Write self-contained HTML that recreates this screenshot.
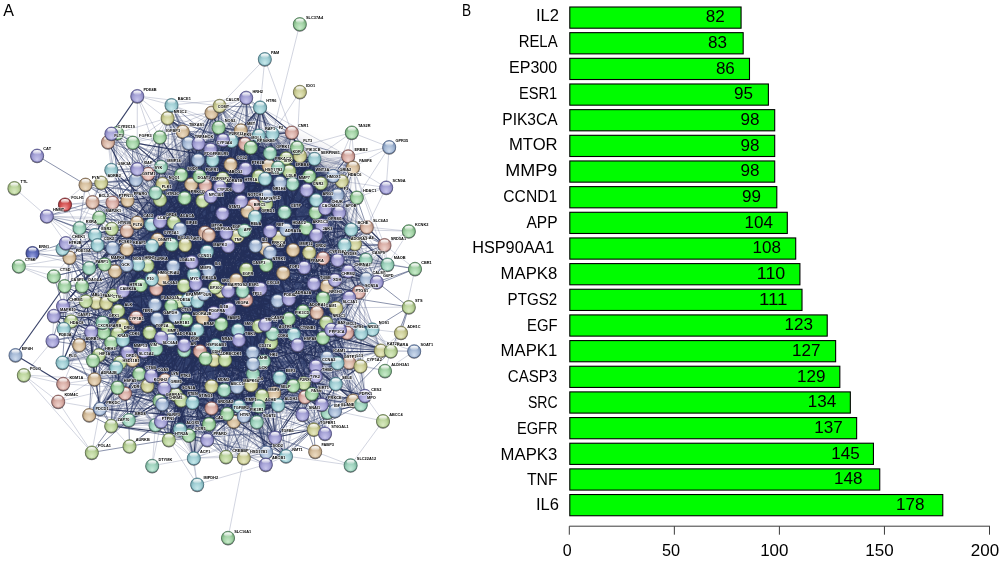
<!DOCTYPE html>
<html lang="en"><head><meta charset="utf-8"><title>PPI network and hub genes</title>
<style>
html,body{margin:0;padding:0;background:#fff;}
body{width:1000px;height:562px;overflow:hidden;font-family:"Liberation Sans",Arial,sans-serif;}
svg{display:block;will-change:transform;}
.lb{font-size:3.9px;font-weight:bold;fill:#000;stroke:#fff;stroke-width:1.25px;stroke-opacity:.72;paint-order:stroke;stroke-linejoin:round;}
.cat{font-size:17.4px;fill:#000;text-anchor:end;}
.val{font-size:17.1px;fill:#000;text-anchor:end;}
.tick{font-size:16.2px;fill:#000;text-anchor:middle;}
.panel{font-size:17.2px;fill:#000;}
</style></head><body>
<svg width="1000" height="562" viewBox="0 0 1000 562" font-family="'Liberation Sans', Arial, sans-serif">
<defs>
<radialGradient id="gp" cx="50%" cy="56%" r="58%" fx="50%" fy="82%"><stop offset="0" stop-color="#c8c6ec"/><stop offset=".55" stop-color="#a5a2d6"/><stop offset=".9" stop-color="#7d7bb6"/><stop offset="1" stop-color="#6361a0"/></radialGradient>
<radialGradient id="gb" cx="50%" cy="56%" r="58%" fx="50%" fy="82%"><stop offset="0" stop-color="#d0ddee"/><stop offset=".55" stop-color="#a6bad6"/><stop offset=".9" stop-color="#7c93b6"/><stop offset="1" stop-color="#6079a0"/></radialGradient>
<radialGradient id="gc" cx="50%" cy="56%" r="58%" fx="50%" fy="82%"><stop offset="0" stop-color="#c8e9ec"/><stop offset=".55" stop-color="#a0ced4"/><stop offset=".9" stop-color="#74a9b1"/><stop offset="1" stop-color="#569199"/></radialGradient>
<radialGradient id="gg" cx="50%" cy="56%" r="58%" fx="50%" fy="82%"><stop offset="0" stop-color="#cbeccd"/><stop offset=".55" stop-color="#a3d3a6"/><stop offset=".9" stop-color="#76ac7a"/><stop offset="1" stop-color="#58925d"/></radialGradient>
<radialGradient id="gG" cx="50%" cy="56%" r="58%" fx="50%" fy="82%"><stop offset="0" stop-color="#c6ebdb"/><stop offset=".55" stop-color="#9ed2bd"/><stop offset=".9" stop-color="#72ab94"/><stop offset="1" stop-color="#559178"/></radialGradient>
<radialGradient id="gl" cx="50%" cy="56%" r="58%" fx="50%" fy="82%"><stop offset="0" stop-color="#dbebc4"/><stop offset=".55" stop-color="#bcd59d"/><stop offset=".9" stop-color="#94ad71"/><stop offset="1" stop-color="#799354"/></radialGradient>
<radialGradient id="go" cx="50%" cy="56%" r="58%" fx="50%" fy="82%"><stop offset="0" stop-color="#e8eac4"/><stop offset=".55" stop-color="#cdcf98"/><stop offset=".9" stop-color="#a8a970"/><stop offset="1" stop-color="#8f9056"/></radialGradient>
<radialGradient id="gt" cx="50%" cy="56%" r="58%" fx="50%" fy="82%"><stop offset="0" stop-color="#edddc4"/><stop offset=".55" stop-color="#d6bf9e"/><stop offset=".9" stop-color="#af9673"/><stop offset="1" stop-color="#957b56"/></radialGradient>
<radialGradient id="gr" cx="50%" cy="56%" r="58%" fx="50%" fy="82%"><stop offset="0" stop-color="#efd5cf"/><stop offset=".55" stop-color="#d9aea6"/><stop offset=".9" stop-color="#b5857d"/><stop offset="1" stop-color="#9d6961"/></radialGradient>
<radialGradient id="gs" cx="50%" cy="56%" r="58%" fx="50%" fy="82%"><stop offset="0" stop-color="#efdacf"/><stop offset=".55" stop-color="#d9b7a6"/><stop offset=".9" stop-color="#b48c7b"/><stop offset="1" stop-color="#9b705f"/></radialGradient>
<radialGradient id="gR" cx="50%" cy="56%" r="58%" fx="50%" fy="82%"><stop offset="0" stop-color="#ec9a9a"/><stop offset=".55" stop-color="#d55252"/><stop offset=".9" stop-color="#a93a3a"/><stop offset="1" stop-color="#8c2a2a"/></radialGradient>
<radialGradient id="gD" cx="50%" cy="56%" r="58%" fx="50%" fy="82%"><stop offset="0" stop-color="#9fa9e2"/><stop offset=".55" stop-color="#5c6aba"/><stop offset=".9" stop-color="#445097"/><stop offset="1" stop-color="#343e80"/></radialGradient>
<radialGradient id="core" cx="50%" cy="50%" r="50%"><stop offset="0" stop-color="#1e2a50" stop-opacity="1"/><stop offset=".74" stop-color="#1e2a50" stop-opacity=".97"/><stop offset=".88" stop-color="#1e2a50" stop-opacity=".5"/><stop offset="1" stop-color="#1e2a50" stop-opacity="0"/></radialGradient>
<filter id="blur" x="-20%" y="-20%" width="140%" height="140%"><feGaussianBlur stdDeviation="3.5"/></filter>
<filter id="blur2" x="-20%" y="-20%" width="140%" height="140%"><feGaussianBlur stdDeviation="7"/></filter>
<linearGradient id="hl" x1="0" y1="0" x2="0" y2="1"><stop offset="0" stop-color="#fff" stop-opacity="1"/><stop offset=".45" stop-color="#fff" stop-opacity=".7"/><stop offset="1" stop-color="#fff" stop-opacity="0"/></linearGradient>
<g id="np"><circle cx="0" cy=".9" r="6.75" fill="#33333a" fill-opacity=".7"/><circle r="6.55" fill="url(#gp)" stroke="#4a4980" stroke-width=".7"/><ellipse cx="0" cy="-3.2" rx="4.0" ry="2.3" fill="url(#hl)"/></g>
<g id="nb"><circle cx="0" cy=".9" r="6.75" fill="#33333a" fill-opacity=".7"/><circle r="6.55" fill="url(#gb)" stroke="#485b80" stroke-width=".7"/><ellipse cx="0" cy="-3.2" rx="4.0" ry="2.3" fill="url(#hl)"/></g>
<g id="nc"><circle cx="0" cy=".9" r="6.75" fill="#33333a" fill-opacity=".7"/><circle r="6.55" fill="url(#gc)" stroke="#406d7b" stroke-width=".7"/><ellipse cx="0" cy="-3.2" rx="4.0" ry="2.3" fill="url(#hl)"/></g>
<g id="ng"><circle cx="0" cy=".9" r="6.75" fill="#33333a" fill-opacity=".7"/><circle r="6.55" fill="url(#gg)" stroke="#426e4e" stroke-width=".7"/><ellipse cx="0" cy="-3.2" rx="4.0" ry="2.3" fill="url(#hl)"/></g>
<g id="nG"><circle cx="0" cy=".9" r="6.75" fill="#33333a" fill-opacity=".7"/><circle r="6.55" fill="url(#gG)" stroke="#406d62" stroke-width=".7"/><ellipse cx="0" cy="-3.2" rx="4.0" ry="2.3" fill="url(#hl)"/></g>
<g id="nl"><circle cx="0" cy=".9" r="6.75" fill="#33333a" fill-opacity=".7"/><circle r="6.55" fill="url(#gl)" stroke="#5b6e47" stroke-width=".7"/><ellipse cx="0" cy="-3.2" rx="4.0" ry="2.3" fill="url(#hl)"/></g>
<g id="no"><circle cx="0" cy=".9" r="6.75" fill="#33333a" fill-opacity=".7"/><circle r="6.55" fill="url(#go)" stroke="#6b6c48" stroke-width=".7"/><ellipse cx="0" cy="-3.2" rx="4.0" ry="2.3" fill="url(#hl)"/></g>
<g id="nt"><circle cx="0" cy=".9" r="6.75" fill="#33333a" fill-opacity=".7"/><circle r="6.55" fill="url(#gt)" stroke="#705c48" stroke-width=".7"/><ellipse cx="0" cy="-3.2" rx="4.0" ry="2.3" fill="url(#hl)"/></g>
<g id="nr"><circle cx="0" cy=".9" r="6.75" fill="#33333a" fill-opacity=".7"/><circle r="6.55" fill="url(#gr)" stroke="#764f51" stroke-width=".7"/><ellipse cx="0" cy="-3.2" rx="4.0" ry="2.3" fill="url(#hl)"/></g>
<g id="ns"><circle cx="0" cy=".9" r="6.75" fill="#33333a" fill-opacity=".7"/><circle r="6.55" fill="url(#gs)" stroke="#74544f" stroke-width=".7"/><ellipse cx="0" cy="-3.2" rx="4.0" ry="2.3" fill="url(#hl)"/></g>
<g id="nR"><circle cx="0" cy=".9" r="6.75" fill="#33333a" fill-opacity=".7"/><circle r="6.55" fill="url(#gR)" stroke="#692028" stroke-width=".7"/><ellipse cx="0" cy="-3.2" rx="4.0" ry="2.3" fill="url(#hl)"/></g>
<g id="nD"><circle cx="0" cy=".9" r="6.75" fill="#33333a" fill-opacity=".7"/><circle r="6.55" fill="url(#gD)" stroke="#272e68" stroke-width=".7"/><ellipse cx="0" cy="-3.2" rx="4.0" ry="2.3" fill="url(#hl)"/></g>
</defs>
<rect width="1000" height="562" fill="#fff"/>
<g id="panelA">
<path d="M190.0 140.0C203.7 135.7 231.7 131.7 250.0 132.0C268.3 132.3 285.8 137.3 300.0 142.0C314.2 146.7 327.5 152.0 335.0 160.0C342.5 168.0 343.3 177.5 345.0 190.0C346.7 202.5 346.7 220.8 345.0 235.0C343.3 249.2 337.5 262.5 335.0 275.0C332.5 287.5 332.2 298.3 330.0 310.0C327.8 321.7 326.2 334.2 322.0 345.0C317.8 355.8 312.8 366.7 305.0 375.0C297.2 383.3 286.7 391.5 275.0 395.0C263.3 398.5 249.2 396.0 235.0 396.0C220.8 396.0 204.2 396.7 190.0 395.0C175.8 393.3 160.8 390.5 150.0 386.0C139.2 381.5 132.0 375.7 125.0 368.0C118.0 360.3 111.5 351.3 108.0 340.0C104.5 328.7 102.3 312.0 104.0 300.0C105.7 288.0 113.3 278.0 118.0 268.0C122.7 258.0 129.2 250.5 132.0 240.0C134.8 229.5 132.0 215.0 135.0 205.0C138.0 195.0 144.5 187.8 150.0 180.0C155.5 172.2 161.3 164.7 168.0 158.0C174.7 151.3 176.3 144.3 190.0 140.0Z" fill="#1e2a50" fill-opacity=".18" filter="url(#blur2)"/>
<path d="M200.0 150.0C210.5 146.3 230.0 144.7 245.0 145.0C260.0 145.3 277.5 148.5 290.0 152.0C302.5 155.5 313.7 160.5 320.0 166.0C326.3 171.5 326.8 174.0 328.0 185.0C329.2 196.0 331.3 222.3 327.0 232.0C322.7 241.7 308.0 238.3 302.0 243.0C296.0 247.7 293.8 253.0 291.0 260.0C288.2 267.0 287.8 277.5 285.0 285.0C282.2 292.5 277.3 297.5 274.0 305.0C270.7 312.5 267.7 322.5 265.0 330.0C262.3 337.5 262.2 344.0 258.0 350.0C253.8 356.0 247.2 362.3 240.0 366.0C232.8 369.7 225.0 371.3 215.0 372.0C205.0 372.7 190.8 371.7 180.0 370.0C169.2 368.3 158.0 366.3 150.0 362.0C142.0 357.7 137.0 351.0 132.0 344.0C127.0 337.0 122.5 328.2 120.0 320.0C117.5 311.8 115.3 302.5 117.0 295.0C118.7 287.5 125.7 282.5 130.0 275.0C134.3 267.5 140.3 260.3 143.0 250.0C145.7 239.7 142.7 221.3 146.0 213.0C149.3 204.7 158.7 204.7 163.0 200.0C167.3 195.3 168.8 190.5 172.0 185.0C175.2 179.5 177.3 172.8 182.0 167.0C186.7 161.2 189.5 153.7 200.0 150.0Z" fill="#1e2a50" filter="url(#blur)"/>
<path d="M258.8 406.2L237.0 387.0M211.5 386.2L252.5 352.5M213.8 312.7L165.0 380.0M181.1 174.8L266.8 195.5M213.8 312.7L193.8 274.5M149.5 332.5L175.0 316.2M260.5 288.8L151.8 279.2M288.8 299.2L225.0 360.0M278.2 405.0L173.8 222.5M181.1 174.8L202.5 200.9M221.2 291.2L253.0 363.8M351.2 229.5L286.2 229.5M229.2 309.0L297.5 345.0M278.0 167.5L205.0 232.5M208.8 235.0L197.3 301.5M337.5 260.0L221.2 291.2M246.2 300.0L340.0 330.0M306.2 228.2L173.8 222.5M266.2 265.0L195.8 283.8M151.2 224.5L202.5 317.5M222.7 178.4L191.8 262.0M210.5 149.4L135.8 179.7M215.2 287.2L253.0 363.8M279.5 377.5L192.5 402.5M143.8 351.2L151.2 375.8M344.5 245.0L270.0 252.5M151.8 279.2L155.5 425.0M226.2 232.8L208.8 270.6M353.0 167.5L283.2 273.0M135.8 179.7L184.6 198.0M198.6 143.5L266.2 265.0M277.5 300.8L179.8 301.2M162.5 183.8L183.8 285.6M222.5 213.5L222.7 178.4M266.2 203.8L260.5 288.8M335.0 280.0L221.2 324.0M171.2 305.8L175.0 316.2M85.8 301.2L102.5 322.5M293.8 334.4L237.0 387.0M136.2 317.5L202.5 317.5M309.2 252.5L297.5 345.0M238.8 340.0L181.2 400.4M230.6 164.4L226.2 232.8M246.2 300.0L293.2 385.8M266.2 265.0L186.2 320.0M306.2 228.2L215.2 287.2M280.0 182.5L283.2 273.0M168.8 439.8L155.0 304.5M284.5 212.3L270.0 252.5M293.2 385.8L266.2 452.2M265.5 248.8L266.2 265.0M221.2 324.0L215.5 345.0M213.8 312.7L164.2 388.2M117.3 133.0L205.0 232.5M213.9 360.0L120.0 362.5M252.5 352.5L192.5 402.5M151.8 279.2L123.0 340.0M183.8 285.6L149.5 332.5M230.6 164.4L195.8 283.8M207.0 251.5L171.2 305.8M222.5 213.5L303.0 311.2M222.7 178.4L79.5 228.0M286.0 456.0L243.8 457.8M228.2 246.0L191.8 262.0M247.5 211.3L278.8 237.5M246.2 300.0L180.0 229.0M266.2 265.0L239.0 406.2M258.8 176.2L126.8 249.2M215.5 345.0L192.5 402.5M139.2 373.8L159.5 400.8M123.0 340.0L165.0 380.0M218.6 127.5L140.8 285.2M156.2 348.8L159.5 400.8M340.0 330.0L243.8 416.0M335.0 280.0L117.5 333.8M270.0 252.5L252.5 352.5M305.0 397.0L197.3 301.5M316.8 312.5L271.2 342.5M202.5 200.9L151.8 279.2M230.6 164.4L278.0 167.5M228.2 246.0L157.5 239.5M270.0 153.0L222.7 178.4M277.5 300.8L193.8 274.5M224.2 390.0L117.5 387.5M168.8 439.8L112.5 248.0M263.8 361.2L179.8 301.2M212.6 160.0L223.0 140.0M246.2 300.0L185.0 245.0M288.8 299.2L256.8 422.0M222.7 178.4L82.0 286.0M286.2 158.2L255.5 245.8M260.5 288.8L184.2 345.0M326.8 286.2L237.5 236.2M186.2 320.0L197.5 330.0M348.2 271.2L272.5 333.5M286.2 229.5L180.0 229.0M140.8 285.2L123.2 290.8M283.2 273.0L229.2 309.0M213.9 360.0L193.8 458.2M241.2 201.2L255.5 245.8M250.8 147.5L266.2 265.0M245.5 168.8L238.2 186.2M270.0 252.5L313.8 283.8M270.0 231.2L255.5 245.8M247.5 211.3L205.4 185.4M321.8 225.0L255.5 245.8M215.2 287.2L193.8 458.2M272.5 333.5L157.0 318.8M211.5 386.2L184.2 345.0M231.6 140.9L210.7 196.3M253.0 373.8L191.8 262.0M325.3 208.4L228.2 291.2M240.8 130.2L268.7 165.6M193.8 274.5L98.8 355.0M266.2 265.0L213.9 360.0M279.5 377.5L253.0 373.8M111.8 228.8L155.0 304.5M270.0 231.2L331.2 329.6M283.2 273.0L151.8 279.2M266.2 203.8L311.8 393.8M250.8 147.5L222.5 213.5M335.0 280.0L253.0 373.8M272.5 333.5L197.5 330.0M155.5 192.7L82.0 286.0M132.5 360.0L116.2 367.5M260.1 107.4L151.8 279.2M117.5 333.8L127.5 352.5M127.5 352.5L186.2 320.0M211.5 112.7L179.8 301.2M122.5 325.0L175.0 316.2M270.0 153.0L315.6 212.5M323.0 298.2L208.8 270.6M173.2 266.2L186.2 320.0M265.0 178.8L123.2 290.8M263.8 361.2L213.9 360.0M315.6 212.5L160.0 221.6M236.2 280.0L252.5 352.5M263.8 361.2L202.5 317.5M255.5 245.8L197.5 330.0M266.2 265.0L236.2 280.0M180.0 229.0L162.3 404.2M155.5 192.7L98.8 355.0M253.8 205.2L222.7 178.4M326.8 286.2L260.5 288.8M293.0 250.0L286.2 229.5M246.2 300.0L258.8 326.2M207.0 251.5L215.5 345.0M348.2 156.2L316.2 235.0M360.5 366.2L315.8 366.2M222.5 213.5L335.0 280.0M64.6 286.0L96.2 302.5M286.2 158.2L245.0 143.8M224.2 390.0L213.9 360.0M347.2 332.8L349.2 362.5M292.5 183.8L246.2 269.5M305.0 397.0L263.8 361.2M228.2 246.0L208.8 235.0M340.0 330.0L156.2 288.8M270.0 252.5L226.2 232.8M258.8 176.2L265.5 248.8M202.5 200.9L246.2 269.5M202.5 317.5L168.0 328.7M148.2 173.8L187.5 300.0M155.0 304.5L171.2 305.8M85.5 184.6L231.6 140.9M199.5 176.2L223.0 140.0M198.1 160.0L240.8 130.2M116.2 367.5L187.5 300.0M193.8 274.5L175.8 394.5M251.2 385.0L215.5 345.0M149.5 332.5L197.5 330.0M292.5 183.8L183.8 285.6M289.2 171.2L222.7 178.4M208.8 270.6L239.0 406.2M348.2 156.2L325.3 208.4M237.0 387.0L162.3 404.2M203.8 293.8L165.0 380.0M184.2 345.0L165.0 380.0M180.0 429.4L197.3 301.5M170.8 340.0L175.0 316.2M272.5 333.5L207.0 251.5M327.0 357.5L185.0 245.0M210.7 196.3L155.5 192.7M184.2 345.0L128.8 420.0M241.2 201.2L244.5 230.4M325.3 208.4L247.5 211.3M255.5 245.8L326.8 286.2M270.0 153.0L313.8 283.8M188.6 143.0L126.8 265.0M221.2 324.0L262.0 395.8M316.2 200.0L323.0 258.2M205.0 232.5L63.0 305.8M213.8 312.7L151.8 279.2M183.8 285.6L127.5 352.5M195.8 283.8L143.8 351.2M228.2 291.2L136.2 317.5M355.0 243.8L266.2 265.0M231.6 140.9L191.8 262.0M151.2 224.5L184.6 198.0M270.0 153.0L208.8 235.0M303.0 311.2L229.2 309.0M245.5 168.8L138.2 264.5M266.2 265.0L348.2 271.2M293.8 334.4L293.2 385.8M349.2 362.5L180.0 429.4M313.8 283.8L238.0 330.0M207.0 251.5L120.0 362.5M258.8 326.2L123.2 290.8M275.0 437.5L253.0 373.8M313.8 283.8L208.8 270.6M123.2 290.8L202.5 317.5M272.5 333.5L268.7 165.6M238.2 186.2L222.7 178.4M208.8 235.0L268.7 165.6M278.0 167.5L316.8 312.5M213.9 360.0L149.5 332.5M323.0 258.2L208.8 270.6M207.2 439.8L274.2 393.2M265.5 248.8L213.8 312.7M314.5 158.8L205.4 185.4M270.0 231.2L236.2 280.0M155.5 192.7L183.8 285.6M246.2 97.7L278.8 237.5M309.2 252.5L221.2 324.0M247.5 211.3L279.5 377.5M237.0 387.0L205.5 358.5M284.5 212.3L309.2 252.5M147.5 265.5L197.5 330.0M344.5 245.0L197.5 330.0M203.8 293.8L225.0 360.0M180.0 229.0L126.8 249.2M241.2 201.2L160.0 221.6M185.0 245.0L140.8 285.2M274.2 393.2L192.5 402.5M313.8 283.8L303.0 311.2M152.0 245.8L179.8 301.2M185.0 245.0L200.0 351.2M246.2 300.0L244.5 230.4M241.2 201.2L221.2 291.2M156.2 288.8L186.2 320.0M236.2 280.0L221.2 324.0M258.8 176.2L323.0 298.2M266.2 265.0L253.0 363.8M156.2 288.8L170.8 340.0M323.0 258.2L162.5 278.8M289.2 171.2L238.2 186.2M260.5 288.8L197.3 301.5M198.6 143.5L181.1 174.8M266.2 265.0L316.8 312.5M180.0 229.0L184.2 350.5M171.8 244.5L127.5 352.5M246.2 269.5L174.2 381.8M181.1 174.8L113.5 295.4M266.2 203.8L208.8 235.0M255.0 216.8L184.6 198.0M265.0 178.8L246.2 300.0M306.6 190.0L255.0 216.8M236.2 280.0L115.0 271.2M215.5 345.0L175.0 316.2M266.2 203.8L270.0 252.5M211.5 408.2L200.0 351.2M191.8 262.0L168.0 328.7M306.2 228.2L270.0 252.5M260.1 107.4L306.6 190.0M222.7 178.4L185.0 245.0M95.0 235.0L126.8 265.0M236.2 280.0L349.2 362.5M271.2 342.5L200.0 351.2M238.0 330.0L193.8 274.5M260.5 288.8L92.5 202.0M239.0 406.2L202.5 317.5M151.2 375.8L168.0 328.7M239.0 406.2L151.2 375.8M309.2 176.2L236.2 280.0M137.2 168.9L138.2 264.5M280.0 182.5L270.0 231.2M207.0 251.5L238.8 340.0M255.0 216.8L220.0 186.8M274.2 393.2L297.5 345.0M337.5 195.0L213.9 360.0M224.2 390.0L215.5 345.0M266.2 265.0L192.5 402.5M228.2 291.2L149.5 332.5M117.3 133.0L111.3 169.8M270.0 252.5L288.8 299.2M316.2 235.0L278.8 237.5M222.5 213.5L268.7 165.6M188.6 143.0L230.6 164.4M333.2 175.8L284.5 212.3M270.0 231.2L187.5 300.0M138.2 264.5L151.2 375.8M171.2 305.8L165.0 380.0M215.2 287.2L187.5 300.0M208.8 235.0L191.8 262.0M241.2 201.2L155.0 304.5M289.2 171.2L323.0 258.2M286.0 456.0L251.2 385.0M351.2 229.5L358.8 292.0M286.2 229.5L265.0 324.6M242.5 291.0L266.2 452.2M246.2 269.5L208.8 235.0M132.5 360.0L170.8 340.0M224.2 390.0L161.0 421.5M147.5 265.5L197.3 301.5M260.5 288.8L331.2 329.6M246.2 300.0L253.0 363.8M151.2 224.5L112.5 248.0M260.1 107.4L246.2 269.5M159.8 137.2L198.6 143.5M238.0 330.0L139.2 373.8M210.7 196.3L147.5 265.5M238.2 186.2L215.2 287.2M242.5 291.0L197.5 330.0M195.8 283.8L192.5 402.5M222.5 213.5L265.0 324.6M309.2 176.2L270.0 231.2M152.0 245.8L173.2 266.2M167.6 118.0L253.0 363.8M218.6 127.5L198.6 143.5M180.0 229.0L186.2 320.0M322.9 337.9L349.2 362.5M231.6 140.9L96.2 302.5M335.0 280.0L164.2 388.2M284.5 212.3L213.9 360.0M213.8 312.7L113.5 295.4M353.0 167.5L320.8 183.2M255.0 216.8L246.2 300.0M219.6 105.8L205.0 232.5M260.5 288.8L155.5 425.0M213.8 312.7L162.5 278.8M349.2 297.5L161.2 337.5M243.8 416.0L170.8 340.0M243.8 457.8L211.5 408.2M242.5 291.0L229.2 309.0M316.2 200.0L315.6 212.5M323.0 258.2L266.2 265.0M326.2 322.5L278.2 405.0M355.0 243.8L239.0 406.2M174.2 381.8L197.3 301.5M361.2 333.0L168.0 328.7M221.2 324.0L227.2 413.8M173.2 266.2L191.8 262.0M181.1 174.8L180.0 229.0M265.0 324.6L140.8 285.2M113.5 295.4L127.5 352.5M247.5 211.3L157.5 239.5M193.8 274.5L93.0 360.5M151.8 279.2L117.5 333.8M160.0 199.7L96.2 302.5M213.8 312.7L184.2 345.0M286.2 229.5L304.2 267.5M309.2 252.5L258.8 326.2M255.0 216.8L208.8 235.0M205.5 358.5L181.2 400.4M316.2 235.0L246.2 269.5M195.8 283.8L200.0 351.2M199.5 176.2L173.8 222.5M228.2 291.2L151.2 375.8M122.5 325.0L103.8 332.5M270.0 231.2L160.0 221.6M123.0 340.0L171.2 305.8M265.0 324.6L209.0 424.0M221.2 324.0L156.2 288.8M293.8 334.4L159.5 400.8M258.8 176.2L242.5 291.0M207.0 251.5L180.0 229.0M272.5 333.5L184.2 345.0M108.0 142.0L237.5 236.2M226.2 232.8L186.2 320.0M358.8 292.0L187.5 300.0M322.9 337.9L226.2 232.8M265.5 248.8L209.0 424.0M260.5 288.8L225.0 360.0M297.5 345.0L200.0 351.2M263.8 361.2L123.2 290.8M258.8 176.2L266.8 195.5M69.5 257.5L64.6 286.0M223.0 140.0L208.8 235.0M313.8 283.8L213.8 312.7M349.2 297.5L288.8 318.8M278.0 167.5L255.5 245.8M238.2 186.2L221.2 324.0M316.2 200.0L316.2 235.0M306.2 228.2L208.8 235.0M220.0 186.8L203.8 293.8M211.5 112.7L127.5 200.3M233.8 421.5L262.0 395.8M272.5 333.5L360.5 366.2M221.2 291.2L205.5 358.5M237.5 236.2L152.0 245.8M227.2 413.8L239.0 406.2M253.8 205.2L221.2 291.2M253.0 373.8L174.2 381.8M313.8 283.8L361.2 333.0M293.0 250.0L215.5 345.0M316.2 235.0L270.0 252.5M233.8 421.5L197.5 330.0M265.5 248.8L195.8 283.8M205.5 358.5L192.5 402.5M244.5 230.4L208.8 235.0M207.0 251.5L162.3 404.2M222.5 213.5L221.2 324.0M205.0 232.5L197.5 330.0M341.8 181.2L228.2 291.2M161.0 166.8L115.0 271.2M270.0 231.2L288.8 299.2M198.1 160.0L197.3 301.5M161.0 166.8L197.3 301.5M246.2 300.0L184.6 198.0M205.0 232.5L181.2 400.4M265.0 324.6L303.8 383.2M203.8 293.8L112.5 248.0M286.2 229.5L208.8 235.0M195.8 283.8L157.0 318.8M266.2 265.0L112.5 248.0M239.0 406.2L252.5 352.5M265.0 178.8L278.0 167.5M149.5 332.5L155.0 304.5M151.8 279.2L200.0 351.2M272.5 333.5L274.2 393.2M260.1 107.4L286.2 229.5M226.2 232.8L183.8 285.6M270.0 231.2L203.8 293.8M250.8 147.5L302.5 414.5M159.8 137.2L157.5 239.5M265.0 178.8L271.2 342.5M135.8 179.7L207.0 251.5M202.5 200.9L195.8 283.8M151.8 279.2L197.3 301.5M137.2 168.9L255.0 216.8M303.8 383.2L157.5 239.5M258.8 326.2L239.0 406.2M100.0 408.8L94.5 379.2M238.8 340.0L185.0 245.0M229.2 309.0L303.8 383.2M260.5 288.8L213.9 360.0M355.0 243.8L244.5 230.4M361.2 333.0L238.8 340.0M337.5 260.0L207.0 251.5M183.8 285.6L197.5 330.0M208.8 235.0L175.8 394.5M258.8 135.5L237.5 236.2M180.0 229.0L193.8 274.5M260.5 288.8L197.5 330.0M376.8 282.0L237.5 236.2M211.5 386.2L271.2 342.5M260.5 288.8L117.5 333.8M366.8 227.0L336.2 308.0M284.5 212.3L277.5 300.8M321.8 225.0L186.2 320.0M167.6 118.0L270.0 153.0M208.8 270.6L162.3 404.2M183.8 285.6L192.5 402.5M306.6 190.0L288.8 299.2M195.8 283.8L197.3 301.5M288.8 318.8L293.8 334.4M113.5 295.4L197.5 330.0M372.5 329.4L208.8 270.6M243.8 416.0L258.8 406.2M303.0 311.2L228.2 246.0M224.2 390.0L170.8 340.0M224.2 390.0L128.8 420.0M288.8 299.2L215.2 287.2M215.2 287.2L185.0 245.0M315.6 212.5L278.8 237.5M255.5 245.8L221.2 324.0M270.0 252.5L213.8 312.7M313.8 429.4L202.5 317.5M265.5 248.8L316.8 312.5M222.5 213.5L208.8 270.6M293.8 334.4L337.5 363.0M286.2 229.5L137.0 222.5M255.5 245.8L278.2 405.0M288.8 299.2L143.8 351.2M215.5 345.0L297.5 345.0M331.2 329.6L197.3 301.5M212.6 160.0L191.8 262.0M284.5 212.3L243.8 416.0M208.8 270.6L123.0 340.0M208.8 270.6L71.2 321.2M229.2 309.0L117.5 333.8M291.8 132.5L270.0 231.2M210.7 196.3L168.0 328.7M279.5 377.5L321.8 404.5M246.2 300.0L224.2 390.0M293.8 334.4L331.2 329.6M325.3 208.4L315.6 212.5M266.2 203.8L183.8 285.6M244.5 230.4L207.0 251.5M198.6 143.5L126.8 249.2M147.5 385.8L125.0 393.4M309.2 252.5L246.2 269.5M365.8 259.5L202.5 317.5M152.0 245.8L162.5 278.8M193.8 274.5L64.6 286.0M140.8 285.2L53.8 315.8M222.7 178.4L237.5 236.2M208.8 235.0L185.0 245.0M161.2 337.5L175.8 394.5M238.0 330.0L157.5 239.5M270.0 231.2L277.5 300.8M284.5 212.3L253.8 205.2M255.0 216.8L221.2 324.0M337.5 363.0L180.0 429.4M323.0 258.2L315.8 366.2M215.2 287.2L197.5 330.0M335.0 280.0L215.2 287.2M171.5 105.0L240.8 130.2M344.5 245.0L335.0 280.0M260.5 288.8L208.8 235.0M258.8 176.2L333.2 175.8M265.0 324.6L252.5 352.5M111.8 228.8L89.2 268.0M219.6 105.8L258.8 176.2M205.5 358.5L122.5 325.0M266.2 265.0L229.2 309.0M278.8 237.5L228.2 291.2M255.5 245.8L186.2 320.0M152.0 245.8L112.5 248.0M205.4 185.4L147.5 265.5M91.2 331.8L197.3 301.5M303.0 311.2L213.9 360.0M337.5 195.0L376.8 282.0M270.0 231.2L208.8 270.6M98.8 355.0L197.5 330.0M220.0 186.8L260.5 288.8M221.2 291.2L151.8 279.2M245.5 168.8L208.8 235.0M306.2 228.2L161.2 337.5M262.0 395.8L156.2 288.8M205.0 232.5L162.5 278.8M366.8 227.0L184.6 198.0M241.2 201.2L316.2 235.0M237.0 387.0L238.8 340.0M173.2 266.2L170.8 340.0M291.8 132.5L265.5 248.8M205.5 358.5L171.2 305.8M246.2 300.0L200.0 351.2M126.8 230.8L183.8 285.6M203.8 293.8L187.5 300.0M89.2 268.0L157.0 318.8M205.4 185.4L335.0 280.0M245.5 168.8L222.5 213.5M210.7 196.3L162.5 278.8M246.2 300.0L305.0 397.0M155.0 304.5L168.0 328.7M180.0 429.4L202.5 317.5M255.5 245.8L303.0 311.2M304.2 267.5L277.5 300.8M356.8 197.5L205.4 185.4M283.2 273.0L365.0 395.8M244.5 230.4L175.0 316.2M218.6 127.5L183.8 285.6M210.7 196.3L195.8 283.8M230.6 164.4L268.7 165.6M98.8 355.0L168.0 328.7M230.6 164.4L151.8 279.2M221.2 291.2L187.5 300.0M193.8 274.5L136.2 317.5M279.5 377.5L175.0 316.2M283.2 273.0L62.5 362.5M221.2 291.2L185.0 245.0M173.8 222.5L175.0 316.2M252.5 352.5L213.9 360.0M147.5 265.5L123.0 340.0M229.2 309.0L152.0 245.8M89.2 415.0L117.5 387.5M283.2 273.0L205.0 232.5M260.5 288.8L149.5 332.5M272.5 333.5L139.2 373.8M138.2 264.5L103.8 332.5M326.2 322.5L200.0 351.2M173.8 222.5L171.2 305.8M211.5 112.7L286.2 229.5M337.5 195.0L286.2 229.5M171.8 244.5L162.5 278.8M326.8 286.2L349.2 297.5M255.5 245.8L171.2 305.8M237.0 387.0L225.0 360.0M303.8 383.2L305.0 397.0M215.2 287.2L293.2 385.8M238.2 186.2L173.8 222.5M236.2 280.0L200.0 351.2M245.0 143.8L265.0 178.8M205.5 358.5L175.8 394.5M205.4 185.4L155.0 304.5M293.2 385.8L237.0 387.0M293.2 385.8L271.2 342.5M210.7 196.3L228.2 246.0M313.8 283.8L313.8 429.4M126.8 265.0L191.8 262.0M215.5 345.0L271.2 342.5M209.0 424.0L185.0 245.0M126.8 265.0L156.2 288.8M242.5 291.0L195.8 283.8M205.0 232.5L171.2 305.8M117.5 387.5L128.8 420.0M255.5 245.8L304.2 267.5M180.0 429.4L192.5 402.5M246.2 269.5L138.2 264.5M151.8 279.2L195.8 283.8M253.0 363.8L186.2 320.0M320.8 183.2L215.2 287.2M245.5 168.8L208.8 270.6M260.5 288.8L293.8 334.4M162.5 278.8L202.5 317.5M123.2 290.8L197.3 301.5M195.8 283.8L187.5 300.0M233.8 421.5L195.8 283.8M126.8 265.0L162.5 278.8M184.2 350.5L181.2 400.4M207.2 439.8L168.8 439.8M260.1 107.4L253.8 205.2M250.8 147.5L278.0 167.5M238.0 330.0L263.8 361.2M198.6 143.5L250.8 147.5M245.5 168.8L265.5 248.8M111.8 228.8L171.8 244.5M111.8 228.8L179.8 301.2M265.0 178.8L270.0 231.2M283.2 273.0L168.0 328.7M266.2 265.0L349.2 297.5M311.8 393.8L239.0 406.2M174.2 381.8L168.0 328.7M108.0 142.0L230.6 164.4M126.8 249.2L191.8 262.0M175.0 316.2L197.5 330.0M181.1 174.8L286.2 229.5M241.2 201.2L170.8 340.0M188.6 143.0L246.2 269.5M171.5 105.0L160.0 221.6M162.5 183.8L193.8 274.5M222.5 213.5L244.5 230.4M215.5 345.0L104.5 264.2M239.0 406.2L164.2 388.2M242.5 291.0L165.0 380.0M111.2 342.5L161.2 337.5M137.2 168.9L245.0 143.8M223.0 140.0L237.5 236.2M162.5 183.8L250.8 147.5M152.0 245.8L126.8 265.0M157.0 318.8L164.2 388.2M246.2 300.0L187.5 300.0M265.5 248.8L303.0 311.2M283.2 273.0L123.2 290.8M336.2 308.0L111.2 342.5M156.2 288.8L183.8 285.6M265.0 178.8L265.5 248.8M278.8 237.5L122.5 325.0M265.0 178.8L266.2 265.0M238.8 340.0L147.5 385.8M170.8 340.0L164.2 388.2M193.8 274.5L184.2 345.0M198.1 160.0L265.5 248.8M221.2 324.0L228.2 246.0M207.2 439.8L263.8 361.2M222.7 178.4L272.5 333.5M265.5 248.8L288.8 299.2M266.8 195.5L260.5 288.8M293.0 250.0L208.8 235.0M173.2 266.2L268.7 165.6M314.5 158.8L247.5 211.3M322.9 337.9L327.0 357.5M280.0 182.5L309.2 252.5M246.2 269.5L185.0 245.0M220.0 186.8L137.0 222.5M229.2 309.0L187.5 300.0M260.1 107.4L151.2 224.5M258.8 176.2L384.5 245.0M138.2 264.5L151.8 279.2M349.2 297.5L303.8 383.2M139.2 373.8L128.8 420.0M233.8 421.5L91.2 331.8M327.5 412.5L253.0 363.8M228.2 291.2L229.2 309.0M265.5 248.8L191.8 262.0M255.5 245.8L258.8 326.2M241.2 201.2L171.8 244.5M245.0 143.8L237.5 236.2M209.0 424.0L262.0 395.8M293.2 385.8L253.0 373.8M203.8 293.8L327.0 357.5M258.8 326.2L237.0 387.0M265.0 324.6L147.5 385.8M63.8 328.8L117.5 333.8M316.2 235.0L173.8 222.5M315.8 366.2L302.5 414.5M246.2 300.0L288.8 318.8M253.0 363.8L263.8 361.2M242.5 291.0L205.0 232.5M100.0 408.8L171.2 305.8M213.9 360.0L156.2 288.8M384.5 245.0L355.0 243.8M272.5 333.5L193.8 458.2M258.8 135.5L185.0 245.0M265.0 324.6L207.0 251.5M222.5 213.5L255.5 245.8M156.2 348.8L187.5 300.0M251.2 385.0L161.2 337.5M288.8 299.2L288.8 318.8M266.8 195.5L336.2 308.0M213.9 360.0L187.5 300.0M323.0 258.2L211.5 386.2M111.8 228.8L173.2 266.2M212.6 160.0L255.5 245.8M253.0 373.8L157.5 239.5M304.2 267.5L187.5 300.0M213.8 312.7L251.2 385.0M207.0 251.5L151.8 279.2M221.2 324.0L205.5 358.5M156.2 348.8L170.8 340.0M315.6 212.5L349.2 297.5M262.0 395.8L213.9 360.0M191.8 262.0L113.5 295.4M132.5 360.0L162.3 404.2M205.5 358.5L62.5 248.8M253.0 363.8L161.0 421.5M323.0 298.2L252.5 352.5M161.0 421.5L175.0 316.2M208.8 270.6L152.0 245.8M173.2 266.2L202.5 317.5M191.2 184.4L165.0 380.0M173.8 222.5L205.0 232.5M236.2 280.0L183.8 285.6M335.0 280.0L229.2 309.0M246.2 269.5L202.5 317.5M266.2 203.8L222.5 213.5M229.2 309.0L203.8 293.8M102.5 322.5L116.2 367.5M292.5 183.8L187.5 300.0M279.5 377.5L263.8 361.2M215.2 287.2L208.8 235.0M228.2 291.2L187.5 300.0M205.0 232.5L268.7 165.6M188.8 435.4L205.0 232.5M222.5 213.5L243.8 416.0M245.5 168.8L268.7 165.6M205.0 232.5L195.8 283.8M193.8 458.2L125.0 393.4M270.0 252.5L243.8 416.0M171.8 244.5L173.2 266.2M255.0 216.8L237.5 236.2M247.5 211.3L265.5 248.8M284.5 212.3L265.0 324.6M266.8 195.5L321.8 225.0M323.0 258.2L303.0 311.2M152.0 245.8L197.3 301.5M349.2 297.5L293.8 334.4M147.5 265.5L162.5 278.8M246.2 269.5L265.0 324.6M293.8 334.4L380.8 350.5M280.0 182.5L226.2 232.8M185.0 245.0L195.8 283.8M237.5 236.2L126.8 249.2M260.1 107.4L237.5 236.2M143.8 351.2L125.0 393.4M168.8 439.8L184.2 345.0M180.0 229.0L184.6 198.0M309.2 252.5L390.8 351.2M226.0 456.8L188.8 435.4M263.8 361.2L193.8 274.5M266.2 265.0L246.2 300.0M275.0 437.5L147.5 265.5M215.2 287.2L165.0 380.0M89.2 415.0L116.2 367.5M205.5 358.5L165.0 380.0M365.8 259.5L340.0 330.0M255.5 245.8L336.2 308.0M230.6 164.4L309.2 176.2M151.2 375.8L111.2 425.8M238.2 186.2L102.5 322.5M205.0 232.5L69.5 257.5M339.2 212.5L335.0 280.0M222.5 213.5L215.2 287.2M199.5 176.2L208.8 235.0M188.6 143.0L205.4 185.4M215.5 345.0L173.2 266.2M210.7 196.3L278.8 237.5M260.5 288.8L229.2 309.0M210.7 196.3L197.3 301.5M137.0 222.5L171.8 244.5M237.5 236.2L278.2 405.0M211.5 408.2L202.5 317.5M143.8 351.2L197.3 301.5M222.5 213.5L106.2 303.0M230.6 164.4L220.0 186.8M326.8 286.2L226.2 232.8M262.0 395.8L136.2 317.5M270.0 252.5L237.0 387.0M203.8 293.8L209.0 424.0M162.5 278.8L156.2 288.8M246.2 269.5L207.0 251.5M115.0 271.2L151.2 375.8M127.5 352.5L151.2 375.8M253.0 363.8L175.8 394.5M293.0 250.0L173.8 222.5M280.0 182.5L270.0 252.5M349.2 362.5L162.3 404.2M242.5 291.0L293.2 385.8M278.8 237.5L327.0 357.5M277.5 300.8L260.5 288.8M155.0 304.5L165.0 380.0M205.4 185.4L92.5 202.0M160.0 221.6L185.0 245.0M292.5 183.8L365.8 259.5M320.8 183.2L316.2 200.0M202.5 200.9L228.2 246.0M265.5 248.8L147.5 385.8M339.2 212.5L365.8 259.5M126.8 265.0L125.0 393.4M224.2 390.0L193.8 274.5M118.2 310.8L184.2 350.5M272.5 333.5L106.2 303.0M212.6 160.0L135.8 179.7M226.2 232.8L293.2 385.8M325.3 208.4L255.0 216.8M278.0 167.5L202.5 200.9M173.2 266.2L151.8 279.2M266.8 195.5L151.8 279.2M63.8 328.8L122.5 325.0M226.2 232.8L279.5 377.5M326.2 322.5L161.2 337.5M360.8 404.5L157.0 318.8M278.0 167.5L283.2 273.0M327.0 357.5L224.2 390.0M221.2 291.2L221.2 324.0M283.2 273.0L313.8 283.8M258.8 326.2L195.8 283.8M199.5 176.2L245.5 168.8M266.2 265.0L173.8 222.5M137.0 222.5L200.0 351.2M270.0 153.0L325.3 208.4M384.5 245.0L161.0 421.5M238.0 330.0L116.2 367.5M255.5 245.8L340.0 330.0M293.2 385.8L313.8 429.4M306.6 190.0L228.2 246.0M245.5 168.8L266.2 203.8M123.0 340.0L157.0 318.8M123.2 290.8L171.2 305.8M325.3 208.4L210.7 196.3M258.8 135.5L339.2 212.5M286.2 229.5L211.5 386.2M356.8 197.5L304.2 267.5M162.5 278.8L170.8 340.0M313.8 283.8L225.0 360.0M292.5 183.8L244.5 230.4M326.2 322.5L321.8 404.5M270.0 153.0L215.2 287.2M366.2 278.8L360.8 404.5M300.0 156.0L205.4 185.4M222.5 213.5L186.2 320.0M344.5 245.0L283.2 273.0M263.8 361.2L271.2 342.5M314.5 158.8L283.2 273.0M344.5 245.0L380.8 350.5M156.2 288.8L136.2 317.5M309.2 252.5L303.0 311.2M313.8 283.8L157.5 239.5M288.8 318.8L256.8 422.0M337.5 195.0L255.5 245.8M228.2 291.2L127.5 352.5M292.5 183.8L184.2 345.0M260.5 288.8L221.2 291.2M260.5 288.8L288.8 318.8M252.5 352.5L215.5 345.0M211.5 112.7L205.4 185.4M215.2 287.2L173.2 266.2M246.2 269.5L303.8 383.2M215.2 287.2L327.5 412.5M266.2 265.0L224.2 390.0M157.5 239.5L98.8 355.0M136.2 317.5L168.0 328.7M255.0 216.8L151.2 224.5M211.5 112.7L268.7 165.6M238.2 186.2L228.2 246.0M202.5 317.5L184.2 345.0M241.2 201.2L221.2 324.0M213.9 360.0L195.8 283.8M161.0 421.5L181.2 400.4M207.0 251.5L138.2 264.5M195.8 283.8L132.5 360.0M230.6 164.4L215.2 287.2M222.5 213.5L117.5 387.5M205.4 185.4L244.5 230.4M212.6 160.0L207.0 251.5M137.0 222.5L205.0 232.5M202.5 200.9L89.2 268.0M286.2 158.2L243.8 457.8M205.5 358.5L155.0 304.5M208.8 270.6L165.0 380.0M115.0 271.2L175.8 394.5M278.0 167.5L366.2 278.8M347.2 332.8L251.2 385.0M228.2 291.2L226.2 232.8M277.5 300.8L221.2 324.0M197.5 330.0L175.8 394.5M208.8 235.0L193.8 274.5M337.5 195.0L315.6 212.5M266.8 195.5L246.2 269.5M136.2 317.5L186.2 320.0M316.8 312.5L244.5 230.4M293.8 334.4L91.2 331.8M202.5 200.9L203.8 293.8M322.9 337.9L193.8 274.5M162.5 278.8L179.8 301.2M238.0 330.0L165.0 380.0M255.0 216.8L351.2 229.5M100.0 408.8L147.5 385.8M256.8 422.0L184.2 350.5M220.0 186.8L265.5 248.8M221.2 324.0L184.2 345.0M213.8 312.7L226.2 232.8M316.2 235.0L306.2 228.2M293.0 250.0L246.2 269.5M62.5 362.5L170.8 340.0M203.8 293.8L53.8 315.8M253.0 373.8L197.3 301.5M180.0 229.0L143.8 351.2M182.7 131.5L230.6 164.4M152.0 245.8L149.5 332.5M213.8 312.7L151.2 375.8M167.6 118.0L258.8 176.2M180.0 229.0L152.0 245.8M199.5 176.2L270.0 153.0M266.8 195.5L155.5 192.7M271.2 342.5L197.3 301.5M303.0 311.2L186.2 320.0M226.2 232.8L207.0 251.5M209.0 424.0L200.0 351.2M208.8 235.0L205.0 232.5M274.2 393.2L253.0 363.8M221.2 291.2L200.0 351.2M258.8 326.2L252.5 352.5M215.2 287.2L102.5 322.5M230.6 164.4L228.2 291.2M183.8 285.6L184.2 345.0M212.6 160.0L265.0 178.8M238.8 340.0L123.0 340.0M255.5 245.8L253.0 373.8M263.8 361.2L192.5 402.5M336.2 308.0L197.5 330.0M309.2 176.2L366.2 278.8M102.5 322.5L197.5 330.0M304.2 267.5L215.2 287.2M278.8 237.5L244.5 230.4M279.5 377.5L238.8 340.0M215.2 287.2L360.5 366.2M316.8 312.5L238.8 340.0M365.0 395.8L335.8 383.8M270.0 231.2L266.2 265.0M284.5 212.3L283.2 273.0M152.0 245.8L139.2 373.8M205.4 185.4L208.8 235.0M229.2 309.0L173.8 222.5M283.2 273.0L244.5 230.4M238.0 330.0L365.0 395.8M231.6 140.9L321.8 225.0M200.0 351.2L168.0 328.7M126.8 265.0L175.0 316.2M123.2 290.8L156.2 348.8M309.2 252.5L304.2 267.5M215.5 345.0L149.5 332.5M271.2 342.5L164.2 388.2M245.0 143.8L127.5 200.3M289.2 171.2L337.5 260.0M213.8 312.7L197.5 330.0M270.0 252.5L242.5 291.0M175.0 316.2L168.0 328.7M260.5 288.8L236.2 280.0M203.8 293.8L239.0 406.2M347.2 332.8L315.8 366.2M387.5 264.5L229.2 309.0M297.0 147.5L247.5 211.3M293.0 250.0L203.8 293.8M291.8 132.5L266.8 195.5M242.5 291.0L203.8 293.8M297.0 147.5L173.8 222.5M293.0 250.0L168.0 328.7M289.2 171.2L253.8 205.2M117.5 333.8L181.2 400.4M270.0 153.0L292.5 183.8M161.0 166.8L184.6 198.0M193.8 274.5L170.8 340.0M167.6 118.0L99.2 217.5M292.5 183.8L304.2 267.5M138.2 264.5L195.8 283.8M183.8 285.6L155.0 304.5M253.8 205.2L228.2 246.0M255.0 216.8L187.5 300.0M205.0 232.5L157.5 239.5M228.2 291.2L197.5 330.0M215.2 287.2L98.8 355.0M247.5 211.3L195.8 283.8M173.8 222.5L115.0 271.2M270.0 252.5L162.5 278.8M155.5 425.0L168.0 328.7M205.4 185.4L225.0 360.0M266.2 203.8L340.0 330.0M272.5 333.5L263.8 361.2M366.8 227.0L351.2 229.5M160.0 221.6L162.5 278.8M222.7 178.4L372.5 329.4M218.6 127.5L191.8 262.0M325.3 208.4L306.2 228.2M127.5 352.5L174.2 381.8M288.8 299.2L331.2 329.6M270.0 153.0L247.5 211.3M306.6 190.0L351.2 229.5M348.2 271.2L236.2 280.0M297.0 147.5L356.8 197.5M272.5 333.5L347.2 332.8M321.8 225.0L246.2 300.0M242.5 291.0L315.8 376.2M255.0 216.8L270.0 252.5M288.8 299.2L173.8 222.5M170.8 340.0L186.2 320.0M253.0 363.8L252.5 352.5M171.8 244.5L149.5 332.5M356.8 197.5L173.8 222.5M313.8 283.8L244.5 230.4M238.0 330.0L197.3 301.5M238.0 330.0L268.7 165.6M304.2 267.5L94.5 379.2M326.8 286.2L138.2 264.5M231.6 140.9L237.5 236.2M320.8 183.2L344.5 245.0M335.8 383.8L211.5 386.2M266.2 203.8L238.2 186.2M270.0 153.0L316.2 200.0M236.2 280.0L197.3 301.5M255.0 216.8L193.8 274.5M272.5 333.5L225.0 360.0M226.2 232.8L160.0 199.7M236.2 280.0L272.5 333.5M202.5 200.9L293.0 250.0M211.5 408.2L253.0 373.8M191.2 184.4L113.5 295.4M251.2 385.0L238.8 340.0M256.8 422.0L265.8 464.5M193.8 458.2L180.0 229.0M304.2 267.5L322.9 337.9M205.5 358.5L111.2 342.5M292.5 183.8L213.8 312.7M229.2 309.0L184.2 345.0M242.5 291.0L265.0 324.6M251.2 385.0L162.3 404.2M228.2 246.0L193.8 274.5M160.0 221.6L171.2 305.8M215.2 287.2L195.8 283.8M126.8 249.2L173.2 266.2M365.0 395.8L197.5 330.0M215.2 287.2L151.2 224.5M349.2 362.5L213.9 360.0M288.8 318.8L207.0 251.5M266.2 203.8L236.2 280.0M306.2 228.2L246.2 269.5M258.8 135.5L292.5 183.8M270.0 252.5L360.5 366.2M348.2 271.2L260.5 288.8M344.5 245.0L244.5 230.4M244.5 230.4L197.5 330.0M221.2 324.0L193.8 274.5M210.7 196.3L226.2 232.8M222.7 178.4L221.2 291.2M288.8 318.8L327.5 412.5M266.8 195.5L210.7 196.3M242.5 291.0L208.8 235.0M284.5 212.3L112.5 248.0M303.8 383.2L138.2 264.5M325.3 208.4L255.5 245.8M156.2 348.8L174.2 381.8M252.5 352.5L184.2 345.0M344.5 245.0L211.5 386.2M181.1 174.8L203.8 293.8M238.2 186.2L251.2 385.0M247.5 211.3L246.2 269.5M303.8 383.2L200.0 351.2M53.8 315.8L127.5 352.5M255.5 245.8L349.2 362.5M247.5 211.3L306.2 228.2M291.8 132.5L222.7 178.4M215.2 287.2L237.5 236.2M207.0 251.5L207.2 439.8M306.6 190.0L288.8 318.8M337.5 363.0L187.5 300.0M253.8 205.2L244.5 230.4M212.6 160.0L266.2 265.0M253.8 205.2L288.8 318.8M265.5 248.8L205.5 358.5M244.5 230.4L337.5 363.0M336.2 308.0L361.2 333.0M316.2 235.0L322.9 337.9M62.5 362.5L175.0 316.2M219.6 105.8L191.2 184.4M209.0 424.0L251.2 385.0M197.5 330.0L162.3 404.2M325.3 208.4L170.8 340.0M193.8 274.5L117.5 333.8M355.0 243.8L251.2 385.0M253.8 205.2L181.2 400.4M195.8 283.8L197.5 330.0M337.5 260.0L242.5 291.0M238.2 186.2L180.0 229.0M132.5 360.0L179.8 301.2M207.0 251.5L268.7 165.6M221.2 291.2L224.2 390.0M156.2 348.8L179.8 301.2M126.8 230.8L162.5 278.8M221.2 291.2L159.5 400.8M326.8 286.2L277.5 300.8M126.8 249.2L147.5 265.5M255.0 216.8L256.8 422.0M246.2 269.5L161.2 337.5M213.8 312.7L161.2 337.5M253.0 363.8L271.2 342.5M266.2 265.0L361.2 333.0M286.2 229.5L140.8 285.2M239.0 406.2L238.8 340.0M258.8 406.2L184.2 345.0M199.5 176.2L210.7 196.3M284.5 212.3L143.8 351.2M228.2 291.2L278.2 405.0M212.6 160.0L137.2 168.9M151.8 279.2L162.3 404.2M195.8 283.8L175.0 316.2M323.0 258.2L313.8 283.8M284.5 212.3L210.7 196.3M278.0 167.5L226.2 232.8M316.8 312.5L252.5 352.5M284.5 212.3L156.2 348.8M222.7 178.4L98.8 355.0M211.5 408.2L164.2 388.2M229.2 309.0L173.2 266.2M243.8 457.8L252.5 352.5M205.5 358.5L136.2 317.5M246.2 269.5L155.0 304.5M271.2 342.5L197.5 330.0M171.5 105.0L270.0 153.0M236.2 280.0L127.5 352.5M211.5 112.7L160.0 199.7M238.2 186.2L200.0 351.2M325.3 208.4L335.0 280.0M211.5 386.2L151.8 279.2M213.8 312.7L213.9 360.0M208.8 270.6L187.5 300.0M265.0 178.8L222.5 213.5M188.8 435.4L106.2 303.0M380.8 350.5L335.8 383.8M123.0 340.0L184.2 350.5M244.5 230.4L138.2 264.5M289.2 171.2L195.8 283.8M293.2 385.8L238.8 340.0M293.8 334.4L253.0 373.8M157.5 239.5L183.8 285.6M278.8 237.5L323.0 298.2M167.6 118.0L286.2 158.2M309.2 252.5L271.2 342.5M226.2 232.8L185.0 245.0M360.5 366.2L303.8 383.2M302.5 414.5L183.8 285.6M195.8 283.8L170.8 340.0M238.0 330.0L149.5 332.5M336.2 308.0L325.0 433.5M171.8 244.5L179.8 301.2M126.8 230.8L111.2 342.5M306.2 228.2L265.5 248.8M348.2 271.2L274.2 393.2M278.0 167.5L270.0 231.2M242.5 291.0L132.5 360.0M265.0 324.6L111.2 425.8M253.0 373.8L139.2 373.8M211.5 386.2L174.2 381.8M183.8 285.6L143.8 351.2M321.8 404.5L205.5 358.5M316.2 235.0L279.5 377.5M258.8 135.5L245.0 143.8M297.0 147.5L246.2 269.5M185.0 245.0L184.2 345.0M136.2 317.5L143.8 351.2M210.5 149.4L297.5 345.0M372.5 329.4L243.8 457.8M116.2 367.5L197.5 330.0M253.0 363.8L215.5 345.0M184.6 198.0L184.2 345.0M222.5 213.5L322.9 337.9M286.2 158.2L215.5 345.0M229.2 309.0L171.2 305.8M384.5 245.0L387.5 264.5M351.2 229.5L200.0 351.2M226.2 232.8L171.2 305.8M260.1 107.4L258.8 176.2M306.2 228.2L140.8 285.2M270.0 153.0L258.8 176.2M207.0 251.5L195.8 283.8M198.1 160.0L184.6 198.0M325.3 208.4L297.5 345.0M266.2 452.2L225.0 360.0M242.5 291.0L335.8 383.8M162.5 278.8L187.5 300.0M271.2 342.5L183.8 285.6M255.0 216.8L228.2 291.2M246.2 300.0L203.8 293.8M244.5 230.4L197.3 301.5M205.4 185.4L229.2 309.0M253.0 373.8L195.8 283.8M208.8 270.6L180.0 429.4M306.6 190.0L344.5 245.0M258.8 406.2L155.5 425.0M208.8 270.6L147.5 385.8M205.4 185.4L316.2 235.0M286.2 229.5L184.6 198.0M210.5 149.4L244.5 230.4M197.5 330.0L181.2 400.4M215.2 287.2L184.2 350.5M250.8 147.5L208.8 235.0M347.2 332.8L200.0 351.2M303.0 311.2L228.2 291.2M315.6 212.5L246.2 269.5M266.8 195.5L337.5 363.0M227.2 413.8L174.2 381.8M258.8 326.2L347.2 332.8M245.0 143.8L228.2 246.0M303.0 311.2L208.8 270.6M202.5 200.9L205.0 232.5M247.5 211.3L283.2 273.0M243.8 416.0L132.5 360.0M162.5 278.8L197.5 330.0M222.5 213.5L306.2 228.2M156.2 288.8L187.5 300.0M278.8 237.5L184.2 350.5M246.2 300.0L170.8 340.0M247.5 211.3L175.0 316.2M286.2 229.5L126.8 265.0M183.8 285.6L162.3 404.2M205.0 232.5L191.8 262.0M260.5 288.8L122.5 325.0M286.2 229.5L228.2 291.2M272.5 133.8L280.0 182.5M293.2 385.8L175.8 394.5M260.5 288.8L181.2 400.4M278.0 167.5L284.5 212.3M291.8 132.5L236.2 280.0M245.0 143.8L222.5 213.5M208.8 270.6L160.0 221.6M303.8 383.2L253.0 373.8M247.5 211.3L152.0 245.8M266.2 265.0L197.5 330.0M226.2 232.8L160.0 221.6M274.2 393.2L224.2 390.0M208.8 270.6L155.0 304.5M277.5 300.8L123.2 290.8M271.2 342.5L116.2 367.5M245.5 168.8L288.8 318.8M210.5 149.4L265.0 178.8M280.0 182.5L304.2 267.5M246.2 300.0L322.9 337.9M253.8 205.2L210.7 196.3M265.0 178.8L208.8 235.0M225.0 360.0L181.2 400.4M222.7 178.4L215.2 287.2M186.2 320.0L202.5 317.5M303.8 383.2L262.0 395.8M266.2 203.8L283.2 273.0M306.2 228.2L326.8 286.2M208.8 270.6L184.2 345.0M255.0 216.8L210.7 196.3M236.2 280.0L171.8 244.5M314.5 158.8L225.0 360.0M387.5 264.5L303.0 311.2M180.0 429.4L161.2 337.5M337.5 260.0L347.2 332.8M102.5 322.5L168.0 328.7M199.5 176.2L293.0 250.0M207.2 439.8L171.2 305.8M265.5 248.8L323.0 298.2M242.5 291.0L208.8 270.6M289.2 171.2L306.6 190.0M171.8 244.5L152.0 245.8M226.2 232.8L179.8 301.2M112.5 248.0L126.8 249.2M210.7 196.3L112.5 202.5M117.3 133.0L268.7 165.6M215.2 287.2L184.2 345.0M209.0 424.0L174.2 381.8M237.5 236.2L211.5 386.2M238.2 186.2L268.7 165.6M344.5 245.0L326.8 286.2M246.2 269.5L132.5 360.0M202.5 200.9L278.8 237.5M337.5 195.0L92.5 202.0M221.2 324.0L238.8 340.0M193.8 274.5L111.2 425.8M161.2 337.5L171.2 305.8M250.8 147.5L253.8 205.2M300.0 156.0L173.8 222.5M236.2 280.0L181.2 400.4M202.5 200.9L265.5 248.8M278.2 405.0L253.0 363.8M205.4 185.4L351.2 229.5M266.2 265.0L168.8 439.8M349.2 297.5L365.0 395.8M266.8 195.5L309.2 252.5M193.8 274.5L168.0 328.7M246.2 269.5L139.2 373.8M180.0 229.0L179.8 301.2M333.2 175.8L286.2 229.5M170.8 340.0L197.3 301.5M242.5 291.0L164.2 388.2M171.8 244.5L183.8 285.6M240.8 130.2L255.0 216.8M316.2 200.0L208.8 235.0M239.0 406.2L262.0 395.8M303.8 383.2L207.2 439.8M292.5 183.8L293.2 385.8M270.0 231.2L246.2 300.0M353.0 167.5L339.2 212.5M175.0 316.2L200.0 351.2M221.2 291.2L173.2 266.2M348.2 271.2L258.8 326.2M171.8 244.5L151.8 279.2M326.8 286.2L205.5 358.5M69.5 257.5L191.8 262.0M221.2 291.2L244.5 230.4M266.2 203.8L255.5 245.8M252.5 352.5L168.0 328.7M265.0 324.6L193.8 274.5M228.2 291.2L193.8 274.5M222.5 213.5L132.5 360.0M288.8 299.2L208.8 235.0M320.8 183.2L326.8 286.2M211.5 386.2L202.5 317.5M266.2 452.2L184.2 350.5M138.2 264.5L140.8 285.2M245.5 168.8L228.2 246.0M198.1 160.0L335.0 280.0M202.5 200.9L185.0 245.0M211.5 408.2L197.5 330.0M250.8 147.5L246.2 300.0M337.5 260.0L321.8 225.0M315.6 212.5L321.8 225.0M152.0 245.8L156.2 288.8M247.5 211.3L208.8 270.6M222.5 213.5L112.5 202.5M316.2 200.0L246.2 300.0M212.6 160.0L161.0 166.8M297.5 345.0L147.5 385.8M79.2 345.0L187.5 300.0M219.6 105.8L220.0 186.8M241.2 201.2L265.5 248.8M222.5 213.5L229.2 309.0M266.2 203.8L265.5 248.8M199.5 176.2L236.2 280.0M253.0 373.8L159.5 400.8M315.8 376.2L164.2 388.2M270.0 252.5L208.8 270.6M284.5 212.3L266.2 265.0M314.5 158.8L320.8 183.2M270.0 252.5L265.0 324.6M272.5 333.5L331.2 329.6M239.0 406.2L168.0 328.7M265.0 178.8L226.2 232.8M223.0 140.0L111.8 228.8M245.0 143.8L112.5 248.0M278.8 237.5L191.2 184.4M156.2 348.8L197.5 330.0M230.6 164.4L266.2 265.0M185.0 245.0L173.2 266.2M304.2 267.5L268.7 165.6M205.5 358.5L120.0 362.5M292.5 183.8L180.0 229.0M278.2 405.0L181.2 400.4M100.0 408.8L155.0 304.5M246.2 269.5L117.5 333.8M266.2 203.8L321.8 404.5M288.8 318.8L311.8 393.8M208.8 270.6L63.8 328.8M286.2 229.5L221.2 291.2M213.8 312.7L203.8 293.8M229.2 309.0L197.3 301.5M208.8 235.0L98.8 355.0M224.2 390.0L136.2 317.5M266.2 265.0L244.5 230.4M288.8 318.8L98.8 355.0M180.0 229.0L205.0 232.5M187.5 300.0L179.8 301.2M167.6 118.0L218.6 127.5M293.8 334.4L263.8 361.2M265.0 324.6L184.6 198.0M305.0 397.0L180.0 429.4M171.5 105.0L173.2 266.2M215.5 345.0L118.2 310.8M225.0 360.0L297.5 345.0M265.0 178.8L316.8 312.5M117.3 133.0L111.2 342.5M82.0 286.0L96.2 302.5M325.3 208.4L226.2 232.8M246.2 269.5L126.8 249.2M253.8 205.2L200.0 351.2M260.5 288.8L228.2 246.0M241.2 201.2L151.2 224.5M228.2 291.2L157.0 318.8M149.5 332.5L168.0 328.7M175.8 394.5L197.3 301.5M323.0 258.2L265.0 324.6M293.0 250.0L360.8 404.5M289.2 171.2L185.0 245.0M161.2 337.5L184.2 345.0M258.8 176.2L173.8 222.5M253.8 205.2L260.5 288.8M224.2 390.0L175.0 316.2M316.8 312.5L140.8 285.2M238.8 340.0L193.8 274.5M335.8 383.8L205.5 358.5M215.2 287.2L149.5 332.5M104.5 264.2L136.2 317.5M205.4 185.4L197.3 301.5M247.5 211.3L202.5 200.9M211.5 408.2L151.2 375.8M246.2 269.5L226.0 456.8M98.8 355.0L122.5 325.0M300.0 156.0L213.8 312.7M208.8 235.0L69.5 257.5M233.8 421.5L192.5 402.5M246.2 300.0L128.8 420.0M125.0 393.4L155.5 425.0M253.0 373.8L161.2 337.5M210.7 196.3L207.0 251.5M213.8 312.7L237.0 387.0M278.2 405.0L168.0 328.7M156.2 288.8L151.2 375.8M355.0 243.8L233.8 421.5M253.8 205.2L171.8 244.5M258.8 326.2L228.2 246.0M215.2 287.2L265.0 324.6M337.5 260.0L260.5 288.8M171.8 244.5L106.2 303.0M205.5 358.5L53.8 315.8M325.0 433.5L271.2 342.5M238.0 330.0L208.8 270.6M127.5 352.5L157.0 318.8M337.5 260.0L306.2 228.2M63.0 305.8L118.2 310.8M147.5 265.5L147.5 385.8M207.0 251.5L156.2 288.8M246.2 300.0L160.0 221.6M256.8 422.0L173.2 266.2M64.6 286.0L91.2 331.8M222.7 178.4L316.2 235.0M136.2 317.5L123.0 340.0M247.5 211.3L62.5 362.5M207.0 251.5L127.5 352.5M147.5 385.8L192.5 402.5M210.5 149.4L220.0 186.8M277.5 300.8L242.5 291.0M305.0 397.0L253.0 373.8M203.8 293.8L185.0 245.0M314.5 158.8L325.3 208.4M303.8 383.2L227.2 413.8M182.7 131.5L212.6 160.0M263.8 361.2L191.8 262.0M228.2 291.2L79.5 228.0M202.5 200.9L266.2 265.0M286.2 158.2L221.2 291.2M152.0 245.8L151.2 375.8M315.6 212.5L184.2 350.5M213.8 312.7L225.0 360.0M266.2 203.8L208.8 270.6M280.0 182.5L247.5 211.3M289.2 171.2L152.0 245.8M85.5 184.6L63.8 328.8M236.2 280.0L185.0 245.0M159.8 137.2L155.5 192.7M244.5 230.4L191.8 262.0M293.0 250.0L316.8 312.5M288.8 318.8L305.0 397.0M309.2 176.2L271.2 342.5M320.8 183.2L351.2 229.5M336.2 308.0L277.5 300.8M303.8 383.2L197.3 301.5M205.0 232.5L186.2 320.0M161.0 166.8L247.5 211.3M255.0 216.8L313.8 283.8M205.5 358.5L128.8 420.0M278.0 167.5L236.2 280.0M191.2 184.4L171.8 244.5M157.5 239.5L113.5 295.4M236.2 280.0L140.8 285.2M255.0 216.8L265.5 248.8M173.8 222.5L151.8 279.2M155.5 192.7L191.2 184.4M243.8 416.0L162.5 278.8M323.0 258.2L255.5 245.8M202.5 200.9L244.5 230.4M106.2 303.0L161.2 337.5M157.5 239.5L123.0 340.0M344.5 245.0L306.2 228.2M137.0 222.5L126.8 230.8M226.2 232.8L175.0 316.2M183.8 285.6L63.8 328.8M174.2 381.8L179.8 301.2M335.0 280.0L297.5 345.0M231.6 140.9L272.5 333.5M347.2 332.8L335.8 383.8M238.2 186.2L160.0 199.7M316.8 312.5L253.0 373.8M292.5 183.8L211.5 408.2M304.2 267.5L260.5 288.8M183.8 285.6L202.5 317.5M293.8 334.4L311.8 393.8M170.8 340.0L174.2 381.8M170.8 340.0L184.2 345.0M315.6 212.5L293.0 250.0M270.0 231.2L221.2 324.0M213.8 312.7L191.2 184.4M162.3 404.2L192.5 402.5M270.0 252.5L157.0 318.8M244.5 230.4L168.0 328.7M280.0 182.5L260.5 288.8M250.8 147.5L258.8 176.2M143.8 351.2L175.0 316.2M266.8 195.5L137.0 222.5M181.2 400.4L179.8 301.2M221.2 291.2L243.8 457.8M202.5 200.9L120.0 362.5M241.2 201.2L222.5 213.5M266.2 203.8L162.5 278.8M224.2 390.0L297.5 345.0M215.2 287.2L140.8 285.2M326.8 286.2L303.0 311.2M151.8 279.2L175.0 316.2M197.5 330.0L174.2 381.8M288.8 318.8L200.0 351.2M293.0 250.0L326.8 286.2M156.2 348.8L175.8 394.5M198.1 160.0L255.0 216.8M266.2 265.0L118.2 310.8M89.2 268.0L79.2 345.0M266.8 195.5L171.2 305.8M157.5 239.5L63.8 328.8M207.2 439.8L180.0 229.0M168.8 439.8L151.2 224.5M223.0 140.0L339.2 212.5M103.8 332.5L125.0 393.4M320.8 183.2L260.5 288.8M266.2 265.0L126.8 249.2M229.2 309.0L193.8 274.5M156.2 288.8L94.5 379.2M266.2 203.8L247.5 211.3M344.5 245.0L268.7 165.6M237.0 387.0L184.6 198.0M215.2 287.2L253.0 373.8M265.0 324.6L272.5 333.5M245.5 168.8L237.5 236.2M277.5 300.8L112.5 202.5M265.5 248.8L183.8 285.6M242.5 291.0L197.3 301.5M113.5 295.4L171.2 305.8M126.8 265.0L151.8 279.2M207.0 251.5L161.2 337.5M265.0 324.6L227.2 413.8M82.0 286.0L162.3 404.2M255.5 245.8L226.2 232.8M159.8 137.2L213.9 360.0M184.6 198.0L159.5 400.8M127.5 352.5L187.5 300.0M238.2 186.2L221.2 291.2M272.5 133.8L225.0 360.0M255.0 216.8L238.2 186.2M205.5 358.5L113.5 295.4M191.8 262.0L197.3 301.5M323.0 258.2L286.2 229.5M111.8 228.8L193.8 274.5M157.5 239.5L104.5 264.2M272.5 333.5L208.8 270.6M236.2 280.0L173.8 222.5M95.0 235.0L151.2 224.5M143.8 351.2L162.3 404.2M376.8 282.0L260.5 288.8M246.2 97.7L240.8 130.2M193.8 274.5L123.0 340.0M118.2 310.8L161.2 337.5M288.8 318.8L202.5 317.5M93.0 360.5L85.8 301.2M236.2 280.0L180.0 229.0M365.8 259.5L265.5 248.8M336.2 308.0L157.5 239.5M228.2 246.0L160.0 221.6M315.8 366.2L253.0 373.8M213.9 360.0L180.0 429.4M98.8 355.0L197.3 301.5M241.2 201.2L293.0 250.0M265.0 178.8L239.0 406.2M293.0 250.0L266.2 265.0M258.8 176.2L228.2 291.2M272.5 333.5L185.0 245.0M238.0 330.0L238.8 340.0M339.2 212.5L316.2 235.0M360.5 366.2L243.8 416.0M126.8 230.8L147.5 265.5M136.2 317.5L111.2 342.5M171.8 244.5L191.8 262.0M237.5 236.2L171.2 305.8M314.5 158.8L309.2 176.2M288.8 299.2L252.5 352.5M199.5 176.2L258.8 176.2M156.2 288.8L93.0 360.5M240.8 130.2L245.5 168.8M284.5 212.3L203.8 293.8M258.8 176.2L222.5 213.5M96.2 302.5L161.2 337.5M221.2 291.2L115.0 271.2M265.5 248.8L253.0 373.8M284.5 212.3L293.0 250.0M221.2 324.0L200.0 351.2M247.5 211.3L180.0 229.0M202.5 317.5L155.5 425.0M327.5 412.5L325.0 433.5M387.5 264.5L266.2 265.0M358.8 292.0L162.5 278.8M221.2 291.2L155.5 192.7M347.2 332.8L365.0 395.8M278.8 237.5L191.8 262.0M270.0 231.2L195.8 283.8M221.2 324.0L253.0 373.8M309.2 176.2L316.2 235.0M255.5 245.8L173.2 266.2M260.5 288.8L211.5 386.2M202.5 200.9L323.0 258.2M244.5 230.4L181.2 400.4M293.8 334.4L303.8 383.2M213.9 360.0L205.5 358.5M215.2 287.2L229.2 309.0M327.0 357.5L164.2 388.2M165.0 380.0L125.0 393.4M315.8 366.2L211.5 386.2M180.0 429.4L175.8 394.5M303.8 383.2L225.0 360.0M208.8 235.0L71.2 321.2M202.5 200.9L228.2 291.2M229.2 309.0L162.5 278.8M213.8 312.7L243.8 457.8M270.0 231.2L208.8 235.0M272.5 333.5L183.8 285.6M260.5 288.8L293.2 385.8M82.0 286.0L85.8 301.2M258.8 326.2L184.2 345.0M315.8 366.2L305.0 397.0M297.0 147.5L286.2 229.5M272.5 133.8L244.5 230.4M147.5 265.5L132.5 360.0M258.8 326.2L224.2 390.0M151.2 224.5L122.5 325.0M156.2 288.8L111.2 342.5M205.4 185.4L161.0 421.5M340.0 330.0L335.0 410.8M160.0 221.6L82.0 286.0M221.2 291.2L191.8 262.0M353.0 400.5L262.0 395.8M258.8 326.2L173.2 266.2M353.0 167.5L202.5 200.9M286.2 158.2L184.6 198.0M365.8 259.5L265.0 324.6M246.2 97.7L326.8 286.2M127.5 352.5L149.5 332.5M278.2 405.0L251.2 385.0M228.2 291.2L160.0 221.6M95.0 235.0L155.0 304.5M278.8 237.5L208.8 235.0M237.0 387.0L175.8 394.5M198.6 143.5L226.2 232.8M303.8 383.2L252.5 352.5M278.8 237.5L138.2 264.5M208.8 270.6L238.8 340.0M219.6 105.8L173.2 266.2M321.8 404.5L286.0 456.0M286.2 158.2L283.2 273.0M193.8 274.5L157.0 318.8M304.2 267.5L207.0 251.5M229.2 309.0L185.0 245.0M205.0 232.5L202.5 317.5M302.5 414.5L193.8 458.2M202.5 200.9L306.2 228.2M238.0 330.0L228.2 246.0M316.8 312.5L91.2 331.8M337.5 260.0L151.8 279.2M361.2 333.0L279.5 377.5M316.8 312.5L303.0 311.2M272.5 133.8L210.7 196.3M117.3 133.0L213.8 312.7M168.8 439.8L118.2 310.8M85.5 184.6L160.0 221.6M258.8 326.2L184.2 350.5M303.0 311.2L151.8 279.2M228.2 246.0L187.5 300.0M316.8 312.5L380.8 350.5M277.5 300.8L265.0 324.6M309.2 176.2L266.2 203.8M161.0 166.8L207.0 251.5M258.8 176.2L306.6 190.0M323.0 298.2L226.0 456.8M306.2 228.2L195.8 283.8M297.5 345.0L187.5 300.0M325.3 208.4L244.5 230.4M162.5 183.8L222.5 213.5M266.8 195.5L203.8 293.8M279.5 377.5L224.2 390.0M223.0 140.0L253.8 205.2M203.8 293.8L175.0 316.2M241.2 201.2L309.2 252.5M252.5 352.5L193.8 274.5M306.2 228.2L137.0 222.5M203.8 293.8L116.2 367.5M361.2 333.0L390.8 351.2M203.8 293.8L122.5 325.0M246.2 269.5L193.8 274.5M151.2 375.8L197.3 301.5M210.7 196.3L140.8 285.2M313.8 283.8L242.5 291.0M365.8 259.5L349.2 297.5M265.5 248.8L262.0 395.8M69.5 257.5L175.0 316.2M221.2 324.0L297.5 345.0M250.8 147.5L293.0 250.0M335.0 280.0L288.8 299.2M246.2 269.5L277.5 300.8M283.2 273.0L279.5 377.5M246.2 269.5L246.2 300.0M266.8 195.5L237.5 236.2M219.6 105.8L306.2 228.2M245.5 168.8L260.5 288.8M303.8 383.2L197.5 330.0M205.4 185.4L237.5 236.2M250.8 147.5L265.0 178.8M168.8 439.8L197.3 301.5M149.5 332.5L171.2 305.8M116.2 367.5L156.2 348.8M278.8 237.5L237.5 236.2M188.8 435.4L161.0 421.5M202.5 200.9L237.5 236.2M265.5 248.8L197.3 301.5M265.0 324.6L263.8 361.2M226.2 232.8L170.8 340.0M215.2 287.2L347.2 332.8M336.2 308.0L233.8 421.5M353.0 400.5L179.8 301.2M361.2 333.0L321.8 404.5M258.8 176.2L278.8 237.5M260.1 107.4L333.2 175.8M182.7 131.5L266.2 265.0M147.5 265.5L106.2 303.0M327.0 357.5L253.0 363.8M327.0 357.5L335.8 383.8M151.2 224.5L156.2 288.8M300.0 156.0L316.2 200.0M237.0 387.0L184.2 345.0M316.2 200.0L197.3 301.5M238.0 330.0L125.0 393.4M253.0 363.8L213.9 360.0M348.2 271.2L316.8 312.5M143.8 351.2L155.0 304.5M138.2 264.5L168.0 328.7M323.0 258.2L283.2 273.0M93.0 360.5L156.2 348.8M304.2 267.5L253.0 373.8M277.5 300.8L246.2 300.0M219.6 105.8L193.8 274.5M316.2 200.0L265.5 248.8M191.8 262.0L71.2 321.2M221.2 324.0L360.5 366.2M226.2 232.8L215.5 345.0M224.2 390.0L183.8 285.6M62.5 362.5L122.5 325.0M316.8 312.5L349.2 362.5M255.5 245.8L171.8 244.5M222.5 213.5L156.2 288.8M160.0 199.7L205.0 232.5M237.5 236.2L186.2 320.0M221.2 324.0L253.0 363.8M215.5 345.0L238.8 340.0M230.6 164.4L265.0 178.8M246.2 300.0L225.0 360.0M270.0 231.2L193.8 274.5M113.5 295.4L161.2 337.5M213.8 312.7L239.0 406.2M215.2 287.2L175.0 316.2M160.0 199.7L197.5 330.0M228.2 291.2L207.0 251.5M337.5 195.0L246.2 300.0M215.5 345.0L187.5 300.0M208.8 270.6L82.0 286.0M286.2 158.2L244.5 230.4M211.5 112.7L333.2 175.8M160.0 221.6L160.0 199.7M245.5 168.8L193.8 274.5M244.5 230.4L164.2 388.2M241.2 201.2L151.8 279.2M247.5 211.3L184.6 198.0M218.6 127.5L139.2 373.8M241.2 201.2L340.0 330.0M320.8 183.2L205.0 232.5M286.0 456.0L174.2 381.8M243.8 457.8L159.5 400.8M337.5 195.0L255.0 216.8M213.8 312.7L293.8 334.4M236.2 280.0L207.2 439.8M293.0 250.0L288.8 299.2M147.5 265.5L149.5 332.5M208.8 270.6L193.8 274.5M242.5 291.0L202.5 317.5M246.2 300.0L237.5 236.2M222.7 178.4L226.2 232.8M215.5 345.0L186.2 320.0M173.2 266.2L175.0 316.2M246.2 269.5L183.8 285.6M181.1 174.8L195.8 283.8M205.4 185.4L162.5 278.8M255.5 245.8L246.2 269.5M241.2 201.2L283.2 273.0M96.2 302.5L120.0 362.5M272.5 333.5L224.2 390.0M258.8 176.2L138.2 264.5M244.5 230.4L157.5 239.5M272.5 333.5L293.8 334.4M302.5 414.5L297.5 345.0M180.0 429.4L179.8 301.2M198.6 143.5L220.0 186.8M193.8 274.5L156.2 288.8M239.0 406.2L263.8 361.2M138.2 264.5L183.8 285.6M349.2 297.5L347.2 332.8M260.5 288.8L156.2 288.8M238.0 330.0L179.8 301.2M127.5 352.5L162.3 404.2M233.8 421.5L179.8 301.2M376.8 282.0L303.8 383.2M246.2 269.5L103.8 332.5M221.2 291.2L193.8 274.5M246.2 97.7L314.5 158.8M181.1 174.8L258.8 176.2M220.0 186.8L226.2 232.8M180.0 429.4L157.0 318.8M162.5 278.8L168.0 328.7M188.8 435.4L187.5 300.0M293.0 250.0L323.0 298.2M236.2 280.0L205.0 232.5M222.5 213.5L137.0 222.5M181.1 174.8L152.0 245.8M335.8 383.8L238.8 340.0M314.5 158.8L193.8 274.5M316.2 200.0L103.8 332.5M181.1 174.8L270.0 231.2M207.0 251.5L69.5 257.5M212.6 160.0L247.5 211.3M270.0 252.5L221.2 324.0M229.2 309.0L103.8 332.5M175.0 316.2L151.2 375.8M246.2 269.5L288.8 299.2M270.0 252.5L152.0 245.8M184.2 345.0L151.2 375.8M180.0 429.4L193.8 274.5M182.7 131.5L171.8 244.5M293.2 385.8L252.5 352.5M213.8 312.7L103.8 332.5M337.5 260.0L316.8 312.5M183.8 285.6L139.2 373.8M193.8 274.5L197.3 301.5M213.8 312.7L183.8 285.6M272.5 333.5L171.2 305.8M309.2 252.5L151.8 279.2M303.8 383.2L302.5 414.5M203.8 293.8L168.0 328.7M255.5 245.8L162.5 278.8M175.0 316.2L159.5 400.8M195.8 283.8L268.7 165.6M213.8 312.7L208.8 235.0M337.5 260.0L323.0 258.2M221.2 324.0L315.8 366.2M258.8 326.2L327.0 357.5M351.2 229.5L266.2 265.0M242.5 291.0L185.0 245.0M331.2 329.6L211.5 386.2M240.8 130.2L247.5 211.3M222.5 213.5L205.0 232.5M174.2 381.8L162.3 404.2M205.4 185.4L260.5 288.8M246.2 300.0L112.5 248.0M221.2 291.2L229.2 309.0M208.8 235.0L157.5 239.5M246.2 300.0L197.5 330.0M306.2 228.2L221.2 324.0M218.6 127.5L222.5 213.5M103.8 332.5L175.8 394.5M236.2 280.0L197.5 330.0M237.0 387.0L116.2 367.5M209.0 424.0L186.2 320.0M293.2 385.8L205.5 358.5M213.9 360.0L186.2 320.0M306.6 190.0L156.2 348.8M323.0 258.2L321.8 225.0M228.2 291.2L147.5 265.5M191.8 262.0L186.2 320.0M222.5 213.5L323.0 258.2M199.5 176.2L173.2 266.2M207.2 439.8L159.5 400.8M102.5 322.5L147.5 385.8M275.0 437.5L156.2 348.8M221.2 324.0L111.2 342.5M222.5 213.5L246.2 269.5M289.2 171.2L215.2 287.2M309.2 176.2L208.8 270.6M188.6 143.0L244.5 230.4M351.2 229.5L355.0 243.8M98.8 355.0L162.3 404.2M320.8 183.2L333.2 175.8M211.5 386.2L100.0 408.8M244.5 230.4L160.0 221.6M238.0 330.0L184.2 345.0M258.8 406.2L197.3 301.5M126.8 249.2L111.2 342.5M213.9 360.0L200.0 351.2M258.8 176.2L185.0 245.0M223.0 140.0L160.0 221.6M286.2 229.5L157.0 318.8M160.0 221.6L113.5 295.4M222.5 213.5L155.0 304.5M258.8 176.2L246.2 269.5M203.8 293.8L123.2 290.8M360.5 366.2L239.0 406.2M208.8 270.6L183.8 285.6M186.2 320.0L165.0 380.0M221.2 324.0L162.5 278.8M167.6 118.0L270.0 231.2M222.7 178.4L303.0 311.2M223.0 140.0L191.8 262.0M208.8 270.6L113.5 295.4M244.5 230.4L171.2 305.8M237.5 236.2L160.0 199.7M211.5 386.2L197.5 330.0M185.0 245.0L193.8 274.5M222.5 213.5L173.2 266.2M255.5 245.8L191.8 262.0M126.8 249.2L69.5 257.5M341.8 181.2L327.0 357.5M221.2 291.2L126.8 249.2M245.5 168.8L184.6 198.0M162.3 404.2L168.0 328.7M211.5 386.2L186.2 320.0M293.8 334.4L347.2 332.8M208.8 235.0L315.8 366.2M255.5 245.8L184.2 350.5M387.5 264.5L316.8 312.5M286.2 229.5L327.0 357.5M288.8 299.2L226.2 232.8M356.8 197.5L321.8 225.0M237.0 387.0L151.2 375.8M132.8 142.6L242.5 291.0M326.8 286.2L331.2 329.6M353.0 167.5L297.0 147.5M315.6 212.5L255.0 216.8M238.2 186.2L279.5 377.5M258.8 326.2L211.5 386.2M173.8 222.5L126.8 249.2M265.0 324.6L155.5 425.0M250.8 147.5L323.0 298.2M337.5 260.0L203.8 293.8M351.2 229.5L239.0 406.2M193.8 274.5L197.5 330.0M205.0 232.5L155.5 425.0M162.5 278.8L106.2 303.0M93.0 360.5L202.5 317.5M239.0 406.2L179.8 301.2M213.9 360.0L156.2 348.8M266.8 195.5L244.5 230.4M225.0 360.0L197.3 301.5M208.8 270.6L202.5 317.5M326.8 286.2L213.8 312.7M247.5 211.3L183.8 285.6M226.2 232.8L157.5 239.5M286.2 158.2L315.6 212.5M309.2 252.5L205.0 232.5M349.2 362.5L311.8 393.8M277.5 300.8L205.5 358.5M162.5 183.8L208.8 235.0M161.0 166.8L270.0 252.5M321.8 225.0L205.0 232.5M222.5 213.5L155.5 192.7M314.5 158.8L380.8 350.5M140.8 285.2L118.2 310.8M337.5 260.0L185.0 245.0M99.2 217.5L138.2 264.5M227.2 413.8L162.5 278.8M215.2 287.2L268.7 165.6M306.6 190.0L293.0 250.0M115.0 271.2L149.5 332.5M210.5 149.4L151.2 224.5M262.0 395.8L174.2 381.8M335.0 280.0L197.3 301.5M100.0 408.8L155.5 425.0M215.2 287.2L117.5 387.5M321.8 225.0L126.8 265.0M221.2 291.2L168.0 328.7M311.8 393.8L136.2 317.5M187.5 300.0L200.0 351.2M215.2 287.2L151.8 279.2M306.6 190.0L226.2 232.8M244.5 230.4L213.9 360.0M335.8 383.8L187.5 300.0M112.5 248.0L102.5 322.5M333.2 175.8L316.8 312.5M186.2 320.0L151.2 375.8M245.5 168.8L278.8 237.5M335.8 383.8L258.8 406.2M384.5 245.0L262.0 395.8M326.2 322.5L380.8 350.5M139.2 373.8L151.2 375.8M315.6 212.5L316.2 235.0M99.2 217.5L193.8 274.5M253.8 205.2L265.5 248.8M127.5 200.3L151.8 279.2M188.6 143.0L270.0 231.2M303.0 311.2L157.0 318.8M155.5 192.7L187.5 300.0M225.0 360.0L197.5 330.0M191.8 262.0L151.8 279.2M203.8 293.8L71.2 321.2M207.2 439.8L238.8 340.0M191.8 262.0L106.2 303.0M213.8 312.7L159.5 400.8M122.5 325.0L175.8 394.5M356.8 197.5L265.5 248.8M286.0 456.0L193.8 458.2M244.5 230.4L123.0 340.0M316.2 235.0L266.2 265.0M211.5 386.2L168.8 439.8M228.2 291.2L244.5 230.4M162.5 183.8L323.0 258.2M198.1 160.0L244.5 230.4M213.8 312.7L125.0 393.4M205.5 358.5L184.2 345.0M208.8 235.0L112.5 202.5M309.2 176.2L220.0 186.8M170.8 340.0L179.8 301.2M258.8 326.2L191.8 262.0M275.0 437.5L151.2 224.5M237.5 236.2L173.2 266.2M270.0 252.5L143.8 351.2M167.6 118.0L286.2 229.5M238.2 186.2L236.2 280.0M199.5 176.2L185.0 245.0M291.8 132.5L238.2 186.2M314.5 158.8L258.8 326.2M205.4 185.4L228.2 291.2M239.0 406.2L237.0 387.0M366.8 227.0L255.5 245.8M372.5 329.4L156.2 288.8M213.8 312.7L238.8 340.0M266.2 203.8L151.8 279.2M309.2 252.5L335.0 280.0M237.5 236.2L156.2 288.8M326.2 322.5L315.8 376.2M304.2 267.5L151.8 279.2M243.8 416.0L239.0 406.2M293.8 334.4L187.5 300.0M224.2 390.0L179.8 301.2M205.4 185.4L184.6 198.0M293.0 250.0L313.8 283.8M304.2 267.5L157.0 318.8M270.0 231.2L165.0 380.0M125.0 393.4L181.2 400.4M265.0 178.8L156.2 288.8M218.6 127.5L337.5 195.0M208.8 235.0L123.0 340.0M258.8 326.2L91.2 331.8M220.0 186.8L208.8 235.0M113.5 295.4L136.2 317.5M284.5 212.3L258.8 326.2M278.0 167.5L315.6 212.5M116.2 367.5L117.5 387.5M336.2 308.0L316.8 312.5M95.0 235.0L175.0 316.2M297.0 147.5L231.6 140.9M372.5 329.4L136.2 317.5M181.1 174.8L222.7 178.4M253.0 363.8L187.5 300.0M208.8 235.0L195.8 283.8M184.6 198.0L170.8 340.0M309.2 252.5L302.5 414.5M272.5 333.5L256.8 422.0M286.2 229.5L147.5 385.8M160.0 199.7L98.8 355.0M181.2 400.4L155.5 425.0M246.2 300.0L303.8 383.2M316.8 312.5L147.5 385.8M306.2 228.2L279.5 377.5M242.5 291.0L138.2 264.5M288.8 318.8L315.8 366.2M238.2 186.2L202.5 200.9M210.7 196.3L138.2 264.5M162.5 278.8L192.5 402.5M271.2 342.5L193.8 274.5M241.2 201.2L179.8 301.2M316.8 312.5L315.8 376.2M127.5 352.5L117.5 387.5M222.7 178.4L203.8 293.8M191.8 262.0L165.0 380.0M230.6 164.4L205.0 232.5M112.5 202.5L205.0 232.5M191.8 262.0L136.2 317.5M292.5 183.8L266.8 195.5M117.5 333.8L143.8 351.2M230.6 164.4L255.5 245.8M316.2 200.0L184.6 198.0M205.0 232.5L179.8 301.2M242.5 291.0L226.2 232.8M247.5 211.3L197.3 301.5M111.8 228.8L147.5 265.5M137.0 222.5L160.0 221.6M258.8 326.2L162.5 278.8M288.8 318.8L151.2 375.8M135.8 179.7L265.0 178.8M260.1 107.4L245.5 168.8M219.6 105.8L218.6 127.5M199.5 176.2L143.8 351.2M258.8 176.2L316.8 312.5M221.2 324.0L225.0 360.0M252.5 352.5L263.8 361.2M69.5 257.5L173.2 266.2M247.5 211.3L311.8 393.8M272.5 333.5L191.8 262.0M149.5 332.5L165.0 380.0M213.8 312.7L139.2 373.8M224.2 390.0L156.2 348.8M300.0 156.0L230.6 164.4M246.2 300.0L184.2 345.0M300.0 156.0L241.2 201.2M180.0 429.4L103.8 332.5M266.8 195.5L255.5 245.8M283.2 273.0L305.0 397.0M353.0 167.5L245.0 143.8M255.0 216.8L202.5 200.9M270.0 252.5L112.5 202.5M151.8 279.2L197.5 330.0M272.5 133.8L223.0 140.0M180.0 229.0L147.5 265.5M193.8 458.2L92.5 202.0M303.8 383.2L185.0 245.0M322.9 337.9L185.0 245.0M222.5 213.5L205.4 185.4M351.2 229.5L313.8 283.8M156.2 348.8L147.5 385.8M339.2 212.5L321.8 225.0M306.6 190.0L220.0 186.8M286.2 229.5L195.8 283.8M184.6 198.0L140.8 285.2M160.0 221.6L191.8 262.0M91.2 331.8L168.0 328.7M159.8 137.2L140.8 285.2M278.0 167.5L309.2 176.2M238.2 186.2L157.0 318.8M229.2 309.0L253.0 373.8M288.8 299.2L221.2 291.2M241.2 201.2L306.2 228.2M122.5 325.0L116.2 367.5M193.8 274.5L63.8 328.8M112.5 202.5L138.2 264.5M260.5 288.8L252.5 352.5M243.8 457.8L243.8 416.0M221.2 291.2L181.2 400.4M253.8 205.2L89.2 268.0M101.2 182.6L62.5 248.8M361.2 333.0L322.9 337.9M238.0 330.0L211.5 386.2M336.2 308.0L288.8 299.2M344.5 245.0L323.0 258.2M283.2 273.0L327.0 357.5M300.0 156.0L95.0 235.0M228.2 246.0L200.0 351.2M255.5 245.8L162.3 404.2M180.0 229.0L195.8 283.8M315.6 212.5L268.7 165.6M198.1 160.0L148.2 173.8M321.8 225.0L215.2 287.2M226.2 232.8L152.0 245.8M289.2 171.2L337.5 195.0M255.5 245.8L170.8 340.0M265.0 178.8L337.5 195.0M157.0 318.8L187.5 300.0M117.5 333.8L165.0 380.0M184.2 345.0L162.3 404.2M185.0 245.0L138.2 264.5M337.5 195.0L253.0 363.8M321.8 404.5L180.0 429.4M258.8 326.2L208.8 235.0M358.8 292.0L246.2 300.0M193.8 274.5L120.0 362.5M205.4 185.4L181.2 400.4M245.0 143.8L213.8 312.7M212.6 160.0L250.8 147.5M311.8 393.8L256.8 422.0M314.5 158.8L306.6 190.0M221.2 324.0L224.2 390.0M223.0 140.0L255.0 216.8M171.2 305.8L197.5 330.0M237.5 236.2L208.8 235.0M203.8 293.8L155.0 304.5M139.2 373.8L197.3 301.5M265.0 178.8L180.0 229.0M139.2 373.8L174.2 381.8M231.6 140.9L255.0 216.8M211.5 386.2L183.8 285.6M211.5 408.2L156.2 288.8M171.8 244.5L197.3 301.5M321.8 225.0L293.8 334.4M219.6 105.8L313.8 283.8M160.0 199.7L197.3 301.5M211.5 386.2L91.2 331.8M384.5 245.0L200.0 351.2M333.2 175.8L365.8 259.5M305.0 397.0L126.8 249.2M187.5 300.0L175.8 394.5M221.2 324.0L171.8 244.5M207.0 251.5L197.3 301.5M221.2 291.2L215.5 345.0M243.8 416.0L263.8 361.2M300.0 156.0L268.7 165.6M293.2 385.8L251.2 385.0M228.2 291.2L288.8 318.8M208.8 235.0L149.5 332.5M272.5 133.8L344.5 245.0M246.2 300.0L213.8 312.7M147.5 385.8L155.5 425.0M278.8 237.5L226.2 232.8M198.6 143.5L237.5 236.2M279.5 377.5L53.8 315.8M208.8 235.0L197.5 330.0M360.5 366.2L337.5 363.0M65.8 243.0L195.8 283.8M303.8 383.2L224.2 390.0M260.5 288.8L53.8 315.8M195.8 283.8L155.5 425.0M260.5 288.8L208.8 270.6M260.1 107.4L258.8 135.5M236.2 280.0L237.5 236.2M266.2 452.2L165.0 380.0M171.8 244.5L122.5 325.0M215.2 287.2L122.5 325.0M297.0 147.5L268.7 165.6M270.0 252.5L304.2 267.5M335.0 280.0L390.8 351.2M215.2 287.2L226.2 232.8M155.0 304.5L162.3 404.2M348.2 271.2L321.8 404.5M210.5 149.4L311.8 393.8M116.2 367.5L143.8 351.2M309.2 252.5L331.2 329.6M316.2 200.0L85.8 301.2M323.0 258.2L203.8 293.8M123.0 340.0L168.0 328.7M380.8 350.5L271.2 342.5M106.2 303.0L117.5 387.5M337.5 363.0L207.2 439.8M226.2 232.8L123.0 340.0M127.5 352.5L147.5 385.8M243.8 457.8L207.2 439.8M323.0 258.2L136.2 317.5M304.2 267.5L205.5 358.5M255.5 245.8L277.5 300.8M284.5 212.3L351.2 229.5M315.8 376.2L94.5 379.2M220.0 186.8L331.2 329.6M218.6 127.5L222.7 178.4M198.1 160.0L205.0 232.5M236.2 280.0L335.0 410.8M238.8 340.0L191.8 262.0M208.8 235.0L191.2 184.4M349.2 297.5L168.0 328.7M316.2 200.0L286.2 229.5M222.7 178.4L228.2 246.0M316.2 200.0L339.2 212.5M336.2 308.0L260.5 288.8M137.2 168.9L113.5 295.4M126.8 230.8L82.0 286.0M202.5 317.5L192.5 402.5M211.5 386.2L191.8 262.0M309.2 252.5L321.8 225.0M277.5 300.8L253.0 373.8M366.8 227.0L293.0 250.0M246.2 269.5L197.3 301.5M151.8 279.2L161.2 337.5M207.2 439.8L233.8 421.5M161.2 337.5L147.5 385.8M300.0 156.0L245.5 168.8M314.5 158.8L246.2 269.5M255.0 216.8L366.2 278.8M265.5 248.8L224.2 390.0M208.8 235.0L171.2 305.8M115.0 271.2L111.2 342.5M151.8 279.2L192.5 402.5M302.5 414.5L313.8 429.4M347.2 332.8L380.8 350.5M210.7 196.3L126.8 230.8M202.5 200.9L180.0 229.0M198.1 160.0L187.5 300.0M215.2 287.2L126.8 249.2M191.8 262.0L156.2 288.8M220.0 186.8L255.5 245.8M222.7 178.4L157.5 239.5M306.2 228.2L202.5 317.5M239.0 406.2L213.9 360.0M126.8 230.8L193.8 274.5M337.5 195.0L228.2 246.0M203.8 293.8L251.2 385.0M157.0 318.8L171.2 305.8M305.0 397.0L207.2 439.8M229.2 309.0L151.2 375.8M186.2 320.0L200.0 351.2M238.0 330.0L252.5 352.5M228.2 291.2L171.8 244.5M270.0 231.2L242.5 291.0M302.5 414.5L162.3 404.2M277.5 300.8L258.8 326.2M278.2 405.0L180.0 429.4M361.2 333.0L165.0 380.0M258.8 326.2L288.8 318.8M305.0 397.0L271.2 342.5M250.8 147.5L187.5 300.0M228.2 291.2L181.2 400.4M195.8 283.8L155.0 304.5M223.0 140.0L341.8 181.2M120.0 362.5L139.2 373.8M168.8 439.8L186.2 320.0M270.0 252.5L244.5 230.4M123.0 340.0L125.0 393.4M237.0 387.0L159.5 400.8M265.5 248.8L185.0 245.0M278.8 237.5L195.8 283.8M288.8 318.8L203.8 293.8M211.5 386.2L120.0 362.5M265.5 248.8L349.2 297.5M198.6 143.5L215.2 287.2M171.8 244.5L138.2 264.5M93.0 360.5L159.5 400.8M323.0 298.2L244.5 230.4M262.0 395.8L253.0 373.8M137.0 222.5L183.8 285.6M106.2 303.0L117.5 333.8M297.0 147.5L355.0 243.8M292.5 183.8L265.5 248.8M361.2 333.0L157.0 318.8M237.5 236.2L151.2 375.8M122.5 325.0L157.0 318.8M162.5 278.8L116.2 367.5M376.8 282.0L111.8 228.8M239.0 406.2L138.2 264.5M205.4 185.4L228.2 246.0M335.0 280.0L171.2 305.8M246.2 269.5L349.2 297.5M104.5 264.2L140.8 285.2M215.2 287.2L186.2 320.0M275.0 437.5L156.2 288.8M183.8 285.6L85.8 301.2M117.5 333.8L200.0 351.2M320.8 183.2L265.5 248.8M280.0 182.5L286.2 229.5M195.8 283.8L117.5 387.5M247.5 211.3L191.8 262.0M229.2 309.0L238.8 340.0M136.2 317.5L268.7 165.6M288.8 299.2L271.2 342.5M228.2 246.0L162.3 404.2M336.2 308.0L246.2 300.0M337.5 260.0L335.0 280.0M182.7 131.5L149.5 332.5M244.5 230.4L193.8 274.5M271.2 342.5L170.8 340.0M205.0 232.5L120.0 362.5M215.2 287.2L126.8 265.0M258.8 326.2L211.5 408.2M202.5 200.9L229.2 309.0M288.8 299.2L205.5 358.5M339.2 212.5L157.5 239.5M135.8 179.7L193.8 274.5M162.5 183.8L179.8 301.2M239.0 406.2L173.2 266.2M211.5 408.2L211.5 386.2M228.2 291.2L208.8 235.0M278.8 237.5L227.2 413.8M122.5 325.0L139.2 373.8M203.8 293.8L162.3 404.2M315.8 366.2L209.0 424.0M339.2 212.5L155.5 192.7M286.2 229.5L168.0 328.7M313.8 283.8L187.5 300.0M315.6 212.5L376.8 282.0M226.2 232.8L213.9 360.0M316.2 235.0L184.2 350.5M195.8 283.8L151.2 375.8M113.5 295.4L106.2 303.0M265.0 178.8L339.2 212.5M313.8 283.8L229.2 309.0M218.6 127.5L156.2 288.8M205.4 185.4L185.0 245.0M151.2 224.5L97.5 245.0M304.2 267.5L242.5 291.0M306.2 228.2L205.0 232.5M358.8 292.0L327.0 357.5M238.0 330.0L258.8 326.2M173.2 266.2L155.0 304.5M215.5 345.0L171.2 305.8M211.5 386.2L156.2 288.8M173.2 266.2L136.2 317.5M316.2 235.0L336.2 308.0M222.7 178.4L187.5 300.0M171.2 305.8L181.2 400.4M221.2 291.2L192.5 402.5M325.3 208.4L293.8 334.4M203.8 293.8L200.0 351.2M309.2 252.5L288.8 299.2M258.8 406.2L225.0 360.0M148.2 173.8L253.0 363.8M174.2 381.8L155.5 425.0M337.5 195.0L238.2 186.2M372.5 329.4L233.8 421.5M258.8 326.2L244.5 230.4M228.2 291.2L106.2 303.0M315.6 212.5L360.5 366.2M203.8 293.8L337.5 363.0M115.0 271.2L171.2 305.8M272.5 133.8L366.2 278.8M238.2 186.2L202.5 317.5M215.2 287.2L147.5 265.5M229.2 309.0L191.8 262.0M293.0 250.0L123.0 340.0M162.5 278.8L111.2 342.5M284.5 212.3L184.2 345.0M226.2 232.8L297.5 345.0M207.0 251.5L180.0 429.4M356.8 197.5L239.0 406.2M185.0 245.0L202.5 317.5M138.2 264.5L156.2 288.8M221.2 291.2L156.2 288.8M220.0 186.8L293.0 250.0M288.8 318.8L360.5 366.2M161.0 421.5L151.2 375.8M321.8 225.0L278.8 237.5M271.2 342.5L151.2 375.8M266.8 195.5L160.0 199.7M323.0 298.2L246.2 300.0M229.2 309.0L161.0 421.5M159.8 137.2L291.8 132.5M270.0 252.5L246.2 269.5M126.8 230.8L165.0 380.0M111.3 169.8L152.0 245.8M222.5 213.5L236.2 280.0M288.8 299.2L390.8 351.2M203.8 293.8L184.2 345.0M302.5 414.5L215.5 345.0M283.2 273.0L195.8 283.8M270.0 153.0L323.0 258.2M303.8 383.2L205.0 232.5M246.2 300.0L157.5 239.5M288.8 318.8L252.5 352.5M278.0 167.5L215.2 287.2M238.2 186.2L210.7 196.3M245.0 143.8L191.8 262.0M220.0 186.8L205.5 358.5M258.8 176.2L161.2 337.5M358.8 292.0L221.2 324.0M349.2 297.5L238.0 330.0M284.5 212.3L323.0 298.2M348.2 156.2L305.0 397.0M237.0 387.0L120.0 362.5M241.2 201.2L270.0 231.2M348.2 156.2L339.2 212.5M230.6 164.4L191.2 184.4M111.2 342.5L125.0 393.4M208.8 235.0L93.0 360.5M286.2 229.5L255.5 245.8M156.2 288.8L102.5 322.5M323.0 298.2L268.7 165.6M260.5 288.8L171.8 244.5M222.7 178.4L202.5 317.5M236.2 280.0L195.8 283.8M212.6 160.0L202.5 317.5M326.2 322.5L185.0 245.0M139.2 373.8L117.5 387.5M212.6 160.0L244.5 230.4M97.5 245.0L192.5 402.5M213.8 312.7L123.2 290.8M353.0 167.5L173.8 222.5M335.0 280.0L258.8 406.2M160.0 221.6L193.8 274.5M340.0 330.0L149.5 332.5M291.8 132.5L247.5 211.3M207.0 251.5L184.6 198.0M203.8 293.8L149.5 332.5M246.2 300.0L165.0 380.0M315.8 376.2L263.8 361.2M316.2 235.0L255.5 245.8M306.2 228.2L315.8 376.2M243.8 416.0L200.0 351.2M168.8 439.8L185.0 245.0M205.4 185.4L127.5 200.3M270.0 231.2L202.5 317.5M265.8 464.5L173.2 266.2M222.5 213.5L136.2 317.5M265.0 178.8L316.2 200.0M162.5 183.8L284.5 212.3M258.8 135.5L309.2 176.2M246.2 269.5L205.5 358.5M205.5 358.5L184.6 198.0M221.2 324.0L168.0 328.7M238.0 330.0L118.2 310.8M351.2 229.5L321.8 225.0M293.8 334.4L253.0 363.8M286.2 229.5L266.2 265.0M266.2 265.0L242.5 291.0M71.2 321.2L122.5 325.0M184.6 198.0L171.2 305.8M274.2 393.2L191.8 262.0M137.0 222.5L171.2 305.8M191.8 262.0L200.0 351.2M266.2 265.0L200.0 351.2M348.2 156.2L220.0 186.8M302.5 414.5L197.5 330.0M221.2 324.0L174.2 381.8M215.5 345.0L168.0 328.7M91.2 331.8L156.2 348.8M245.5 168.8L191.8 262.0M265.0 324.6L164.2 388.2M226.2 232.8L238.8 340.0M255.0 216.8L173.2 266.2M198.6 143.5L230.6 164.4M191.8 262.0L197.5 330.0M63.8 328.8L197.3 301.5M323.0 258.2L193.8 274.5M182.7 131.5L222.7 178.4M238.0 330.0L156.2 348.8M272.5 333.5L147.5 385.8M122.5 325.0L127.5 352.5M260.1 107.4L213.9 360.0M242.5 291.0L149.5 332.5M221.2 324.0L186.2 320.0M91.2 331.8L162.3 404.2M309.2 252.5L376.8 282.0M327.0 357.5L303.8 383.2M243.8 416.0L187.5 300.0M258.8 326.2L251.2 385.0M284.5 212.3L237.5 236.2M128.8 420.0L168.0 328.7M79.2 345.0L111.2 342.5M191.8 262.0L82.0 286.0M93.0 360.5L165.0 380.0M122.5 325.0L186.2 320.0M220.0 186.8L286.2 229.5M256.8 422.0L263.8 361.2M160.0 221.6L94.5 379.2M278.8 237.5L288.8 318.8M237.5 236.2L155.0 304.5M288.8 318.8L275.0 437.5M252.5 352.5L202.5 317.5M209.0 424.0L238.8 340.0M278.0 167.5L237.5 236.2M337.5 260.0L265.5 248.8M258.8 176.2L207.0 251.5M173.8 222.5L149.5 332.5M228.2 246.0L106.2 303.0M358.8 292.0L238.8 340.0M207.2 439.8L181.2 400.4M353.0 400.5L278.2 405.0M213.9 360.0L127.5 352.5M184.2 350.5L200.0 351.2M260.5 288.8L151.2 224.5M333.2 175.8L356.8 197.5M279.5 377.5L209.0 424.0M322.9 337.9L278.2 405.0M211.5 408.2L143.8 351.2M288.8 318.8L91.2 331.8M228.2 291.2L271.2 342.5M126.8 249.2L123.2 290.8M240.8 130.2L223.0 140.0M151.8 279.2L155.0 304.5M175.8 394.5L168.0 328.7M244.5 230.4L137.0 222.5M242.5 291.0L186.2 320.0M253.0 373.8L113.5 295.4M242.5 291.0L157.5 239.5M240.8 130.2L202.5 200.9M255.0 216.8L164.2 388.2M151.8 279.2L111.2 342.5M221.2 324.0L157.0 318.8M270.0 231.2L207.0 251.5M222.7 178.4L112.5 248.0M223.0 140.0L226.2 232.8M326.2 322.5L279.5 377.5M227.2 413.8L161.0 421.5M215.2 287.2L118.2 310.8M311.8 393.8L335.0 410.8M199.5 176.2L268.7 165.6M184.6 198.0L62.5 248.8M309.2 252.5L366.2 278.8M199.5 176.2L184.2 350.5M228.2 291.2L175.8 394.5M238.2 186.2L344.5 245.0M210.7 196.3L293.8 334.4M180.0 429.4L162.3 404.2M286.2 158.2L258.8 326.2M360.5 366.2L191.8 262.0M265.5 248.8L152.0 245.8M237.0 387.0L161.2 337.5M255.0 216.8L387.5 264.5M223.0 140.0L202.5 200.9M207.0 251.5L278.2 405.0M316.2 200.0L326.8 286.2M228.2 291.2L275.0 437.5M211.5 386.2L173.2 266.2M291.8 132.5L213.9 360.0M246.2 269.5L316.8 312.5M138.2 264.5L162.5 278.8M286.2 229.5L237.5 236.2M335.8 383.8L138.2 264.5M195.8 283.8L171.2 305.8M221.2 324.0L207.0 251.5M137.0 222.5L122.5 325.0M170.8 340.0L139.2 373.8M242.5 291.0L243.8 416.0M122.5 325.0L179.8 301.2M231.6 140.9L147.5 385.8M100.0 408.8L143.8 351.2M247.5 211.3L258.8 326.2M151.8 279.2L102.5 322.5M250.8 147.5L316.2 200.0M95.0 235.0L157.0 318.8M293.0 250.0L183.8 285.6M181.2 400.4L197.3 301.5M140.8 285.2L149.5 332.5M199.5 176.2L309.2 252.5M208.8 270.6L297.5 345.0M265.5 248.8L207.0 251.5M315.8 376.2L157.5 239.5M325.0 433.5L253.0 373.8M288.8 318.8L297.5 345.0M246.2 269.5L349.2 362.5M208.8 270.6L111.8 228.8M136.2 317.5L192.5 402.5M278.0 167.5L266.8 195.5M225.0 360.0L238.8 340.0M238.0 330.0L288.8 318.8M184.6 198.0L185.0 245.0M321.8 225.0L325.0 433.5M108.0 142.0L126.8 230.8M265.5 248.8L238.8 340.0M111.8 228.8L126.8 230.8M265.0 324.6L251.2 385.0M262.0 395.8L120.0 362.5M286.0 456.0L253.0 363.8M215.2 287.2L123.2 290.8M376.8 282.0L268.7 165.6M205.4 185.4L202.5 200.9M193.8 274.5L200.0 351.2M231.6 140.9L292.5 183.8M337.5 260.0L360.5 366.2M222.7 178.4L266.2 265.0M211.5 408.2L138.2 264.5M339.2 212.5L336.2 308.0M335.8 383.8L274.2 393.2M126.8 265.0L186.2 320.0M326.2 322.5L253.0 373.8M253.0 373.8L225.0 360.0M208.8 270.6L123.2 290.8M247.5 211.3L270.0 252.5M265.5 248.8L340.0 330.0M253.0 363.8L170.8 340.0M286.2 229.5L185.0 245.0M246.2 269.5L286.0 456.0M151.2 224.5L193.8 274.5M252.5 352.5L195.8 283.8M180.0 429.4L151.2 375.8M155.0 304.5L179.8 301.2M250.8 147.5L229.2 309.0M242.5 291.0L263.8 361.2M293.8 334.4L313.8 429.4M205.5 358.5L139.2 373.8M240.8 130.2L230.6 164.4M270.0 252.5L315.8 376.2M155.5 192.7L205.0 232.5M173.8 222.5L183.8 285.6M260.5 288.8L164.2 388.2M286.2 229.5L315.8 376.2M171.2 305.8L187.5 300.0M253.8 205.2L164.2 388.2M237.5 236.2L268.7 165.6M210.7 196.3L126.8 249.2M222.5 213.5L349.2 362.5M253.8 205.2L268.7 165.6M231.6 140.9L337.5 195.0M160.0 221.6L195.8 283.8M348.2 271.2L202.5 317.5M316.2 235.0L321.8 225.0M316.2 235.0L283.2 273.0M353.0 167.5L336.2 308.0M244.5 230.4L200.0 351.2M313.8 283.8L171.2 305.8M138.2 264.5L186.2 320.0M246.2 300.0L208.8 270.6M253.0 363.8L165.0 380.0M228.2 246.0L302.5 414.5M209.0 424.0L180.0 429.4M242.5 291.0L184.2 350.5M215.5 345.0L113.5 295.4M148.2 173.8L236.2 280.0M241.2 201.2L160.0 199.7M244.5 230.4L184.6 198.0M171.8 244.5L157.5 239.5M255.0 216.8L205.0 232.5M272.5 333.5L181.2 400.4M159.8 137.2L116.2 367.5M326.2 322.5L305.0 397.0M136.2 317.5L184.2 345.0M91.2 331.8L149.5 332.5M351.2 229.5L348.2 271.2M140.8 285.2L179.8 301.2M210.7 196.3L152.0 245.8M241.2 201.2L242.5 291.0M226.2 232.8L193.8 274.5M198.1 160.0L309.2 176.2M255.0 216.8L205.4 185.4M229.2 309.0L360.5 366.2M306.6 190.0L316.2 235.0M284.5 212.3L252.5 352.5M283.2 273.0L390.8 351.2M180.0 229.0L85.8 301.2M304.2 267.5L180.0 229.0M226.0 456.8L164.2 388.2M213.8 312.7L102.5 322.5M258.8 176.2L255.5 245.8M122.5 325.0L184.2 345.0M181.1 174.8L111.8 228.8M246.2 269.5L191.2 184.4M266.8 195.5L293.8 334.4M247.5 211.3L265.0 324.6M243.8 416.0L188.8 435.4M208.8 270.6L197.5 330.0M211.5 386.2L136.2 317.5M337.5 195.0L387.5 264.5M238.0 330.0L293.8 334.4M157.5 239.5L170.8 340.0M313.8 429.4L200.0 351.2M111.2 342.5L157.0 318.8M180.0 229.0L157.5 239.5M213.9 360.0L179.8 301.2M103.8 332.5L168.0 328.7M203.8 293.8L238.8 340.0M171.2 305.8L164.2 388.2M188.8 435.4L125.0 393.4M168.8 439.8L175.8 394.5M65.8 243.0L126.8 265.0M270.0 153.0L173.8 222.5M82.0 286.0L122.5 325.0M340.0 330.0L244.5 230.4M183.8 285.6L174.2 381.8M183.8 285.6L159.5 400.8M100.0 408.8L187.5 300.0M314.5 158.8L337.5 195.0M253.8 205.2L270.0 252.5M258.8 406.2L191.8 262.0M297.0 147.5L258.8 176.2M192.5 402.5L168.0 328.7M162.5 278.8L111.2 425.8M187.5 300.0L197.3 301.5M240.8 130.2L205.0 232.5M227.2 413.8L161.2 337.5M297.0 147.5L160.0 199.7M313.8 283.8L293.8 334.4M358.8 292.0L365.0 395.8M337.5 260.0L244.5 230.4M306.2 228.2L226.2 232.8M275.0 437.5L233.8 421.5M316.2 235.0L348.2 271.2M315.8 366.2L225.0 360.0M152.0 245.8L197.5 330.0M303.0 311.2L244.5 230.4M322.9 337.9L266.2 452.2M126.8 230.8L151.2 224.5M205.4 185.4L270.0 252.5M112.5 202.5L99.2 217.5M225.0 360.0L205.5 358.5M213.8 312.7L136.2 317.5M250.8 147.5L266.8 195.5M280.0 182.5L255.5 245.8M225.0 360.0L98.8 355.0M155.5 192.7L155.0 304.5M289.2 171.2L238.8 340.0M333.2 175.8L238.2 186.2M168.8 439.8L202.5 317.5M241.2 201.2L266.2 265.0M222.5 213.5L304.2 267.5M152.0 245.8L118.2 310.8M208.8 270.6L184.2 350.5M255.0 216.8L255.5 245.8M333.2 175.8L278.8 237.5M122.5 325.0L168.0 328.7M193.8 274.5L63.0 305.8M140.8 285.2L168.0 328.7M215.2 287.2L238.0 330.0M221.2 324.0L147.5 265.5M230.6 164.4L337.5 260.0M270.0 252.5L227.2 413.8M247.5 211.3L210.7 196.3M272.5 333.5L193.8 274.5M238.0 330.0L157.0 318.8M209.0 424.0L136.2 317.5M237.5 236.2L168.0 328.7M266.2 265.0L208.8 235.0M117.5 333.8L168.0 328.7M224.2 390.0L174.2 381.8M305.0 397.0L161.0 421.5M241.2 201.2L226.2 232.8M309.2 252.5L326.2 322.5M227.2 413.8L111.2 425.8M211.5 386.2L65.8 243.0M278.0 167.5L293.0 250.0M247.5 211.3L151.8 279.2M333.2 175.8L286.0 456.0M157.0 318.8L184.2 350.5M266.2 265.0L157.0 318.8M180.0 429.4L139.2 373.8M272.5 133.8L221.2 291.2M263.8 361.2L174.2 381.8M258.8 176.2L228.2 246.0M270.0 231.2L191.2 184.4M288.8 299.2L293.8 334.4M222.5 213.5L252.5 352.5M278.0 167.5L156.2 288.8M211.5 408.2L256.8 422.0M193.8 274.5L62.5 362.5M228.2 246.0L179.8 301.2M265.5 248.8L274.2 393.2M173.2 266.2L106.2 303.0M311.8 393.8L186.2 320.0M288.8 299.2L168.0 328.7M171.5 105.0L265.5 248.8M170.8 340.0L187.5 300.0M236.2 280.0L143.8 351.2M335.0 280.0L213.8 312.7M303.8 383.2L297.5 345.0M265.0 324.6L116.2 367.5M210.7 196.3L191.2 184.4M258.8 406.2L253.0 373.8M186.2 320.0L162.3 404.2M337.5 260.0L233.8 421.5M161.0 421.5L156.2 348.8M245.0 143.8L258.8 176.2M199.5 176.2L183.8 285.6M191.8 262.0L123.2 290.8M278.0 167.5L183.8 285.6M102.5 322.5L174.2 381.8M246.2 97.7L202.5 200.9M252.5 352.5L205.0 232.5M95.0 235.0L205.0 232.5M224.2 390.0L181.2 400.4M263.8 361.2L225.0 360.0M315.6 212.5L258.8 326.2M278.0 167.5L202.5 317.5M149.5 332.5L184.2 345.0M315.8 376.2L211.5 386.2M92.5 202.0L136.2 317.5M220.0 186.8L207.0 251.5M313.8 283.8L236.2 280.0M311.8 393.8L157.0 318.8M387.5 264.5L288.8 299.2M210.5 149.4L241.2 201.2M97.5 245.0L197.3 301.5M247.5 211.3L316.8 312.5M104.5 264.2L113.5 295.4M339.2 212.5L303.0 311.2M231.6 140.9L185.0 245.0M255.0 216.8L306.2 228.2M246.2 269.5L168.0 328.7M210.7 196.3L270.0 231.2M211.5 386.2L200.0 351.2M244.5 230.4L173.8 222.5M228.2 291.2L140.8 285.2M95.0 235.0L140.8 285.2M323.0 298.2L229.2 309.0M98.8 355.0L187.5 300.0M315.6 212.5L358.8 292.0M353.0 167.5L384.5 245.0M280.0 182.5L323.0 298.2M155.0 304.5L174.2 381.8M326.2 322.5L168.0 328.7M185.0 245.0L179.8 301.2M314.5 158.8L327.0 357.5M277.5 300.8L207.0 251.5M202.5 200.9L215.5 345.0M265.0 324.6L195.8 283.8M212.6 160.0L159.5 400.8M215.2 287.2L305.0 397.0M337.5 195.0L270.0 252.5M366.8 227.0L277.5 300.8M277.5 300.8L224.2 390.0M280.0 182.5L208.8 270.6M326.8 286.2L244.5 230.4M123.0 340.0L202.5 317.5M155.5 192.7L179.8 301.2M266.2 265.0L151.2 375.8M82.0 286.0L171.2 305.8M241.2 201.2L256.8 422.0M270.0 231.2L228.2 246.0M265.0 178.8L207.0 251.5M255.5 245.8L193.8 274.5M321.8 225.0L174.2 381.8M288.8 318.8L325.0 433.5M331.2 329.6L251.2 385.0M215.2 287.2L168.0 328.7M250.8 147.5L244.5 230.4M167.6 118.0L173.2 266.2M151.2 224.5L205.0 232.5M188.6 143.0L315.6 212.5M241.2 201.2L347.2 332.8M151.2 224.5L184.2 345.0M280.0 182.5L355.0 243.8M291.8 132.5L160.0 199.7M242.5 291.0L173.2 266.2M348.2 156.2L255.0 216.8M195.8 283.8L117.5 333.8M240.8 130.2L236.2 280.0M168.0 328.7L197.3 301.5M306.6 190.0L283.2 273.0M247.5 211.3L242.5 291.0M188.6 143.0L210.5 149.4M300.0 156.0L250.8 147.5M325.0 433.5L156.2 288.8M71.2 321.2L136.2 317.5M184.6 198.0L111.2 342.5M198.6 143.5L253.8 205.2M184.6 198.0L125.0 393.4M152.0 245.8L147.5 265.5M246.2 269.5L191.8 262.0M272.5 333.5L361.2 333.0M175.0 316.2L111.2 425.8M260.5 288.8L174.2 381.8M347.2 332.8L205.0 232.5M315.8 366.2L239.0 406.2M182.7 131.5L162.5 278.8M270.0 231.2L260.5 288.8M322.9 337.9L293.2 385.8M191.2 184.4L89.2 268.0M245.5 168.8L265.0 178.8M188.6 143.0L247.5 211.3M79.5 228.0L168.0 328.7M277.5 300.8L213.8 312.7M323.0 258.2L288.8 299.2M245.0 143.8L265.5 248.8M302.5 414.5L205.0 232.5M89.2 268.0L147.5 265.5M336.2 308.0L185.0 245.0M240.8 130.2L284.5 212.3M208.8 270.6L157.0 318.8M203.8 293.8L184.2 350.5M238.2 186.2L126.8 230.8M208.8 270.6L162.5 278.8M236.2 280.0L162.5 278.8M323.0 258.2L293.0 250.0M278.8 237.5L303.0 311.2M266.2 452.2L243.8 416.0M288.8 299.2L193.8 274.5M337.5 260.0L228.2 291.2M233.8 421.5L253.0 363.8M215.2 287.2L173.8 222.5M245.0 143.8L191.2 184.4M85.5 184.6L202.5 200.9M258.8 326.2L120.0 362.5M246.2 300.0L138.2 264.5M315.6 212.5L225.0 360.0M123.0 340.0L127.5 352.5M221.2 324.0L380.8 350.5M339.2 212.5L242.5 291.0M207.2 439.8L278.2 405.0M270.0 231.2L348.2 271.2M314.5 158.8L356.8 197.5M300.0 156.0L320.8 183.2M191.2 184.4L268.7 165.6M323.0 258.2L185.0 245.0M258.8 135.5L244.5 230.4M289.2 171.2L220.0 186.8M140.8 285.2L175.0 316.2M246.2 269.5L213.8 312.7M186.2 320.0L268.7 165.6M300.0 156.0L247.5 211.3M211.5 408.2L173.2 266.2M207.0 251.5L184.2 345.0M278.0 167.5L320.8 183.2M243.8 457.8L224.2 390.0M278.8 237.5L180.0 229.0M143.8 351.2L179.8 301.2M247.5 211.3L127.5 200.3M156.2 348.8L155.5 425.0M348.2 271.2L208.8 235.0M82.0 286.0L118.2 310.8M126.8 265.0L183.8 285.6M157.0 318.8L200.0 351.2M220.0 186.8L351.2 229.5M213.8 312.7L228.2 246.0M278.2 405.0L224.2 390.0M387.5 264.5L306.2 228.2M195.8 283.8L175.8 394.5M203.8 293.8L156.2 288.8M284.5 212.3L271.2 342.5M258.8 176.2L195.8 283.8M213.8 312.7L205.0 232.5M211.5 112.7L199.5 176.2M309.2 252.5L252.5 352.5M207.0 251.5L197.5 330.0M226.2 232.8L335.8 383.8M123.2 290.8L127.5 352.5M69.5 257.5L143.8 351.2M272.5 133.8L238.2 186.2M212.6 160.0L197.3 301.5M143.8 351.2L164.2 388.2M253.8 205.2L309.2 252.5M316.2 200.0L143.8 351.2M243.8 457.8L256.8 422.0M309.2 176.2L344.5 245.0M326.2 322.5L205.5 358.5M222.5 213.5L82.0 286.0M292.5 183.8L320.8 183.2M283.2 273.0L152.0 245.8M238.2 186.2L191.2 184.4M99.2 217.5L173.2 266.2M199.5 176.2L270.0 231.2M162.5 183.8L265.0 324.6M102.5 322.5L103.8 332.5M237.5 236.2L321.8 404.5M303.0 311.2L168.0 328.7M210.5 149.4L171.8 244.5M113.5 295.4L122.5 325.0M336.2 308.0L360.8 404.5M230.6 164.4L222.5 213.5M291.8 132.5L297.0 147.5M258.8 176.2L341.8 181.2M211.5 408.2L191.8 262.0M211.5 112.7L210.5 149.4M251.2 385.0L180.0 429.4M231.6 140.9L187.5 300.0M288.8 299.2L322.9 337.9M211.5 386.2L147.5 385.8M202.5 200.9L106.2 303.0M270.0 252.5L278.2 405.0M173.2 266.2L120.0 362.5M238.0 330.0L360.5 366.2M143.8 351.2L184.2 350.5M237.0 387.0L161.0 421.5M221.2 291.2L152.0 245.8M293.2 385.8L213.9 360.0M212.6 160.0L184.6 198.0M258.8 176.2L180.0 229.0M236.2 280.0L246.2 300.0M316.2 235.0L192.5 402.5M203.8 293.8L226.0 456.8M337.5 260.0L348.2 271.2M265.5 248.8L173.2 266.2M62.5 248.8L179.8 301.2M341.8 181.2L236.2 280.0M306.6 190.0L278.8 237.5M170.8 340.0L202.5 317.5M253.0 373.8L125.0 393.4M265.0 178.8L161.2 337.5M266.8 195.5L256.8 422.0M215.2 287.2L228.2 246.0M147.5 385.8L164.2 388.2M300.0 156.0L321.8 225.0M222.5 213.5L293.0 250.0M326.8 286.2L348.2 271.2M92.5 202.0L191.2 184.4M306.6 190.0L339.2 212.5M231.6 140.9L222.5 213.5M286.0 456.0L263.8 361.2M280.0 182.5L266.2 203.8M277.5 300.8L331.2 329.6M230.6 164.4L258.8 406.2M160.0 221.6L126.8 249.2M293.0 250.0L225.0 360.0M152.0 245.8L126.8 249.2M348.2 156.2L303.0 311.2M320.8 183.2L337.5 260.0M316.8 312.5L390.8 351.2M270.0 252.5L112.5 248.0M280.0 182.5L284.5 212.3M228.2 246.0L53.8 315.8M187.5 300.0L125.0 393.4M226.2 232.8L132.5 360.0M224.2 390.0L168.8 439.8M173.2 266.2L197.5 330.0M237.5 236.2L183.8 285.6M262.0 395.8L156.2 348.8M255.0 216.8L207.0 251.5M221.2 291.2L186.2 320.0M265.0 178.8L315.6 212.5M111.8 228.8L157.5 239.5M219.6 105.8L240.8 130.2M325.3 208.4L220.0 186.8M270.0 231.2L185.0 245.0M320.8 183.2L247.5 211.3M183.8 285.6L170.8 340.0M246.2 300.0L209.0 424.0M255.5 245.8L266.2 265.0M255.0 216.8L222.5 213.5M286.0 456.0L180.0 429.4M245.5 168.8L289.2 171.2M278.0 167.5L289.2 171.2M275.0 437.5L187.5 300.0M211.5 408.2L227.2 413.8M293.8 334.4L360.5 366.2M219.6 105.8L162.5 278.8M173.2 266.2L118.2 310.8M225.0 360.0L175.8 394.5M215.2 287.2L246.2 300.0M326.8 286.2L335.8 383.8M174.2 381.8L128.8 420.0M161.0 421.5L162.5 278.8M203.8 293.8L160.0 221.6M331.2 329.6L195.8 283.8M157.0 318.8L175.0 316.2M151.8 279.2L170.8 340.0M123.2 290.8L106.2 303.0M203.8 293.8L156.2 348.8M245.5 168.8L168.0 328.7M309.2 252.5L316.8 312.5M208.8 235.0L179.8 301.2M221.2 291.2L193.8 458.2M366.8 227.0L303.0 311.2M123.2 290.8L96.2 302.5M242.5 291.0L258.8 326.2M255.5 245.8L147.5 265.5M185.0 245.0L181.2 400.4M64.6 286.0L165.0 380.0M207.0 251.5L173.8 222.5M140.8 285.2L125.0 393.4M222.7 178.4L293.0 250.0M237.5 236.2L211.5 408.2M250.8 147.5L292.5 183.8M356.8 197.5L283.2 273.0M351.2 229.5L260.5 288.8M315.6 212.5L335.0 280.0M132.5 360.0L117.5 387.5M211.5 112.7L208.8 235.0M152.0 245.8L115.0 271.2M293.8 334.4L147.5 385.8M99.2 217.5L118.2 310.8M205.0 232.5L104.5 264.2M311.8 393.8L262.0 395.8M147.5 385.8L168.0 328.7M229.2 309.0L156.2 348.8M161.0 421.5L123.0 340.0M148.2 173.8L191.8 262.0M331.2 329.6L349.2 362.5M246.2 269.5L227.2 413.8M255.0 216.8L288.8 299.2M229.2 309.0L224.2 390.0M260.5 288.8L175.0 316.2M358.8 292.0L336.2 308.0M228.2 291.2L170.8 340.0M126.8 249.2L156.2 288.8M260.5 288.8L203.8 293.8M258.8 406.2L179.8 301.2M258.8 406.2L132.5 360.0M355.0 243.8L203.8 293.8M237.0 387.0L152.0 245.8M348.2 271.2L326.2 322.5M323.0 258.2L226.2 232.8M211.5 386.2L197.3 301.5M241.2 201.2L209.0 424.0M228.2 291.2L258.8 326.2M309.2 252.5L270.0 252.5M137.2 168.9L246.2 300.0M161.2 337.5L174.2 381.8M284.5 212.3L221.2 291.2M270.0 153.0L202.5 200.9M184.2 350.5L179.8 301.2M246.2 97.7L384.5 245.0M171.5 105.0L237.5 236.2M306.6 190.0L151.2 224.5M376.8 282.0L184.2 350.5M335.8 383.8L251.2 385.0M266.2 265.0L117.5 387.5M274.2 393.2L117.5 333.8M238.2 186.2L270.0 231.2M347.2 332.8L327.0 357.5M188.6 143.0L180.0 229.0M239.0 406.2L168.8 439.8M344.5 245.0L208.8 270.6M160.0 199.7L136.2 317.5M183.8 285.6L165.0 380.0M238.2 186.2L195.8 283.8M245.5 168.8L180.0 229.0M283.2 273.0L157.5 239.5M198.6 143.5L212.6 160.0M293.0 250.0L316.2 235.0M293.0 250.0L157.0 318.8M127.5 200.3L118.2 310.8M349.2 297.5L149.5 332.5M231.6 140.9L89.2 268.0M116.2 367.5L165.0 380.0M320.8 183.2L253.8 205.2M255.0 216.8L242.5 291.0M212.6 160.0L315.6 212.5M309.2 252.5L278.8 237.5M93.0 360.5L98.8 355.0M280.0 182.5L335.0 280.0M331.2 329.6L180.0 229.0M309.2 252.5L265.5 248.8M253.8 205.2L335.0 280.0M111.2 342.5L155.0 304.5M325.3 208.4L237.5 236.2M222.5 213.5L336.2 308.0M246.2 300.0L211.5 386.2M219.6 105.8L236.2 280.0M303.0 311.2L226.2 232.8M228.2 246.0L184.2 345.0M229.2 309.0L186.2 320.0M293.8 334.4L208.8 235.0M309.2 252.5L277.5 300.8M222.5 213.5L203.8 293.8M151.2 224.5L160.0 221.6M151.8 279.2L132.5 360.0M202.5 200.9L207.2 439.8M212.6 160.0L152.0 245.8M246.2 269.5L162.5 278.8M258.8 326.2L193.8 274.5M156.2 288.8L127.5 352.5M344.5 245.0L278.8 237.5M266.2 265.0L122.5 325.0M286.2 229.5L184.2 345.0M313.8 283.8L233.8 421.5M361.2 333.0L262.0 395.8M351.2 229.5L229.2 309.0M239.0 406.2L123.0 340.0M160.0 221.6L187.5 300.0M63.8 328.8L128.8 420.0M300.0 156.0L246.2 269.5M293.0 250.0L260.5 288.8M213.8 312.7L138.2 264.5M237.0 387.0L179.8 301.2M203.8 293.8L253.0 373.8M151.8 279.2L184.2 345.0M215.2 287.2L271.2 342.5M241.2 201.2L99.2 217.5M203.8 293.8L183.8 285.6M215.2 287.2L184.6 198.0M185.0 245.0L187.5 300.0M223.0 140.0L292.5 183.8M288.8 299.2L186.2 320.0M341.8 181.2L220.0 186.8M275.0 437.5L256.8 422.0M161.0 166.8L79.5 228.0M300.0 156.0L237.5 236.2M218.6 127.5L157.5 239.5M315.6 212.5L244.5 230.4M228.2 291.2L238.8 340.0M293.0 250.0L321.8 225.0M313.8 283.8L349.2 297.5M162.5 278.8L195.8 283.8M272.5 133.8L185.0 245.0M120.0 362.5L192.5 402.5M208.8 235.0L187.5 300.0M348.2 156.2L255.5 245.8M277.5 300.8L251.2 385.0M286.2 158.2L210.7 196.3M245.0 143.8L316.2 235.0M358.8 292.0L205.0 232.5M266.8 195.5L226.2 232.8M149.5 332.5L179.8 301.2M315.8 366.2L136.2 317.5M205.4 185.4L207.0 251.5M207.0 251.5L123.2 290.8M151.8 279.2L156.2 288.8M316.8 312.5L208.8 235.0M293.8 334.4L365.0 395.8M222.7 178.4L173.2 266.2M221.2 291.2L164.2 388.2M266.8 195.5L187.5 300.0M238.0 330.0L159.5 400.8M212.6 160.0L314.5 158.8M339.2 212.5L252.5 352.5M171.5 105.0L244.5 230.4M266.2 452.2L262.0 395.8M155.0 304.5L128.8 420.0M238.8 340.0L140.8 285.2M228.2 291.2L195.8 283.8M309.2 252.5L238.0 330.0M387.5 264.5L265.5 248.8M300.0 156.0L293.2 385.8M245.5 168.8L220.0 186.8M210.5 149.4L215.2 287.2M221.2 324.0L263.8 361.2M91.2 331.8L171.2 305.8M226.2 232.8L197.3 301.5M253.0 373.8L89.2 415.0M278.8 237.5L171.8 244.5M266.2 265.0L171.8 244.5M237.5 236.2L171.8 244.5M85.5 184.6L289.2 171.2M253.0 363.8L168.8 439.8M93.0 360.5L155.5 425.0M323.0 298.2L181.2 400.4M309.2 176.2L205.0 232.5M303.0 311.2L390.8 351.2M198.6 143.5L151.2 224.5M175.0 316.2L202.5 317.5M215.5 345.0L183.8 285.6M162.5 183.8L245.5 168.8M351.2 229.5L228.2 291.2M286.2 158.2L278.8 237.5M260.5 288.8L238.0 330.0M148.2 173.8L253.8 205.2M316.2 235.0L191.8 262.0M237.0 387.0L191.8 262.0M237.0 387.0L96.2 302.5M219.6 105.8L126.8 230.8M160.0 199.7L165.0 380.0M220.0 186.8L173.2 266.2M64.6 286.0L161.2 337.5M255.5 245.8L215.5 345.0M185.0 245.0L53.8 315.8M288.8 299.2L286.0 456.0M316.8 312.5L253.0 363.8M247.5 211.3L270.0 231.2M313.8 283.8L252.5 352.5M284.5 212.3L241.2 201.2M147.5 385.8L181.2 400.4M277.5 300.8L213.9 360.0M265.5 248.8L184.6 198.0M286.2 229.5L205.0 232.5M212.6 160.0L148.2 173.8M271.2 342.5L184.2 345.0M253.8 205.2L152.0 245.8M162.5 278.8L181.2 400.4M152.0 245.8L69.5 257.5M211.5 408.2L263.8 361.2M255.5 245.8L268.7 165.6M79.5 228.0L123.0 340.0M185.0 245.0L123.0 340.0M202.5 317.5L125.0 393.4M221.2 291.2L125.0 393.4M289.2 171.2L222.5 213.5M212.6 160.0L238.2 186.2M288.8 299.2L315.8 376.2M147.5 265.5L179.8 301.2M303.0 311.2L258.8 326.2M239.0 406.2L175.0 316.2M198.6 143.5L191.2 184.4M335.0 280.0L221.2 291.2M198.1 160.0L126.8 230.8M183.8 285.6L161.2 337.5M340.0 330.0L238.8 340.0M93.0 360.5L102.5 322.5M199.5 176.2L162.5 278.8M182.7 131.5L220.0 186.8M112.5 202.5L197.3 301.5M111.2 342.5L168.0 328.7M260.5 288.8L179.8 301.2M199.5 176.2L272.5 133.8M162.5 278.8L102.5 322.5M202.5 200.9L215.2 287.2M241.2 201.2L157.5 239.5M116.2 367.5L159.5 400.8M212.6 160.0L272.5 133.8M193.8 458.2L175.0 316.2M316.2 200.0L266.8 195.5M238.2 186.2L156.2 288.8M255.0 216.8L277.5 300.8M126.8 249.2L195.8 283.8M157.5 239.5L175.0 316.2M293.0 250.0L162.3 404.2M258.8 135.5L208.8 270.6M193.8 274.5L149.5 332.5M322.9 337.9L207.0 251.5M306.2 228.2L136.2 317.5M229.2 309.0L123.2 290.8M262.0 395.8L225.0 360.0M161.0 166.8L230.6 164.4M265.5 248.8L268.7 165.6M284.5 212.3L246.2 269.5M199.5 176.2L205.0 232.5M230.6 164.4L208.8 235.0M212.6 160.0L173.8 222.5M241.2 201.2L260.5 288.8M284.5 212.3L205.0 232.5M221.2 291.2L117.5 387.5M161.0 421.5L170.8 340.0M140.8 285.2L157.0 318.8M244.5 230.4L170.8 340.0M180.0 429.4L171.2 305.8M115.0 271.2L147.5 265.5M253.0 363.8L265.8 464.5M321.8 225.0L183.8 285.6M93.0 360.5L168.0 328.7M283.2 273.0L175.0 316.2M173.2 266.2L156.2 288.8M213.8 312.7L211.5 386.2M218.6 127.5L208.8 235.0M270.0 231.2L159.5 400.8M140.8 285.2L127.5 352.5M253.8 205.2L187.5 300.0M184.6 198.0L197.3 301.5M253.0 373.8L183.8 285.6M278.8 237.5L246.2 300.0M205.5 358.5L127.5 352.5M186.2 320.0L168.0 328.7M89.2 415.0L127.5 352.5M258.8 135.5L202.5 200.9M238.0 330.0L262.0 395.8M270.0 252.5L197.3 301.5M221.2 324.0L279.5 377.5M171.8 244.5L155.5 425.0M106.2 303.0L122.5 325.0M238.8 340.0L187.5 300.0M213.8 312.7L315.8 366.2M205.0 232.5L127.5 352.5M266.2 452.2L193.8 458.2M260.5 288.8L221.2 324.0M289.2 171.2L160.0 221.6M162.5 183.8L255.0 216.8M213.8 312.7L180.0 429.4M225.0 360.0L191.8 262.0M286.2 229.5L156.2 288.8M260.5 288.8L162.5 278.8M272.5 133.8L270.0 153.0M203.8 293.8L93.0 360.5M171.5 105.0L182.7 131.5M171.5 105.0L198.6 143.5M167.6 118.0L159.8 137.2M167.6 118.0L211.5 112.7M211.5 112.7L182.7 131.5M211.5 112.7L231.6 140.9M219.6 105.8L223.0 140.0M218.6 127.5L223.0 140.0M218.6 127.5L245.0 143.8M182.7 131.5L188.6 143.0M182.7 131.5L198.6 143.5M159.8 137.2L148.2 173.8M159.8 137.2L161.0 166.8M111.4 133.6L117.3 133.0M111.4 133.6L111.3 169.8M117.3 133.0L132.8 142.6M117.3 133.0L135.8 179.7M167.6 118.0L117.3 133.0M117.3 133.0L137.2 168.9M108.0 142.0L111.3 169.8M108.0 142.0L137.2 168.9M132.8 142.6L137.2 168.9M132.8 142.6L111.3 169.8M159.8 137.2L132.8 142.6M132.8 142.6L135.8 179.7M188.6 143.0L198.6 143.5M188.6 143.0L199.5 176.2M188.6 143.0L161.0 166.8M210.5 149.4L199.5 176.2M210.5 149.4L222.7 178.4M198.1 160.0L181.1 174.8M210.5 149.4L198.1 160.0M212.6 160.0L205.4 185.4M212.6 160.0L210.7 196.3M161.0 166.8L162.5 183.8M161.0 166.8L135.8 179.7M161.0 166.8L160.0 199.7M111.3 169.8L101.2 182.6M137.2 168.9L135.8 179.7M148.2 173.8L181.1 174.8M148.2 173.8L155.5 192.7M148.2 173.8L135.8 179.7M148.2 173.8L127.5 200.3M135.8 179.7L162.5 183.8M181.1 174.8L184.6 198.0M181.1 174.8L210.7 196.3M199.5 176.2L222.7 178.4M135.8 179.7L101.2 182.6M101.2 182.6L85.5 184.6M85.5 184.6L112.5 202.5M85.5 184.6L92.5 202.0M85.5 184.6L79.5 228.0M162.5 183.8L160.0 199.7M162.5 183.8L155.5 192.7M181.1 174.8L162.5 183.8M162.5 183.8L202.5 200.9M219.6 105.8L246.2 97.7M246.2 97.7L245.0 143.8M246.2 97.7L258.8 135.5M218.6 127.5L246.2 97.7M212.6 160.0L240.8 130.2M258.8 135.5L270.0 153.0M258.8 135.5L245.5 168.8M258.8 135.5L231.6 140.9M240.8 130.2L258.8 135.5M258.8 135.5L272.5 133.8M272.5 133.8L297.0 147.5M291.8 132.5L270.0 153.0M291.8 132.5L278.0 167.5M348.2 156.2L333.2 175.8M348.2 156.2L341.8 181.2M348.2 156.2L337.5 195.0M353.0 167.5L356.8 197.5M353.0 167.5L314.5 158.8M297.0 147.5L286.2 158.2M314.5 158.8L286.2 158.2M314.5 158.8L292.5 183.8M286.2 158.2L270.0 153.0M286.2 158.2L258.8 176.2M300.0 156.0L278.0 167.5M300.0 156.0L280.0 182.5M270.0 153.0L265.0 178.8M245.0 143.8L245.5 168.8M270.0 153.0L245.0 143.8M245.0 143.8L250.8 147.5M270.0 153.0L250.8 147.5M198.6 143.5L231.6 140.9M210.5 149.4L223.0 140.0M230.6 164.4L222.7 178.4M230.6 164.4L238.2 186.2M212.6 160.0L230.6 164.4M199.5 176.2L230.6 164.4M245.5 168.8L241.2 201.2M245.5 168.8L280.0 182.5M265.0 178.8L258.8 176.2M245.5 168.8L258.8 176.2M289.2 171.2L280.0 182.5M270.0 153.0L289.2 171.2M280.0 182.5L266.8 195.5M280.0 182.5L292.5 183.8M265.0 178.8L292.5 183.8M292.5 183.8L309.2 176.2M280.0 182.5L309.2 176.2M333.2 175.8L337.5 195.0M309.2 176.2L333.2 175.8M320.8 183.2L341.8 181.2M341.8 181.2L339.2 212.5M306.6 190.0L266.2 203.8M306.6 190.0L266.8 195.5M356.8 197.5L337.5 195.0M356.8 197.5L339.2 212.5M356.8 197.5L351.2 229.5M320.8 183.2L337.5 195.0M337.5 195.0L339.2 212.5M341.8 181.2L337.5 195.0M316.2 200.0L325.3 208.4M316.2 200.0L306.2 228.2M325.3 208.4L339.2 212.5M320.8 183.2L325.3 208.4M320.8 183.2L339.2 212.5M315.6 212.5L306.2 228.2M284.5 212.3L270.0 231.2M266.8 195.5L266.2 203.8M222.5 213.5L228.2 246.0M222.5 213.5L237.5 236.2M222.5 213.5L238.2 186.2M247.5 211.3L238.2 186.2M253.8 205.2L238.2 186.2M222.5 213.5L220.0 186.8M205.4 185.4L210.7 196.3M205.4 185.4L191.2 184.4M220.0 186.8L205.4 185.4M210.7 196.3L237.5 236.2M222.5 213.5L210.7 196.3M222.5 213.5L202.5 200.9M384.5 245.0L365.8 259.5M384.5 245.0L376.8 282.0M384.5 245.0L344.5 245.0M339.2 212.5L366.8 227.0M351.2 229.5L306.2 228.2M355.0 243.8L344.5 245.0M355.0 243.8L365.8 259.5M355.0 243.8L335.0 280.0M339.2 212.5L355.0 243.8M344.5 245.0L316.2 235.0M344.5 245.0L337.5 260.0M387.5 264.5L376.8 282.0M387.5 264.5L366.2 278.8M387.5 264.5L365.8 259.5M355.0 243.8L387.5 264.5M387.5 264.5L358.8 292.0M365.8 259.5L366.2 278.8M365.8 259.5L335.0 280.0M337.5 260.0L323.0 298.2M323.0 258.2L326.8 286.2M323.0 258.2L306.2 228.2M316.2 235.0L286.2 229.5M309.2 252.5L316.2 235.0M306.2 228.2L278.8 237.5M309.2 252.5L306.2 228.2M270.0 231.2L237.5 236.2M278.8 237.5L265.5 248.8M278.8 237.5L255.5 245.8M293.0 250.0L283.2 273.0M313.8 283.8L323.0 298.2M326.8 286.2L288.8 299.2M313.8 283.8L335.0 280.0M323.0 258.2L348.2 271.2M348.2 271.2L349.2 297.5M313.8 283.8L348.2 271.2M366.2 278.8L358.8 292.0M376.8 282.0L358.8 292.0M335.0 280.0L358.8 292.0M336.2 308.0L326.2 322.5M336.2 308.0L323.0 298.2M304.2 267.5L323.0 298.2M323.0 298.2L303.0 311.2M316.8 312.5L326.2 322.5M316.8 312.5L288.8 318.8M316.8 312.5L277.5 300.8M277.5 300.8L236.2 280.0M242.5 291.0L213.8 312.7M242.5 291.0L221.2 324.0M221.2 324.0L208.8 270.6M221.2 324.0L195.8 283.8M246.2 300.0L238.0 330.0M221.2 324.0L238.0 330.0M228.2 291.2L238.0 330.0M288.8 318.8L272.5 333.5M258.8 326.2L272.5 333.5M229.2 309.0L272.5 333.5M316.8 312.5L293.8 334.4M303.0 311.2L293.8 334.4M293.8 334.4L326.2 322.5M331.2 329.6L322.9 337.9M331.2 329.6L340.0 330.0M331.2 329.6L327.0 357.5M349.2 297.5L331.2 329.6M326.2 322.5L340.0 330.0M316.8 312.5L340.0 330.0M303.0 311.2L340.0 330.0M347.2 332.8L361.2 333.0M331.2 329.6L347.2 332.8M331.2 329.6L361.2 333.0M361.2 333.0L372.5 329.4M361.2 333.0L337.5 363.0M326.2 322.5L361.2 333.0M336.2 308.0L372.5 329.4M326.2 322.5L372.5 329.4M340.0 330.0L372.5 329.4M347.2 332.8L372.5 329.4M244.5 230.4L205.0 232.5M372.5 329.4L380.8 350.5M380.8 350.5L360.5 366.2M380.8 350.5L349.2 362.5M390.8 351.2L360.5 366.2M365.0 395.8L360.8 404.5M360.8 404.5L353.0 400.5M360.8 404.5L335.0 410.8M360.8 404.5L335.8 383.8M360.8 404.5L360.5 366.2M360.5 366.2L349.2 362.5M347.2 332.8L360.5 366.2M349.2 362.5L337.5 363.0M349.2 362.5L335.8 383.8M349.2 362.5L315.8 366.2M349.2 362.5L315.8 376.2M337.5 363.0L315.8 376.2M322.9 337.9L337.5 363.0M327.0 357.5L315.8 366.2M327.0 357.5L315.8 376.2M315.8 366.2L315.8 376.2M315.8 366.2L297.5 345.0M315.8 366.2L293.2 385.8M315.8 366.2L279.5 377.5M326.2 322.5L315.8 366.2M293.8 334.4L315.8 366.2M337.5 363.0L335.8 383.8M315.8 376.2L335.8 383.8M303.8 383.2L279.5 377.5M272.5 333.5L279.5 377.5M279.5 377.5L252.5 352.5M335.8 383.8L311.8 393.8M315.8 376.2L305.0 397.0M305.0 397.0L302.5 414.5M321.8 404.5L327.5 412.5M305.0 397.0L321.8 404.5M335.0 410.8L327.5 412.5M335.0 410.8L313.8 429.4M311.8 393.8L327.5 412.5M293.2 385.8L302.5 414.5M321.8 404.5L302.5 414.5M302.5 414.5L278.2 405.0M321.8 404.5L313.8 429.4M313.8 429.4L266.2 452.2M305.0 397.0L313.8 429.4M335.0 410.8L325.0 433.5M302.5 414.5L325.0 433.5M275.0 437.5L278.2 405.0M275.0 437.5L266.2 452.2M275.0 437.5L243.8 416.0M266.2 452.2L265.8 464.5M286.0 456.0L265.8 464.5M286.0 456.0L256.8 422.0M226.0 456.8L207.2 439.8M226.0 456.8L233.8 421.5M226.0 456.8L256.8 422.0M243.8 457.8L265.8 464.5M243.8 457.8L227.2 413.8M207.2 439.8L211.5 408.2M207.2 439.8L227.2 413.8M209.0 424.0L211.5 408.2M209.0 424.0L233.8 421.5M209.0 424.0L239.0 406.2M211.5 408.2L233.8 421.5M211.5 408.2L239.0 406.2M211.5 408.2L243.8 416.0M209.0 424.0L227.2 413.8M227.2 413.8L211.5 386.2M227.2 413.8L258.8 406.2M227.2 413.8L262.0 395.8M233.8 421.5L239.0 406.2M233.8 421.5L224.2 390.0M233.8 421.5L256.8 422.0M227.2 413.8L243.8 416.0M243.8 416.0L256.8 422.0M243.8 416.0L274.2 393.2M256.8 422.0L239.0 406.2M239.0 406.2L258.8 406.2M278.2 405.0L263.8 361.2M262.0 395.8L237.0 387.0M251.2 385.0L252.5 352.5M251.2 385.0L253.0 363.8M237.0 387.0L224.2 390.0M262.0 395.8L224.2 390.0M224.2 390.0L225.0 360.0M211.5 386.2L205.5 358.5M224.2 390.0L253.0 373.8M252.5 352.5L238.8 340.0M252.5 352.5L271.2 342.5M213.9 360.0L215.5 345.0M213.9 360.0L238.8 340.0M203.8 293.8L215.5 345.0M242.5 291.0L238.8 340.0M238.8 340.0L271.2 342.5M303.0 311.2L297.5 345.0M265.0 324.6L297.5 345.0M275.0 437.5L265.8 464.5M193.8 458.2L168.8 439.8M168.8 439.8L188.8 435.4M168.8 439.8L180.0 429.4M168.8 439.8L162.3 404.2M161.0 421.5L162.3 404.2M137.0 222.5L185.0 245.0M137.0 222.5L160.0 199.7M92.5 202.0L112.5 202.5M92.5 202.0L79.5 228.0M127.5 200.3L155.5 192.7M99.2 217.5L112.5 248.0M99.2 217.5L126.8 230.8M79.5 228.0L95.0 235.0M79.5 228.0L65.8 243.0M99.2 217.5L79.5 228.0M79.5 228.0L112.5 248.0M79.5 228.0L69.5 257.5M79.5 228.0L97.5 245.0M79.5 228.0L111.8 228.8M95.0 235.0L97.5 245.0M99.2 217.5L95.0 235.0M127.5 200.3L126.8 230.8M151.2 224.5L157.5 239.5M151.2 224.5L185.0 245.0M160.0 221.6L171.8 244.5M160.0 221.6L180.0 229.0M208.8 235.0L173.8 222.5M180.0 229.0L185.0 245.0M180.0 229.0L171.8 244.5M155.5 192.7L160.0 199.7M160.0 221.6L155.5 192.7M151.2 224.5L155.5 192.7M160.0 199.7L185.0 245.0M160.0 199.7L184.6 198.0M160.0 199.7L191.2 184.4M222.5 213.5L184.6 198.0M208.8 270.6L205.0 232.5M228.2 246.0L205.0 232.5M157.5 239.5L191.8 262.0M157.5 239.5L152.0 245.8M152.0 245.8L191.8 262.0M205.0 232.5L152.0 245.8M65.8 243.0L69.5 257.5M62.5 248.8L69.5 257.5M97.5 245.0L126.8 265.0M185.0 245.0L126.8 249.2M69.5 257.5L82.0 286.0M89.2 268.0L82.0 286.0M89.2 268.0L115.0 271.2M89.2 268.0L104.5 264.2M89.2 268.0L126.8 265.0M112.5 248.0L104.5 264.2M104.5 264.2L126.8 265.0M115.0 271.2L138.2 264.5M115.0 271.2L123.2 290.8M138.2 264.5L147.5 265.5M138.2 264.5L191.8 262.0M157.5 239.5L138.2 264.5M171.8 244.5L147.5 265.5M173.2 266.2L195.8 283.8M162.5 278.8L183.8 285.6M147.5 265.5L140.8 285.2M208.8 270.6L140.8 285.2M140.8 285.2L156.2 288.8M138.2 264.5L123.2 290.8M123.2 290.8L136.2 317.5M82.0 286.0L113.5 295.4M115.0 271.2L82.0 286.0M140.8 285.2L113.5 295.4M113.5 295.4L155.0 304.5M62.5 362.5L79.2 345.0M62.5 362.5L91.2 331.8M89.2 415.0L94.5 379.2M89.2 415.0L125.0 393.4M89.2 415.0L128.8 420.0M100.0 408.8L125.0 393.4M100.0 408.8L128.8 420.0M94.5 379.2L116.2 367.5M94.5 379.2L79.2 345.0M79.2 345.0L98.8 355.0M79.2 345.0L71.2 321.2M79.2 345.0L103.8 332.5M98.8 355.0L91.2 331.8M53.8 315.8L71.2 321.2M63.0 305.8L71.2 321.2M64.6 286.0L63.0 305.8M63.0 305.8L85.8 301.2M63.0 305.8L91.2 331.8M63.8 328.8L71.2 321.2M79.2 345.0L63.8 328.8M98.8 355.0L63.8 328.8M71.2 321.2L85.8 301.2M71.2 321.2L111.2 342.5M71.2 321.2L103.8 332.5M85.8 301.2L118.2 310.8M96.2 302.5L106.2 303.0M104.5 264.2L96.2 302.5M96.2 302.5L117.5 333.8M106.2 303.0L102.5 322.5M118.2 310.8L155.0 304.5M136.2 317.5L197.3 301.5M162.5 278.8L136.2 317.5M118.2 310.8L102.5 322.5M102.5 322.5L117.5 333.8M96.2 302.5L102.5 322.5M103.8 332.5L117.5 333.8M102.5 322.5L91.2 331.8M91.2 331.8L111.2 342.5M117.5 333.8L149.5 332.5M102.5 322.5L111.2 342.5M111.2 342.5L120.0 362.5M117.5 333.8L123.0 340.0M127.5 352.5L120.0 362.5M127.5 352.5L156.2 348.8M132.5 360.0L139.2 373.8M123.0 340.0L132.5 360.0M132.5 360.0L120.0 362.5M143.8 351.2L168.0 328.7M161.2 337.5L168.0 328.7M161.2 337.5L157.0 318.8M149.5 332.5L187.5 300.0M136.2 317.5L149.5 332.5M157.0 318.8L155.0 304.5M157.0 318.8L168.0 328.7M215.2 287.2L157.0 318.8M191.8 262.0L155.0 304.5M155.0 304.5L187.5 300.0M193.8 274.5L155.0 304.5M175.0 316.2L187.5 300.0M203.8 293.8L186.2 320.0M186.2 320.0L187.5 300.0M183.8 285.6L186.2 320.0M195.8 283.8L202.5 317.5M197.5 330.0L184.2 345.0M213.8 312.7L184.2 350.5M202.5 317.5L184.2 350.5M213.8 312.7L200.0 351.2M127.5 352.5L139.2 373.8M151.2 375.8L175.8 394.5M156.2 348.8L165.0 380.0M93.0 360.5L117.5 387.5M132.5 360.0L125.0 393.4M175.8 394.5L181.2 400.4M181.2 400.4L159.5 400.8M159.5 400.8L162.3 404.2M151.2 375.8L162.3 404.2M175.8 394.5L162.3 404.2M111.2 425.8L128.8 420.0M117.5 387.5L111.2 425.8M161.0 421.5L111.2 425.8M128.8 420.0L155.5 425.0M188.8 435.4L155.5 425.0M168.0 328.7L179.8 301.2M195.8 283.8L179.8 301.2M171.5 105.0L198.1 160.0M171.5 105.0L246.2 97.7M171.5 105.0L185.0 245.0M171.5 105.0L283.2 273.0M171.5 105.0L173.8 222.5M167.6 118.0L246.2 300.0M167.6 118.0L151.2 224.5M167.6 118.0L205.0 232.5M167.6 118.0L265.5 248.8M167.6 118.0L222.7 178.4M211.5 112.7L111.2 425.8M211.5 112.7L207.0 251.5M211.5 112.7L258.8 176.2M211.5 112.7L184.2 350.5M211.5 112.7L193.8 274.5M211.5 112.7L191.8 262.0M211.5 112.7L230.6 164.4M219.6 105.8L272.5 133.8M219.6 105.8L321.8 225.0M219.6 105.8L255.5 245.8M218.6 127.5L270.0 231.2M218.6 127.5L202.5 200.9M218.6 127.5L185.0 245.0M218.6 127.5L193.8 274.5M218.6 127.5L198.1 160.0M218.6 127.5L316.2 200.0M218.6 127.5L199.5 176.2M218.6 127.5L162.5 278.8M182.7 131.5L187.5 300.0M159.8 137.2L184.2 350.5M159.8 137.2L242.5 291.0M159.8 137.2L221.2 291.2M111.4 133.6L253.0 363.8M111.4 133.6L344.5 245.0M111.4 133.6L224.2 390.0M117.3 133.0L238.2 186.2M117.3 133.0L106.2 303.0M108.0 142.0L185.0 245.0M167.6 118.0L132.8 142.6M188.6 143.0L270.0 252.5M188.6 143.0L288.8 318.8M188.6 143.0L195.8 283.8M188.6 143.0L111.3 169.8M198.6 143.5L238.0 330.0M210.5 149.4L179.8 301.2M210.5 149.4L306.6 190.0M210.5 149.4L207.0 251.5M210.5 149.4L265.0 324.6M210.5 149.4L284.5 212.3M198.1 160.0L246.2 269.5M198.1 160.0L126.8 249.2M198.1 160.0L242.5 291.0M212.6 160.0L155.0 304.5M212.6 160.0L241.2 201.2M212.6 160.0L183.8 285.6M212.6 160.0L351.2 229.5M212.6 160.0L193.8 274.5M161.0 166.8L239.0 406.2M111.3 169.8L160.0 199.7M137.2 168.9L162.5 278.8M137.2 168.9L292.5 183.8M148.2 173.8L278.0 167.5M181.1 174.8L185.0 245.0M211.5 112.7L181.1 174.8M181.1 174.8L241.2 201.2M132.8 142.6L199.5 176.2M199.5 176.2L228.2 291.2M199.5 176.2L348.2 156.2M199.5 176.2L246.2 97.7M199.5 176.2L266.2 265.0M101.2 182.6L268.7 165.6M101.2 182.6L171.2 305.8M85.5 184.6L268.7 165.6M162.5 183.8L103.8 332.5M162.5 183.8L223.0 140.0M246.2 97.7L255.5 245.8M246.2 97.7L117.5 333.8M210.5 149.4L246.2 97.7M132.8 142.6L246.2 97.7M246.2 97.7L157.5 239.5M260.1 107.4L284.5 212.3M198.6 143.5L260.1 107.4M260.1 107.4L356.8 197.5M260.1 107.4L255.5 245.8M260.1 107.4L266.8 195.5M260.1 107.4L156.2 288.8M260.1 107.4L202.5 317.5M240.8 130.2L221.2 324.0M240.8 130.2L126.8 249.2M240.8 130.2L289.2 171.2M240.8 130.2L173.2 266.2M240.8 130.2L209.0 424.0M240.8 130.2L65.8 243.0M240.8 130.2L156.2 348.8M258.8 135.5L173.8 222.5M258.8 135.5L207.0 251.5M258.8 135.5L365.8 259.5M258.8 135.5L314.5 158.8M258.8 135.5L288.8 299.2M258.8 135.5L355.0 243.8M258.8 135.5L228.2 246.0M272.5 133.8L337.5 195.0M272.5 133.8L245.5 168.8M272.5 133.8L266.2 203.8M272.5 133.8L265.5 248.8M272.5 133.8L286.2 229.5M272.5 133.8L323.0 258.2M272.5 133.8L278.8 237.5M272.5 133.8L255.5 245.8M181.1 174.8L291.8 132.5M291.8 132.5L170.8 340.0M291.8 132.5L349.2 297.5M291.8 132.5L180.0 229.0M291.8 132.5L258.8 176.2M291.8 132.5L280.0 182.5M291.8 132.5L215.2 287.2M348.2 156.2L331.2 329.6M348.2 156.2L113.5 295.4M348.2 156.2L241.2 201.2M260.1 107.4L348.2 156.2M348.2 156.2L242.5 291.0M348.2 156.2L323.0 258.2M348.2 156.2L292.5 183.8M353.0 167.5L245.5 168.8M353.0 167.5L277.5 300.8M353.0 167.5L387.5 264.5M353.0 167.5L268.7 165.6M353.0 167.5L309.2 176.2M218.6 127.5L353.0 167.5M353.0 167.5L242.5 291.0M297.0 147.5L222.5 213.5M297.0 147.5L171.2 305.8M297.0 147.5L106.2 303.0M297.0 147.5L244.5 230.4M297.0 147.5L120.0 362.5M314.5 158.8L270.0 252.5M314.5 158.8L349.2 297.5M314.5 158.8L278.0 167.5M314.5 158.8L255.5 245.8M314.5 158.8L255.0 216.8M314.5 158.8L228.2 246.0M286.2 158.2L137.0 222.5M286.2 158.2L265.0 178.8M286.2 158.2L175.0 316.2M85.5 184.6L286.2 158.2M199.5 176.2L286.2 158.2M286.2 158.2L151.2 224.5M300.0 156.0L309.2 176.2M300.0 156.0L184.2 350.5M300.0 156.0L293.0 250.0M300.0 156.0L339.2 212.5M300.0 156.0L155.0 304.5M270.0 153.0L227.2 413.8M270.0 153.0L238.8 340.0M270.0 153.0L207.0 251.5M270.0 153.0L200.0 351.2M270.0 153.0L120.0 362.5M270.0 153.0L137.0 222.5M245.0 143.8L288.8 299.2M245.0 143.8L208.8 235.0M245.0 143.8L160.0 221.6M245.0 143.8L260.5 288.8M245.0 143.8L283.2 273.0M245.0 143.8L325.3 208.4M245.0 143.8L210.7 196.3M314.5 158.8L250.8 147.5M250.8 147.5L151.8 279.2M210.5 149.4L250.8 147.5M250.8 147.5L270.0 231.2M250.8 147.5L230.6 164.4M250.8 147.5L143.8 351.2M250.8 147.5L186.2 320.0M231.6 140.9L171.2 305.8M231.6 140.9L341.8 181.2M231.6 140.9L258.8 326.2M231.6 140.9L173.2 266.2M270.0 153.0L231.6 140.9M223.0 140.0L245.5 168.8M223.0 140.0L215.5 345.0M230.6 164.4L237.5 236.2M230.6 164.4L270.0 252.5M245.5 168.8L162.5 278.8M245.5 168.8L123.2 290.8M245.5 168.8L222.7 178.4M245.5 168.8L213.9 360.0M265.0 178.8L360.5 366.2M265.0 178.8L205.4 185.4M265.0 178.8L213.9 360.0M265.0 178.8L228.2 291.2M260.1 107.4L265.0 178.8M265.0 178.8L335.0 280.0M258.8 176.2L126.8 265.0M258.8 176.2L184.6 198.0M258.8 176.2L246.2 300.0M258.8 176.2L210.7 196.3M278.0 167.5L161.0 421.5M278.0 167.5L293.2 385.8M272.5 133.8L278.0 167.5M278.0 167.5L180.0 229.0M278.0 167.5L265.0 324.6M278.0 167.5L253.8 205.2M278.0 167.5L208.8 235.0M314.5 158.8L289.2 171.2M289.2 171.2L258.8 326.2M289.2 171.2L228.2 246.0M280.0 182.5L175.0 316.2M280.0 182.5L200.0 351.2M280.0 182.5L188.8 435.4M280.0 182.5L174.2 381.8M280.0 182.5L221.2 324.0M280.0 182.5L157.5 239.5M292.5 183.8L202.5 200.9M292.5 183.8L157.0 318.8M292.5 183.8L205.4 185.4M292.5 183.8L239.0 406.2M292.5 183.8L284.5 212.3M309.2 176.2L358.8 292.0M231.6 140.9L309.2 176.2M309.2 176.2L284.5 212.3M309.2 176.2L306.2 228.2M309.2 176.2L316.8 312.5M309.2 176.2L228.2 291.2M309.2 176.2L325.3 208.4M320.8 183.2L270.0 252.5M320.8 183.2L243.8 416.0M320.8 183.2L237.5 236.2M320.8 183.2L306.2 228.2M320.8 183.2L193.8 274.5M320.8 183.2L255.0 216.8M231.6 140.9L320.8 183.2M333.2 175.8L195.8 283.8M333.2 175.8L151.2 224.5M333.2 175.8L293.0 250.0M333.2 175.8L123.0 340.0M333.2 175.8L186.2 320.0M278.0 167.5L333.2 175.8M333.2 175.8L215.2 287.2M341.8 181.2L347.2 332.8M341.8 181.2L246.2 300.0M341.8 181.2L315.6 212.5M341.8 181.2L288.8 318.8M341.8 181.2L202.5 200.9M341.8 181.2L270.0 231.2M341.8 181.2L284.5 212.3M341.8 181.2L208.8 270.6M306.6 190.0L306.2 228.2M280.0 182.5L306.6 190.0M85.5 184.6L306.6 190.0M306.6 190.0L304.2 267.5M306.6 190.0L246.2 269.5M306.6 190.0L149.5 332.5M356.8 197.5L138.2 264.5M356.8 197.5L221.2 291.2M356.8 197.5L140.8 285.2M356.8 197.5L200.0 351.2M356.8 197.5L228.2 246.0M337.5 195.0L278.8 237.5M337.5 195.0L246.2 269.5M337.5 195.0L171.8 244.5M337.5 195.0L322.9 337.9M337.5 195.0L253.0 373.8M316.2 200.0L293.2 385.8M316.2 200.0L171.8 244.5M316.2 200.0L238.2 186.2M245.5 168.8L316.2 200.0M316.2 200.0L122.5 325.0M316.2 200.0L226.2 232.8M316.2 200.0L98.8 355.0M316.2 200.0L344.5 245.0M325.3 208.4L187.5 300.0M231.6 140.9L325.3 208.4M325.3 208.4L208.8 235.0M325.3 208.4L258.8 326.2M325.3 208.4L222.5 213.5M325.3 208.4L197.5 330.0M325.3 208.4L241.2 201.2M325.3 208.4L286.2 229.5M325.3 208.4L351.2 229.5M325.3 208.4L203.8 293.8M339.2 212.5L278.8 237.5M339.2 212.5L228.2 291.2M315.6 212.5L272.5 333.5M315.6 212.5L197.3 301.5M315.6 212.5L205.0 232.5M315.6 212.5L221.2 291.2M315.6 212.5L277.5 300.8M315.6 212.5L241.2 201.2M284.5 212.3L202.5 200.9M266.8 195.5L220.0 186.8M266.8 195.5L213.8 312.7M266.8 195.5L258.8 326.2M266.8 195.5L140.8 285.2M231.6 140.9L266.8 195.5M266.8 195.5L288.8 318.8M222.7 178.4L286.2 229.5M222.7 178.4L270.0 252.5M222.7 178.4L168.0 328.7M222.7 178.4L208.8 270.6M384.5 245.0L237.5 236.2M384.5 245.0L366.2 278.8M384.5 245.0L266.2 265.0M384.5 245.0L278.8 237.5M384.5 245.0L186.2 320.0M384.5 245.0L326.8 286.2M366.8 227.0L237.5 236.2M325.3 208.4L366.8 227.0M366.8 227.0L208.8 235.0M366.8 227.0L224.2 390.0M341.8 181.2L366.8 227.0M351.2 229.5L316.8 312.5M351.2 229.5L186.2 320.0M351.2 229.5L221.2 291.2M351.2 229.5L95.0 235.0M351.2 229.5L303.0 311.2M351.2 229.5L270.0 252.5M351.2 229.5L203.8 293.8M351.2 229.5L161.2 337.5M355.0 243.8L288.8 299.2M355.0 243.8L179.8 301.2M355.0 243.8L205.0 232.5M218.6 127.5L355.0 243.8M344.5 245.0L211.5 408.2M344.5 245.0L209.0 424.0M344.5 245.0L165.0 380.0M344.5 245.0L162.3 404.2M387.5 264.5L162.5 278.8M238.2 186.2L387.5 264.5M387.5 264.5L155.5 425.0M387.5 264.5L228.2 246.0M365.8 259.5L244.5 230.4M366.8 227.0L365.8 259.5M365.8 259.5L118.2 310.8M365.8 259.5L208.8 270.6M337.5 260.0L174.2 381.8M337.5 260.0L193.8 274.5M337.5 260.0L213.9 360.0M306.6 190.0L337.5 260.0M270.0 153.0L337.5 260.0M337.5 260.0L195.8 283.8M253.8 205.2L337.5 260.0M337.5 260.0L304.2 267.5M323.0 258.2L327.0 357.5M323.0 258.2L246.2 269.5M323.0 258.2L65.8 243.0M258.8 176.2L323.0 258.2M323.0 258.2L213.9 360.0M309.2 252.5L265.0 324.6M309.2 252.5L215.2 287.2M309.2 252.5L228.2 291.2M309.2 252.5L242.5 291.0M309.2 252.5L229.2 309.0M293.0 250.0L313.8 429.4M293.0 250.0L122.5 325.0M293.0 250.0L184.2 345.0M293.0 250.0L265.0 324.6M293.0 250.0L304.2 267.5M309.2 176.2L293.0 250.0M293.0 250.0L270.0 231.2M266.2 203.8L316.2 235.0M316.2 235.0L347.2 332.8M316.2 235.0L171.8 244.5M219.6 105.8L316.2 235.0M316.2 235.0L171.2 305.8M245.5 168.8L316.2 235.0M316.2 235.0L62.5 362.5M306.2 228.2L213.8 312.7M270.0 153.0L306.2 228.2M306.2 228.2L191.8 262.0M306.2 228.2L347.2 332.8M306.2 228.2L266.2 265.0M321.8 225.0L246.2 269.5M222.5 213.5L321.8 225.0M321.8 225.0L184.2 350.5M353.0 167.5L321.8 225.0M245.5 168.8L321.8 225.0M291.8 132.5L321.8 225.0M321.8 225.0L271.2 342.5M278.0 167.5L321.8 225.0M304.2 267.5L123.2 290.8M304.2 267.5L179.8 301.2M304.2 267.5L162.5 278.8M304.2 267.5L288.8 318.8M321.8 225.0L304.2 267.5M313.8 283.8L268.7 165.6M326.8 286.2L253.0 373.8M326.8 286.2L251.2 385.0M326.8 286.2L195.8 283.8M265.5 248.8L326.8 286.2M348.2 271.2L252.5 352.5M348.2 271.2L147.5 385.8M348.2 271.2L311.8 393.8M348.2 271.2L278.2 405.0M366.2 278.8L303.0 311.2M117.3 133.0L366.2 278.8M366.2 278.8L215.2 287.2M306.6 190.0L366.2 278.8M366.2 278.8L221.2 291.2M376.8 282.0L191.8 262.0M238.2 186.2L376.8 282.0M241.2 201.2L376.8 282.0M376.8 282.0L140.8 285.2M283.2 273.0L376.8 282.0M309.2 252.5L358.8 292.0M358.8 292.0L236.2 280.0M358.8 292.0L136.2 317.5M358.8 292.0L161.0 421.5M358.8 292.0L95.0 235.0M202.5 200.9L349.2 297.5M266.8 195.5L349.2 297.5M349.2 297.5L213.8 312.7M351.2 229.5L349.2 297.5M222.5 213.5L349.2 297.5M349.2 297.5L187.5 300.0M336.2 308.0L215.5 345.0M238.2 186.2L336.2 308.0M306.2 228.2L336.2 308.0M341.8 181.2L336.2 308.0M222.7 178.4L336.2 308.0M336.2 308.0L186.2 320.0M336.2 308.0L221.2 324.0M325.3 208.4L323.0 298.2M323.0 298.2L149.5 332.5M323.0 298.2L271.2 342.5M323.0 298.2L208.8 235.0M344.5 245.0L323.0 298.2M323.0 298.2L151.2 224.5M316.8 312.5L170.8 340.0M316.8 312.5L213.8 312.7M316.8 312.5L132.5 360.0M286.2 158.2L316.8 312.5M220.0 186.8L316.8 312.5M303.0 311.2L225.0 360.0M336.2 308.0L303.0 311.2M283.2 273.0L303.0 311.2M220.0 186.8L303.0 311.2M210.7 196.3L303.0 311.2M303.0 311.2L236.2 280.0M303.0 311.2L302.5 414.5M288.8 299.2L236.2 280.0M223.0 140.0L288.8 299.2M288.8 318.8L207.2 439.8M288.8 318.8L225.0 360.0M288.8 318.8L152.0 245.8M288.8 318.8L228.2 246.0M288.8 318.8L244.5 230.4M288.8 318.8L253.0 363.8M335.0 280.0L288.8 318.8M288.8 318.8L197.5 330.0M272.5 333.5L186.2 320.0M278.8 237.5L272.5 333.5M286.2 229.5L272.5 333.5M272.5 333.5L215.5 345.0M356.8 197.5L272.5 333.5M293.8 334.4L211.5 408.2M293.8 334.4L149.5 332.5M293.8 334.4L215.5 345.0M293.8 334.4L202.5 317.5M221.2 291.2L293.8 334.4M293.8 334.4L197.3 301.5M215.2 287.2L326.2 322.5M289.2 171.2L326.2 322.5M293.0 250.0L326.2 322.5M326.2 322.5L239.0 406.2M326.2 322.5L203.8 293.8M316.2 235.0L331.2 329.6M331.2 329.6L244.5 230.4M331.2 329.6L174.2 381.8M215.2 287.2L340.0 330.0M344.5 245.0L340.0 330.0M278.0 167.5L340.0 330.0M306.6 190.0L340.0 330.0M340.0 330.0L211.5 408.2M309.2 252.5L340.0 330.0M340.0 330.0L228.2 246.0M347.2 332.8L252.5 352.5M260.1 107.4L347.2 332.8M347.2 332.8L195.8 283.8M347.2 332.8L213.9 360.0M347.2 332.8L215.5 345.0M306.2 228.2L361.2 333.0M361.2 333.0L215.5 345.0M349.2 297.5L361.2 333.0M361.2 333.0L171.8 244.5M361.2 333.0L252.5 352.5M372.5 329.4L213.9 360.0M372.5 329.4L155.0 304.5M372.5 329.4L311.8 393.8M372.5 329.4L195.8 283.8M372.5 329.4L173.2 266.2M236.2 280.0L372.5 329.4M372.5 329.4L327.0 357.5M323.0 258.2L372.5 329.4M293.0 250.0L372.5 329.4M322.9 337.9L168.0 328.7M221.2 291.2L322.9 337.9M288.8 318.8L322.9 337.9M322.9 337.9L228.2 246.0M322.9 337.9L297.5 345.0M266.2 265.0L380.8 350.5M292.5 183.8L380.8 350.5M380.8 350.5L297.5 345.0M322.9 337.9L380.8 350.5M316.2 200.0L380.8 350.5M380.8 350.5L211.5 386.2M380.8 350.5L205.0 232.5M390.8 351.2L238.8 340.0M278.8 237.5L390.8 351.2M390.8 351.2L174.2 381.8M280.0 182.5L390.8 351.2M221.2 291.2L390.8 351.2M365.0 395.8L173.8 222.5M365.0 395.8L147.5 265.5M228.2 246.0L365.0 395.8M277.5 300.8L360.8 404.5M360.8 404.5L168.0 328.7M360.8 404.5L302.5 414.5M360.8 404.5L191.8 262.0M360.8 404.5L164.2 388.2M316.8 312.5L360.8 404.5M258.8 326.2L360.8 404.5M360.8 404.5L180.0 229.0M326.8 286.2L360.8 404.5M220.0 186.8L360.8 404.5M360.8 404.5L156.2 348.8M244.5 230.4L353.0 400.5M353.0 400.5L265.8 464.5M353.0 400.5L237.0 387.0M228.2 246.0L353.0 400.5M353.0 400.5L192.5 402.5M353.0 400.5L315.8 366.2M340.0 330.0L353.0 400.5M353.0 400.5L168.0 328.7M349.2 297.5L353.0 400.5M208.8 270.6L360.5 366.2M360.5 366.2L193.8 274.5M356.8 197.5L360.5 366.2M360.5 366.2L278.2 405.0M360.5 366.2L122.5 325.0M337.5 260.0L349.2 362.5M349.2 362.5L251.2 385.0M349.2 362.5L263.8 361.2M215.2 287.2L349.2 362.5M349.2 362.5L237.0 387.0M265.0 324.6L349.2 362.5M349.2 362.5L184.6 198.0M349.2 362.5L262.0 395.8M205.4 185.4L337.5 363.0M260.5 288.8L337.5 363.0M337.5 363.0L256.8 422.0M246.2 300.0L337.5 363.0M237.5 236.2L337.5 363.0M344.5 245.0L337.5 363.0M326.2 322.5L327.0 357.5M237.5 236.2L327.0 357.5M327.0 357.5L205.5 358.5M327.0 357.5L252.5 352.5M361.2 333.0L327.0 357.5M327.0 357.5L151.2 375.8M246.2 300.0L327.0 357.5M253.8 205.2L315.8 366.2M242.5 291.0L315.8 366.2M315.8 366.2L164.2 388.2M348.2 156.2L315.8 366.2M315.8 376.2L184.2 350.5M315.8 376.2L143.8 351.2M315.8 376.2L191.8 262.0M315.8 376.2L205.0 232.5M208.8 270.6L315.8 376.2M246.2 300.0L315.8 376.2M331.2 329.6L315.8 376.2M337.5 195.0L315.8 376.2M265.0 324.6L315.8 376.2M349.2 297.5L315.8 376.2M246.2 269.5L335.8 383.8M335.8 383.8L252.5 352.5M265.0 324.6L335.8 383.8M335.8 383.8L106.2 303.0M335.8 383.8L62.5 362.5M272.5 133.8L335.8 383.8M266.2 265.0L335.8 383.8M335.8 383.8L162.5 278.8M266.8 195.5L335.8 383.8M304.2 267.5L335.8 383.8M228.2 291.2L303.8 383.2M303.8 383.2L238.8 340.0M221.2 324.0L303.8 383.2M260.5 288.8L303.8 383.2M244.5 230.4L293.2 385.8M293.2 385.8L185.0 245.0M279.5 377.5L156.2 288.8M279.5 377.5L305.0 397.0M323.0 298.2L279.5 377.5M208.8 235.0L279.5 377.5M279.5 377.5L100.0 408.8M277.5 300.8L311.8 393.8M222.5 213.5L311.8 393.8M265.0 324.6L311.8 393.8M311.8 393.8L252.5 352.5M311.8 393.8L195.8 283.8M311.8 393.8L82.0 286.0M245.5 168.8L311.8 393.8M305.0 397.0L183.8 285.6M313.8 283.8L305.0 397.0M305.0 397.0L128.8 420.0M266.2 265.0L305.0 397.0M246.2 269.5L305.0 397.0M305.0 397.0L156.2 348.8M286.2 229.5L321.8 404.5M311.8 393.8L321.8 404.5M315.8 366.2L321.8 404.5M322.9 337.9L321.8 404.5M353.0 400.5L321.8 404.5M226.2 232.8L321.8 404.5M321.8 404.5L207.2 439.8M335.0 410.8L171.8 244.5M335.0 410.8L211.5 408.2M238.0 330.0L335.0 410.8M335.0 410.8L156.2 348.8M245.5 168.8L327.5 412.5M323.0 258.2L327.5 412.5M326.8 286.2L327.5 412.5M181.1 174.8L327.5 412.5M258.8 326.2L302.5 414.5M302.5 414.5L126.8 249.2M302.5 414.5L171.2 305.8M253.8 205.2L302.5 414.5M302.5 414.5L239.0 406.2M302.5 414.5L123.2 290.8M360.5 366.2L302.5 414.5M302.5 414.5L266.2 452.2M222.5 213.5L302.5 414.5M229.2 309.0L313.8 429.4M313.8 429.4L187.5 300.0M349.2 297.5L313.8 429.4M313.8 429.4L195.8 283.8M229.2 309.0L325.0 433.5M238.0 330.0L325.0 433.5M210.7 196.3L325.0 433.5M246.2 300.0L325.0 433.5M325.0 433.5L164.2 388.2M245.5 168.8L325.0 433.5M258.8 176.2L275.0 437.5M258.8 326.2L275.0 437.5M275.0 437.5L202.5 317.5M266.2 452.2L253.0 363.8M265.5 248.8L266.2 452.2M246.2 300.0L266.2 452.2M266.2 452.2L156.2 348.8M161.0 166.8L266.2 452.2M266.2 452.2L193.8 274.5M266.2 452.2L174.2 381.8M266.2 452.2L205.0 232.5M272.5 333.5L266.2 452.2M286.0 456.0L170.8 340.0M286.0 456.0L175.0 316.2M286.0 456.0L180.0 229.0M286.0 456.0L253.0 373.8M323.0 298.2L286.0 456.0M286.0 456.0L193.8 274.5M286.0 456.0L237.0 387.0M226.0 456.8L136.2 317.5M277.5 300.8L226.0 456.8M226.0 456.8L113.5 295.4M266.2 452.2L226.0 456.8M226.0 456.8L127.5 352.5M242.5 291.0L243.8 457.8M243.8 457.8L197.5 330.0M243.8 457.8L138.2 264.5M243.8 457.8L211.5 386.2M243.8 457.8L209.0 424.0M365.8 259.5L243.8 457.8M243.8 457.8L181.2 400.4M243.8 457.8L123.2 290.8M243.8 457.8L164.2 388.2M207.2 439.8L225.0 360.0M207.2 439.8L128.8 420.0M171.5 105.0L207.2 439.8M226.2 232.8L209.0 424.0M302.5 414.5L209.0 424.0M237.5 236.2L209.0 424.0M209.0 424.0L184.2 345.0M209.0 424.0L164.2 388.2M215.2 287.2L209.0 424.0M228.2 291.2L211.5 408.2M349.2 362.5L211.5 408.2M320.8 183.2L211.5 408.2M211.5 408.2L238.8 340.0M372.5 329.4L211.5 408.2M238.0 330.0L211.5 408.2M207.0 251.5L211.5 408.2M211.5 408.2L96.2 302.5M202.5 200.9L211.5 408.2M227.2 413.8L184.2 345.0M221.2 291.2L227.2 413.8M227.2 413.8L160.0 221.6M227.2 413.8L159.5 400.8M227.2 413.8L205.5 358.5M226.2 232.8L233.8 421.5M258.8 176.2L233.8 421.5M233.8 421.5L159.5 400.8M246.2 300.0L233.8 421.5M233.8 421.5L181.2 400.4M272.5 333.5L233.8 421.5M233.8 421.5L274.2 393.2M390.8 351.2L243.8 416.0M288.8 318.8L243.8 416.0M313.8 283.8L243.8 416.0M243.8 416.0L171.2 305.8M243.8 416.0L147.5 265.5M243.8 416.0L173.2 266.2M243.8 416.0L180.0 229.0M243.8 416.0L161.0 421.5M256.8 422.0L165.0 380.0M238.0 330.0L256.8 422.0M327.0 357.5L256.8 422.0M335.0 280.0L256.8 422.0M256.8 422.0L193.8 274.5M256.8 422.0L205.0 232.5M256.8 422.0L197.5 330.0M309.2 252.5L239.0 406.2M255.0 216.8L239.0 406.2M239.0 406.2L271.2 342.5M265.0 324.6L239.0 406.2M239.0 406.2L225.0 360.0M239.0 406.2L171.2 305.8M239.0 406.2L187.5 300.0M258.8 406.2L137.0 222.5M305.0 397.0L258.8 406.2M258.8 406.2L253.0 363.8M208.8 270.6L258.8 406.2M258.8 406.2L168.0 328.7M303.8 383.2L278.2 405.0M278.2 405.0L111.2 342.5M278.2 405.0L171.8 244.5M246.2 269.5L278.2 405.0M278.2 405.0L155.0 304.5M278.2 405.0L149.5 332.5M203.8 293.8L262.0 395.8M283.2 273.0L262.0 395.8M262.0 395.8L155.0 304.5M262.0 395.8L103.8 332.5M262.0 395.8L126.8 230.8M215.2 287.2L262.0 395.8M246.2 269.5L262.0 395.8M274.2 393.2L164.2 388.2M227.2 413.8L274.2 393.2M244.5 230.4L274.2 393.2M221.2 324.0L274.2 393.2M266.8 195.5L251.2 385.0M236.2 280.0L251.2 385.0M208.8 270.6L251.2 385.0M265.5 248.8L251.2 385.0M372.5 329.4L251.2 385.0M237.0 387.0L157.0 318.8M209.0 424.0L237.0 387.0M266.8 195.5L237.0 387.0M237.0 387.0L156.2 288.8M293.0 250.0L237.0 387.0M313.8 283.8L237.0 387.0M237.0 387.0L147.5 385.8M242.5 291.0L237.0 387.0M237.0 387.0L168.8 439.8M236.2 280.0L224.2 390.0M258.8 135.5L224.2 390.0M246.2 269.5L224.2 390.0M224.2 390.0L155.5 425.0M303.0 311.2L224.2 390.0M246.2 269.5L211.5 386.2M258.8 406.2L211.5 386.2M288.8 318.8L211.5 386.2M315.6 212.5L211.5 386.2M211.5 386.2L149.5 332.5M228.2 246.0L211.5 386.2M211.5 386.2L191.2 184.4M215.2 287.2L211.5 386.2M253.0 373.8L179.8 301.2M288.8 299.2L253.0 373.8M226.0 456.8L253.0 373.8M226.2 232.8L253.0 373.8M316.2 235.0L253.0 373.8M283.2 273.0L253.0 363.8M320.8 183.2L253.0 363.8M207.0 251.5L253.0 363.8M230.6 164.4L253.0 363.8M253.0 363.8L197.3 301.5M210.7 196.3L253.0 363.8M253.0 363.8L126.8 230.8M255.0 216.8L253.0 363.8M353.0 167.5L252.5 352.5M277.5 300.8L252.5 352.5M252.5 352.5L155.0 304.5M252.5 352.5L160.0 221.6M246.2 300.0L263.8 361.2M263.8 361.2L188.8 435.4M258.8 326.2L263.8 361.2M337.5 260.0L263.8 361.2M321.8 225.0L263.8 361.2M258.8 406.2L263.8 361.2M263.8 361.2L184.2 350.5M225.0 360.0L186.2 320.0M225.0 360.0L149.5 332.5M253.8 205.2L225.0 360.0M225.0 360.0L125.0 393.4M215.2 287.2L213.9 360.0M316.2 235.0L213.9 360.0M253.8 205.2L213.9 360.0M265.0 324.6L213.9 360.0M213.9 360.0L168.8 439.8M205.5 358.5L147.5 385.8M303.0 311.2L205.5 358.5M236.2 280.0L205.5 358.5M205.5 358.5L185.0 245.0M205.5 358.5L152.0 245.8M205.5 358.5L164.2 388.2M209.0 424.0L205.5 358.5M340.0 330.0L205.5 358.5M246.2 300.0L215.5 345.0M306.6 190.0L215.5 345.0M247.5 211.3L215.5 345.0M208.8 235.0L215.5 345.0M215.5 345.0L162.5 278.8M244.5 230.4L215.5 345.0M270.0 231.2L215.5 345.0M351.2 229.5L215.5 345.0M309.2 176.2L238.8 340.0M247.5 211.3L238.8 340.0M223.0 140.0L238.8 340.0M315.8 366.2L238.8 340.0M284.5 212.3L238.8 340.0M265.0 178.8L238.8 340.0M271.2 342.5L126.8 265.0M240.8 130.2L271.2 342.5M278.8 237.5L271.2 342.5M349.2 362.5L297.5 345.0M297.5 345.0L155.5 425.0M245.5 168.8L297.5 345.0M297.5 345.0L202.5 317.5M258.8 326.2L297.5 345.0M211.5 386.2L297.5 345.0M265.8 464.5L202.5 317.5M272.5 333.5L265.8 464.5M236.2 280.0L265.8 464.5M306.2 228.2L265.8 464.5M265.5 248.8L193.8 458.2M252.5 352.5L193.8 458.2M277.5 300.8L193.8 458.2M193.8 458.2L139.2 373.8M253.0 363.8L193.8 458.2M193.8 458.2L192.5 402.5M327.5 412.5L193.8 458.2M211.5 386.2L193.8 458.2M237.5 236.2L193.8 458.2M224.2 390.0L193.8 458.2M168.8 439.8L164.2 388.2M245.5 168.8L168.8 439.8M221.2 324.0L168.8 439.8M168.8 439.8L161.2 337.5M168.8 439.8L98.8 355.0M188.8 435.4L104.5 264.2M256.8 422.0L188.8 435.4M203.8 293.8L188.8 435.4M188.8 435.4L127.5 352.5M188.8 435.4L197.5 330.0M229.2 309.0L188.8 435.4M327.0 357.5L188.8 435.4M193.8 458.2L180.0 429.4M180.0 429.4L111.2 342.5M237.5 236.2L180.0 429.4M316.2 200.0L180.0 429.4M180.0 429.4L126.8 230.8M262.0 395.8L180.0 429.4M241.2 201.2L180.0 429.4M253.0 363.8L180.0 429.4M303.8 383.2L180.0 429.4M180.0 429.4L180.0 229.0M161.0 421.5L187.5 300.0M161.0 421.5L183.8 285.6M161.0 421.5L132.5 360.0M228.2 291.2L161.0 421.5M256.8 422.0L161.0 421.5M213.9 360.0L161.0 421.5M161.0 421.5L164.2 388.2M161.0 421.5L171.2 305.8M137.0 222.5L184.6 198.0M137.0 222.5L159.5 400.8M137.0 222.5L151.8 279.2M221.2 291.2L137.0 222.5M137.0 222.5L126.8 249.2M92.5 202.0L171.8 244.5M112.5 202.5L140.8 285.2M112.5 202.5L187.5 300.0M321.8 225.0L127.5 200.3M127.5 200.3L117.5 387.5M99.2 217.5L268.7 165.6M304.2 267.5L79.5 228.0M79.5 228.0L63.0 305.8M95.0 235.0L179.8 301.2M339.2 212.5L95.0 235.0M366.2 278.8L95.0 235.0M95.0 235.0L180.0 229.0M270.0 153.0L111.8 228.8M238.8 340.0L111.8 228.8M207.0 251.5L126.8 230.8M199.5 176.2L126.8 230.8M126.8 230.8L187.5 300.0M265.0 178.8L151.2 224.5M246.2 269.5L151.2 224.5M151.2 224.5L200.0 351.2M151.2 224.5L161.2 337.5M236.2 280.0L151.2 224.5M272.5 333.5L160.0 221.6M309.2 176.2L160.0 221.6M160.0 221.6L106.2 303.0M237.5 236.2L160.0 221.6M365.8 259.5L160.0 221.6M245.5 168.8L155.5 192.7M155.5 192.7L202.5 317.5M160.0 199.7L184.2 345.0M160.0 199.7L155.0 304.5M191.2 184.4L185.0 245.0M266.2 265.0L191.2 184.4M191.2 184.4L184.2 345.0M191.2 184.4L168.0 328.7M293.2 385.8L191.2 184.4M253.0 373.8L152.0 245.8M238.8 340.0L152.0 245.8M277.5 300.8L152.0 245.8M65.8 243.0L171.2 305.8M65.8 243.0L104.5 264.2M157.5 239.5L65.8 243.0M226.2 232.8L65.8 243.0M160.0 221.6L62.5 248.8M211.5 408.2L62.5 248.8M79.5 228.0L62.5 248.8M62.5 248.8L186.2 320.0M208.8 235.0L62.5 248.8M349.2 362.5L97.5 245.0M97.5 245.0L170.8 340.0M243.8 416.0L97.5 245.0M157.5 239.5L112.5 248.0M112.5 248.0L161.2 337.5M112.5 248.0L171.2 305.8M112.5 248.0L173.2 266.2M384.5 245.0L126.8 249.2M208.8 235.0L126.8 249.2M126.8 249.2L82.0 286.0M126.8 249.2L202.5 317.5M246.2 300.0L69.5 257.5M69.5 257.5L184.2 350.5M203.8 293.8L69.5 257.5M89.2 268.0L156.2 288.8M89.2 268.0L179.8 301.2M89.2 268.0L162.5 278.8M185.0 245.0L104.5 264.2M283.2 273.0L104.5 264.2M253.8 205.2L104.5 264.2M127.5 200.3L115.0 271.2M270.0 231.2L115.0 271.2M151.2 224.5L115.0 271.2M253.8 205.2L115.0 271.2M303.0 311.2L115.0 271.2M126.8 265.0L139.2 373.8M244.5 230.4L126.8 265.0M180.0 429.4L138.2 264.5M104.5 264.2L138.2 264.5M138.2 264.5L85.8 301.2M229.2 309.0L147.5 265.5M313.8 283.8L147.5 265.5M271.2 342.5L147.5 265.5M205.5 358.5L147.5 265.5M151.8 279.2L149.5 332.5M205.4 185.4L151.8 279.2M326.2 322.5L140.8 285.2M323.0 298.2L140.8 285.2M244.5 230.4L140.8 285.2M140.8 285.2L102.5 322.5M180.0 229.0L123.2 290.8M181.1 174.8L123.2 290.8M123.2 290.8L165.0 380.0M123.2 290.8L195.8 283.8M221.2 291.2L64.6 286.0M64.6 286.0L202.5 317.5M225.0 360.0L64.6 286.0M246.2 269.5L64.6 286.0M226.2 232.8L82.0 286.0M349.2 297.5L82.0 286.0M253.8 205.2L82.0 286.0M236.2 280.0L82.0 286.0M193.8 274.5L82.0 286.0M113.5 295.4L151.2 375.8M226.2 232.8L113.5 295.4M111.8 228.8L113.5 295.4M173.8 222.5L113.5 295.4M228.2 291.2L113.5 295.4M171.8 244.5L62.5 362.5M208.8 270.6L62.5 362.5M62.5 362.5L168.0 328.7M173.2 266.2L62.5 362.5M62.5 362.5L85.8 301.2M62.5 362.5L94.5 379.2M62.5 362.5L156.2 348.8M288.8 318.8L62.5 362.5M62.5 362.5L149.5 332.5M89.2 415.0L155.0 304.5M208.8 235.0L89.2 415.0M228.2 291.2L89.2 415.0M89.2 415.0L197.5 330.0M161.0 421.5L89.2 415.0M89.2 415.0L159.5 400.8M293.8 334.4L100.0 408.8M337.5 195.0L100.0 408.8M100.0 408.8L123.0 340.0M100.0 408.8L175.0 316.2M100.0 408.8L197.5 330.0M191.8 262.0L100.0 408.8M215.5 345.0L100.0 408.8M100.0 408.8L175.8 394.5M100.0 408.8L120.0 362.5M100.0 408.8L161.2 337.5M222.7 178.4L100.0 408.8M173.2 266.2L94.5 379.2M365.8 259.5L94.5 379.2M205.5 358.5L94.5 379.2M94.5 379.2L200.0 351.2M337.5 363.0L94.5 379.2M265.0 324.6L94.5 379.2M94.5 379.2L187.5 300.0M288.8 318.8L94.5 379.2M64.6 286.0L94.5 379.2M94.5 379.2L136.2 317.5M183.8 285.6L94.5 379.2M247.5 211.3L79.2 345.0M79.2 345.0L186.2 320.0M79.2 345.0L171.2 305.8M280.0 182.5L93.0 360.5M278.2 405.0L93.0 360.5M277.5 300.8L93.0 360.5M93.0 360.5L197.5 330.0M147.5 265.5L93.0 360.5M93.0 360.5L174.2 381.8M168.8 439.8L93.0 360.5M93.0 360.5L164.2 388.2M93.0 360.5L187.5 300.0M93.0 360.5L179.8 301.2M265.0 178.8L98.8 355.0M323.0 258.2L98.8 355.0M246.2 300.0L98.8 355.0M337.5 260.0L98.8 355.0M98.8 355.0L171.2 305.8M160.0 221.6L98.8 355.0M210.7 196.3L98.8 355.0M98.8 355.0L186.2 320.0M62.5 248.8L98.8 355.0M278.8 237.5L98.8 355.0M173.2 266.2L53.8 315.8M53.8 315.8L120.0 362.5M278.8 237.5L53.8 315.8M193.8 274.5L53.8 315.8M161.0 421.5L53.8 315.8M213.9 360.0L63.0 305.8M229.2 309.0L63.0 305.8M173.2 266.2L63.0 305.8M237.5 236.2L63.0 305.8M63.8 328.8L162.3 404.2M286.2 229.5L63.8 328.8M184.6 198.0L63.8 328.8M246.2 269.5L63.8 328.8M63.8 328.8L175.0 316.2M151.2 224.5L63.8 328.8M327.0 357.5L63.8 328.8M171.8 244.5L63.8 328.8M195.8 283.8L71.2 321.2M140.8 285.2L71.2 321.2M71.2 321.2L159.5 400.8M270.0 153.0L71.2 321.2M156.2 288.8L71.2 321.2M85.8 301.2L157.0 318.8M85.8 301.2L202.5 317.5M113.5 295.4L85.8 301.2M306.2 228.2L96.2 302.5M237.5 236.2L96.2 302.5M171.8 244.5L96.2 302.5M297.5 345.0L96.2 302.5M184.6 198.0L96.2 302.5M247.5 211.3L96.2 302.5M205.5 358.5L106.2 303.0M265.0 324.6L106.2 303.0M288.8 318.8L118.2 310.8M181.1 174.8L118.2 310.8M118.2 310.8L202.5 317.5M118.2 310.8L170.8 340.0M136.2 317.5L161.2 337.5M136.2 317.5L171.2 305.8M278.2 405.0L136.2 317.5M136.2 317.5L164.2 388.2M180.0 229.0L136.2 317.5M241.2 201.2L136.2 317.5M288.8 318.8L136.2 317.5M242.5 291.0L122.5 325.0M122.5 325.0L149.5 332.5M122.5 325.0L132.5 360.0M102.5 322.5L186.2 320.0M102.5 322.5L175.0 316.2M238.8 340.0L103.8 332.5M348.2 271.2L103.8 332.5M162.5 278.8L103.8 332.5M103.8 332.5L143.8 351.2M103.8 332.5L175.0 316.2M205.0 232.5L103.8 332.5M103.8 332.5L200.0 351.2M103.8 332.5L149.5 332.5M316.2 235.0L91.2 331.8M221.2 324.0L91.2 331.8M208.8 270.6L91.2 331.8M91.2 331.8L151.2 375.8M180.0 229.0L91.2 331.8M126.8 265.0L91.2 331.8M252.5 352.5L91.2 331.8M233.8 421.5L117.5 333.8M258.8 135.5L117.5 333.8M162.5 278.8L117.5 333.8M117.5 333.8L157.0 318.8M173.8 222.5L117.5 333.8M327.5 412.5L111.2 342.5M113.5 295.4L111.2 342.5M96.2 302.5L111.2 342.5M265.0 178.8L123.0 340.0M284.5 212.3L123.0 340.0M123.0 340.0L187.5 300.0M252.5 352.5L123.0 340.0M123.0 340.0L197.3 301.5M263.8 361.2L123.0 340.0M127.5 352.5L202.5 317.5M127.5 352.5L179.8 301.2M316.8 312.5L127.5 352.5M304.2 267.5L127.5 352.5M258.8 326.2L127.5 352.5M126.8 265.0L132.5 360.0M207.2 439.8L132.5 360.0M306.2 228.2L132.5 360.0M292.5 183.8L132.5 360.0M283.2 273.0L132.5 360.0M103.8 332.5L132.5 360.0M236.2 280.0L120.0 362.5M241.2 201.2L120.0 362.5M120.0 362.5L179.8 301.2M160.0 199.7L120.0 362.5M191.8 262.0L120.0 362.5M208.8 270.6L120.0 362.5M224.2 390.0L116.2 367.5M293.8 334.4L116.2 367.5M265.0 178.8L116.2 367.5M247.5 211.3L143.8 351.2M113.5 295.4L143.8 351.2M185.0 245.0L143.8 351.2M288.8 318.8L143.8 351.2M278.8 237.5L143.8 351.2M143.8 351.2L165.0 380.0M208.8 235.0L143.8 351.2M136.2 317.5L156.2 348.8M263.8 361.2L156.2 348.8M238.8 340.0L156.2 348.8M349.2 297.5L156.2 348.8M245.0 143.8L161.2 337.5M336.2 308.0L161.2 337.5M225.0 360.0L161.2 337.5M335.0 280.0L161.2 337.5M215.5 345.0L161.2 337.5M221.2 324.0L161.2 337.5M120.0 362.5L161.2 337.5M173.8 222.5L170.8 340.0M239.0 406.2L170.8 340.0M147.5 265.5L170.8 340.0M191.8 262.0L170.8 340.0M293.0 250.0L170.8 340.0M208.8 270.6L149.5 332.5M207.0 251.5L149.5 332.5M195.8 283.8L149.5 332.5M193.8 458.2L149.5 332.5M191.8 262.0L149.5 332.5M91.2 331.8L157.0 318.8M157.0 318.8L186.2 320.0M123.0 340.0L155.0 304.5M266.8 195.5L155.0 304.5M123.0 340.0L184.2 345.0M246.2 269.5L184.2 345.0M253.8 205.2L184.2 345.0M127.5 200.3L184.2 345.0M184.2 345.0L147.5 385.8M226.0 456.8L184.2 345.0M222.7 178.4L184.2 345.0M175.0 316.2L184.2 345.0M103.8 332.5L184.2 350.5M205.0 232.5L184.2 350.5M151.8 279.2L184.2 350.5M277.5 300.8L200.0 351.2M309.2 252.5L200.0 351.2M255.5 245.8L200.0 351.2M266.2 203.8L200.0 351.2M205.4 185.4L200.0 351.2M222.5 213.5L139.2 373.8M185.0 245.0L139.2 373.8M160.0 221.6L139.2 373.8M323.0 258.2L151.2 375.8M85.8 301.2L151.2 375.8M335.0 280.0L151.2 375.8M155.0 304.5L151.2 375.8M246.2 300.0L151.2 375.8M200.0 351.2L151.2 375.8M229.2 309.0L147.5 385.8M227.2 413.8L147.5 385.8M322.9 337.9L147.5 385.8M187.5 300.0L147.5 385.8M215.2 287.2L147.5 385.8M180.0 229.0L147.5 385.8M62.5 362.5L147.5 385.8M203.8 293.8L147.5 385.8M185.0 245.0L165.0 380.0M165.0 380.0L181.2 400.4M205.0 232.5L165.0 380.0M265.5 248.8L165.0 380.0M314.5 158.8L165.0 380.0M120.0 362.5L174.2 381.8M106.2 303.0L174.2 381.8M252.5 352.5L174.2 381.8M297.5 345.0L174.2 381.8M237.0 387.0L174.2 381.8M149.5 332.5L174.2 381.8M157.0 318.8L174.2 381.8M242.5 291.0L174.2 381.8M366.8 227.0L164.2 388.2M187.5 300.0L164.2 388.2M224.2 390.0L164.2 388.2M161.2 337.5L164.2 388.2M91.2 331.8L164.2 388.2M156.2 348.8L164.2 388.2M339.2 212.5L117.5 387.5M237.0 387.0L117.5 387.5M316.2 235.0L117.5 387.5M185.0 245.0L117.5 387.5M251.2 385.0L117.5 387.5M275.0 437.5L117.5 387.5M168.8 439.8L117.5 387.5M256.8 422.0L117.5 387.5M91.2 331.8L117.5 387.5M93.0 360.5L125.0 393.4M263.8 361.2L125.0 393.4M174.2 381.8L125.0 393.4M186.2 320.0L125.0 393.4M113.5 295.4L125.0 393.4M170.8 340.0L125.0 393.4M213.9 360.0L175.8 394.5M228.2 246.0L175.8 394.5M160.0 221.6L175.8 394.5M246.2 269.5L175.8 394.5M118.2 310.8L175.8 394.5M184.2 350.5L175.8 394.5M221.2 324.0L181.2 400.4M316.8 312.5L181.2 400.4M132.5 360.0L181.2 400.4M180.0 229.0L181.2 400.4M326.8 286.2L181.2 400.4M266.2 452.2L181.2 400.4M187.5 300.0L181.2 400.4M263.8 361.2L181.2 400.4M242.5 291.0L181.2 400.4M253.0 373.8L181.2 400.4M207.0 251.5L159.5 400.8M228.2 291.2L159.5 400.8M224.2 390.0L159.5 400.8M215.2 287.2L159.5 400.8M100.0 408.8L159.5 400.8M242.5 291.0L159.5 400.8M127.5 200.3L159.5 400.8M211.5 386.2L159.5 400.8M171.8 244.5L162.3 404.2M71.2 321.2L162.3 404.2M315.8 366.2L162.3 404.2M215.2 287.2L162.3 404.2M205.5 358.5L162.3 404.2M270.0 231.2L162.3 404.2M152.0 245.8L162.3 404.2M191.8 262.0L162.3 404.2M340.0 330.0L162.3 404.2M162.5 278.8L162.3 404.2M247.5 211.3L162.3 404.2M222.5 213.5L192.5 402.5M203.8 293.8L192.5 402.5M156.2 348.8L192.5 402.5M275.0 437.5L192.5 402.5M210.7 196.3L192.5 402.5M200.0 351.2L192.5 402.5M253.0 373.8L192.5 402.5M161.2 337.5L192.5 402.5M170.8 340.0L192.5 402.5M161.0 421.5L192.5 402.5M211.5 408.2L111.2 425.8M183.8 285.6L111.2 425.8M293.0 250.0L111.2 425.8M275.0 437.5L111.2 425.8M209.0 424.0L111.2 425.8M156.2 288.8L128.8 420.0M180.0 229.0L128.8 420.0M240.8 130.2L128.8 420.0M272.5 133.8L128.8 420.0M293.0 250.0L128.8 420.0M157.0 318.8L128.8 420.0M211.5 386.2L128.8 420.0M339.2 212.5L128.8 420.0M209.0 424.0L128.8 420.0M278.8 237.5L128.8 420.0M265.5 248.8L155.5 425.0M200.0 351.2L155.5 425.0M165.0 380.0L155.5 425.0M335.0 280.0L155.5 425.0M253.0 373.8L155.5 425.0M184.6 198.0L155.5 425.0M213.8 312.7L155.5 425.0M151.2 375.8L155.5 425.0M286.2 229.5L155.5 425.0M222.5 213.5L168.0 328.7M323.0 258.2L268.7 165.6M198.1 160.0L268.7 165.6M162.5 183.8L268.7 165.6M253.0 363.8L268.7 165.6M210.5 149.4L268.7 165.6M266.8 195.5L268.7 165.6M14.4 188.0L46.8 216.2M299.8 24.1L272.5 133.8M219.6 105.8L264.8 59.0M264.8 59.0L260.1 107.4M264.8 59.0L291.8 132.5M299.9 91.8L272.5 133.8M299.9 91.8L297.0 147.5M243.8 457.8L228.0 537.8M197.2 484.5L193.8 458.2M197.2 484.5L265.8 464.5M197.2 484.5L168.8 439.8M197.2 484.5L188.8 435.4M383.0 421.0L350.6 465.2M315.2 451.6L350.6 465.2M350.6 465.2L286.0 456.0M365.0 395.8L383.0 421.0M383.0 421.0L335.0 410.8M137.3 96.0L171.5 105.0M137.3 96.0L182.7 131.5M137.3 96.0L159.8 137.2M137.3 96.0L219.6 105.8M137.3 96.0L161.0 166.8M137.3 96.0L137.2 168.9M23.8 375.0L63.2 383.8M23.8 375.0L52.5 340.8M23.8 375.0L58.2 401.6M23.8 375.0L94.5 379.2M23.8 375.0L91.8 452.5M63.2 383.8L94.5 379.2M63.2 383.8L79.2 345.0M63.2 383.8L117.5 387.5M58.2 401.6L94.5 379.2M58.2 401.6L100.0 408.8M58.2 401.6L117.5 387.5M351.8 132.5L389.2 147.0M389.2 147.0L348.2 156.2M389.2 147.0L386.2 187.5M389.2 147.0L356.8 197.5M389.2 147.0L353.0 167.5M386.2 187.5L356.8 197.5M353.0 167.5L386.2 187.5M386.2 187.5L366.8 227.0M386.2 187.5L341.8 181.2M386.2 187.5L337.5 195.0M351.8 132.5L297.0 147.5M351.8 132.5L314.5 158.8M351.8 132.5L348.2 156.2M351.8 132.5L333.2 175.8M351.8 132.5L356.8 197.5M408.8 231.2L366.8 227.0M408.8 231.2L351.2 229.5M408.8 231.2L384.5 245.0M408.8 231.2L387.5 264.5M415.0 268.8L365.8 259.5M415.0 268.8L401.0 332.7M415.0 268.8L384.5 245.0M408.8 307.0L336.2 308.0M401.0 332.7L390.8 351.2M401.0 332.7L380.8 350.5M401.0 332.7L372.5 329.4M414.2 351.2L390.8 351.2M414.2 351.2L380.8 350.5M414.2 351.2L385.0 370.8M361.2 333.0L414.2 351.2M385.0 370.8L360.5 366.2M390.8 351.2L385.0 370.8M385.0 370.8L349.2 362.5M100.0 408.8L91.8 452.5M58.2 401.6L91.8 452.5M111.2 425.8L129.5 446.2M152.2 465.8L155.5 425.0M152.2 465.8L161.0 421.5M193.8 458.2L152.2 465.8M65.0 204.5L92.5 202.0M65.0 204.5L46.8 216.2M65.0 204.5L99.2 217.5M65.0 204.5L112.5 202.5M65.0 204.5L79.5 228.0M46.8 216.2L99.2 217.5M46.8 216.2L65.8 243.0M46.8 216.2L112.5 202.5M46.8 216.2L127.5 200.3M46.8 216.2L111.8 228.8M46.8 216.2L126.8 230.8M46.8 216.2L97.5 245.0M46.8 216.2L104.5 264.2M46.8 216.2L137.0 222.5M85.5 184.6L46.8 216.2M32.5 253.0L89.2 268.0M62.5 248.8L32.5 253.0M18.8 266.2L53.8 276.2M69.5 257.5L18.8 266.2M18.8 266.2L64.6 286.0M18.8 266.2L89.2 268.0M69.5 257.5L53.8 276.2M52.5 340.8L53.8 315.8" fill="none" stroke="#44527f" stroke-width="0.4" stroke-opacity="0.62"/>
<path d="M198.1 160.0L191.2 184.4M280.0 182.5L244.5 230.4M215.2 287.2L179.8 301.2M270.0 231.2L136.2 317.5M195.8 283.8L186.2 320.0M360.5 366.2L225.0 360.0M320.8 183.2L315.6 212.5M140.8 285.2L187.5 300.0M240.8 130.2L226.2 232.8M278.8 237.5L288.8 299.2M200.0 351.2L164.2 388.2M266.8 195.5L270.0 231.2M242.5 291.0L99.2 217.5M260.5 288.8L246.2 300.0M311.8 393.8L305.0 397.0M304.2 267.5L288.8 299.2M258.8 326.2L202.5 317.5M266.8 195.5L306.2 228.2M205.5 358.5L200.0 351.2M203.8 293.8L179.8 301.2M246.2 269.5L208.8 270.6M255.5 245.8L140.8 285.2M246.2 269.5L228.2 246.0M339.2 212.5L94.5 379.2M155.5 192.7L147.5 265.5M211.5 408.2L111.2 342.5M207.0 251.5L185.0 245.0M266.2 265.0L228.2 246.0M240.8 130.2L250.8 147.5M215.2 287.2L207.0 251.5M226.2 232.8L173.8 222.5M229.2 309.0L258.8 326.2M300.0 156.0L284.5 212.3M231.6 140.9L162.5 278.8M181.1 174.8L191.2 184.4M366.2 278.8L263.8 361.2M255.5 245.8L203.8 293.8M215.2 287.2L221.2 324.0M231.6 140.9L205.4 185.4M316.8 312.5L288.8 299.2M272.5 133.8L351.2 229.5M286.0 456.0L239.0 406.2M303.8 383.2L271.2 342.5M272.5 333.5L271.2 342.5M228.2 291.2L237.5 236.2M309.2 176.2L208.8 235.0M293.0 250.0L243.8 416.0M315.8 376.2L303.8 383.2M218.6 127.5L245.5 168.8M213.9 360.0L151.2 224.5M212.6 160.0L215.2 287.2M255.5 245.8L185.0 245.0M213.8 312.7L171.8 244.5M191.8 262.0L171.2 305.8M265.5 248.8L113.5 295.4M221.2 324.0L258.8 326.2M242.5 291.0L96.2 302.5M237.5 236.2L180.0 229.0M213.8 312.7L175.0 316.2M151.8 279.2L118.2 310.8M219.6 105.8L246.2 269.5M228.2 246.0L208.8 270.6M147.5 265.5L195.8 283.8M266.2 265.0L179.8 301.2M241.2 201.2L258.8 326.2M258.8 176.2L266.2 265.0M256.8 422.0L174.2 381.8M222.5 213.5L270.0 252.5M191.8 262.0L183.8 285.6M255.5 245.8L238.8 340.0M203.8 293.8L79.2 345.0M288.8 299.2L260.5 288.8M226.2 232.8L208.8 235.0M89.2 415.0L151.2 375.8M228.2 291.2L152.0 245.8M237.0 387.0L213.9 360.0M236.2 280.0L191.8 262.0M253.8 205.2L162.5 278.8M311.8 393.8L191.8 262.0M221.2 291.2L236.2 280.0M156.2 348.8L186.2 320.0M229.2 309.0L106.2 303.0M251.2 385.0L271.2 342.5M205.5 358.5L197.3 301.5M265.5 248.8L186.2 320.0M226.2 232.8L228.2 246.0M278.2 405.0L274.2 393.2M241.2 201.2L165.0 380.0M149.5 332.5L157.0 318.8M288.8 299.2L246.2 300.0M222.5 213.5L191.8 262.0M283.2 273.0L260.5 288.8M265.5 248.8L139.2 373.8M233.8 421.5L147.5 265.5M221.2 291.2L315.8 366.2M221.2 291.2L258.8 406.2M325.3 208.4L283.2 273.0M275.0 437.5L243.8 457.8M260.5 288.8L207.0 251.5M215.2 287.2L203.8 293.8M89.2 415.0L96.2 302.5M221.2 324.0L197.5 330.0M212.6 160.0L237.5 236.2M132.5 360.0L149.5 332.5M168.8 439.8L181.2 400.4M149.5 332.5L147.5 385.8M159.8 137.2L152.0 245.8M228.2 246.0L183.8 285.6M255.5 245.8L283.2 273.0M225.0 360.0L271.2 342.5M253.8 205.2L226.2 232.8M228.2 246.0L185.0 245.0M349.2 362.5L160.0 221.6M288.8 318.8L195.8 283.8M279.5 377.5L251.2 385.0M356.8 197.5L355.0 243.8M244.5 230.4L228.2 246.0M241.2 201.2L213.8 312.7M255.0 216.8L309.2 252.5M221.2 291.2L208.8 270.6M198.6 143.5L198.1 160.0M207.0 251.5L173.2 266.2M337.5 260.0L266.2 265.0M265.0 178.8L268.7 165.6M156.2 288.8L63.8 328.8M238.2 186.2L226.2 232.8M349.2 297.5L237.5 236.2M198.1 160.0L205.4 185.4M207.0 251.5L208.8 270.6M112.5 202.5L151.8 279.2M245.5 168.8L202.5 200.9M79.5 228.0L179.8 301.2M266.2 265.0L238.0 330.0M173.2 266.2L193.8 274.5M208.8 270.6L185.0 245.0M314.5 158.8L188.8 435.4M211.5 386.2L192.5 402.5M213.8 312.7L191.8 262.0M213.9 360.0L173.2 266.2M211.5 386.2L151.2 375.8M198.6 143.5L240.8 130.2M321.8 225.0L270.0 231.2M175.0 316.2L184.2 350.5M205.4 185.4L283.2 273.0M205.5 358.5L195.8 283.8M229.2 309.0L207.0 251.5M297.0 147.5L284.5 212.3M288.8 299.2L327.0 357.5M337.5 195.0L337.5 260.0M304.2 267.5L236.2 280.0M161.0 421.5L184.2 350.5M336.2 308.0L253.0 363.8M360.8 404.5L274.2 393.2M219.6 105.8L291.8 132.5M211.5 408.2L251.2 385.0M62.5 362.5L117.5 387.5M237.5 236.2L195.8 283.8M208.8 270.6L225.0 360.0M260.5 288.8L258.8 326.2M337.5 363.0L243.8 416.0M222.5 213.5L208.8 235.0M136.2 317.5L179.8 301.2M229.2 309.0L390.8 351.2M211.5 408.2L174.2 381.8M284.5 212.3L306.2 228.2M106.2 303.0L197.5 330.0M258.8 135.5L358.8 292.0M253.8 205.2L179.8 301.2M242.5 291.0L221.2 291.2M157.0 318.8L197.5 330.0M237.5 236.2L126.8 265.0M242.5 291.0L322.9 337.9M255.0 216.8L316.2 235.0M210.5 149.4L229.2 309.0M303.0 311.2L242.5 291.0M316.2 235.0L288.8 299.2M213.9 360.0L185.0 245.0M266.2 265.0L337.5 363.0M270.0 252.5L260.5 288.8M283.2 273.0L288.8 299.2M180.0 429.4L161.0 421.5M228.2 291.2L191.8 262.0M258.8 326.2L253.0 363.8M228.2 291.2L103.8 332.5M184.2 350.5L197.3 301.5M215.5 345.0L185.0 245.0M303.0 311.2L197.3 301.5M228.2 291.2L236.2 280.0M335.0 280.0L260.5 288.8M137.2 168.9L238.2 186.2M227.2 413.8L225.0 360.0M215.2 287.2L288.8 318.8M126.8 249.2L187.5 300.0M243.8 457.8L79.2 345.0M115.0 271.2L162.5 278.8M242.5 291.0L237.5 236.2M266.2 203.8L253.8 205.2M85.5 184.6L185.0 245.0M135.8 179.7L236.2 280.0M213.8 312.7L265.0 324.6M111.3 169.8L191.8 262.0M205.0 232.5L183.8 285.6M132.5 360.0L171.2 305.8M198.6 143.5L207.0 251.5M220.0 186.8L210.7 196.3M203.8 293.8L253.0 363.8M236.2 280.0L147.5 385.8M188.8 435.4L181.2 400.4M221.2 291.2L263.8 361.2M242.5 291.0L288.8 318.8M210.7 196.3L175.0 316.2M188.6 143.0L185.0 245.0M284.5 212.3L215.2 287.2M270.0 231.2L265.0 324.6M247.5 211.3L125.0 393.4M228.2 291.2L221.2 324.0M195.8 283.8L159.5 400.8M266.8 195.5L173.8 222.5M284.5 212.3L193.8 274.5M253.0 373.8L263.8 361.2M221.2 324.0L179.8 301.2M101.2 182.6L160.0 199.7M353.0 167.5L316.8 312.5M270.0 252.5L253.0 363.8M221.2 324.0L180.0 429.4M293.0 250.0L228.2 246.0M331.2 329.6L192.5 402.5M210.7 196.3L208.8 270.6M180.0 229.0L191.2 184.4M258.8 176.2L241.2 201.2M278.0 167.5L337.5 195.0M215.2 287.2L116.2 367.5M221.2 291.2L228.2 246.0M270.0 231.2L278.8 237.5M213.9 360.0L183.8 285.6M120.0 362.5L149.5 332.5M215.2 287.2L193.8 274.5M258.8 135.5L208.8 235.0M224.2 390.0L165.0 380.0M286.2 158.2L268.7 165.6M205.0 232.5L170.8 340.0M303.0 311.2L256.8 422.0M215.2 287.2L183.8 285.6M242.5 291.0L215.2 287.2M278.8 237.5L185.0 245.0M260.5 288.8L239.0 406.2M253.8 205.2L247.5 211.3M266.2 203.8L244.5 230.4M237.5 236.2L200.0 351.2M152.0 245.8L187.5 300.0M270.0 231.2L316.8 312.5M181.1 174.8L205.4 185.4M303.0 311.2L195.8 283.8M265.0 324.6L225.0 360.0M221.2 291.2L246.2 300.0M228.2 291.2L209.0 424.0M253.0 363.8L92.5 202.0M170.8 340.0L184.2 350.5M272.5 333.5L303.8 383.2M197.5 330.0L200.0 351.2M247.5 211.3L161.0 421.5M306.2 228.2L321.8 225.0M236.2 280.0L243.8 416.0M108.0 142.0L199.5 176.2M242.5 291.0L272.5 333.5M208.8 270.6L179.8 301.2M208.8 235.0L175.0 316.2M219.6 105.8L265.0 178.8M156.2 288.8L175.0 316.2M221.2 324.0L203.8 293.8M191.2 184.4L205.0 232.5M175.8 394.5L155.5 425.0M223.0 140.0L202.5 317.5M212.6 160.0L205.0 232.5M247.5 211.3L203.8 293.8M85.8 301.2L96.2 302.5M222.5 213.5L225.0 360.0M221.2 324.0L252.5 352.5M246.2 300.0L140.8 285.2M255.5 245.8L96.2 302.5M137.0 222.5L175.0 316.2M265.5 248.8L205.0 232.5M228.2 291.2L203.8 293.8M258.8 135.5L268.7 165.6M303.0 311.2L277.5 300.8M238.0 330.0L272.5 333.5M236.2 280.0L315.8 366.2M333.2 175.8L266.2 265.0M225.0 360.0L213.9 360.0M227.2 413.8L181.2 400.4M225.0 360.0L168.0 328.7M300.0 156.0L266.8 195.5M309.2 176.2L244.5 230.4M195.8 283.8L156.2 348.8M213.8 312.7L202.5 317.5M323.0 258.2L376.8 282.0M161.2 337.5L151.2 375.8M221.2 324.0L151.8 279.2M289.2 171.2L316.2 200.0M293.0 250.0L237.5 236.2M291.8 132.5L231.6 140.9M149.5 332.5L186.2 320.0M210.5 149.4L126.8 230.8M348.2 271.2L242.5 291.0M366.8 227.0L270.0 231.2M320.8 183.2L208.8 235.0M205.0 232.5L65.8 243.0M246.2 269.5L102.5 322.5M309.2 176.2L320.8 183.2M207.2 439.8L179.8 301.2M320.8 183.2L183.8 285.6M183.8 285.6L195.8 283.8M89.2 415.0L200.0 351.2M211.5 112.7L270.0 153.0M270.0 153.0L255.5 245.8M237.5 236.2L205.0 232.5M140.8 285.2L165.0 380.0M270.0 153.0L237.5 236.2M251.2 385.0L211.5 386.2M239.0 406.2L175.8 394.5M243.8 457.8L205.5 358.5M316.8 312.5L171.8 244.5M258.8 135.5L229.2 309.0M253.8 205.2L112.5 202.5M366.2 278.8L340.0 330.0M238.8 340.0L188.8 435.4M210.5 149.4L152.0 245.8M327.0 357.5L275.0 437.5M251.2 385.0L192.5 402.5M112.5 248.0L139.2 373.8M255.0 216.8L191.8 262.0M221.2 291.2L197.3 301.5M106.2 303.0L171.2 305.8M221.2 324.0L175.0 316.2M260.5 288.8L123.2 290.8M266.2 265.0L326.2 322.5M123.2 290.8L98.8 355.0M315.6 212.5L284.5 212.3M137.0 222.5L149.5 332.5M207.0 251.5L380.8 350.5M309.2 252.5L283.2 273.0M258.8 406.2L271.2 342.5M258.8 176.2L186.2 320.0M366.8 227.0L272.5 333.5M228.2 291.2L213.8 312.7M335.0 280.0L323.0 298.2M355.0 243.8L293.0 250.0M180.0 229.0L155.0 304.5M243.8 416.0L173.8 222.5M156.2 288.8L155.0 304.5M213.8 312.7L208.8 270.6M221.2 291.2L202.5 317.5M184.2 345.0L175.8 394.5M263.8 361.2L175.8 394.5M180.0 229.0L183.8 285.6M210.7 196.3L236.2 280.0M387.5 264.5L293.8 334.4M265.0 178.8L341.8 181.2M188.6 143.0L223.0 140.0M242.5 291.0L193.8 274.5M365.8 259.5L226.2 232.8M284.5 212.3L208.8 235.0M226.2 232.8L173.2 266.2M390.8 351.2L313.8 429.4M222.5 213.5L242.5 291.0M253.0 373.8L252.5 352.5M193.8 458.2L175.8 394.5M211.5 408.2L132.5 360.0M207.0 251.5L186.2 320.0M101.2 182.6L185.0 245.0M244.5 230.4L208.8 270.6M222.5 213.5L265.5 248.8M300.0 156.0L315.6 212.5M220.0 186.8L306.2 228.2M213.8 312.7L122.5 325.0M270.0 153.0L268.7 165.6M230.6 164.4L180.0 229.0M98.8 355.0L155.5 425.0M335.0 280.0L272.5 333.5M193.8 274.5L181.2 400.4M208.8 235.0L173.2 266.2M246.2 269.5L268.7 165.6M333.2 175.8L309.2 252.5M203.8 293.8L162.5 278.8M228.2 291.2L221.2 291.2M270.0 231.2L265.5 248.8M113.5 295.4L123.0 340.0M300.0 156.0L245.0 143.8M266.2 265.0L288.8 299.2M303.0 311.2L263.8 361.2M278.2 405.0L185.0 245.0M313.8 283.8L209.0 424.0M162.5 183.8L173.8 222.5M270.0 153.0L104.5 264.2M95.0 235.0L171.8 244.5M221.2 291.2L238.0 330.0M205.4 185.4L205.0 232.5M277.5 300.8L229.2 309.0M193.8 274.5L161.2 337.5M181.1 174.8L221.2 324.0M323.0 298.2L203.8 293.8M151.2 224.5L191.8 262.0M233.8 421.5L164.2 388.2M241.2 201.2L297.5 345.0M300.0 156.0L111.8 228.8M241.2 201.2L238.2 186.2M116.2 367.5L111.2 425.8M302.5 414.5L187.5 300.0M246.2 300.0L228.2 246.0M132.5 360.0L143.8 351.2M193.8 274.5L171.2 305.8M242.5 291.0L183.8 285.6M247.5 211.3L316.2 235.0M183.8 285.6L200.0 351.2M215.2 287.2L200.0 351.2M207.0 251.5L253.0 373.8M242.5 291.0L187.5 300.0M203.8 293.8L202.5 317.5M348.2 156.2L229.2 309.0M236.2 280.0L321.8 404.5M244.5 230.4L237.5 236.2M138.2 264.5L122.5 325.0M219.6 105.8L207.0 251.5M161.2 337.5L165.0 380.0M221.2 291.2L265.0 324.6M313.8 283.8L336.2 308.0M274.2 393.2L252.5 352.5M210.5 149.4L173.8 222.5M316.2 200.0L187.5 300.0M246.2 97.7L245.5 168.8M147.5 265.5L156.2 288.8M353.0 167.5L253.8 205.2M361.2 333.0L360.5 366.2M152.0 245.8L111.2 342.5M226.2 232.8L155.5 425.0M260.5 288.8L251.2 385.0M258.8 135.5L263.8 361.2M208.8 235.0L203.8 293.8M230.6 164.4L215.5 345.0M323.0 258.2L228.2 291.2M230.6 164.4L266.8 195.5M185.0 245.0L191.8 262.0M286.2 158.2L266.8 195.5M246.2 300.0L258.8 406.2M175.0 316.2L174.2 381.8M228.2 246.0L175.0 316.2M246.2 269.5L136.2 317.5M197.5 330.0L179.8 301.2M246.2 300.0L197.3 301.5M289.2 171.2L247.5 211.3M208.8 270.6L186.2 320.0M208.8 270.6L197.3 301.5M138.2 264.5L127.5 352.5M237.5 236.2L203.8 293.8M280.0 182.5L238.2 186.2M286.2 158.2L270.0 231.2M100.0 408.8L179.8 301.2M205.4 185.4L183.8 285.6M193.8 274.5L202.5 317.5M270.0 231.2L336.2 308.0M270.0 252.5L265.5 248.8M126.8 249.2L161.2 337.5M253.0 363.8L202.5 317.5M228.2 246.0L111.8 228.8M255.5 245.8L288.8 318.8M203.8 293.8L157.0 318.8M162.5 183.8L184.6 198.0M244.5 230.4L195.8 283.8M122.5 325.0L123.0 340.0M331.2 329.6L293.2 385.8M203.8 293.8L193.8 274.5M279.5 377.5L213.9 360.0M366.8 227.0L187.5 300.0M147.5 385.8L165.0 380.0M207.0 251.5L155.5 192.7M289.2 171.2L306.2 228.2M323.0 298.2L326.2 322.5M315.6 212.5L337.5 260.0M236.2 280.0L193.8 274.5M173.8 222.5L91.2 331.8M213.8 312.7L331.2 329.6M207.0 251.5L171.8 244.5M266.2 203.8L255.0 216.8M241.2 201.2L246.2 269.5M289.2 171.2L179.8 301.2M280.0 182.5L205.4 185.4M351.2 229.5L344.5 245.0M151.2 224.5L157.0 318.8M221.2 291.2L156.2 348.8M256.8 422.0L274.2 393.2M266.2 265.0L205.0 232.5M323.0 258.2L149.5 332.5M253.8 205.2L255.0 216.8M240.8 130.2L265.0 178.8M140.8 285.2L184.2 350.5M380.8 350.5L337.5 363.0M344.5 245.0L193.8 274.5M174.2 381.8L164.2 388.2M221.2 291.2L205.0 232.5M221.2 291.2L140.8 285.2M286.0 456.0L111.2 425.8M199.5 176.2L152.0 245.8M304.2 267.5L347.2 332.8M278.8 237.5L270.0 252.5M233.8 421.5L117.5 387.5M231.6 140.9L238.2 186.2M160.0 221.6L152.0 245.8M260.5 288.8L253.0 363.8M258.8 135.5L225.0 360.0M199.5 176.2L191.8 262.0M117.5 333.8L184.2 345.0M65.8 243.0L96.2 302.5M241.2 201.2L112.5 202.5M157.5 239.5L179.8 301.2M349.2 297.5L263.8 361.2M171.2 305.8L168.0 328.7M219.6 105.8L102.5 322.5M222.7 178.4L327.5 412.5M140.8 285.2L132.5 360.0M228.2 291.2L171.2 305.8M288.8 318.8L340.0 330.0M188.6 143.0L191.2 184.4M221.2 291.2L161.2 337.5M210.7 196.3L191.8 262.0M255.0 216.8L152.0 245.8M255.5 245.8L215.2 287.2M303.8 383.2L311.8 393.8M183.8 285.6L197.3 301.5M236.2 280.0L262.0 395.8M323.0 258.2L316.2 235.0M250.8 147.5L223.0 140.0M171.8 244.5L143.8 351.2M164.2 388.2L181.2 400.4M195.8 283.8L161.2 337.5M185.0 245.0L168.0 328.7M288.8 299.2L263.8 361.2M244.5 230.4L162.5 278.8M161.0 421.5L155.5 425.0M337.5 260.0L293.0 250.0M337.5 260.0L278.8 237.5M208.8 270.6L173.8 222.5M223.0 140.0L222.7 178.4M266.2 265.0L215.2 287.2M349.2 362.5L187.5 300.0M274.2 393.2L122.5 325.0M304.2 267.5L221.2 324.0M127.5 352.5L170.8 340.0M260.5 288.8L215.5 345.0M255.5 245.8L270.0 252.5M265.5 248.8L208.8 270.6M126.8 230.8L171.2 305.8M85.8 301.2L187.5 300.0M228.2 291.2L183.8 285.6M303.0 311.2L272.5 333.5M322.9 337.9L237.5 236.2M226.2 232.8L147.5 385.8M207.0 251.5L97.5 245.0M322.9 337.9L112.5 248.0M266.2 203.8L215.2 287.2M171.2 305.8L179.8 301.2M237.5 236.2L193.8 274.5M147.5 265.5L164.2 388.2M266.2 265.0L226.2 232.8M245.5 168.8L236.2 280.0M366.2 278.8L293.2 385.8M293.2 385.8L253.0 363.8M316.2 200.0L323.0 298.2M372.5 329.4L322.9 337.9M132.5 360.0L147.5 385.8M239.0 406.2L192.5 402.5M323.0 298.2L213.8 312.7M182.7 131.5L202.5 200.9M256.8 422.0L278.2 405.0M246.2 300.0L221.2 324.0M229.2 309.0L138.2 264.5M239.0 406.2L205.5 358.5M152.0 245.8L202.5 317.5M224.2 390.0L184.2 345.0M164.2 388.2L175.8 394.5M245.5 168.8L183.8 285.6M231.6 140.9L384.5 245.0M161.0 166.8L220.0 186.8M289.2 171.2L157.0 318.8M266.2 203.8L286.2 229.5M82.0 286.0L98.8 355.0M202.5 200.9L180.0 429.4M226.2 232.8L155.0 304.5M250.8 147.5L245.5 168.8M266.8 195.5L191.2 184.4M236.2 280.0L207.0 251.5M237.5 236.2L184.2 350.5M236.2 280.0L165.0 380.0M202.5 317.5L175.8 394.5M159.5 400.8L168.0 328.7M203.8 293.8L147.5 265.5M243.8 416.0L183.8 285.6M260.5 288.8L102.5 322.5M265.5 248.8L246.2 269.5M92.5 202.0L151.2 224.5M115.0 271.2L159.5 400.8M344.5 245.0L309.2 252.5M89.2 268.0L138.2 264.5M250.8 147.5L268.7 165.6M228.2 246.0L203.8 293.8M271.2 342.5L111.2 342.5M246.2 269.5L221.2 324.0M255.5 245.8L316.8 312.5M303.0 311.2L293.2 385.8M215.5 345.0L159.5 400.8M266.8 195.5L184.6 198.0M241.2 201.2L286.2 229.5M258.8 326.2L293.8 334.4M340.0 330.0L305.0 397.0M266.2 203.8L207.0 251.5M208.8 270.6L122.5 325.0M213.9 360.0L157.0 318.8M277.5 300.8L197.5 330.0M246.2 300.0L253.0 373.8M219.6 105.8L356.8 197.5M221.2 324.0L112.5 248.0M182.7 131.5L270.0 153.0M288.8 299.2L228.2 246.0M205.5 358.5L187.5 300.0M284.5 212.3L228.2 246.0M279.5 377.5L335.0 410.8M272.5 133.8L315.6 212.5M306.2 228.2L277.5 300.8M237.5 236.2L207.0 251.5M356.8 197.5L173.2 266.2M265.0 178.8L266.2 203.8M237.5 236.2L179.8 301.2M183.8 285.6L171.2 305.8M140.8 285.2L117.5 387.5M341.8 181.2L237.5 236.2M270.0 252.5L228.2 291.2M100.0 408.8L164.2 388.2M300.0 156.0L253.8 205.2M91.2 331.8L155.0 304.5M212.6 160.0L213.8 312.7M278.8 237.5L349.2 362.5M170.8 340.0L168.0 328.7M245.0 143.8L231.6 140.9M187.5 300.0L202.5 317.5M238.0 330.0L171.8 244.5M241.2 201.2L191.8 262.0M208.8 270.6L161.2 337.5M313.8 429.4L263.8 361.2M258.8 176.2L197.3 301.5M262.0 395.8L205.0 232.5M246.2 300.0L136.2 317.5M297.0 147.5L205.0 232.5M327.5 412.5L286.0 456.0M151.8 279.2L140.8 285.2M326.8 286.2L335.0 410.8M220.0 186.8L316.2 235.0M304.2 267.5L326.8 286.2M188.6 143.0L238.2 186.2M221.2 291.2L197.5 330.0M321.8 225.0L268.7 165.6M293.2 385.8L193.8 274.5M101.2 182.6L195.8 283.8M220.0 186.8L202.5 200.9M207.2 439.8L175.8 394.5M69.5 257.5L116.2 367.5M193.8 458.2L181.2 400.4M313.8 283.8L316.8 312.5M253.8 205.2L222.5 213.5M271.2 342.5L180.0 229.0M185.0 245.0L183.8 285.6M246.2 269.5L127.5 200.3M242.5 291.0L180.0 229.0M293.2 385.8L311.8 393.8M132.5 360.0L168.0 328.7M99.2 217.5L62.5 248.8M191.8 262.0L179.8 301.2M227.2 413.8L127.5 352.5M207.0 251.5L205.0 232.5M323.0 258.2L265.5 248.8M226.2 232.8L162.5 278.8M255.5 245.8L315.8 366.2M288.8 299.2L347.2 332.8M92.5 202.0L126.8 230.8M218.6 127.5L230.6 164.4M365.8 259.5L293.8 334.4M278.0 167.5L306.2 228.2M320.8 183.2L255.5 245.8M213.8 312.7L65.8 243.0M228.2 291.2L266.2 452.2M237.0 387.0L192.5 402.5M283.2 273.0L208.8 270.6M199.5 176.2L126.8 265.0M265.5 248.8L237.0 387.0M115.0 271.2L187.5 300.0M251.2 385.0L224.2 390.0M246.2 300.0L139.2 373.8M222.7 178.4L205.4 185.4M266.2 452.2L256.8 422.0M118.2 310.8L151.2 375.8M210.5 149.4L208.8 270.6M211.5 386.2L125.0 393.4M208.8 270.6L156.2 288.8M355.0 243.8L321.8 225.0M253.0 363.8L238.8 340.0M288.8 299.2L207.2 439.8M246.2 269.5L171.2 305.8M265.0 324.6L180.0 429.4M246.2 269.5L197.5 330.0M207.0 251.5L213.9 360.0M306.2 228.2L207.0 251.5M265.0 324.6L179.8 301.2M258.8 326.2L215.5 345.0M323.0 258.2L304.2 267.5M253.8 205.2L316.8 312.5M229.2 309.0L174.2 381.8M95.0 235.0L111.8 228.8M258.8 135.5L321.8 225.0M213.8 312.7L258.8 326.2M260.1 107.4L173.8 222.5M229.2 309.0L251.2 385.0M237.5 236.2L62.5 362.5M316.2 200.0L293.0 250.0M321.8 225.0L244.5 230.4M181.1 174.8L183.8 285.6M242.5 291.0L191.8 262.0M233.8 421.5L161.0 421.5M243.8 416.0L271.2 342.5M164.2 388.2L125.0 393.4M349.2 362.5L132.5 360.0M147.5 385.8L128.8 420.0M260.1 107.4L321.8 225.0M274.2 393.2L238.8 340.0M231.6 140.9L223.0 140.0M240.8 130.2L222.7 178.4M180.0 429.4L168.0 328.7M162.5 278.8L140.8 285.2M111.2 342.5L197.3 301.5M316.8 312.5L191.2 184.4M304.2 267.5L313.8 283.8M151.2 375.8L164.2 388.2M270.0 231.2L258.8 326.2M246.2 269.5L186.2 320.0M115.0 271.2L156.2 288.8M210.7 196.3L208.8 235.0M191.8 262.0L155.5 425.0M228.2 291.2L252.5 352.5M320.8 183.2L306.6 190.0M288.8 318.8L180.0 229.0M326.8 286.2L323.0 298.2M198.6 143.5L63.0 305.8M125.0 393.4L197.3 301.5M244.5 230.4L147.5 265.5M226.2 232.8L98.8 355.0M260.5 288.8L213.8 312.7M349.2 297.5L323.0 298.2M260.5 288.8L156.2 348.8M279.5 377.5L225.0 360.0M230.6 164.4L244.5 230.4M207.0 251.5L191.8 262.0M213.8 312.7L187.5 300.0M274.2 393.2L251.2 385.0M293.8 334.4L208.8 270.6M303.0 311.2L305.0 397.0M237.5 236.2L191.8 262.0M309.2 252.5L253.0 373.8M253.8 205.2L97.5 245.0M222.7 178.4L202.5 200.9M253.0 373.8L271.2 342.5M245.5 168.8L309.2 176.2M246.2 300.0L207.0 251.5M323.0 298.2L260.5 288.8M291.8 132.5L300.0 156.0M247.5 211.3L246.2 300.0M253.0 373.8L193.8 458.2M211.5 408.2L100.0 408.8M226.2 232.8L237.5 236.2M152.0 245.8L171.2 305.8M211.5 112.7L228.2 246.0M246.2 269.5L137.0 222.5M286.2 229.5L215.2 287.2M265.5 248.8L322.9 337.9M258.8 135.5L253.8 205.2M283.2 273.0L202.5 317.5M313.8 283.8L326.8 286.2M326.2 322.5L322.9 337.9M208.8 235.0L151.2 224.5M137.0 222.5L157.5 239.5M244.5 230.4L127.5 352.5M309.2 176.2L228.2 246.0M230.6 164.4L210.7 196.3M266.8 195.5L253.8 205.2M244.5 230.4L252.5 352.5M270.0 252.5L192.5 402.5M283.2 273.0L277.5 300.8M221.2 291.2L179.8 301.2M203.8 293.8L224.2 390.0M126.8 265.0L138.2 264.5M207.2 439.8L193.8 458.2M161.2 337.5L155.0 304.5M288.8 299.2L238.0 330.0M288.8 299.2L272.5 333.5M228.2 291.2L156.2 348.8M207.2 439.8L162.5 278.8M223.0 140.0L283.2 273.0M316.2 235.0L270.0 231.2M277.5 300.8L238.8 340.0M305.0 397.0L225.0 360.0M210.7 196.3L173.8 222.5M220.0 186.8L180.0 229.0M213.9 360.0L197.5 330.0M123.2 290.8L132.5 360.0M286.2 229.5L246.2 269.5M250.8 147.5L241.2 201.2M151.2 375.8L181.2 400.4M215.2 287.2L171.2 305.8M188.8 435.4L164.2 388.2M215.2 287.2L208.8 270.6M286.2 158.2L387.5 264.5M223.0 140.0L191.2 184.4M366.2 278.8L246.2 300.0M238.0 330.0L209.0 424.0M100.0 408.8L127.5 352.5M215.2 287.2L197.3 301.5M221.2 291.2L271.2 342.5M260.5 288.8L265.0 324.6M202.5 200.9L270.0 231.2M306.2 228.2L286.2 229.5M293.0 250.0L238.0 330.0M159.8 137.2L135.8 179.7M265.5 248.8L151.8 279.2M99.2 217.5L164.2 388.2M246.2 300.0L192.5 402.5M349.2 297.5L337.5 363.0M270.0 231.2L246.2 269.5M229.2 309.0L155.0 304.5M111.2 342.5L147.5 385.8M116.2 367.5L125.0 393.4M272.5 333.5L171.8 244.5M361.2 333.0L192.5 402.5M265.0 178.8L266.8 195.5M213.8 312.7L123.0 340.0M278.0 167.5L325.3 208.4M162.5 278.8L157.0 318.8M265.0 324.6L157.0 318.8M265.0 178.8L208.8 270.6M303.0 311.2L252.5 352.5M344.5 245.0L255.5 245.8M151.2 375.8L147.5 385.8M157.0 318.8L175.8 394.5M220.0 186.8L126.8 230.8M256.8 422.0L183.8 285.6M247.5 211.3L366.2 278.8M246.2 269.5L236.2 280.0M260.5 288.8L175.8 394.5M335.0 410.8L125.0 393.4M384.5 245.0L265.5 248.8M215.2 287.2L244.5 230.4M260.5 288.8L226.2 232.8M297.0 147.5L300.0 156.0M207.0 251.5L175.0 316.2M327.0 357.5L279.5 377.5M320.8 183.2L309.2 252.5M303.8 383.2L335.0 410.8M306.2 228.2L164.2 388.2M221.2 291.2L372.5 329.4M193.8 274.5L175.0 316.2M162.5 183.8L266.2 265.0M117.5 333.8L171.2 305.8M255.0 216.8L215.2 287.2M336.2 308.0L293.8 334.4M147.5 385.8L162.3 404.2M207.0 251.5L353.0 400.5M184.2 345.0L197.3 301.5M255.0 216.8L202.5 317.5M213.8 312.7L188.8 435.4M255.5 245.8L175.0 316.2M161.2 337.5L170.8 340.0M221.2 291.2L116.2 367.5M274.2 393.2L263.8 361.2M356.8 197.5L213.8 312.7M265.5 248.8L228.2 246.0M168.8 439.8L161.0 421.5M323.0 298.2L288.8 318.8M361.2 333.0L116.2 367.5M253.8 205.2L184.2 350.5M265.0 324.6L224.2 390.0M171.5 105.0L258.8 176.2M221.2 291.2L215.2 287.2M351.2 229.5L164.2 388.2M246.2 269.5L293.8 334.4M209.0 424.0L224.2 390.0M297.0 147.5L237.5 236.2M286.2 229.5L229.2 309.0M167.6 118.0L244.5 230.4M94.5 379.2L192.5 402.5M265.5 248.8L173.8 222.5M140.8 285.2L171.2 305.8M135.8 179.7L358.8 292.0M255.5 245.8L195.8 283.8M293.2 385.8L297.5 345.0M384.5 245.0L347.2 332.8M209.0 424.0L188.8 435.4M366.2 278.8L252.5 352.5M293.8 334.4L211.5 386.2M220.0 186.8L270.0 252.5M203.8 293.8L171.8 244.5M63.8 328.8L151.2 375.8M207.0 251.5L117.5 387.5M331.2 329.6L262.0 395.8M193.8 274.5L123.2 290.8M277.5 300.8L197.3 301.5M116.2 367.5L171.2 305.8M278.8 237.5L203.8 293.8M202.5 200.9L208.8 235.0M208.8 235.0L126.8 265.0M167.6 118.0L245.5 168.8M305.0 397.0L278.2 405.0M255.0 216.8L337.5 260.0M270.0 252.5L188.8 435.4M337.5 195.0L325.3 208.4M253.0 373.8L175.0 316.2M306.2 228.2L237.5 236.2M211.5 386.2L165.0 380.0M316.2 200.0L203.8 293.8M229.2 309.0L149.5 332.5M221.2 324.0L197.3 301.5M256.8 422.0L262.0 395.8M245.5 168.8L221.2 291.2M270.0 252.5L272.5 333.5M246.2 269.5L229.2 309.0M275.0 437.5L197.5 330.0M309.2 252.5L237.5 236.2M266.2 265.0L170.8 340.0M306.6 190.0L316.2 200.0M339.2 212.5L268.7 165.6M218.6 127.5L258.8 135.5M246.2 300.0L147.5 265.5M161.0 166.8L171.8 244.5M272.5 133.8L250.8 147.5M193.8 274.5L179.8 301.2M316.8 312.5L224.2 390.0M297.0 147.5L162.5 278.8M215.2 287.2L156.2 288.8M349.2 362.5L126.8 265.0M231.6 140.9L191.2 184.4M283.2 273.0L156.2 288.8M220.0 186.8L271.2 342.5M151.2 375.8L128.8 420.0M215.2 287.2L213.8 312.7M207.2 439.8L155.5 425.0M247.5 211.3L326.8 286.2M258.8 135.5L209.0 424.0M286.2 229.5L207.0 251.5M340.0 330.0L251.2 385.0M270.0 231.2L244.5 230.4M228.2 246.0L126.8 230.8M255.5 245.8L173.8 222.5M265.0 178.8L270.0 252.5M85.8 301.2L123.0 340.0M228.2 291.2L173.2 266.2M247.5 211.3L255.0 216.8M258.8 326.2L171.2 305.8M349.2 297.5L316.8 312.5M161.2 337.5L181.2 400.4M358.8 292.0L349.2 297.5M212.6 160.0L220.0 186.8M79.2 345.0L175.0 316.2M191.8 262.0L161.2 337.5M365.0 395.8L337.5 363.0M278.0 167.5L353.0 400.5M278.8 237.5L236.2 280.0M246.2 269.5L242.5 291.0M289.2 171.2L268.7 165.6M278.2 405.0L237.0 387.0M210.7 196.3L251.2 385.0M253.8 205.2L207.0 251.5M126.8 265.0L140.8 285.2M297.0 147.5L265.0 178.8M260.5 288.8L191.8 262.0M173.8 222.5L179.8 301.2M309.2 176.2L246.2 269.5M224.2 390.0L205.5 358.5M111.8 228.8L123.0 340.0M292.5 183.8L222.5 213.5M159.5 400.8L192.5 402.5M111.3 169.8L171.8 244.5M306.2 228.2L228.2 246.0M255.5 245.8L184.6 198.0M286.2 158.2L231.6 140.9M245.5 168.8L351.2 229.5M293.8 334.4L271.2 342.5M242.5 291.0L228.2 291.2M152.0 245.8L193.8 274.5M266.2 452.2L252.5 352.5M255.5 245.8L205.0 232.5M137.2 168.9L157.5 239.5M152.0 245.8L195.8 283.8M213.8 312.7L192.5 402.5M291.8 132.5L205.0 232.5M266.2 265.0L304.2 267.5M242.5 291.0L327.5 412.5M321.8 225.0L179.8 301.2M180.0 429.4L195.8 283.8M208.8 270.6L195.8 283.8M180.0 229.0L160.0 199.7M314.5 158.8L183.8 285.6M198.6 143.5L199.5 176.2M245.5 168.8L210.7 196.3M253.0 373.8L205.5 358.5M208.8 270.6L138.2 264.5M270.0 252.5L180.0 229.0M195.8 283.8L184.2 350.5M266.8 195.5L255.0 216.8M255.0 216.8L236.2 280.0M288.8 318.8L238.8 340.0M222.7 178.4L246.2 300.0M223.0 140.0L205.0 232.5M316.2 235.0L207.0 251.5M255.5 245.8L321.8 404.5M79.2 345.0L122.5 325.0M306.6 190.0L205.0 232.5M181.1 174.8L278.8 237.5M255.0 216.8L288.8 318.8M315.6 212.5L270.0 252.5M270.0 252.5L106.2 303.0M316.8 312.5L353.0 400.5M151.8 279.2L186.2 320.0M210.7 196.3L205.0 232.5M228.2 291.2L200.0 351.2M215.2 287.2L205.0 232.5M266.8 195.5L286.2 229.5M226.2 232.8L305.0 397.0M213.8 312.7L252.5 352.5M344.5 245.0L366.2 278.8M202.5 317.5L179.8 301.2M221.2 324.0L211.5 386.2M79.2 345.0L175.8 394.5M323.0 298.2L226.2 232.8M104.5 264.2L115.0 271.2M205.5 358.5L215.5 345.0M202.5 200.9L262.0 395.8M221.2 324.0L156.2 348.8M208.8 235.0L180.0 229.0M171.8 244.5L111.2 342.5M106.2 303.0L118.2 310.8M387.5 264.5L323.0 258.2M265.0 324.6L203.8 293.8M132.8 142.6L183.8 285.6M309.2 252.5L266.2 265.0M210.5 149.4L266.8 195.5M303.8 383.2L263.8 361.2M222.7 178.4L244.5 230.4M253.0 373.8L123.0 340.0M360.8 404.5L151.2 375.8M315.8 376.2L155.5 425.0M212.6 160.0L222.5 213.5M333.2 175.8L366.8 227.0M252.5 352.5L184.2 350.5M184.2 345.0L184.2 350.5M320.8 183.2L162.5 278.8M180.0 229.0L191.8 262.0M313.8 429.4L265.8 464.5M102.5 322.5L161.2 337.5M238.2 186.2L112.5 248.0M293.0 250.0L215.2 287.2M247.5 211.3L227.2 413.8M191.8 262.0L118.2 310.8M246.2 97.7L193.8 274.5M279.5 377.5L278.2 405.0M238.2 186.2L237.5 236.2M213.9 360.0L147.5 265.5M316.8 312.5L151.2 224.5M266.2 265.0L277.5 300.8M213.8 312.7L221.2 324.0M202.5 317.5L200.0 351.2M270.0 153.0L351.2 229.5M125.0 393.4L111.2 425.8M211.5 112.7L188.6 143.0M303.0 311.2L260.5 288.8M221.2 291.2L275.0 437.5M316.8 312.5L260.5 288.8M115.0 271.2L113.5 295.4M243.8 416.0L211.5 386.2M228.2 291.2L138.2 264.5M337.5 260.0L316.2 235.0M228.2 246.0L238.8 340.0M208.8 270.6L191.8 262.0M270.0 231.2L205.0 232.5M238.8 340.0L161.0 421.5M236.2 280.0L170.8 340.0M173.2 266.2L162.5 278.8M173.8 222.5L147.5 265.5M246.2 269.5L221.2 291.2M266.2 203.8L186.2 320.0M222.7 178.4L238.8 340.0M161.0 166.8L284.5 212.3M253.8 205.2L184.6 198.0M247.5 211.3L244.5 230.4M156.2 348.8L155.0 304.5M246.2 97.7L270.0 153.0M270.0 252.5L236.2 280.0M280.0 182.5L339.2 212.5M247.5 211.3L241.2 201.2M270.0 252.5L361.2 333.0M212.6 160.0L221.2 291.2M221.2 291.2L151.2 375.8M208.8 270.6L170.8 340.0M240.8 130.2L291.8 132.5M193.8 274.5L184.2 350.5M230.6 164.4L306.2 228.2M360.8 404.5L313.8 429.4M266.8 195.5L246.2 300.0M156.2 288.8L197.3 301.5M270.0 252.5L228.2 246.0M266.2 265.0L183.8 285.6M173.8 222.5L180.0 229.0M246.2 269.5L263.8 361.2M263.8 361.2L205.5 358.5M171.2 305.8L184.2 350.5M147.5 265.5L193.8 274.5M242.5 291.0L207.0 251.5M240.8 130.2L203.8 293.8M297.5 345.0L140.8 285.2M96.2 302.5L175.8 394.5M208.8 235.0L62.5 362.5M339.2 212.5L288.8 299.2M286.2 158.2L245.5 168.8M315.8 376.2L275.0 437.5M199.5 176.2L220.0 186.8M170.8 340.0L149.5 332.5M94.5 379.2L117.5 333.8M366.2 278.8L349.2 297.5M263.8 361.2L164.2 388.2M250.8 147.5L265.0 324.6M96.2 302.5L103.8 332.5M226.2 232.8L180.0 229.0M266.2 265.0L215.5 345.0M171.2 305.8L174.2 381.8M270.0 153.0L205.0 232.5M246.2 300.0L297.5 345.0M212.6 160.0L270.0 153.0M291.8 132.5L314.5 158.8M265.5 248.8L304.2 267.5M335.0 280.0L238.8 340.0M246.2 300.0L183.8 285.6M151.2 224.5L160.0 199.7M303.0 311.2L238.0 330.0M136.2 317.5L162.3 404.2M123.0 340.0L151.2 375.8M208.8 270.6L293.2 385.8M265.5 248.8L132.5 360.0M136.2 317.5L157.0 318.8M258.8 176.2L175.0 316.2M238.2 186.2L208.8 235.0M151.8 279.2L202.5 317.5M162.5 278.8L155.0 304.5M239.0 406.2L93.0 360.5M237.5 236.2L99.2 217.5M323.0 258.2L238.8 340.0M341.8 181.2L358.8 292.0M215.2 287.2L94.5 379.2M253.0 373.8L253.0 363.8M270.0 153.0L326.2 322.5M246.2 269.5L187.5 300.0M326.8 286.2L157.5 239.5M208.8 270.6L173.2 266.2M197.5 330.0L268.7 165.6M210.7 196.3L156.2 288.8M79.2 345.0L106.2 303.0M339.2 212.5L209.0 424.0M316.2 235.0L170.8 340.0M205.5 358.5L161.2 337.5M64.6 286.0L125.0 393.4M306.2 228.2L152.0 245.8M120.0 362.5L200.0 351.2M270.0 252.5L323.0 298.2M116.2 367.5L161.2 337.5M297.0 147.5L228.2 246.0M270.0 252.5L183.8 285.6M349.2 362.5L293.2 385.8M280.0 182.5L183.8 285.6M245.0 143.8L222.7 178.4M284.5 212.3L288.8 318.8M135.8 179.7L85.5 184.6M181.2 400.4L162.3 404.2M245.5 168.8L288.8 299.2M253.0 363.8L120.0 362.5M337.5 195.0L193.8 274.5M165.0 380.0L179.8 301.2M98.8 355.0L147.5 385.8M326.2 322.5L302.5 414.5M200.0 351.2L139.2 373.8M306.6 190.0L284.5 212.3M205.0 232.5L185.0 245.0M127.5 352.5L125.0 393.4M356.8 197.5L325.3 208.4M315.6 212.5L220.0 186.8M113.5 295.4L96.2 302.5M236.2 280.0L202.5 317.5M242.5 291.0L179.8 301.2M155.0 304.5L200.0 351.2M304.2 267.5L197.3 301.5M186.2 320.0L175.8 394.5M138.2 264.5L197.3 301.5M210.7 196.3L309.2 252.5M188.6 143.0L265.0 178.8M260.1 107.4L185.0 245.0M111.8 228.8L160.0 221.6M199.5 176.2L213.8 312.7M278.0 167.5L209.0 424.0M323.0 258.2L309.2 252.5M274.2 393.2L162.3 404.2M203.8 293.8L195.8 283.8M349.2 297.5L336.2 308.0M238.8 340.0L164.2 388.2M164.2 388.2L159.5 400.8M198.1 160.0L128.8 420.0M138.2 264.5L120.0 362.5M202.5 200.9L387.5 264.5M229.2 309.0L253.0 363.8M253.8 205.2L286.2 229.5M137.0 222.5L186.2 320.0M258.8 176.2L127.5 352.5M203.8 293.8L197.5 330.0M180.0 229.0L69.5 257.5M284.5 212.3L239.0 406.2M272.5 333.5L252.5 352.5M213.8 312.7L211.5 408.2M253.8 205.2L208.8 235.0M208.8 235.0L171.8 244.5M288.8 318.8L183.8 285.6M211.5 408.2L162.3 404.2M226.2 232.8L103.8 332.5M265.5 248.8L161.2 337.5M181.1 174.8L238.2 186.2M358.8 292.0L213.8 312.7M211.5 386.2L213.9 360.0M147.5 265.5L173.2 266.2M231.6 140.9L79.5 228.0M293.0 250.0L195.8 283.8M277.5 300.8L187.5 300.0M213.9 360.0L197.3 301.5M258.8 326.2L390.8 351.2M246.2 269.5L303.0 311.2M211.5 386.2L215.5 345.0M198.6 143.5L258.8 176.2M238.2 186.2L270.0 252.5M208.8 270.6L94.5 379.2M182.7 131.5L272.5 133.8M229.2 309.0L315.8 366.2M185.0 245.0L171.2 305.8M277.5 300.8L183.8 285.6M167.6 118.0L283.2 273.0M260.5 288.8L244.5 230.4M265.0 324.6L340.0 330.0M292.5 183.8L215.2 287.2M203.8 293.8L191.8 262.0M286.2 229.5L288.8 299.2M306.2 228.2L270.0 231.2M211.5 112.7L253.8 205.2M180.0 429.4L127.5 352.5M333.2 175.8L138.2 264.5M229.2 309.0L226.2 232.8M127.5 352.5L155.0 304.5M286.2 158.2L270.0 252.5M225.0 360.0L126.8 249.2M111.4 133.6L242.5 291.0M53.8 315.8L63.8 328.8M278.0 167.5L255.0 216.8M180.0 429.4L147.5 385.8M256.8 422.0L215.5 345.0M246.2 97.7L92.5 202.0M197.5 330.0L184.2 350.5M280.0 182.5L365.8 259.5M221.2 291.2L253.0 373.8M280.0 182.5L316.2 235.0M171.8 244.5L155.0 304.5M337.5 195.0L185.0 245.0M265.8 464.5L62.5 362.5M219.6 105.8L326.2 322.5M286.2 229.5L213.8 312.7M173.2 266.2L143.8 351.2M197.5 330.0L197.3 301.5M151.2 224.5L125.0 393.4M333.2 175.8L326.2 322.5M173.8 222.5L102.5 322.5M185.0 245.0L197.5 330.0M221.2 324.0L111.2 425.8M253.8 205.2L202.5 317.5M246.2 300.0L213.9 360.0M246.2 300.0L205.0 232.5M258.8 176.2L304.2 267.5M255.0 216.8L283.2 273.0M218.6 127.5L221.2 291.2M151.2 375.8L174.2 381.8M215.5 345.0L195.8 283.8M333.2 175.8L335.8 383.8M286.0 456.0L181.2 400.4M162.5 278.8L186.2 320.0M175.0 316.2L197.3 301.5M156.2 348.8L168.0 328.7M89.2 415.0L186.2 320.0M182.7 131.5L255.0 216.8M79.5 228.0L113.5 295.4M348.2 156.2L270.0 252.5M266.2 265.0L126.8 265.0M164.2 388.2L128.8 420.0M202.5 200.9L184.6 198.0M270.0 231.2L283.2 273.0M132.5 360.0L155.0 304.5M321.8 225.0L266.2 265.0M260.1 107.4L316.2 235.0M260.5 288.8L322.9 337.9M171.5 105.0L188.6 143.0M237.0 387.0L197.3 301.5M293.0 250.0L202.5 317.5M271.2 342.5L175.0 316.2M253.0 373.8L200.0 351.2M221.2 291.2L147.5 385.8M309.2 252.5L221.2 291.2M251.2 385.0L197.3 301.5M275.0 437.5L162.3 404.2M229.2 309.0L175.0 316.2M198.1 160.0L250.8 147.5M173.8 222.5L123.2 290.8M98.8 355.0L143.8 351.2M221.2 291.2L326.2 322.5M155.0 304.5L175.8 394.5M315.6 212.5L270.0 231.2M213.8 312.7L120.0 362.5M69.5 257.5L62.5 362.5M171.8 244.5L202.5 317.5M241.2 201.2L323.0 298.2M293.0 250.0L278.8 237.5M241.2 201.2L205.4 185.4M208.8 270.6L151.8 279.2M339.2 212.5L272.5 333.5M207.2 439.8L209.0 424.0M79.5 228.0L147.5 265.5M182.7 131.5L195.8 283.8M140.8 285.2L79.2 345.0M260.5 288.8L297.5 345.0M313.8 283.8L208.8 235.0M215.5 345.0L197.5 330.0M286.2 229.5L164.2 388.2M236.2 280.0L337.5 363.0M211.5 386.2L138.2 264.5M62.5 362.5L161.2 337.5M265.0 178.8L327.5 412.5M237.5 236.2L187.5 300.0M251.2 385.0L152.0 245.8M161.0 166.8L208.8 235.0M228.2 246.0L103.8 332.5M280.0 182.5L215.2 287.2M258.8 176.2L289.2 171.2M120.0 362.5L186.2 320.0M64.6 286.0L170.8 340.0M202.5 200.9L297.5 345.0M351.2 229.5L387.5 264.5M210.7 196.3L202.5 200.9M193.8 458.2L188.8 435.4M241.2 201.2L239.0 406.2M339.2 212.5L260.5 288.8M270.0 252.5L340.0 330.0M207.0 251.5L162.5 278.8M266.8 195.5L266.2 265.0M226.0 456.8L258.8 406.2M255.0 216.8L244.5 230.4M340.0 330.0L192.5 402.5M258.8 176.2L278.0 167.5M327.0 357.5L91.2 331.8M211.5 386.2L126.8 249.2M278.0 167.5L228.2 246.0M314.5 158.8L237.5 236.2M289.2 171.2L320.8 183.2M335.0 280.0L228.2 246.0M245.0 143.8L230.6 164.4M265.5 248.8L155.5 192.7M260.5 288.8L185.0 245.0M258.8 406.2L152.0 245.8M183.8 285.6L79.2 345.0M306.6 190.0L244.5 230.4M223.0 140.0L220.0 186.8M244.5 230.4L256.8 422.0M152.0 245.8L104.5 264.2M297.0 147.5L280.0 182.5M250.8 147.5L126.8 230.8M266.8 195.5L222.5 213.5M353.0 167.5L265.5 248.8M246.2 97.7L138.2 264.5M251.2 385.0L205.5 358.5M262.0 395.8L184.2 345.0M203.8 293.8L100.0 408.8M211.5 112.7L222.7 178.4M222.5 213.5L160.0 199.7M132.8 142.6L228.2 291.2M313.8 429.4L225.0 360.0M390.8 351.2L271.2 342.5M239.0 406.2L200.0 351.2M215.2 287.2L236.2 280.0M265.5 248.8L277.5 300.8M213.8 312.7L186.2 320.0M237.5 236.2L162.5 278.8M222.5 213.5L246.2 300.0M173.2 266.2L187.5 300.0M303.0 311.2L303.8 383.2M337.5 195.0L238.8 340.0M265.0 324.6L258.8 326.2M326.2 322.5L311.8 393.8M337.5 195.0L323.0 258.2M270.0 153.0L226.2 232.8M222.5 213.5L215.5 345.0M306.2 228.2L335.0 280.0M255.0 216.8L195.8 283.8M228.2 246.0L115.0 271.2M279.5 377.5L274.2 393.2M231.6 140.9L226.2 232.8M228.2 246.0L360.8 404.5M173.8 222.5L162.5 278.8M185.0 245.0L156.2 288.8M293.8 334.4L297.5 345.0M266.2 265.0L184.6 198.0M304.2 267.5L205.0 232.5M306.6 190.0L253.8 205.2M228.2 291.2L197.3 301.5M238.2 186.2L220.0 186.8M255.0 216.8L208.8 270.6M93.0 360.5L175.8 394.5M167.6 118.0L250.8 147.5M258.8 406.2L274.2 393.2M205.0 232.5L136.2 317.5M327.5 412.5L156.2 288.8M221.2 291.2L238.8 340.0M111.4 133.6L126.8 230.8M213.9 360.0L175.0 316.2M289.2 171.2L283.2 273.0M205.4 185.4L203.8 293.8M236.2 280.0L238.0 330.0M303.0 311.2L213.8 312.7M202.5 200.9L140.8 285.2M102.5 322.5L159.5 400.8M313.8 429.4L168.8 439.8M256.8 422.0L184.2 345.0M246.2 300.0L271.2 342.5M253.0 373.8L180.0 229.0M228.2 291.2L162.5 278.8M289.2 171.2L284.5 212.3M322.9 337.9L224.2 390.0M184.2 345.0L200.0 351.2M221.2 324.0L183.8 285.6M151.8 279.2L165.0 380.0M159.8 137.2L151.2 224.5M212.6 160.0L268.7 165.6M316.8 312.5L265.0 324.6M222.5 213.5L195.8 283.8M241.2 201.2L228.2 246.0M208.8 270.6L271.2 342.5M243.8 416.0L251.2 385.0M207.0 251.5L266.2 452.2M226.0 456.8L237.0 387.0M236.2 280.0L228.2 246.0M160.0 221.6L147.5 265.5M123.0 340.0L139.2 373.8M266.2 265.0L323.0 298.2M211.5 408.2L224.2 390.0M203.8 293.8L126.8 265.0M226.2 232.8L126.8 249.2M266.8 195.5L247.5 211.3M258.8 176.2L253.8 205.2M260.1 107.4L304.2 267.5M297.0 147.5L278.8 237.5M241.2 201.2L125.0 393.4M260.1 107.4L208.8 235.0M260.5 288.8L193.8 274.5M297.0 147.5L316.2 200.0M168.8 439.8L165.0 380.0M376.8 282.0L200.0 351.2M102.5 322.5L184.2 350.5M187.5 300.0L192.5 402.5M236.2 280.0L293.8 334.4M228.2 246.0L268.7 165.6M297.0 147.5L253.8 205.2M336.2 308.0L159.5 400.8M242.5 291.0L239.0 406.2M278.2 405.0L253.0 373.8M242.5 291.0L157.0 318.8M247.5 211.3L286.2 229.5M175.0 316.2L179.8 301.2M180.0 429.4L159.5 400.8M376.8 282.0L297.5 345.0M215.5 345.0L91.2 331.8M253.8 205.2L241.2 201.2M207.0 251.5L184.2 350.5M288.8 299.2L179.8 301.2M202.5 200.9L191.2 184.4M316.2 200.0L337.5 363.0M272.5 333.5L211.5 386.2M102.5 322.5L165.0 380.0M245.0 143.8L241.2 201.2M238.2 186.2L157.5 239.5M306.2 228.2L353.0 400.5M138.2 264.5L184.2 345.0M127.5 352.5L116.2 367.5M207.0 251.5L151.2 375.8M283.2 273.0L238.8 340.0M246.2 269.5L288.8 318.8M270.0 252.5L195.8 283.8M265.5 248.8L366.2 278.8M277.5 300.8L266.2 452.2M126.8 230.8L63.0 305.8M175.8 394.5L192.5 402.5M270.0 252.5L208.8 235.0M315.6 212.5L229.2 309.0M255.0 216.8L268.7 165.6M220.0 186.8L221.2 291.2M218.6 127.5L266.2 265.0M215.5 345.0L126.8 230.8M253.0 363.8L205.5 358.5M366.2 278.8L376.8 282.0M210.7 196.3L187.5 300.0M221.2 291.2L183.8 285.6M280.0 182.5L238.0 330.0M126.8 230.8L175.0 316.2M246.2 269.5L226.2 232.8M238.0 330.0L98.8 355.0M106.2 303.0L103.8 332.5M337.5 260.0L229.2 309.0M246.2 269.5L238.0 330.0M111.3 169.8L230.6 164.4M279.5 377.5L262.0 395.8M213.8 312.7L126.8 265.0M103.8 332.5L155.0 304.5M126.8 230.8L149.5 332.5M258.8 326.2L335.0 410.8M293.0 250.0L242.5 291.0M314.5 158.8L333.2 175.8M321.8 404.5L170.8 340.0M266.2 265.0L221.2 324.0M147.5 265.5L184.2 350.5M313.8 283.8L335.8 383.8M221.2 291.2L162.5 278.8M270.0 252.5L221.2 291.2M236.2 280.0L157.5 239.5M151.8 279.2L187.5 300.0M237.5 236.2L225.0 360.0M278.2 405.0L200.0 351.2M222.5 213.5L348.2 271.2M213.8 312.7L205.5 358.5M203.8 293.8L175.8 394.5M229.2 309.0L258.8 406.2M347.2 332.8L233.8 421.5M289.2 171.2L292.5 183.8M183.8 285.6L96.2 302.5M229.2 309.0L171.8 244.5M208.8 270.6L233.8 421.5M240.8 130.2L245.0 143.8M191.2 184.4L151.8 279.2M156.2 288.8L168.0 328.7M171.5 105.0L167.6 118.0M167.6 118.0L182.7 131.5M167.6 118.0L198.6 143.5M211.5 112.7L219.6 105.8M219.6 105.8L260.1 107.4M218.6 127.5L210.5 149.4M182.7 131.5L159.8 137.2M159.8 137.2L137.2 168.9M108.0 142.0L132.8 142.6M132.8 142.6L148.2 173.8M188.6 143.0L198.1 160.0M111.3 169.8L127.5 200.3M111.3 169.8L148.2 173.8M148.2 173.8L162.5 183.8M181.1 174.8L199.5 176.2M199.5 176.2L184.6 198.0M85.5 184.6L127.5 200.3M162.5 183.8L191.2 184.4M246.2 97.7L260.1 107.4M246.2 97.7L250.8 147.5M240.8 130.2L231.6 140.9M258.8 135.5L250.8 147.5M272.5 133.8L245.0 143.8M291.8 132.5L286.2 158.2M291.8 132.5L268.7 165.6M286.2 158.2L292.5 183.8M286.2 158.2L280.0 182.5M300.0 156.0L289.2 171.2M270.0 153.0L278.0 167.5M245.0 143.8L268.7 165.6M230.6 164.4L245.5 168.8M265.0 178.8L280.0 182.5M265.0 178.8L247.5 211.3M258.8 176.2L268.7 165.6M278.0 167.5L280.0 182.5M289.2 171.2L309.2 176.2M333.2 175.8L341.8 181.2M309.2 176.2L306.6 190.0M356.8 197.5L366.8 227.0M337.5 195.0L316.2 200.0M306.6 190.0L325.3 208.4M284.5 212.3L266.8 195.5M284.5 212.3L286.2 229.5M247.5 211.3L237.5 236.2M247.5 211.3L222.5 213.5M220.0 186.8L222.7 178.4M384.5 245.0L351.2 229.5M366.8 227.0L344.5 245.0M366.8 227.0L355.0 243.8M355.0 243.8L348.2 271.2M339.2 212.5L344.5 245.0M344.5 245.0L365.8 259.5M365.8 259.5L376.8 282.0M337.5 260.0L313.8 283.8M337.5 260.0L309.2 252.5M286.2 229.5L244.5 230.4M270.0 231.2L270.0 252.5M283.2 273.0L246.2 300.0M326.8 286.2L316.8 312.5M326.8 286.2L335.0 280.0M335.0 280.0L336.2 308.0M304.2 267.5L335.0 280.0M344.5 245.0L348.2 271.2M335.0 280.0L349.2 297.5M336.2 308.0L340.0 330.0M323.0 298.2L316.8 312.5M303.0 311.2L288.8 318.8M221.2 291.2L207.0 251.5M246.2 300.0L229.2 309.0M221.2 291.2L213.8 312.7M215.2 287.2L258.8 326.2M277.5 300.8L288.8 318.8M246.2 300.0L272.5 333.5M326.2 322.5L331.2 329.6M316.8 312.5L331.2 329.6M303.0 311.2L331.2 329.6M347.2 332.8L322.9 337.9M347.2 332.8L337.5 363.0M316.8 312.5L347.2 332.8M326.2 322.5L347.2 332.8M340.0 330.0L361.2 333.0M303.0 311.2L322.9 337.9M207.0 251.5L193.8 274.5M365.0 395.8L353.0 400.5M365.0 395.8L360.5 366.2M360.5 366.2L315.8 376.2M349.2 362.5L327.0 357.5M337.5 363.0L327.0 357.5M315.8 376.2L311.8 393.8M335.8 383.8L327.5 412.5M315.8 366.2L303.8 383.2M303.8 383.2L293.2 385.8M293.2 385.8L305.0 397.0M327.0 357.5L305.0 397.0M327.5 412.5L313.8 429.4M321.8 404.5L325.0 433.5M311.8 393.8L325.0 433.5M266.2 452.2L243.8 457.8M266.2 452.2L286.0 456.0M313.8 429.4L286.0 456.0M226.0 456.8L243.8 457.8M207.2 439.8L188.8 435.4M227.2 413.8L256.8 422.0M233.8 421.5L258.8 406.2M233.8 421.5L243.8 416.0M239.0 406.2L251.2 385.0M239.0 406.2L224.2 390.0M258.8 406.2L278.2 405.0M262.0 395.8L251.2 385.0M251.2 385.0L253.0 373.8M253.0 363.8L225.0 360.0M229.2 309.0L252.5 352.5M213.9 360.0L184.2 345.0M238.0 330.0L213.9 360.0M213.8 312.7L215.5 345.0M215.5 345.0L202.5 317.5M265.0 324.6L271.2 342.5M272.5 333.5L297.5 345.0M168.8 439.8L155.5 425.0M188.8 435.4L180.0 429.4M137.0 222.5L151.2 224.5M137.0 222.5L152.0 245.8M101.2 182.6L92.5 202.0M92.5 202.0L111.8 228.8M112.5 202.5L127.5 200.3M135.8 179.7L112.5 202.5M135.8 179.7L127.5 200.3M92.5 202.0L99.2 217.5M99.2 217.5L97.5 245.0M95.0 235.0L112.5 248.0M111.8 228.8L126.8 249.2M137.0 222.5L111.8 228.8M126.8 230.8L160.0 221.6M126.8 230.8L126.8 249.2M160.0 221.6L173.8 222.5M173.8 222.5L155.5 192.7M155.5 192.7L184.6 198.0M185.0 245.0L171.8 244.5M185.0 245.0L152.0 245.8M97.5 245.0L104.5 264.2M97.5 245.0L112.5 248.0M126.8 249.2L126.8 265.0M69.5 257.5L89.2 268.0M69.5 257.5L104.5 264.2M115.0 271.2L140.8 285.2M126.8 265.0L147.5 265.5M147.5 265.5L183.8 285.6M140.8 285.2L183.8 285.6M123.2 290.8L118.2 310.8M123.2 290.8L183.8 285.6M64.6 286.0L82.0 286.0M89.2 415.0L100.0 408.8M89.2 415.0L111.2 425.8M100.0 408.8L111.2 425.8M94.5 379.2L93.0 360.5M94.5 379.2L120.0 362.5M79.2 345.0L93.0 360.5M93.0 360.5L132.5 360.0M98.8 355.0L117.5 333.8M53.8 315.8L63.0 305.8M63.0 305.8L63.8 328.8M63.8 328.8L102.5 322.5M93.0 360.5L71.2 321.2M118.2 310.8L122.5 325.0M118.2 310.8L117.5 333.8M136.2 317.5L175.0 316.2M136.2 317.5L122.5 325.0M103.8 332.5L123.0 340.0M91.2 331.8L117.5 333.8M122.5 325.0L91.2 331.8M111.2 342.5L127.5 352.5M118.2 310.8L111.2 342.5M127.5 352.5L132.5 360.0M123.0 340.0L120.0 362.5M120.0 362.5L116.2 367.5M143.8 351.2L161.2 337.5M156.2 348.8L157.0 318.8M143.8 351.2L156.2 348.8M161.2 337.5L149.5 332.5M170.8 340.0L157.0 318.8M156.2 348.8L149.5 332.5M156.2 288.8L157.0 318.8M213.8 312.7L157.0 318.8M183.8 285.6L175.0 316.2M186.2 320.0L197.3 301.5M202.5 317.5L197.3 301.5M202.5 317.5L197.5 330.0M187.5 300.0L184.2 345.0M184.2 345.0L168.0 328.7M139.2 373.8L147.5 385.8M143.8 351.2L139.2 373.8M165.0 380.0L175.8 394.5M151.2 375.8L165.0 380.0M139.2 373.8L125.0 393.4M165.0 380.0L159.5 400.8M165.0 380.0L162.3 404.2M171.5 105.0L242.5 291.0M167.6 118.0L207.0 251.5M219.6 105.8L355.0 243.8M219.6 105.8L208.8 270.6M182.7 131.5L99.2 217.5M111.4 133.6L205.0 232.5M117.3 133.0L255.0 216.8M108.0 142.0L246.2 300.0M132.8 142.6L127.5 352.5M198.6 143.5L99.2 217.5M212.6 160.0L123.2 290.8M137.2 168.9L181.1 174.8M199.5 176.2L118.2 310.8M85.5 184.6L253.8 205.2M246.2 97.7L252.5 352.5M260.1 107.4L258.8 326.2M260.1 107.4L205.4 185.4M258.8 135.5L309.2 252.5M272.5 133.8L238.8 340.0M272.5 133.8L348.2 156.2M353.0 167.5L207.0 251.5M314.5 158.8L126.8 265.0M314.5 158.8L244.5 230.4M270.0 153.0L283.2 273.0M245.0 143.8L278.0 167.5M245.0 143.8L220.0 186.8M231.6 140.9L280.0 182.5M231.6 140.9L180.0 229.0M223.0 140.0L278.8 237.5M230.6 164.4L171.8 244.5M245.5 168.8L247.5 211.3M265.0 178.8L376.8 282.0M280.0 182.5L325.3 208.4M292.5 183.8L236.2 280.0M245.5 168.8L292.5 183.8M292.5 183.8L238.0 330.0M341.8 181.2L226.2 232.8M341.8 181.2L213.8 312.7M306.6 190.0L186.2 320.0M356.8 197.5L322.9 337.9M337.5 195.0L157.0 318.8M339.2 212.5L222.7 178.4M339.2 212.5L185.0 245.0M339.2 212.5L237.5 236.2M315.6 212.5L265.5 248.8M315.6 212.5L227.2 413.8M266.8 195.5L265.5 248.8M316.2 200.0L384.5 245.0M384.5 245.0L213.8 312.7M366.8 227.0L266.2 265.0M253.8 205.2L355.0 243.8M387.5 264.5L197.3 301.5M365.8 259.5L242.5 291.0M365.8 259.5L268.7 165.6M365.8 259.5L309.2 252.5M223.0 140.0L309.2 252.5M265.0 178.8L316.2 235.0M306.2 228.2L243.8 457.8M304.2 267.5L246.2 300.0M218.6 127.5L304.2 267.5M316.2 200.0L313.8 283.8M313.8 283.8L293.2 385.8M326.8 286.2L175.0 316.2M325.3 208.4L326.8 286.2M335.0 280.0L277.5 300.8M335.0 280.0L274.2 393.2M335.0 280.0L213.9 360.0M266.2 203.8L348.2 271.2M366.2 278.8L187.5 300.0M316.2 235.0L366.2 278.8M366.2 278.8L271.2 342.5M376.8 282.0L175.8 394.5M349.2 297.5L200.0 351.2M316.8 312.5L305.0 397.0M288.8 299.2L237.5 236.2M272.5 333.5L159.5 400.8M242.5 291.0L326.2 322.5M331.2 329.6L311.8 393.8M229.2 309.0L340.0 330.0M270.0 153.0L347.2 332.8M221.2 291.2L347.2 332.8M372.5 329.4L171.8 244.5M358.8 292.0L322.9 337.9M215.2 287.2L380.8 350.5M390.8 351.2L180.0 229.0M365.0 395.8L213.9 360.0M293.0 250.0L365.0 395.8M316.2 200.0L353.0 400.5M246.2 300.0L349.2 362.5M327.0 357.5L149.5 332.5M315.8 376.2L237.0 387.0M313.8 283.8L315.8 376.2M303.8 383.2L211.5 408.2M208.8 235.0L293.2 385.8M311.8 393.8L137.0 222.5M265.5 248.8L311.8 393.8M305.0 397.0L243.8 416.0M305.0 397.0L262.0 395.8M322.9 337.9L305.0 397.0M213.8 312.7L305.0 397.0M199.5 176.2L305.0 397.0M228.2 246.0L335.0 410.8M327.5 412.5L271.2 342.5M236.2 280.0L302.5 414.5M302.5 414.5L195.8 283.8M313.8 429.4L174.2 381.8M208.8 270.6L313.8 429.4M315.8 376.2L313.8 429.4M335.0 410.8L275.0 437.5M286.2 229.5L275.0 437.5M266.2 452.2L127.5 352.5M266.2 452.2L184.6 198.0M245.5 168.8L286.0 456.0M215.2 287.2L226.0 456.8M226.0 456.8L192.5 402.5M207.2 439.8L195.8 283.8M283.2 273.0L207.2 439.8M292.5 183.8L207.2 439.8M209.0 424.0L159.5 400.8M272.5 333.5L209.0 424.0M211.5 408.2L168.0 328.7M211.5 408.2L215.5 345.0M236.2 280.0L227.2 413.8M315.8 366.2L243.8 416.0M260.5 288.8L256.8 422.0M239.0 406.2L184.2 350.5M355.0 243.8L278.2 405.0M277.5 300.8L262.0 395.8M335.8 383.8L262.0 395.8M262.0 395.8L211.5 386.2M323.0 258.2L251.2 385.0M211.5 386.2L155.0 304.5M211.5 386.2L185.0 245.0M272.5 133.8L211.5 386.2M211.5 386.2L157.0 318.8M203.8 293.8L211.5 386.2M355.0 243.8L263.8 361.2M225.0 360.0L128.8 420.0M215.5 345.0L151.2 375.8M238.8 340.0L186.2 320.0M297.5 345.0L186.2 320.0M326.8 286.2L297.5 345.0M335.0 410.8L265.8 464.5M188.8 435.4L184.2 350.5M231.6 140.9L180.0 429.4M323.0 258.2L180.0 429.4M222.5 213.5L180.0 429.4M180.0 429.4L151.2 224.5M255.5 245.8L137.0 222.5M215.2 287.2L92.5 202.0M365.8 259.5L127.5 200.3M127.5 200.3L191.8 262.0M255.5 245.8L99.2 217.5M207.0 251.5L111.8 228.8M111.8 228.8L186.2 320.0M126.8 230.8L151.8 279.2M151.2 224.5L139.2 373.8M244.5 230.4L155.5 192.7M242.5 291.0L191.2 184.4M97.5 245.0L138.2 264.5M213.8 312.7L97.5 245.0M229.2 309.0L126.8 249.2M211.5 408.2L69.5 257.5M104.5 264.2L123.2 290.8M227.2 413.8L115.0 271.2M246.2 269.5L151.8 279.2M140.8 285.2L106.2 303.0M260.5 288.8L140.8 285.2M209.0 424.0L123.2 290.8M64.6 286.0L123.0 340.0M82.0 286.0L147.5 385.8M260.5 288.8L113.5 295.4M97.5 245.0L100.0 408.8M244.5 230.4L100.0 408.8M253.0 363.8L94.5 379.2M270.0 252.5L79.2 345.0M157.5 239.5L79.2 345.0M115.0 271.2L79.2 345.0M208.8 270.6L93.0 360.5M222.5 213.5L63.0 305.8M266.2 203.8L63.0 305.8M173.2 266.2L71.2 321.2M277.5 300.8L71.2 321.2M96.2 302.5L184.2 350.5M213.8 312.7L106.2 303.0M215.2 287.2L106.2 303.0M280.0 182.5L136.2 317.5M203.8 293.8L136.2 317.5M226.2 232.8L122.5 325.0M253.8 205.2L102.5 322.5M102.5 322.5L268.7 165.6M191.8 262.0L91.2 331.8M226.0 456.8L91.2 331.8M286.2 229.5L91.2 331.8M215.2 287.2L132.5 360.0M167.6 118.0L120.0 362.5M117.5 333.8L156.2 348.8M161.2 337.5L187.5 300.0M85.8 301.2L161.2 337.5M170.8 340.0L165.0 380.0M326.8 286.2L184.2 350.5M111.8 228.8L184.2 350.5M278.2 405.0L184.2 350.5M152.0 245.8L184.2 350.5M139.2 373.8L181.2 400.4M323.0 258.2L139.2 373.8M253.8 205.2L139.2 373.8M151.2 375.8L192.5 402.5M253.8 205.2L165.0 380.0M221.2 291.2L174.2 381.8M69.5 257.5L164.2 388.2M304.2 267.5L117.5 387.5M322.9 337.9L125.0 393.4M184.6 198.0L181.2 400.4M213.8 312.7L181.2 400.4M208.8 270.6L181.2 400.4M238.8 340.0L159.5 400.8M205.0 232.5L159.5 400.8M272.5 333.5L162.3 404.2M132.5 360.0L192.5 402.5M323.0 298.2L192.5 402.5M277.5 300.8L192.5 402.5M63.8 328.8L111.2 425.8M147.5 385.8L111.2 425.8M243.8 416.0L111.2 425.8M115.0 271.2L111.2 425.8M225.0 360.0L155.5 425.0M309.2 176.2L155.5 425.0M305.0 397.0L168.0 328.7M247.5 211.3L168.0 328.7M306.6 190.0L168.0 328.7M263.8 361.2L268.7 165.6M355.0 243.8L268.7 165.6M37.1 155.6L85.5 184.6M415.0 268.8L387.5 264.5M415.0 268.8L376.8 282.0M415.0 268.8L358.8 292.0M408.8 307.0L376.8 282.0M408.8 307.0L349.2 297.5M408.8 307.0L401.0 332.7M408.8 307.0L372.5 329.4M408.8 307.0L390.8 351.2M91.8 452.5L111.2 425.8M91.8 452.5L129.5 446.2M91.8 452.5L128.8 420.0M128.8 420.0L129.5 446.2M168.8 439.8L129.5 446.2M129.5 446.2L155.5 425.0M161.0 421.5L129.5 446.2M46.8 216.2L79.5 228.0M46.8 216.2L92.5 202.0M46.8 216.2L95.0 235.0M65.8 243.0L32.5 253.0M69.5 257.5L32.5 253.0M53.8 276.2L89.2 268.0M53.8 276.2L64.6 286.0M53.8 276.2L104.5 264.2M53.8 276.2L63.0 305.8M52.5 340.8L63.0 305.8M52.5 340.8L79.2 345.0M52.5 340.8L91.2 331.8M52.5 340.8L103.8 332.5M313.8 429.4L315.2 451.6M315.2 451.6L275.0 437.5M302.5 414.5L315.2 451.6" fill="none" stroke="#2f3d6a" stroke-width="0.7" stroke-opacity="0.8"/>
<path d="M286.2 158.2L306.6 190.0M236.2 280.0L229.2 309.0M335.0 280.0L293.8 334.4M316.2 200.0L244.5 230.4M215.2 287.2L181.2 400.4M191.8 262.0L195.8 283.8M198.1 160.0L337.5 195.0M240.8 130.2L213.8 312.7M266.2 265.0L79.5 228.0M211.5 408.2L192.5 402.5M270.0 252.5L126.8 249.2M187.5 300.0L168.0 328.7M174.2 381.8L181.2 400.4M191.8 262.0L193.8 274.5M193.8 274.5L195.8 283.8M258.8 176.2L244.5 230.4M277.5 300.8L111.2 342.5M237.5 236.2L173.8 222.5M203.8 293.8L197.3 301.5M229.2 309.0L197.5 330.0M288.8 299.2L213.8 312.7M288.8 299.2L277.5 300.8M247.5 211.3L293.0 250.0M265.0 324.6L274.2 393.2M265.5 248.8L193.8 274.5M229.2 309.0L215.5 345.0M147.5 265.5L151.8 279.2M161.0 166.8L208.8 270.6M288.8 318.8L179.8 301.2M228.2 291.2L202.5 317.5M306.2 228.2L255.5 245.8M229.2 309.0L238.0 330.0M266.2 265.0L221.2 291.2M321.8 225.0L358.8 292.0M147.5 265.5L82.0 286.0M260.1 107.4L240.8 130.2M246.2 300.0L238.8 340.0M306.2 228.2L260.5 288.8M125.0 393.4L162.3 404.2M266.2 265.0L180.0 229.0M258.8 176.2L205.4 185.4M340.0 330.0L188.8 435.4M175.0 316.2L125.0 393.4M160.0 221.6L157.5 239.5M209.0 424.0L192.5 402.5M222.5 213.5L183.8 285.6M316.2 200.0L351.2 229.5M246.2 300.0L195.8 283.8M191.2 184.4L152.0 245.8M238.2 186.2L288.8 299.2M85.8 301.2L168.0 328.7M222.5 213.5L253.0 373.8M260.5 288.8L228.2 291.2M270.0 252.5L187.5 300.0M246.2 269.5L340.0 330.0M292.5 183.8L306.6 190.0M157.5 239.5L184.2 350.5M180.0 229.0L138.2 264.5M205.4 185.4L215.2 287.2M126.8 249.2L138.2 264.5M246.2 269.5L348.2 271.2M192.5 402.5L197.3 301.5M241.2 201.2L237.5 236.2M228.2 246.0L195.8 283.8M157.5 239.5L193.8 274.5M160.0 221.6L205.0 232.5M286.0 456.0L227.2 413.8M103.8 332.5L111.2 342.5M173.2 266.2L140.8 285.2M246.2 269.5L260.5 288.8M236.2 280.0L208.8 270.6M205.4 185.4L171.8 244.5M323.0 258.2L288.8 318.8M233.8 421.5L263.8 361.2M224.2 390.0L197.3 301.5M215.2 287.2L191.8 262.0M265.0 324.6L253.0 363.8M246.2 300.0L162.3 404.2M229.2 309.0L213.8 312.7M323.0 298.2L197.3 301.5M208.8 270.6L203.8 293.8M303.0 311.2L221.2 324.0M161.2 337.5L184.2 350.5M266.2 265.0L152.0 245.8M242.5 291.0L228.2 246.0M140.8 285.2L192.5 402.5M215.5 345.0L157.0 318.8M229.2 309.0L265.0 324.6M283.2 273.0L193.8 274.5M337.5 363.0L271.2 342.5M222.5 213.5L270.0 231.2M255.0 216.8L175.8 394.5M366.2 278.8L237.5 236.2M63.0 305.8L117.5 333.8M122.5 325.0L161.2 337.5M314.5 158.8L132.5 360.0M293.0 250.0L265.5 248.8M224.2 390.0L192.5 402.5M183.8 285.6L179.8 301.2M155.5 192.7L63.0 305.8M238.0 330.0L203.8 293.8M161.0 421.5L159.5 400.8M221.2 291.2L195.8 283.8M270.0 231.2L175.0 316.2M205.5 358.5L184.2 350.5M226.2 232.8L205.0 232.5M274.2 393.2L225.0 360.0M237.0 387.0L140.8 285.2M258.8 326.2L271.2 342.5M284.5 212.3L226.2 232.8M82.0 286.0L200.0 351.2M288.8 318.8L253.0 373.8M218.6 127.5L286.2 158.2M293.2 385.8L274.2 393.2M203.8 293.8L171.2 305.8M241.2 201.2L270.0 252.5M238.0 330.0L251.2 385.0M211.5 386.2L184.2 350.5M229.2 309.0L213.9 360.0M245.0 143.8L266.2 203.8M175.0 316.2L186.2 320.0M256.8 422.0L225.0 360.0M250.8 147.5L231.6 140.9M165.0 380.0L164.2 388.2M316.8 312.5L237.5 236.2M236.2 280.0L161.2 337.5M213.8 312.7L197.3 301.5M229.2 309.0L175.8 394.5M255.5 245.8L265.5 248.8M306.2 228.2L331.2 329.6M225.0 360.0L215.5 345.0M293.2 385.8L191.8 262.0M270.0 231.2L323.0 298.2M184.6 198.0L205.0 232.5M120.0 362.5L143.8 351.2M238.2 186.2L266.2 265.0M260.1 107.4L331.2 329.6M366.8 227.0L246.2 269.5M246.2 269.5L313.8 283.8M339.2 212.5L351.2 229.5M255.0 216.8L266.2 265.0M265.0 324.6L275.0 437.5M246.2 269.5L92.5 202.0M188.8 435.4L156.2 348.8M193.8 274.5L187.5 300.0M286.2 158.2L278.0 167.5M151.8 279.2L183.8 285.6M241.2 201.2L222.7 178.4M253.8 205.2L283.2 273.0M335.0 280.0L246.2 300.0M101.2 182.6L246.2 300.0M253.0 363.8L157.0 318.8M139.2 373.8L165.0 380.0M270.0 231.2L238.0 330.0M244.5 230.4L271.2 342.5M247.5 211.3L228.2 246.0M246.2 269.5L272.5 333.5M198.1 160.0L226.2 232.8M266.2 203.8L237.5 236.2M242.5 291.0L246.2 300.0M286.2 229.5L349.2 362.5M238.0 330.0L226.2 232.8M313.8 283.8L132.5 360.0M137.0 222.5L53.8 315.8M164.2 388.2L192.5 402.5M222.5 213.5L180.0 229.0M181.1 174.8L157.5 239.5M256.8 422.0L147.5 385.8M289.2 171.2L180.0 229.0M340.0 330.0L347.2 332.8M222.5 213.5L207.0 251.5M228.2 246.0L207.0 251.5M242.5 291.0L137.0 222.5M270.0 231.2L293.8 334.4M280.0 182.5L191.2 184.4M255.5 245.8L313.8 283.8M246.2 269.5L215.2 287.2M380.8 350.5L390.8 351.2M263.8 361.2L127.5 352.5M266.2 265.0L260.5 288.8M247.5 211.3L207.0 251.5M265.5 248.8L237.5 236.2M215.2 287.2L155.5 425.0M255.5 245.8L244.5 230.4M322.9 337.9L205.5 358.5M212.6 160.0L199.5 176.2M263.8 361.2L149.5 332.5M266.2 203.8L228.2 291.2M236.2 280.0L226.2 232.8M300.0 156.0L331.2 329.6M205.4 185.4L179.8 301.2M173.8 222.5L171.8 244.5M337.5 260.0L162.5 278.8M284.5 212.3L160.0 221.6M266.2 203.8L226.2 232.8M258.8 176.2L79.2 345.0M117.5 333.8L179.8 301.2M314.5 158.8L300.0 156.0M255.0 216.8L226.2 232.8M236.2 280.0L258.8 326.2M325.3 208.4L321.8 225.0M284.5 212.3L147.5 265.5M288.8 299.2L242.5 291.0M239.0 406.2L211.5 386.2M313.8 283.8L221.2 324.0M289.2 171.2L355.0 243.8M306.2 228.2L246.2 300.0M316.8 312.5L215.2 287.2M265.5 248.8L244.5 230.4M207.0 251.5L139.2 373.8M260.5 288.8L279.5 377.5M270.0 252.5L215.2 287.2M230.6 164.4L228.2 246.0M241.2 201.2L197.3 301.5M286.2 158.2L286.2 229.5M265.5 248.8L226.2 232.8M173.2 266.2L147.5 385.8M236.2 280.0L265.0 324.6M188.8 435.4L165.0 380.0M260.5 288.8L215.2 287.2M390.8 351.2L197.3 301.5M286.2 229.5L265.5 248.8M335.0 280.0L348.2 271.2M211.5 386.2L253.0 363.8M255.0 216.8L175.0 316.2M314.5 158.8L241.2 201.2M132.5 360.0L159.5 400.8M266.2 265.0L283.2 273.0M226.2 232.8L192.5 402.5M203.8 293.8L170.8 340.0M247.5 211.3L126.8 230.8M292.5 183.8L208.8 235.0M221.2 324.0L211.5 408.2M258.8 326.2L175.0 316.2M112.5 202.5L180.0 229.0M344.5 245.0L62.5 248.8M255.5 245.8L327.0 357.5M226.2 232.8L191.8 262.0M245.0 143.8L266.8 195.5M207.0 251.5L183.8 285.6M222.5 213.5L187.5 300.0M288.8 299.2L258.8 406.2M284.5 212.3L220.0 186.8M155.0 304.5L186.2 320.0M185.0 245.0L151.8 279.2M173.2 266.2L183.8 285.6M205.4 185.4L123.2 290.8M222.7 178.4L265.5 248.8M222.5 213.5L286.2 229.5M173.2 266.2L157.0 318.8M123.2 290.8L184.2 350.5M184.2 350.5L147.5 385.8M203.8 293.8L140.8 285.2M304.2 267.5L297.5 345.0M265.5 248.8L260.5 288.8M215.2 287.2L96.2 302.5M215.5 345.0L123.0 340.0M222.5 213.5L226.2 232.8M228.2 291.2L213.9 360.0M284.5 212.3L293.8 334.4M255.5 245.8L228.2 246.0M152.0 245.8L151.8 279.2M321.8 404.5L184.6 198.0M193.8 274.5L143.8 351.2M161.2 337.5L197.5 330.0M228.2 291.2L98.8 355.0M226.2 232.8L244.5 230.4M313.8 283.8L327.0 357.5M208.8 270.6L193.8 458.2M351.2 229.5L173.8 222.5M255.5 245.8L237.5 236.2M244.5 230.4L268.7 165.6M222.7 178.4L207.0 251.5M227.2 413.8L192.5 402.5M156.2 288.8L195.8 283.8M227.2 413.8L263.8 361.2M157.0 318.8L202.5 317.5M258.8 135.5L258.8 176.2M208.8 235.0L208.8 270.6M241.2 201.2L205.0 232.5M221.2 324.0L53.8 315.8M215.2 287.2L202.5 317.5M286.2 229.5L152.0 245.8M112.5 248.0L138.2 264.5M228.2 246.0L156.2 288.8M260.5 288.8L242.5 291.0M238.0 330.0L239.0 406.2M270.0 153.0L228.2 246.0M71.2 321.2L91.2 331.8M246.2 300.0L193.8 274.5M103.8 332.5L197.3 301.5M205.0 232.5L140.8 285.2M316.2 200.0L268.7 165.6M253.8 205.2L237.5 236.2M174.2 381.8L175.8 394.5M173.8 222.5L185.0 245.0M246.2 269.5L228.2 291.2M205.0 232.5L115.0 271.2M272.5 333.5L96.2 302.5M265.0 324.6L187.5 300.0M266.2 265.0L246.2 269.5M265.0 324.6L353.0 400.5M220.0 186.8L157.0 318.8M237.5 236.2L136.2 317.5M286.2 158.2L300.0 156.0M213.9 360.0L271.2 342.5M266.2 203.8L258.8 326.2M241.2 201.2L303.8 383.2M283.2 273.0L304.2 267.5M200.0 351.2L181.2 400.4M108.0 142.0L173.2 266.2M265.5 248.8L203.8 293.8M213.8 312.7L175.8 394.5M228.2 246.0L349.2 362.5M222.7 178.4L246.2 269.5M300.0 156.0L220.0 186.8M202.5 200.9L191.8 262.0M171.8 244.5L200.0 351.2M213.8 312.7L207.0 251.5M286.2 229.5L283.2 273.0M250.8 147.5L247.5 211.3M228.2 291.2L256.8 422.0M211.5 386.2L181.2 400.4M283.2 273.0L366.2 278.8M341.8 181.2L326.8 286.2M157.5 239.5L103.8 332.5M258.8 176.2L140.8 285.2M226.2 232.8L237.0 387.0M210.7 196.3L255.5 245.8M208.8 270.6L268.7 165.6M283.2 273.0L185.0 245.0M247.5 211.3L226.2 232.8M258.8 326.2L238.8 340.0M231.6 140.9L278.0 167.5M251.2 385.0L168.8 439.8M185.0 245.0L157.5 239.5M221.2 291.2L184.2 345.0M229.2 309.0L183.8 285.6M197.5 330.0L159.5 400.8M284.5 212.3L208.8 270.6M162.5 183.8L157.0 318.8M147.5 385.8L197.3 301.5M208.8 235.0L207.0 251.5M170.8 340.0L117.5 387.5M159.5 400.8L128.8 420.0M265.0 178.8L205.0 232.5M246.2 269.5L237.0 387.0M280.0 182.5L127.5 200.3M306.6 190.0L286.2 229.5M213.9 360.0L164.2 388.2M286.2 158.2L284.5 212.3M255.5 245.8L236.2 280.0M191.8 262.0L156.2 348.8M306.6 190.0L242.5 291.0M139.2 373.8L179.8 301.2M238.2 186.2L260.5 288.8M181.2 400.4L192.5 402.5M126.8 265.0L161.2 337.5M183.8 285.6L106.2 303.0M253.8 205.2L306.2 228.2M265.0 178.8L222.7 178.4M207.0 251.5L203.8 293.8M229.2 309.0L221.2 324.0M284.5 212.3L255.5 245.8M286.2 229.5L270.0 252.5M184.6 198.0L191.2 184.4M314.5 158.8L284.5 212.3M238.2 186.2L137.0 222.5M200.0 351.2L174.2 381.8M237.5 236.2L202.5 317.5M315.6 212.5L171.2 305.8M221.2 324.0L226.2 232.8M188.8 435.4L111.2 425.8M313.8 283.8L253.0 373.8M258.8 326.2L335.8 383.8M316.8 312.5L258.8 326.2M242.5 291.0L147.5 265.5M199.5 176.2L255.5 245.8M284.5 212.3L242.5 291.0M260.1 107.4L241.2 201.2M253.0 363.8L156.2 348.8M286.2 158.2L304.2 267.5M193.8 274.5L183.8 285.6M198.1 160.0L212.6 160.0M228.2 291.2L208.8 270.6M203.8 293.8L205.0 232.5M255.5 245.8L208.8 235.0M283.2 273.0L228.2 246.0M215.5 345.0L200.0 351.2M280.0 182.5L262.0 395.8M302.5 414.5L237.0 387.0M263.8 361.2L171.8 244.5M316.2 235.0L272.5 333.5M313.8 283.8L288.8 318.8M183.8 285.6L184.2 350.5M291.8 132.5L337.5 260.0M225.0 360.0L171.2 305.8M222.7 178.4L278.8 237.5M309.2 252.5L313.8 283.8M171.2 305.8L197.3 301.5M278.8 237.5L266.2 265.0M210.5 149.4L315.6 212.5M353.0 167.5L292.5 183.8M209.0 424.0L156.2 348.8M284.5 212.3L304.2 267.5M238.2 186.2L155.0 304.5M305.0 397.0L266.2 452.2M237.0 387.0L253.0 373.8M229.2 309.0L179.8 301.2M183.8 285.6L187.5 300.0M222.7 178.4L162.5 278.8M207.0 251.5L160.0 221.6M228.2 291.2L215.2 287.2M265.0 178.8L220.0 186.8M258.8 406.2L165.0 380.0M198.6 143.5L143.8 351.2M151.2 224.5L195.8 283.8M228.2 291.2L253.0 363.8M260.5 288.8L202.5 317.5M212.6 160.0L171.2 305.8M211.5 408.2L175.8 394.5M115.0 271.2L106.2 303.0M208.8 235.0L104.5 264.2M139.2 373.8L164.2 388.2M321.8 404.5L263.8 361.2M229.2 309.0L202.5 317.5M203.8 293.8L143.8 351.2M284.5 212.3L260.5 288.8M228.2 291.2L215.5 345.0M284.5 212.3L265.5 248.8M250.8 147.5L64.6 286.0M272.5 133.8L253.0 363.8M238.2 186.2L197.3 301.5M255.5 245.8L123.0 340.0M228.2 291.2L246.2 300.0M213.9 360.0L170.8 340.0M171.8 244.5L193.8 274.5M222.7 178.4L96.2 302.5M160.0 221.6L138.2 264.5M242.5 291.0L244.5 230.4M293.2 385.8L53.8 315.8M263.8 361.2L165.0 380.0M152.0 245.8L170.8 340.0M270.0 252.5L237.5 236.2M263.8 361.2L113.5 295.4M255.0 216.8L241.2 201.2M309.2 252.5L226.2 232.8M215.5 345.0L193.8 274.5M265.5 248.8L236.2 280.0M160.0 221.6L151.2 375.8M136.2 317.5L155.0 304.5M173.2 266.2L168.0 328.7M347.2 332.8L183.8 285.6M171.2 305.8L186.2 320.0M229.2 309.0L200.0 351.2M231.6 140.9L265.0 178.8M251.2 385.0L237.0 387.0M279.5 377.5L207.2 439.8M242.5 291.0L147.5 385.8M242.5 291.0L236.2 280.0M208.8 270.6L136.2 317.5M255.5 245.8L242.5 291.0M314.5 158.8L266.2 203.8M245.0 143.8L238.0 330.0M241.2 201.2L311.8 393.8M221.2 291.2L226.2 232.8M265.0 178.8L289.2 171.2M226.2 232.8L191.2 184.4M136.2 317.5L174.2 381.8M293.0 250.0L270.0 252.5M162.3 404.2L128.8 420.0M208.8 235.0L239.0 406.2M205.5 358.5L174.2 381.8M233.8 421.5L278.2 405.0M180.0 429.4L162.5 278.8M255.0 216.8L278.8 237.5M156.2 348.8L161.2 337.5M245.5 168.8L160.0 221.6M155.0 304.5L197.3 301.5M323.0 258.2L237.5 236.2M240.8 130.2L171.8 244.5M339.2 212.5L180.0 229.0M247.5 211.3L215.2 287.2M213.8 312.7L238.0 330.0M199.5 176.2L260.1 107.4M97.5 245.0L202.5 317.5M247.5 211.3L268.7 165.6M255.0 216.8L185.0 245.0M306.2 228.2L193.8 274.5M315.8 376.2L184.2 345.0M228.2 246.0L263.8 361.2M244.5 230.4L191.2 184.4M270.0 252.5L266.2 265.0M221.2 324.0L205.0 232.5M390.8 351.2L98.8 355.0M203.8 293.8L205.5 358.5M275.0 437.5L286.0 456.0M147.5 265.5L184.2 345.0M79.5 228.0L94.5 379.2M258.8 176.2L222.7 178.4M148.2 173.8L207.0 251.5M315.6 212.5L286.2 229.5M247.5 211.3L187.5 300.0M265.0 178.8L136.2 317.5M320.8 183.2L221.2 291.2M361.2 333.0L263.8 361.2M118.2 310.8L136.2 317.5M246.2 269.5L171.8 244.5M184.6 198.0L187.5 300.0M241.2 201.2L278.8 237.5M315.8 376.2L274.2 393.2M171.8 244.5L157.0 318.8M162.5 278.8L151.8 279.2M237.0 387.0L197.5 330.0M306.6 190.0L315.6 212.5M266.2 265.0L253.0 373.8M132.5 360.0L184.2 345.0M212.6 160.0L255.0 216.8M293.2 385.8L174.2 381.8M237.0 387.0L139.2 373.8M253.0 363.8L122.5 325.0M365.0 395.8L258.8 406.2M188.6 143.0L197.5 330.0M286.2 158.2L289.2 171.2M242.5 291.0L349.2 362.5M236.2 280.0L151.2 375.8M227.2 413.8L278.2 405.0M376.8 282.0L185.0 245.0M156.2 348.8L184.2 350.5M171.8 244.5L126.8 249.2M286.2 158.2L337.5 260.0M303.0 311.2L193.8 274.5M207.2 439.8L192.5 402.5M288.8 318.8L331.2 329.6M238.2 186.2L183.8 285.6M198.1 160.0L184.2 350.5M198.6 143.5L223.0 140.0M313.8 283.8L258.8 326.2M229.2 309.0L209.0 424.0M313.8 429.4L325.0 433.5M326.8 286.2L208.8 270.6M335.0 280.0L251.2 385.0M238.2 186.2L126.8 265.0M305.0 397.0L327.5 412.5M341.8 181.2L356.8 197.5M160.0 221.6L197.3 301.5M164.2 388.2L162.3 404.2M260.5 288.8L187.5 300.0M341.8 181.2L283.2 273.0M246.2 300.0L265.0 324.6M365.8 259.5L258.8 326.2M126.8 230.8L191.2 184.4M220.0 186.8L246.2 269.5M314.5 158.8L168.8 439.8M245.5 168.8L255.5 245.8M245.5 168.8L255.0 216.8M288.8 318.8L149.5 332.5M253.0 363.8L184.2 345.0M126.8 249.2L155.0 304.5M205.4 185.4L103.8 332.5M104.5 264.2L62.5 362.5M188.8 435.4L161.2 337.5M323.0 258.2L253.0 373.8M220.0 186.8L168.8 439.8M241.2 201.2L207.0 251.5M236.2 280.0L203.8 293.8M262.0 395.8L164.2 388.2M246.2 300.0L174.2 381.8M111.2 342.5L171.2 305.8M286.2 158.2L202.5 317.5M240.8 130.2L222.5 213.5M205.4 185.4L221.2 324.0M173.8 222.5L173.2 266.2M229.2 309.0L205.5 358.5M277.5 300.8L315.8 376.2M181.1 174.8L242.5 291.0M372.5 329.4L191.8 262.0M270.0 153.0L278.8 237.5M314.5 158.8L230.6 164.4M258.8 326.2L293.2 385.8M252.5 352.5L152.0 245.8M220.0 186.8L229.2 309.0M266.2 203.8L268.7 165.6M111.3 169.8L207.0 251.5M243.8 416.0L215.5 345.0M325.3 208.4L387.5 264.5M222.7 178.4L126.8 249.2M222.7 178.4L123.2 290.8M229.2 309.0L208.8 235.0M255.5 245.8L327.5 412.5M303.8 383.2L258.8 406.2M227.2 413.8L147.5 265.5M293.2 385.8L91.2 331.8M293.0 250.0L221.2 291.2M173.8 222.5L193.8 274.5M253.8 205.2L205.0 232.5M205.4 185.4L208.8 270.6M253.8 205.2L266.2 265.0M236.2 280.0L322.9 337.9M353.0 400.5L293.2 385.8M316.2 235.0L200.0 351.2M238.0 330.0L243.8 416.0M174.2 381.8L192.5 402.5M323.0 258.2L311.8 393.8M265.0 324.6L288.8 318.8M283.2 273.0L242.5 291.0M297.5 345.0L195.8 283.8M242.5 291.0L252.5 352.5M162.5 278.8L123.2 290.8M250.8 147.5L210.7 196.3M270.0 153.0L304.2 267.5M239.0 406.2L143.8 351.2M236.2 280.0L215.5 345.0M245.5 168.8L278.0 167.5M228.2 291.2L228.2 246.0M304.2 267.5L226.2 232.8M306.2 228.2L184.6 198.0M205.4 185.4L173.8 222.5M226.2 232.8L274.2 393.2M348.2 156.2L353.0 167.5M126.8 265.0L118.2 310.8M255.5 245.8L208.8 270.6M188.6 143.0L260.5 288.8M199.5 176.2L241.2 201.2M278.0 167.5L292.5 183.8M326.8 286.2L263.8 361.2M162.5 183.8L208.8 270.6M97.5 245.0L193.8 274.5M220.0 186.8L184.2 350.5M123.0 340.0L143.8 351.2M221.2 291.2L258.8 326.2M229.2 309.0L184.2 350.5M258.8 176.2L213.8 312.7M278.0 167.5L268.7 165.6M230.6 164.4L283.2 273.0M337.5 260.0L376.8 282.0M365.0 395.8L200.0 351.2M132.8 142.6L278.0 167.5M293.0 250.0L366.2 278.8M242.5 291.0L331.2 329.6M198.6 143.5L278.8 237.5M155.5 192.7L161.2 337.5M351.2 229.5L316.2 235.0M117.5 333.8L132.5 360.0M237.5 236.2L168.8 439.8M211.5 386.2L225.0 360.0M293.2 385.8L278.2 405.0M230.6 164.4L157.5 239.5M246.2 300.0L311.8 393.8M185.0 245.0L113.5 295.4M140.8 285.2L143.8 351.2M238.8 340.0L179.8 301.2M286.2 229.5L270.0 231.2M265.0 178.8L241.2 201.2M293.8 334.4L155.5 425.0M181.1 174.8L245.5 168.8M91.2 331.8L202.5 317.5M111.8 228.8L112.5 248.0M326.8 286.2L238.0 330.0M304.2 267.5L151.2 224.5M229.2 309.0L136.2 317.5M228.2 291.2L147.5 385.8M159.8 137.2L202.5 200.9M226.2 232.8L168.0 328.7M228.2 246.0L186.2 320.0M256.8 422.0L100.0 408.8M185.0 245.0L197.3 301.5M323.0 258.2L335.0 280.0M278.8 237.5L239.0 406.2M241.2 201.2L164.2 388.2M321.8 404.5L335.0 410.8M258.8 406.2L251.2 385.0M255.0 216.8L104.5 264.2M220.0 186.8L244.5 230.4M278.8 237.5L315.8 366.2M200.0 351.2L162.3 404.2M274.2 393.2L205.5 358.5M212.6 160.0L297.0 147.5M209.0 424.0L278.2 405.0M223.0 140.0L195.8 283.8M184.2 350.5L165.0 380.0M263.8 361.2L63.0 305.8M155.0 304.5L184.2 345.0M233.8 421.5L143.8 351.2M215.5 345.0L156.2 288.8M314.5 158.8L137.0 222.5M167.6 118.0L210.5 149.4M211.5 112.7L218.6 127.5M211.5 112.7L198.6 143.5M218.6 127.5L231.6 140.9M111.4 133.6L108.0 142.0M117.3 133.0L108.0 142.0M132.8 142.6L161.0 166.8M198.6 143.5L210.5 149.4M210.5 149.4L212.6 160.0M161.0 166.8L148.2 173.8M161.0 166.8L155.5 192.7M137.2 168.9L148.2 173.8M137.2 168.9L162.5 183.8M199.5 176.2L205.4 185.4M199.5 176.2L191.2 184.4M101.2 182.6L112.5 202.5M260.1 107.4L291.8 132.5M218.6 127.5L240.8 130.2M272.5 133.8L291.8 132.5M353.0 167.5L337.5 195.0M231.6 140.9L230.6 164.4M198.1 160.0L230.6 164.4M280.0 182.5L255.0 216.8M292.5 183.8L268.7 165.6M309.2 176.2L316.2 200.0M284.5 212.3L247.5 211.3M238.2 186.2L244.5 230.4M202.5 200.9L226.2 232.8M384.5 245.0L366.8 227.0M351.2 229.5L323.0 258.2M355.0 243.8L323.0 258.2M309.2 252.5L293.0 250.0M286.2 229.5L278.8 237.5M265.5 248.8L283.2 273.0M326.8 286.2L358.8 292.0M340.0 330.0L322.9 337.9M237.5 236.2L228.2 246.0M360.8 404.5L327.5 412.5M353.0 400.5L335.0 410.8M360.5 366.2L335.8 383.8M315.8 376.2L293.2 385.8M335.8 383.8L321.8 404.5M311.8 393.8L302.5 414.5M275.0 437.5L258.8 406.2M313.8 429.4L275.0 437.5M209.0 424.0L243.8 416.0M227.2 413.8L233.8 421.5M256.8 422.0L258.8 406.2M262.0 395.8L274.2 393.2M237.0 387.0L211.5 386.2M224.2 390.0L211.5 386.2M263.8 361.2L238.8 340.0M180.0 429.4L181.2 400.4M112.5 202.5L95.0 235.0M222.5 213.5L191.2 184.4M65.8 243.0L62.5 248.8M95.0 235.0L69.5 257.5M123.2 290.8L113.5 295.4M89.2 268.0L64.6 286.0M113.5 295.4L118.2 310.8M100.0 408.8L117.5 387.5M100.0 408.8L93.0 360.5M94.5 379.2L98.8 355.0M93.0 360.5L116.2 367.5M93.0 360.5L91.2 331.8M98.8 355.0L116.2 367.5M98.8 355.0L120.0 362.5M53.8 315.8L85.8 301.2M79.2 345.0L53.8 315.8M118.2 310.8L149.5 332.5M122.5 325.0L117.5 333.8M102.5 322.5L123.0 340.0M103.8 332.5L91.2 331.8M117.5 333.8L111.2 342.5M127.5 352.5L143.8 351.2M123.0 340.0L116.2 367.5M156.2 348.8L175.0 316.2M156.2 348.8L184.2 345.0M132.5 360.0L151.2 375.8M165.0 380.0L174.2 381.8M117.5 387.5L125.0 393.4M120.0 362.5L117.5 387.5M175.8 394.5L159.5 400.8M125.0 393.4L128.8 420.0M137.3 96.0L111.4 133.6M64.6 286.0L15.5 355.0M15.5 355.0L63.2 383.8" fill="none" stroke="#222e58" stroke-width="1.2" stroke-opacity="0.9"/>
<path d="M250.3 226.8h.5M320.6 174.7h.5M172.2 275.0h.5M174.0 311.6h.5M226.7 175.6h.5M214.5 208.1h.5M203.4 242.2h.5M170.6 271.0h.5M238.9 210.2h.5M229.7 301.6h.5M230.4 346.2h.5M245.5 182.8h.5M159.9 209.1h.5M267.2 294.6h.5M326.6 222.8h.5M252.4 151.7h.5M315.6 172.5h.5M160.8 266.6h.5M269.6 169.2h.5M272.5 225.0h.5M273.3 183.8h.5M164.6 283.4h.5M166.8 250.1h.5M245.8 332.0h.5M169.1 340.2h.5M207.3 297.3h.5M242.2 316.7h.5M187.8 303.6h.5M283.0 207.7h.5M202.0 247.6h.5M288.0 178.5h.5M293.0 233.3h.5M213.5 163.7h.5M216.0 323.7h.5M258.3 346.4h.5M157.3 357.5h.5M259.0 211.2h.5M180.9 222.7h.5M242.3 273.9h.5M190.4 337.1h.5M263.3 263.7h.5M215.6 246.3h.5M218.1 253.8h.5M230.8 189.9h.5M181.0 224.8h.5M253.4 234.3h.5M201.4 204.7h.5M145.8 300.5h.5M226.6 247.9h.5M281.1 153.7h.5M271.8 161.4h.5M322.3 183.2h.5M224.0 366.3h.5M246.3 320.1h.5M189.4 182.8h.5M169.2 326.2h.5M167.3 347.5h.5M289.4 242.1h.5M283.6 169.3h.5M265.7 197.7h.5M151.7 226.8h.5M227.0 266.5h.5M220.6 298.0h.5M126.7 330.4h.5M176.0 210.4h.5M248.0 252.9h.5M256.0 221.9h.5M198.4 151.6h.5M266.8 262.5h.5M258.0 236.6h.5M232.4 260.1h.5M236.4 251.5h.5M210.1 197.0h.5M214.0 255.9h.5M172.1 345.8h.5M200.5 167.8h.5M207.3 237.0h.5M200.1 187.9h.5M263.8 211.7h.5M181.6 341.7h.5M187.1 191.9h.5M237.8 357.4h.5M203.2 311.8h.5M207.4 239.3h.5M234.6 294.8h.5M310.4 221.6h.5M306.9 163.7h.5M206.8 340.5h.5M321.2 230.1h.5M234.8 207.9h.5M137.9 320.2h.5M250.8 232.2h.5M237.4 219.8h.5M148.1 328.5h.5M242.3 164.2h.5M321.7 233.6h.5M219.2 342.5h.5M213.4 243.6h.5M221.4 265.2h.5M194.6 264.7h.5M235.9 154.3h.5M136.0 279.3h.5M268.8 178.1h.5M216.5 160.0h.5M160.4 334.5h.5M300.9 243.6h.5M252.7 166.0h.5M228.8 249.4h.5M182.4 195.1h.5M257.7 257.9h.5M248.2 275.2h.5M234.5 188.6h.5M322.5 224.7h.5M282.0 181.0h.5M182.6 273.0h.5M138.7 315.9h.5M302.5 219.6h.5M270.6 173.2h.5M203.3 241.0h.5M173.7 299.6h.5M208.9 257.0h.5M200.8 327.0h.5M214.5 368.2h.5M190.9 244.1h.5M229.0 292.0h.5M212.2 228.8h.5M191.4 238.7h.5M199.3 367.7h.5M243.4 333.6h.5M184.3 349.2h.5M276.5 229.3h.5M205.7 293.3h.5M198.7 155.7h.5M151.8 325.2h.5M156.7 304.1h.5M209.1 308.5h.5M284.7 251.7h.5M243.8 271.9h.5M170.3 285.4h.5M292.1 255.4h.5M165.1 215.2h.5M326.3 200.5h.5M285.1 179.1h.5M152.5 266.5h.5M147.5 300.7h.5M211.4 202.8h.5M248.1 172.7h.5M231.4 292.8h.5M172.9 232.4h.5M254.1 193.9h.5M259.7 242.9h.5M185.5 267.9h.5M163.0 255.6h.5M158.7 349.1h.5M212.9 298.4h.5M164.0 243.9h.5M251.9 290.0h.5M270.0 159.9h.5M200.6 266.5h.5M251.8 300.4h.5M179.2 261.8h.5M229.9 225.7h.5M129.0 308.8h.5M218.6 314.6h.5M286.3 171.9h.5M178.6 199.8h.5M153.6 263.9h.5M244.1 293.3h.5M205.7 356.3h.5M284.7 262.1h.5M172.5 200.0h.5M238.3 327.9h.5M234.1 365.3h.5M325.0 196.0h.5M268.0 219.6h.5M164.5 268.1h.5M254.0 222.0h.5M155.5 335.7h.5M129.2 300.4h.5M243.6 266.2h.5M156.7 232.0h.5M263.9 206.4h.5M230.9 296.8h.5M251.4 349.9h.5M285.9 236.3h.5M258.5 321.4h.5M201.4 272.7h.5M154.3 317.7h.5M214.7 296.0h.5M233.3 155.0h.5M216.7 227.9h.5M214.5 184.8h.5M205.0 251.1h.5M204.3 316.0h.5M183.1 243.9h.5M240.3 302.4h.5M203.6 263.3h.5M154.8 275.4h.5M167.3 254.3h.5M215.0 335.2h.5M304.0 203.9h.5M267.7 297.7h.5M217.9 324.8h.5M244.6 355.5h.5M150.5 331.6h.5M321.3 201.2h.5M295.9 188.4h.5M219.9 314.0h.5M175.8 186.0h.5M216.7 301.9h.5M191.7 298.9h.5M249.0 317.9h.5M165.6 366.1h.5M209.1 175.0h.5M137.5 343.2h.5M202.4 159.2h.5M186.9 290.6h.5M204.2 313.6h.5M169.1 335.9h.5M207.3 152.7h.5M240.4 157.2h.5M142.0 252.6h.5M222.2 333.7h.5M242.9 297.9h.5M259.9 172.4h.5M186.9 299.2h.5M263.2 252.3h.5M273.2 299.8h.5M165.2 361.6h.5M141.0 256.8h.5M276.4 230.9h.5M268.4 285.0h.5M288.0 240.2h.5M152.8 322.9h.5M180.1 305.2h.5M151.3 263.4h.5M283.2 279.9h.5M210.9 179.1h.5M204.1 305.0h.5M297.2 212.6h.5M250.3 169.7h.5M145.3 312.2h.5M223.1 215.7h.5M206.1 266.2h.5M194.3 256.3h.5M212.5 352.5h.5M181.4 324.1h.5M226.1 249.1h.5M148.4 301.9h.5M202.7 239.9h.5M123.5 303.0h.5M146.2 340.8h.5M208.8 252.7h.5M204.4 266.6h.5M175.0 230.9h.5M256.8 302.8h.5M272.0 293.3h.5M224.1 364.5h.5M203.9 213.9h.5M206.0 345.8h.5M205.0 224.7h.5M262.1 154.6h.5M284.5 231.2h.5M146.1 326.0h.5M265.1 205.6h.5M271.2 255.7h.5M162.7 278.2h.5M138.2 316.7h.5M198.9 364.0h.5M173.6 279.0h.5M246.2 270.6h.5M227.8 154.4h.5M162.9 250.9h.5M141.6 328.5h.5M264.6 166.0h.5M178.5 252.3h.5M143.3 315.2h.5M212.7 337.1h.5M175.9 232.3h.5M208.3 237.5h.5M262.3 309.6h.5M268.6 306.7h.5M182.7 323.7h.5M189.2 300.4h.5M232.5 156.8h.5M215.0 179.6h.5M171.7 324.9h.5M191.0 208.6h.5M206.7 258.4h.5M147.3 232.7h.5M263.7 164.9h.5M180.7 248.6h.5M271.7 256.7h.5M174.8 284.3h.5M152.7 231.7h.5M187.4 233.8h.5M171.5 316.1h.5M258.8 160.5h.5M222.3 228.4h.5M177.4 222.6h.5M274.8 255.6h.5M212.2 243.2h.5M244.8 219.2h.5M258.0 249.5h.5M144.9 327.5h.5M205.0 344.9h.5M203.0 335.5h.5M174.9 295.5h.5M258.9 239.2h.5M245.7 176.0h.5M224.7 315.1h.5M260.3 273.5h.5M269.7 220.8h.5M239.6 358.9h.5M215.6 298.1h.5M171.0 197.0h.5M320.0 204.3h.5M170.2 194.7h.5M241.8 262.7h.5M251.6 155.1h.5M317.5 170.8h.5M131.8 296.7h.5M274.3 203.5h.5M169.7 260.9h.5M267.0 227.0h.5M237.5 203.9h.5M170.0 364.7h.5M281.3 196.7h.5M156.7 228.6h.5M233.2 287.7h.5M281.5 157.2h.5M222.1 362.7h.5M219.7 269.7h.5M136.0 292.7h.5M209.7 164.5h.5M154.6 319.6h.5M191.1 210.2h.5M213.7 197.7h.5M216.5 355.5h.5M237.3 238.5h.5M225.0 313.7h.5M252.8 288.0h.5M202.0 335.5h.5M199.6 328.9h.5M250.8 148.7h.5M151.7 275.7h.5M259.1 312.0h.5M287.3 245.0h.5M134.4 303.5h.5M222.3 239.7h.5M193.3 300.5h.5M242.5 198.0h.5M288.8 247.7h.5M212.7 344.0h.5M275.7 194.0h.5M283.2 279.7h.5M221.5 226.2h.5M240.4 291.0h.5M239.3 256.0h.5M172.1 212.6h.5M173.7 257.6h.5M129.9 278.6h.5M257.5 330.9h.5M179.3 223.6h.5M250.9 158.2h.5M160.5 256.2h.5M190.3 331.2h.5M144.7 318.0h.5M176.3 190.6h.5M211.1 343.3h.5M226.5 179.7h.5M247.0 228.3h.5M298.3 227.7h.5M287.8 167.3h.5M234.4 260.9h.5M219.2 271.0h.5M236.6 218.4h.5M315.1 164.8h.5M227.3 217.1h.5M169.3 241.8h.5M233.0 193.4h.5M199.8 203.8h.5M292.4 208.2h.5M248.6 239.6h.5M223.1 304.9h.5M143.6 353.5h.5M194.4 318.3h.5M175.8 205.5h.5M215.2 187.1h.5M271.7 179.3h.5M180.7 365.9h.5M208.7 294.1h.5M260.5 231.3h.5M292.6 239.1h.5M214.1 237.2h.5M188.8 227.0h.5M203.4 171.9h.5M129.7 326.3h.5M254.8 227.1h.5M234.2 300.3h.5M273.0 189.6h.5M260.7 291.4h.5M167.7 359.4h.5M157.3 241.0h.5M269.9 245.5h.5M170.9 232.8h.5M202.0 245.9h.5M174.1 202.5h.5M181.3 241.1h.5M254.8 201.1h.5M184.5 334.2h.5M231.6 227.0h.5M243.7 335.7h.5M252.5 161.1h.5M198.7 154.7h.5M284.3 283.7h.5M197.6 218.9h.5M141.0 344.5h.5M155.5 312.6h.5M152.7 241.7h.5M204.0 332.8h.5M270.6 156.5h.5M153.6 286.8h.5M234.4 254.0h.5M292.2 243.4h.5M238.2 354.8h.5M158.5 287.0h.5M261.4 160.3h.5M221.8 211.4h.5M250.8 222.1h.5M127.2 313.4h.5M216.2 332.8h.5M194.4 359.9h.5M207.0 351.6h.5M242.3 219.3h.5M166.1 351.1h.5M239.4 247.9h.5M212.2 333.5h.5M163.2 329.3h.5M157.7 288.4h.5M321.1 209.6h.5M241.8 235.3h.5M255.1 152.5h.5M236.9 167.1h.5M171.6 283.8h.5M325.2 214.8h.5M168.0 337.8h.5M226.8 314.8h.5M278.4 207.9h.5M248.1 259.4h.5M158.2 285.0h.5M239.1 251.9h.5M208.6 199.4h.5M191.3 208.1h.5M196.9 278.0h.5M278.0 271.0h.5M284.5 281.5h.5M274.0 287.9h.5M269.3 161.0h.5M185.0 291.3h.5M213.8 299.6h.5M141.3 262.4h.5M150.9 290.0h.5M129.0 278.2h.5M235.6 177.3h.5M229.8 175.2h.5M168.8 268.0h.5M239.6 148.9h.5M223.8 224.9h.5M246.7 167.0h.5M201.6 297.6h.5M180.6 259.4h.5M197.1 294.1h.5M224.5 294.4h.5M151.1 326.0h.5M147.2 231.6h.5M153.2 217.0h.5M257.3 187.5h.5M192.2 317.7h.5M282.7 277.0h.5M304.2 205.8h.5M193.0 274.9h.5M229.5 167.7h.5M215.2 313.2h.5M271.8 193.2h.5M181.7 346.7h.5M128.3 308.5h.5M226.6 246.8h.5M213.7 229.0h.5M178.6 285.0h.5M316.3 234.1h.5M255.8 156.7h.5M220.3 170.7h.5M231.5 261.2h.5M193.0 204.1h.5M206.7 299.4h.5M154.0 229.1h.5M266.5 317.4h.5M238.7 335.5h.5M222.0 156.6h.5M131.3 316.8h.5M160.3 293.8h.5M302.7 179.6h.5M202.1 362.4h.5M164.3 300.3h.5M118.9 302.5h.5M198.3 361.0h.5M170.2 222.4h.5M240.9 272.0h.5M248.8 210.3h.5M286.5 210.6h.5M285.4 178.6h.5M281.6 239.5h.5M161.6 361.4h.5M169.5 346.0h.5M261.1 219.4h.5M225.7 156.7h.5M142.0 274.7h.5M160.5 206.3h.5M187.7 347.3h.5M295.8 181.2h.5M265.4 279.6h.5M162.8 308.4h.5M286.8 247.0h.5M169.8 250.0h.5M168.3 311.1h.5M253.1 283.1h.5M181.5 232.0h.5M326.5 190.5h.5M228.4 210.5h.5M271.8 178.0h.5M134.9 279.6h.5M293.7 215.5h.5M142.6 297.8h.5M249.4 321.7h.5M287.2 167.6h.5M209.3 187.3h.5M190.3 234.6h.5M161.4 275.3h.5M157.5 330.1h.5M121.3 307.5h.5M172.5 350.3h.5M185.8 366.4h.5M261.3 202.1h.5M246.9 225.8h.5M273.5 172.9h.5M262.5 238.1h.5M198.6 242.9h.5M225.7 314.3h.5M274.5 178.5h.5M157.7 300.7h.5M127.8 311.5h.5M216.9 259.8h.5M286.6 231.9h.5M225.1 266.8h.5M256.0 241.5h.5M232.0 306.5h.5M299.7 191.3h.5M326.7 186.3h.5M229.8 266.7h.5M222.9 308.4h.5M197.0 324.1h.5M174.2 337.0h.5M199.4 368.2h.5M181.7 185.5h.5M183.3 196.4h.5M196.9 297.4h.5M164.1 262.1h.5M148.6 330.2h.5M265.3 157.0h.5M228.6 361.4h.5M246.3 209.9h.5M209.6 278.5h.5M289.0 189.2h.5M233.1 264.7h.5M256.8 168.3h.5M223.2 308.7h.5M144.9 300.8h.5M239.8 300.3h.5M169.6 355.4h.5M243.6 191.3h.5M302.7 219.0h.5M252.9 298.0h.5M195.5 321.0h.5M253.4 351.0h.5M183.7 361.4h.5M236.0 259.1h.5M209.5 158.5h.5M201.3 321.8h.5M201.8 207.4h.5M129.4 326.9h.5M260.1 208.6h.5M196.1 288.2h.5M220.7 305.4h.5M198.0 313.0h.5M141.8 265.2h.5M281.6 243.4h.5M239.7 206.5h.5M303.3 185.1h.5M276.6 208.3h.5M184.6 317.0h.5M298.4 227.4h.5M284.3 263.5h.5M143.0 319.2h.5M206.7 284.0h.5M224.3 283.2h.5M251.8 154.9h.5M184.2 282.2h.5M144.4 347.5h.5M172.7 354.0h.5M174.0 259.2h.5M156.1 221.5h.5M261.2 167.3h.5M279.0 172.9h.5M209.1 170.0h.5M150.5 255.7h.5M156.6 323.9h.5M173.1 267.8h.5M144.1 352.8h.5M164.8 362.2h.5M308.3 226.6h.5M196.6 252.5h.5M204.8 322.0h.5M307.0 183.3h.5M205.7 336.0h.5M183.1 183.4h.5M221.0 259.9h.5M155.0 291.7h.5M209.3 152.2h.5M263.4 271.1h.5M264.5 261.5h.5M129.1 318.9h.5M202.5 279.0h.5M193.1 162.4h.5M195.7 197.7h.5M294.9 159.2h.5M171.7 213.3h.5M178.3 215.2h.5M276.1 262.1h.5M228.1 226.9h.5M280.5 274.2h.5M198.2 297.7h.5M229.3 203.5h.5M194.2 196.1h.5M248.5 155.7h.5M250.1 346.5h.5M249.3 159.7h.5M184.0 166.2h.5M236.4 233.4h.5M319.5 186.8h.5M126.2 295.2h.5M251.1 302.5h.5M156.4 221.2h.5M149.1 336.0h.5M147.4 297.3h.5M302.6 223.7h.5M160.1 350.4h.5M286.2 270.9h.5M182.7 330.3h.5M179.6 292.9h.5M208.5 248.1h.5M233.8 333.9h.5M278.3 285.6h.5M288.7 255.7h.5M195.5 257.5h.5M186.5 256.4h.5M238.5 242.3h.5M192.8 163.7h.5M295.3 226.2h.5M187.9 281.6h.5M129.1 315.8h.5M145.4 335.8h.5M295.0 196.7h.5M196.4 174.2h.5M244.2 360.3h.5M174.6 247.9h.5M207.8 225.5h.5M199.5 337.7h.5M227.7 294.7h.5M270.3 270.6h.5M207.6 160.7h.5M303.6 218.5h.5M144.4 336.9h.5M200.1 205.3h.5M248.4 207.9h.5M253.7 334.4h.5M187.2 315.1h.5M237.3 268.1h.5M249.0 275.3h.5M285.1 190.5h.5M294.7 154.4h.5M283.4 216.9h.5M287.2 265.5h.5M169.8 293.4h.5M241.0 231.1h.5M215.3 269.8h.5M231.7 323.1h.5M221.1 253.8h.5M318.2 221.6h.5M196.9 260.2h.5M211.9 178.1h.5M201.0 210.5h.5M206.1 164.7h.5M220.9 180.3h.5M218.6 280.0h.5M256.4 169.6h.5M262.3 169.4h.5M197.6 214.1h.5M307.6 214.4h.5M219.2 149.6h.5M286.1 266.2h.5M157.7 243.0h.5M246.3 279.2h.5M237.0 257.2h.5M247.5 280.3h.5M208.9 221.0h.5M209.5 329.7h.5M195.4 161.4h.5M204.2 293.6h.5M290.3 255.6h.5M271.9 227.5h.5M146.8 352.7h.5M210.2 271.3h.5M204.5 296.7h.5M176.0 332.1h.5M131.7 272.5h.5M201.7 227.0h.5M230.4 313.5h.5M326.1 227.1h.5M240.9 322.1h.5M180.0 320.7h.5M208.5 274.7h.5M270.6 202.7h.5M188.4 335.7h.5M229.8 328.2h.5M152.5 358.5h.5M267.0 265.8h.5M193.6 276.3h.5M175.4 304.1h.5M258.7 311.0h.5M215.0 215.4h.5M170.4 195.2h.5M184.4 331.4h.5M242.2 290.8h.5M242.7 312.7h.5M177.1 228.4h.5M235.3 341.5h.5M317.7 212.2h.5M198.8 198.9h.5M189.3 343.1h.5M203.7 326.6h.5M284.4 286.0h.5M246.2 232.3h.5M311.3 225.3h.5M294.3 245.1h.5M208.5 179.0h.5M261.0 181.6h.5M239.4 365.6h.5M219.5 295.9h.5M171.5 333.2h.5M244.7 155.9h.5M165.8 340.2h.5M224.7 302.9h.5M253.6 318.5h.5M209.9 258.1h.5M200.3 333.7h.5M146.7 284.7h.5M143.6 314.0h.5M265.5 201.7h.5M183.6 309.8h.5M273.2 201.1h.5M152.6 226.0h.5M231.9 225.0h.5M203.6 362.5h.5M266.0 320.7h.5M216.9 225.4h.5M226.6 260.9h.5M184.8 268.3h.5M206.4 267.5h.5M131.3 293.2h.5M306.3 229.0h.5M236.3 170.8h.5M188.0 161.4h.5M147.0 281.3h.5M268.6 319.6h.5M289.3 194.4h.5M148.5 339.0h.5M303.5 233.9h.5M200.8 249.0h.5M174.4 357.0h.5M168.8 220.5h.5M316.4 190.0h.5M258.9 224.7h.5M228.7 319.1h.5M228.3 366.9h.5M196.4 331.8h.5M208.8 286.8h.5M199.1 167.8h.5M177.2 369.1h.5M144.0 353.7h.5M277.8 258.2h.5M259.0 206.3h.5M170.7 282.6h.5M204.0 303.2h.5M186.1 366.2h.5M257.6 168.5h.5M157.5 313.9h.5M296.3 220.7h.5M184.1 188.0h.5M235.6 245.9h.5M273.5 271.2h.5M304.6 195.2h.5M280.0 270.8h.5M125.8 286.9h.5M243.9 186.2h.5M248.1 201.3h.5M237.2 207.3h.5M183.3 337.9h.5M171.9 243.7h.5M293.4 203.8h.5M278.6 283.2h.5M160.5 222.2h.5M161.9 299.8h.5M207.5 174.0h.5M141.5 253.3h.5M248.7 224.5h.5M207.1 271.9h.5M127.4 320.6h.5M293.5 202.5h.5M141.2 316.1h.5M279.0 289.1h.5M254.6 197.4h.5M243.3 314.4h.5M275.5 255.3h.5M162.2 245.3h.5M235.9 194.3h.5M185.9 269.3h.5M161.3 261.8h.5M145.6 277.7h.5M268.4 177.5h.5M122.1 320.0h.5M239.5 162.2h.5M189.8 268.8h.5M136.6 267.9h.5M160.2 265.3h.5M155.9 218.1h.5M282.6 167.2h.5M223.2 233.9h.5M244.5 200.3h.5M262.2 275.7h.5M224.3 276.4h.5M204.3 335.7h.5M294.2 230.5h.5M161.5 236.7h.5M255.4 170.0h.5M227.8 199.4h.5M190.7 274.2h.5M192.7 218.6h.5M259.8 299.8h.5M168.1 287.9h.5M249.4 321.9h.5M225.2 270.9h.5M205.4 252.9h.5M204.1 261.8h.5M213.5 161.2h.5M128.0 294.5h.5M277.2 179.6h.5M280.6 181.5h.5M273.4 239.7h.5M202.0 338.4h.5M286.5 210.1h.5M186.1 281.0h.5M167.8 274.1h.5M317.6 166.4h.5M268.4 207.9h.5M172.8 254.8h.5M202.5 164.2h.5M264.7 292.4h.5M240.0 167.4h.5M145.9 314.7h.5M236.2 207.5h.5M158.6 299.1h.5M203.8 153.3h.5M171.9 343.7h.5M324.3 197.0h.5M192.4 270.3h.5M241.0 360.5h.5M130.1 304.3h.5M267.7 184.1h.5M179.5 240.9h.5M188.1 351.0h.5M166.5 215.0h.5M250.1 156.0h.5M193.9 243.0h.5M211.4 216.8h.5M197.7 305.4h.5M182.3 193.8h.5M219.9 260.0h.5M227.1 180.9h.5M168.1 205.6h.5M164.9 253.8h.5M182.7 303.3h.5M277.8 289.3h.5M260.2 240.3h.5M236.2 336.5h.5M126.1 287.5h.5M191.0 232.9h.5M176.9 322.7h.5M229.5 257.5h.5M211.0 248.6h.5M223.7 156.6h.5M192.0 171.0h.5M162.2 341.4h.5M304.7 163.5h.5M123.9 311.7h.5M138.0 270.5h.5M217.3 312.5h.5M191.1 307.6h.5M238.3 184.1h.5M138.4 334.4h.5M212.8 214.1h.5M137.7 338.5h.5M171.5 346.0h.5M259.5 290.2h.5M318.3 199.5h.5M126.7 324.9h.5M234.0 340.6h.5M247.7 226.0h.5M131.5 303.1h.5M230.2 149.3h.5M226.2 285.9h.5M187.3 300.8h.5M285.9 188.7h.5M183.5 188.3h.5M141.8 337.8h.5M278.4 174.8h.5M200.6 302.5h.5M171.1 249.9h.5M225.5 326.0h.5M231.8 223.8h.5M256.6 246.8h.5M250.2 174.6h.5M303.1 197.2h.5M208.8 217.2h.5M186.9 295.6h.5M168.3 232.7h.5M225.7 166.8h.5M271.4 283.3h.5M177.5 355.6h.5M271.6 248.9h.5M261.6 231.8h.5M226.5 307.1h.5M252.4 227.6h.5M231.4 299.2h.5M310.3 193.3h.5M316.2 209.3h.5M257.1 320.8h.5M266.7 254.1h.5M244.3 351.5h.5M200.0 200.6h.5M184.0 269.6h.5M268.1 273.3h.5M291.2 160.5h.5M192.5 196.6h.5M224.3 325.8h.5M239.5 288.4h.5M168.7 263.7h.5M308.6 174.2h.5M242.5 148.1h.5M186.1 310.0h.5M303.9 221.7h.5M181.2 173.4h.5M267.6 169.6h.5M261.0 286.5h.5M174.7 188.1h.5M201.2 180.9h.5M217.4 200.1h.5M135.8 303.1h.5M323.8 231.2h.5M254.4 285.5h.5M213.4 277.5h.5M172.0 354.8h.5M225.3 250.5h.5M250.8 155.6h.5M177.3 338.6h.5M240.3 323.2h.5M305.9 206.1h.5M235.3 234.7h.5M189.4 292.4h.5M211.9 160.1h.5M143.3 330.4h.5M137.0 329.9h.5M248.8 340.0h.5M188.5 197.9h.5M179.7 359.3h.5M238.6 163.2h.5M184.1 320.3h.5M251.1 182.3h.5M174.6 249.4h.5M240.0 358.8h.5M252.6 220.6h.5M242.6 264.6h.5M175.4 316.1h.5M187.8 294.7h.5M128.5 308.6h.5M256.2 227.6h.5M284.8 285.3h.5M280.5 159.2h.5M252.5 289.8h.5M231.1 194.7h.5M204.0 236.0h.5M192.7 202.5h.5M237.4 266.9h.5M205.7 196.3h.5M242.7 268.1h.5M162.4 256.9h.5M229.9 357.3h.5M160.3 308.1h.5M277.2 298.2h.5M224.6 318.8h.5M155.5 294.3h.5M306.1 205.7h.5M131.4 302.6h.5M139.8 330.8h.5M215.5 162.8h.5M184.9 319.4h.5M258.4 191.6h.5M252.3 329.8h.5M178.2 198.1h.5M214.3 310.9h.5M203.1 163.5h.5M305.1 220.8h.5M136.5 346.0h.5M224.6 326.4h.5M250.0 273.3h.5M296.9 246.1h.5M212.4 249.2h.5M196.2 300.1h.5M238.0 249.7h.5M244.0 343.5h.5M143.0 250.1h.5M176.5 315.7h.5M169.9 312.4h.5M148.6 329.4h.5M188.1 325.9h.5M206.9 275.0h.5M215.7 295.3h.5M125.6 290.2h.5M179.5 321.6h.5M195.8 227.6h.5M193.8 339.0h.5M191.4 170.8h.5M187.2 269.3h.5M223.7 290.7h.5M289.0 230.4h.5M155.2 346.9h.5M204.1 185.7h.5M298.3 218.3h.5M254.0 282.9h.5M271.4 245.1h.5M249.1 165.4h.5M192.4 252.5h.5M289.3 259.6h.5M251.1 166.9h.5M188.1 248.3h.5M190.1 309.3h.5M258.6 153.0h.5M149.0 222.4h.5M169.6 300.7h.5M167.7 338.2h.5M238.4 334.6h.5M250.5 324.2h.5M144.5 327.1h.5M224.7 341.7h.5M207.3 185.4h.5M158.0 246.2h.5M239.3 282.0h.5M317.5 169.1h.5M208.6 281.1h.5M221.5 296.4h.5M261.8 188.8h.5M238.8 322.0h.5M267.6 262.9h.5M217.1 211.6h.5M242.7 257.9h.5M238.5 255.1h.5M177.9 367.8h.5M263.1 211.8h.5M253.3 261.3h.5M252.4 296.8h.5M167.7 216.4h.5M146.2 280.1h.5M262.8 206.8h.5M187.2 206.2h.5M321.1 233.7h.5M149.9 212.5h.5M261.6 226.7h.5M199.9 212.2h.5M237.3 345.1h.5M185.2 281.0h.5M257.5 349.7h.5M209.6 347.8h.5M185.4 350.4h.5M254.8 199.1h.5M219.2 219.4h.5M246.4 283.5h.5M299.4 219.0h.5M213.3 226.8h.5M143.2 331.7h.5M278.1 218.8h.5M272.4 305.3h.5M227.3 228.5h.5M251.5 196.3h.5M154.9 217.6h.5M208.5 305.9h.5M240.5 251.0h.5M224.4 166.8h.5M273.2 217.3h.5M158.3 298.8h.5M171.4 230.7h.5M215.9 176.7h.5M243.6 227.0h.5M199.4 365.2h.5M214.6 206.9h.5M263.0 288.9h.5M183.1 179.4h.5M254.3 217.6h.5M215.7 358.5h.5M254.6 197.2h.5M276.2 253.6h.5M243.4 296.9h.5M242.7 298.6h.5M150.6 285.5h.5M179.4 245.0h.5M213.4 222.9h.5M221.4 297.0h.5M140.1 277.5h.5" stroke="#fff" stroke-width=".55" stroke-opacity=".5" fill="none"/>
<path d="M135.7 355.0h0.7M240.7 369.5h0.7M315.3 322.6h0.7M322.9 281.1h1.0M303.6 243.6h0.8M257.1 361.3h0.8M292.8 369.9h1.1M315.0 249.0h0.9M309.4 312.5h1.0M123.8 352.6h1.2M273.3 308.8h0.7M260.0 358.5h0.9M284.1 386.3h0.5M325.9 233.8h0.9M326.9 244.4h0.5M263.0 383.2h1.1M160.9 171.6h0.5M328.8 183.2h1.0M298.9 143.5h1.1M333.4 183.2h0.9M279.4 375.9h0.6M308.2 359.6h1.2M116.5 333.0h0.6M148.7 206.8h0.6M256.8 355.8h1.1M297.7 149.4h0.7M130.3 368.7h0.8M148.9 188.8h0.5M321.3 254.3h1.1M330.2 217.3h1.0M343.3 234.3h1.1M337.4 264.8h0.9M330.1 262.6h0.7M196.8 375.0h1.0M289.3 275.9h0.8M334.4 215.3h0.9M320.1 324.9h0.5M326.7 299.6h0.5M134.1 219.1h0.7M312.9 352.7h0.7M325.6 176.3h0.8M275.9 338.8h0.5M286.7 344.4h0.7M289.8 285.8h0.6M133.0 258.2h1.2M125.7 340.0h0.6M179.4 150.9h1.0M139.2 251.5h0.7M160.8 193.0h0.5M117.6 302.0h0.5M315.2 286.5h0.7M172.9 178.8h0.8M335.2 263.0h1.0M141.8 227.4h0.5M286.6 307.3h1.2M148.0 380.1h0.7M312.2 298.3h0.7M304.3 242.2h0.6M136.3 229.0h0.8M330.7 180.0h1.2M302.0 322.4h0.6M282.5 296.0h0.7M321.5 287.2h0.5M268.6 355.7h0.7M136.1 242.6h0.9M300.5 351.5h0.8M338.4 249.8h0.8M249.7 371.9h1.0M220.4 382.2h1.0M199.6 391.1h1.0M248.0 140.0h0.7M341.8 207.0h0.5M301.9 368.1h0.6M304.2 276.9h1.1M291.5 352.2h0.8M184.5 157.5h0.9M309.4 255.0h0.6M281.7 367.6h0.8M217.6 374.9h0.7M141.1 375.2h1.1M332.7 170.7h0.8M213.5 146.1h1.1M164.6 171.3h0.8M293.1 333.0h0.9M333.6 248.8h0.8M312.6 356.6h1.1M329.4 256.6h1.0M327.6 174.6h0.7M326.9 290.4h1.2M260.1 358.4h1.1M263.2 382.6h0.9M256.2 391.1h0.8M329.2 231.6h0.7M281.4 330.0h0.9M244.7 140.2h1.0M264.6 354.7h0.6M120.8 281.0h0.9M293.2 330.3h0.8M296.6 374.0h1.0M126.5 355.0h0.6M289.4 146.6h1.1M136.8 362.1h1.0M282.2 309.1h0.5M313.4 250.2h0.9M328.2 303.4h1.0M294.1 325.9h0.8M312.6 310.7h1.0M334.6 265.3h0.5M307.2 339.8h1.0M270.8 329.4h1.2M327.5 182.8h0.6M158.2 386.9h1.0M260.1 349.1h0.9M170.0 158.3h0.5M215.0 376.0h0.6M113.9 295.0h0.7M187.1 379.3h1.0M133.6 234.9h1.2M323.2 250.1h0.7M316.6 297.8h0.7M233.0 377.8h0.8M173.7 381.5h1.2M132.8 262.4h0.6M150.9 381.4h0.7M138.9 372.8h0.9M178.0 170.3h1.0M187.4 154.8h1.2M154.7 195.8h0.6M266.5 375.4h0.6M255.7 146.3h0.5M338.0 200.0h0.8M140.9 252.9h0.8M297.0 356.8h0.9M121.0 327.0h0.7M329.0 237.6h1.1M233.2 384.7h1.1M244.6 135.9h0.7M154.9 195.2h0.9M315.2 314.4h1.0M273.9 382.6h1.0M327.8 300.0h0.8M144.3 376.7h0.7M324.3 332.8h0.8M171.7 373.2h1.1M306.2 301.5h1.2M279.6 319.9h0.9M257.4 359.5h0.9M332.1 275.4h1.0M151.6 198.7h0.5M267.0 137.9h0.6M269.4 327.1h0.9M266.6 365.9h0.6M230.8 389.6h0.5M193.7 146.7h1.0M215.8 380.8h0.7M228.0 371.9h0.8M116.9 296.8h0.9M176.9 156.7h1.2M117.1 353.2h0.5M307.2 299.8h1.1M284.3 321.7h0.7M294.1 340.4h0.6M271.4 143.8h0.9M301.8 336.5h0.9M154.1 371.2h0.5M207.5 381.1h0.7M279.5 369.4h1.0M321.9 311.2h1.1M314.1 310.0h1.1M315.3 337.4h0.5M333.1 245.4h0.7M304.8 293.0h1.1M177.6 158.8h1.1M338.7 235.0h0.7M320.0 300.5h0.6M161.9 189.7h0.6M318.1 286.7h0.7M108.6 290.0h1.0M299.4 262.4h0.5M336.5 193.3h0.6M189.7 388.2h0.8M313.2 274.1h1.0M260.6 142.3h1.0M290.7 373.7h1.0M134.3 367.0h0.6M163.4 195.1h1.2M327.9 216.9h0.6M326.2 243.3h0.7M324.6 317.7h0.6M177.7 374.1h0.6M172.7 388.7h0.7M336.1 224.2h1.2M283.6 369.5h0.6M312.0 278.2h0.6M283.2 354.4h1.1M127.2 274.1h0.9M337.4 205.7h1.2M262.3 338.1h0.8M137.7 217.8h1.0M223.1 392.8h0.7M109.3 328.6h1.2M278.9 355.4h0.7M266.4 347.1h0.6M143.4 244.0h0.7M313.3 160.8h0.7M323.4 282.3h0.6M324.0 248.0h0.7M115.6 336.6h0.7M266.8 379.3h1.0M340.0 238.0h1.0M281.9 380.0h0.9M111.0 286.4h0.8M288.4 330.8h0.7M175.6 380.8h0.9M109.3 297.0h1.1M230.4 380.6h0.6M311.8 333.5h1.0M156.3 183.4h1.1M118.6 310.7h0.5M188.6 372.1h1.1M195.2 393.5h0.7M269.6 335.2h1.1M105.4 300.8h1.0M116.9 332.6h1.1M297.6 151.7h0.9M292.8 290.4h0.6M207.6 387.9h1.2M330.2 267.4h0.9M120.3 270.5h0.8M244.0 368.7h1.2M205.2 140.8h0.7M146.7 376.0h1.1M278.4 331.9h0.6M305.3 276.5h0.9M319.1 268.1h1.2M147.8 369.9h0.5M317.8 293.8h0.9M200.9 381.9h0.9M295.9 343.2h1.0M141.6 356.6h0.8M146.9 379.9h0.5M243.9 366.6h0.9M218.4 145.7h1.0M302.0 355.8h0.6M150.2 189.4h0.8M126.6 369.1h0.9M209.9 378.8h0.9M273.0 137.9h0.7M299.9 277.3h0.9M118.2 347.3h1.1M163.0 376.7h0.9M309.3 293.8h0.8M264.6 341.8h0.7M221.8 380.9h1.2M269.2 363.7h0.9M295.6 335.9h0.5M214.8 372.2h0.6M315.3 321.9h0.8M215.0 384.3h1.0M135.7 229.4h1.1M136.0 234.5h1.1M138.9 369.3h0.6M225.2 389.1h0.5M156.8 200.1h0.6M280.3 374.2h0.5M236.6 376.7h0.6M306.6 272.2h1.1M235.6 371.4h0.7M339.7 234.4h0.9M331.3 254.7h1.2M149.1 370.1h0.8M299.8 337.3h0.5M271.2 380.7h0.8M306.6 153.5h0.6M130.5 367.6h0.7M279.2 298.3h0.6M235.7 145.4h0.8M226.4 135.6h1.1M333.0 277.4h1.1M319.4 294.7h1.1M137.4 239.6h1.2M120.0 329.2h0.9M290.9 304.1h0.8M337.5 223.5h1.0M208.6 143.3h0.8M300.5 314.1h0.9M277.9 372.2h1.2M152.3 197.9h0.9M112.6 298.9h0.6M305.2 156.0h1.2M116.4 333.1h0.6M129.2 247.6h0.5M277.9 346.1h1.1M326.3 252.4h0.9M125.1 343.5h0.7M259.0 354.6h0.7M256.1 363.3h1.1M258.5 362.6h1.1M200.7 390.2h0.6M117.4 303.9h0.5M110.6 297.4h0.8M321.6 281.2h1.0M328.0 185.8h1.1M325.6 282.8h1.2M160.1 189.6h1.2M179.3 151.5h1.1M179.1 149.1h1.0M158.8 370.6h0.8M256.8 389.7h0.6M153.4 196.1h0.7M270.5 349.9h0.8M339.0 179.0h0.8M141.6 250.8h0.5M150.2 379.6h0.7M251.0 135.1h0.6M156.0 199.8h0.9M245.7 372.1h1.1M312.2 319.2h0.9M135.5 238.1h0.9M204.4 385.5h1.1M300.7 327.5h1.0M106.5 323.1h1.1M142.9 378.0h1.1M340.6 183.6h0.9M159.9 199.9h0.6M127.9 342.4h0.8M131.7 245.0h0.9M258.3 374.4h1.0M269.4 348.1h0.8M320.0 320.8h0.6M319.6 314.6h0.8M149.9 182.0h0.9M137.9 251.8h0.7M225.8 377.4h1.0M116.5 316.5h0.7M291.9 344.9h0.9M157.4 370.3h0.9M169.0 375.2h1.0M170.5 369.5h0.6M340.7 195.2h0.7M289.4 349.0h1.1M306.2 352.5h1.1M127.7 254.7h0.7M167.8 178.5h1.0M329.5 255.5h0.6M292.2 317.6h0.7M184.5 374.4h1.1M118.3 344.9h0.6M304.5 151.0h0.5M200.8 384.7h0.8M289.9 288.3h0.8M143.1 246.9h0.8M327.8 288.5h1.2M173.7 370.5h0.9M260.2 394.3h1.0M165.3 378.9h1.0M239.9 380.8h1.0M154.0 198.3h1.2M315.2 313.6h1.2M163.8 372.4h1.1M160.3 169.6h1.1M335.2 212.3h0.8M128.5 366.9h1.1M288.3 325.2h1.2M294.6 291.7h0.9M261.7 348.3h0.7M235.1 141.8h1.1M331.5 283.0h1.0M113.1 321.3h1.0M123.3 326.8h0.9M327.4 254.2h0.8M260.3 355.1h1.1M144.9 198.9h1.1M295.2 365.8h0.8M306.2 357.2h0.8M249.1 380.7h0.6M122.5 360.5h1.2M271.4 329.6h1.1M122.9 346.7h0.7M141.6 220.6h0.7M283.2 350.1h1.0M318.7 155.0h1.1M257.6 141.1h1.1M337.4 199.0h0.7M320.4 309.1h0.7M329.3 164.6h1.0M325.4 298.2h0.8M290.0 343.6h1.2M182.1 381.4h0.9M299.9 369.4h1.1M306.9 343.0h0.8M154.1 177.0h0.7M259.5 348.7h1.2M308.0 321.0h0.7M198.4 388.3h0.7M269.3 139.2h0.8M161.2 184.8h0.9M277.8 336.1h0.6M153.9 193.0h0.6M253.3 370.7h0.9M332.6 264.6h0.8M259.8 383.5h1.0M236.1 143.9h1.2M319.8 343.6h0.7M278.6 384.8h0.9M266.1 387.3h0.9M225.9 138.1h0.9M337.2 169.0h0.8M150.0 192.8h0.7M109.5 324.2h0.9M318.1 156.6h1.0M116.1 346.8h1.1M146.4 198.5h1.1M275.6 314.3h0.6M332.4 217.9h1.2M328.2 270.3h0.7M298.0 322.8h0.6M133.3 354.1h0.5M299.1 342.4h0.8M140.4 356.7h0.9M201.4 372.3h0.6M293.7 339.7h0.9M247.7 367.2h0.6M259.9 362.5h0.6M304.0 335.3h1.2M302.2 252.5h0.9M322.2 246.2h0.5M336.2 260.1h0.6M275.3 307.6h1.2M315.0 256.7h0.6M308.2 342.6h0.5M165.0 190.7h1.1M329.0 208.6h0.9M167.0 369.3h0.7M314.8 336.4h0.8M308.4 282.7h0.9M138.2 355.3h1.0M319.0 257.8h0.8M325.0 159.7h1.0M339.0 220.6h0.8M293.1 354.7h1.1M189.2 151.3h0.7M288.8 274.4h0.6M331.5 276.6h0.6M208.4 383.5h0.5M290.0 338.1h1.0M118.8 325.0h0.6M171.3 176.1h0.9M274.5 381.3h0.8M107.9 332.9h1.0M269.0 362.9h0.8M214.1 394.9h0.7M175.3 383.3h1.0M245.2 395.3h1.0M328.7 157.8h0.8M163.3 382.7h0.8M111.6 343.8h0.7M250.7 372.6h0.7M176.5 379.2h1.2M114.9 295.5h0.7M107.0 321.4h0.5M250.3 388.1h1.1M331.0 191.9h0.9M192.8 383.4h0.9M309.5 345.5h1.1M305.2 247.7h1.0M292.4 272.2h1.2M295.3 345.9h1.1M270.7 367.2h0.8M287.4 147.8h0.5M271.8 385.1h1.0M163.4 168.2h0.6M112.3 302.3h0.5M176.8 163.8h0.5M116.5 333.5h1.1M314.0 319.4h1.0M135.5 368.0h0.9M306.5 246.4h1.0M130.2 256.8h0.7M264.4 365.2h1.2M268.1 363.4h0.9M318.4 270.5h0.9M136.5 365.3h0.9M281.8 331.5h1.1M304.5 285.1h0.5M282.6 380.9h1.1M146.3 368.4h0.9M269.5 340.2h0.9M230.6 369.2h1.1M198.9 371.8h1.0M338.8 195.1h1.0M317.5 285.2h0.7M327.5 232.8h0.7M146.7 365.3h1.0M249.0 380.5h0.9M319.9 252.8h1.0M238.2 379.8h0.9M250.6 369.2h1.2M203.4 149.6h0.5M342.2 205.0h1.1M165.3 170.8h0.8M337.9 213.5h1.2M277.2 331.4h0.9M232.7 135.0h1.2M258.3 360.1h1.1M306.0 261.9h0.6M318.1 299.8h0.8M295.1 260.7h0.7M276.8 308.8h0.6M169.1 163.8h1.2M317.4 299.8h1.0M220.6 387.0h0.6M325.9 303.4h1.0M320.0 155.1h0.8M257.7 358.8h1.1M307.9 248.4h1.0M276.8 379.8h1.1M311.1 150.3h1.0M262.0 360.8h0.6M227.5 380.8h0.6M327.1 166.4h1.0M136.3 241.4h0.7M330.9 181.6h0.8M201.9 379.3h0.9M139.0 242.4h0.8M187.3 376.0h0.6M276.6 380.2h1.1M169.8 379.3h1.0M324.9 247.9h0.8M160.8 199.5h1.1M282.7 384.3h0.8M257.0 351.6h0.9M153.7 178.2h0.8M309.3 251.8h1.1M110.8 330.0h1.2M168.4 163.6h1.0M295.2 362.0h1.0M181.4 150.1h1.2M291.5 310.0h0.9M265.5 143.3h1.1M297.8 326.4h1.0M121.8 286.6h0.5M238.3 383.3h1.1M292.0 358.6h0.6M297.5 372.3h0.6M292.1 333.6h1.2M295.4 307.2h0.6M187.3 376.8h1.0M279.4 357.1h1.2M317.8 248.2h0.9M293.1 336.6h0.9M166.2 175.8h0.9M280.6 322.3h0.8M270.9 331.4h0.6M325.6 315.9h0.6M143.4 380.4h1.1M285.9 318.2h0.9M339.0 173.0h1.0M279.5 391.2h0.7M239.1 388.5h1.1M206.7 145.0h1.0M253.1 361.4h0.9M190.6 393.8h1.1M290.7 291.5h0.9M279.7 329.8h1.0M168.5 385.7h1.1M178.3 371.7h0.6M111.8 322.3h0.6M164.0 175.5h0.9M250.4 367.6h1.1M137.3 248.5h1.1M332.2 247.0h1.0M312.2 347.4h0.8M306.4 340.5h0.8M312.4 158.4h0.5M294.7 370.8h0.7M193.2 373.1h1.1M333.3 283.8h1.0M280.8 315.2h0.8M312.6 248.1h0.6M244.4 383.4h0.6M193.6 375.8h0.7M179.0 384.8h0.6M309.0 343.1h1.1M273.6 316.5h0.7M305.4 307.6h0.9M114.2 293.7h1.1M292.1 344.3h1.2M292.6 381.3h0.7M340.3 211.5h1.0M310.5 340.0h1.1M318.9 259.6h1.2M272.5 373.8h1.2M265.0 354.5h0.5M256.6 383.0h0.9M192.0 147.2h0.6M308.5 304.8h0.6M162.4 388.6h1.1M300.3 318.8h1.0M243.8 386.9h1.2M308.8 297.1h1.1M319.3 327.5h1.0M261.3 382.3h0.9M135.7 220.5h1.0M131.4 363.7h0.6M295.9 271.1h0.8M148.7 182.3h1.1M306.0 245.6h0.6M292.9 265.5h0.7M228.4 394.6h1.1M160.5 173.0h1.0M287.4 335.2h1.1M299.5 377.3h0.7M234.0 143.9h1.2M340.8 201.7h0.9M301.7 345.4h1.0M109.1 315.7h1.1M268.7 371.3h1.1M307.6 332.0h0.6M139.1 229.8h1.2M240.9 383.4h1.1M118.4 282.3h0.7M273.2 360.2h0.6M268.5 143.4h0.8M117.8 273.9h1.0M179.9 150.8h0.6M320.2 298.9h0.9M324.3 265.1h0.7M174.0 374.5h0.8M298.2 258.9h0.6M332.5 283.4h1.0M340.2 182.7h0.7M296.8 276.4h1.0M162.1 168.5h1.2M130.4 355.6h1.0M113.4 332.5h0.6M134.8 349.7h0.7M289.6 144.8h1.0M179.0 170.3h1.0M302.2 372.9h0.7M283.3 353.2h1.0M324.9 234.6h0.6M105.8 299.0h1.1M122.8 357.5h0.7M172.4 173.7h1.0M272.8 333.9h0.6M325.3 308.6h0.7M266.9 146.1h1.0M302.9 256.9h1.1M145.6 359.7h1.1M148.1 188.2h1.0M302.7 154.5h0.8M280.8 351.3h1.0M214.3 388.2h0.7M269.5 394.7h1.0M182.4 376.8h0.9M221.4 143.0h0.8M294.9 265.5h1.1M330.6 290.8h0.8M116.9 323.9h0.7M193.0 154.4h1.1M244.8 135.5h1.1M307.4 366.8h1.2M312.0 320.6h0.5M133.5 355.4h1.0M332.5 287.7h0.6M210.6 380.7h1.0M161.2 175.5h0.7M282.0 338.4h0.9M328.9 218.4h0.8M292.4 354.6h0.7M304.5 348.1h0.8M197.2 148.1h1.2M338.6 216.5h0.6M170.6 169.6h0.9M272.4 338.2h1.1M124.3 348.4h0.5M189.4 386.6h1.0M318.2 323.0h1.2M331.9 288.6h0.7M330.3 280.9h1.0M325.3 289.2h1.0M208.0 145.2h1.0M312.9 148.9h0.8M213.6 379.5h1.2M204.7 375.9h1.2M294.7 342.0h0.9M311.9 319.9h1.1M275.6 363.1h0.9M229.7 372.0h0.9M129.5 258.1h0.9M292.7 300.4h0.7M316.9 259.1h1.1M327.1 322.0h0.5M273.5 140.1h1.1M295.4 358.2h1.1M290.6 341.6h0.7M334.2 279.7h0.9M282.4 294.9h0.7M333.8 200.7h0.6M256.4 134.5h1.1M264.1 353.8h0.8M299.2 279.8h0.8M306.3 291.9h1.1M146.4 205.9h0.7M315.3 243.1h0.6M337.0 174.4h0.5M317.2 345.0h0.8M196.7 373.2h0.8M117.0 316.3h1.1M320.7 308.5h0.9M315.6 292.0h0.8M235.9 372.9h1.0M108.6 305.5h1.0M134.1 357.6h0.6M320.5 236.7h1.1M330.2 202.7h0.6M140.7 244.0h0.8M302.4 283.5h1.0M247.4 379.5h1.0M306.0 301.8h0.8M244.9 373.1h1.0M274.0 305.5h0.7M332.3 243.2h0.8M196.6 389.6h0.9M237.0 137.7h1.0M124.6 363.0h0.8M329.4 210.6h0.5M141.7 373.5h0.9M265.7 145.3h1.1M182.0 154.6h1.1M247.1 392.8h0.8M168.0 381.8h1.0M340.5 209.2h0.8M287.0 315.6h1.0M272.0 144.8h0.8M313.4 316.3h0.8M204.9 381.6h1.0M305.0 151.5h1.1M153.6 197.2h0.9M134.3 359.2h1.0M119.3 348.5h0.7M178.0 156.5h1.1M276.2 137.5h0.9M305.9 289.3h0.5M169.0 184.9h1.0M261.1 375.2h0.7M321.4 328.3h0.9M292.6 303.7h1.1M190.7 146.9h1.1M180.1 154.1h1.1M284.4 320.6h1.0M343.9 215.6h1.1M139.0 233.3h0.9M291.1 278.1h1.0M158.0 200.5h0.8M321.5 336.7h0.6M221.7 378.2h1.2M227.5 374.0h0.6M155.2 200.7h0.8M336.4 232.1h0.6M329.0 241.2h0.6M204.8 393.4h1.0M294.4 326.1h0.7M237.5 372.2h0.9M213.8 141.3h1.2M194.2 149.6h0.8M342.6 230.5h0.6M302.4 144.2h1.0M281.2 358.7h0.6M328.2 289.4h1.0M183.6 382.4h1.1M295.1 336.3h1.2M140.8 231.7h1.2M182.4 381.7h0.5M270.6 363.1h1.0M232.4 135.0h0.6M151.0 188.3h1.2M264.4 355.4h0.6M296.7 337.7h1.0M200.9 390.8h0.6M263.9 145.9h0.9M282.2 349.8h1.1M123.6 279.0h0.5M249.0 135.5h0.6M120.9 354.0h1.1M262.6 339.1h0.7M257.0 384.1h1.1M185.5 386.4h0.6M143.6 217.3h0.9M308.4 357.5h0.7M315.9 289.8h1.1M153.8 368.5h1.0M156.6 175.6h1.0M236.3 386.6h0.6M336.5 166.3h1.0M139.2 233.0h1.2M281.6 380.4h1.1M316.7 278.3h0.7M151.3 185.2h0.6M196.2 143.7h0.8M109.6 334.2h0.9M331.2 209.2h1.2M340.8 203.8h1.1M278.9 389.8h1.0M288.8 340.3h1.2M148.7 194.7h0.5M265.6 346.7h0.9M177.0 373.1h1.1M305.8 256.7h1.1M305.2 319.6h0.5M225.0 378.3h0.5M230.9 138.1h0.9M249.0 369.6h0.8M293.5 285.9h1.1M331.3 248.7h1.1M237.5 137.6h0.7M307.3 348.9h0.8M257.2 385.6h0.5M135.4 233.2h1.1M275.4 347.6h1.0M150.0 363.6h0.6M310.3 264.4h0.8M323.0 326.7h1.0M288.0 298.6h1.0M153.0 186.3h1.0M221.5 375.0h0.6M331.1 167.1h0.6M269.2 384.7h0.7M271.9 319.7h1.0M291.1 281.6h0.7M152.6 379.5h0.6M320.7 315.4h0.8M293.9 292.4h0.8M314.0 323.2h0.5M246.3 389.2h1.2M308.2 328.6h0.6M133.7 265.3h0.7M112.5 298.4h0.5M287.6 287.4h1.1M296.3 361.1h1.1M268.6 375.9h0.9M325.3 273.3h0.7M132.2 362.4h1.2M333.9 223.3h1.0M309.1 156.3h1.1M245.4 361.6h1.0M281.8 143.6h0.8M247.4 381.5h1.0M148.8 189.3h0.9M288.0 374.8h0.6M276.8 302.6h1.0M137.9 362.8h0.6M284.6 297.3h1.2M120.2 275.1h0.6M339.8 180.1h0.7M137.6 213.1h1.0M108.2 317.0h0.9M139.8 201.6h1.1M190.4 393.4h0.9M275.4 142.9h0.7M168.2 164.3h0.7M192.9 392.3h0.6M151.9 183.8h1.1M294.8 145.1h1.1M325.1 265.2h0.6M189.0 385.3h0.7M296.5 374.0h0.9M251.0 363.7h1.1M196.1 384.8h1.0M327.0 230.4h0.6M219.1 387.1h0.8M295.3 149.5h1.0M250.3 374.6h1.0M124.1 266.0h0.5M288.4 352.7h0.9M147.6 211.1h0.8M307.6 304.4h0.5M142.4 229.6h1.1M227.7 383.9h1.2M114.3 313.9h0.6M295.3 293.2h0.6M299.9 320.9h0.9M282.9 297.3h1.1M158.7 382.8h0.7M134.7 367.5h1.2M219.0 373.6h1.0M151.6 384.2h0.9M153.8 366.2h0.8M325.7 178.0h0.8M123.5 347.4h0.7M287.9 274.2h1.1M246.7 132.6h0.8M167.9 176.4h0.9M287.3 311.8h0.7M324.3 155.0h0.7M327.5 177.8h0.8M336.7 233.5h0.5M274.0 370.2h1.0M265.8 393.6h0.9M148.9 372.8h0.6M337.2 169.6h0.6M269.6 136.3h1.0M324.5 169.0h1.0M307.9 148.5h1.2M267.9 389.5h0.5M210.9 379.4h1.2M116.9 279.1h0.8M313.3 289.8h0.9M322.0 261.6h1.0M315.3 308.6h0.8M159.9 201.9h0.6M329.6 242.3h0.5M285.2 286.8h1.1M271.9 344.8h1.2M341.4 214.8h0.9M219.0 394.3h0.9M126.0 275.1h0.7M121.9 286.0h0.7M276.3 323.7h0.8M336.0 205.2h1.1M184.6 157.4h0.9M139.3 206.8h1.1M210.3 388.4h0.9M210.3 391.0h0.9M306.2 261.2h0.9M311.5 161.9h0.9M308.3 317.1h1.2M134.9 367.0h0.6M329.4 195.8h0.5M124.1 356.0h1.0M147.9 201.0h0.6M315.9 283.4h1.0M141.5 249.8h0.5M315.7 320.6h1.0M319.2 267.9h0.5M224.7 138.3h1.2M185.1 157.8h1.1M284.3 333.6h0.9M280.2 381.0h0.9M266.6 328.4h0.6M273.9 369.3h0.8M138.5 236.7h1.1M267.3 354.6h0.9M328.3 209.9h0.6M245.9 376.2h0.9M302.9 372.3h1.0M247.6 371.7h1.0M283.9 309.0h1.1M303.8 316.6h0.6M134.4 264.0h1.0M342.1 203.9h0.7M249.6 361.8h0.9M308.4 326.9h0.9M235.4 376.0h0.8M223.5 140.9h0.9M115.9 305.0h1.0M117.1 332.2h0.6M126.3 337.2h0.6M321.2 243.0h0.7M115.8 290.7h1.2M217.1 141.3h0.5M316.0 285.7h0.6M299.2 353.7h1.2M220.8 136.8h1.0M302.1 324.7h0.9M277.8 316.6h0.7M279.6 373.9h0.5M123.8 329.4h0.9M344.8 203.7h1.2M191.9 386.9h1.0M273.2 320.6h0.5M269.8 327.2h0.9M166.3 372.6h0.6M313.9 161.9h0.7M270.7 378.8h0.6M315.3 292.9h0.9M267.0 146.7h0.7M251.8 358.0h1.2M330.8 246.4h0.5M283.4 302.6h1.0M170.4 385.5h0.7M127.5 355.9h0.9M270.8 355.0h1.0M149.7 184.0h0.9M119.5 328.1h0.9M279.7 354.9h0.7M335.7 203.2h1.0M259.2 145.5h0.8M323.7 158.6h0.7M306.6 147.7h0.8M313.3 318.9h0.6M170.5 388.7h1.0M277.1 322.6h0.7M275.5 346.6h0.5M253.9 373.1h1.2M316.1 283.9h0.9M135.8 357.0h1.1M278.7 327.9h0.7M327.5 169.2h0.8M300.3 292.2h1.0M279.6 347.5h0.7M291.8 150.4h0.7M326.2 173.1h1.1M320.8 297.9h0.9M249.7 376.5h0.9M301.6 155.1h1.2M275.4 142.2h1.0M285.4 302.3h1.1M303.0 327.0h1.2M110.7 302.9h0.8M269.4 138.6h0.8M165.3 375.1h0.9M147.8 186.2h0.7M229.3 378.3h0.9M333.3 183.5h0.6M118.7 274.0h0.9M108.1 315.2h0.6M154.0 179.0h0.6M273.9 350.5h0.7M156.3 190.6h0.7M275.1 389.3h1.2M286.3 286.0h1.0M144.0 227.3h1.0M334.8 176.2h0.6M298.2 250.2h0.9M334.4 238.3h1.0M326.3 297.9h1.1M299.8 279.0h1.0M297.7 295.6h1.1M150.5 378.5h1.0M312.5 274.7h0.5M184.7 388.0h1.1M305.4 306.8h0.7M324.9 240.8h1.2M343.0 194.1h0.7M304.6 149.8h0.7M324.6 259.2h0.8M299.2 289.9h0.5M325.6 323.3h0.5M238.2 384.5h0.9M307.3 294.9h0.6M135.6 220.5h1.1M257.8 361.1h0.8M217.4 141.0h0.5M208.6 137.9h1.0M126.1 338.8h1.1M258.2 360.7h0.8M264.7 348.7h1.2M283.3 339.2h1.1M309.9 362.2h1.2M315.4 295.0h0.5M337.7 204.2h1.0M152.6 195.9h1.1M280.3 357.4h0.6M322.3 258.1h1.1M265.5 142.8h0.9M303.0 153.4h1.0M285.6 290.3h0.7M130.1 266.3h1.2M115.7 290.9h1.1M107.9 327.4h0.6M146.5 361.5h0.5M113.5 328.1h1.0M173.3 176.1h0.8M276.9 346.0h0.7M282.4 378.5h1.2M300.7 148.6h0.5M180.9 162.4h1.0M105.4 309.2h1.1M133.7 242.4h1.0M134.3 221.2h0.9M170.1 384.5h0.6M257.7 380.7h1.1M230.8 141.9h0.9M322.2 334.4h0.6M319.8 268.6h1.1M333.2 237.7h0.7M150.0 193.6h0.8M177.8 380.2h0.8M193.1 393.2h0.9M274.5 352.5h1.1M259.4 134.1h0.8M293.1 147.4h0.5M307.6 361.7h1.0M172.3 174.6h0.7M263.6 372.4h0.6M265.2 366.6h1.2M154.8 204.2h0.9M295.0 276.3h1.0M340.7 224.0h0.9M328.0 300.6h0.6M307.4 344.2h0.9M337.0 180.2h1.1M127.6 338.6h0.8M317.2 251.4h1.0M209.9 395.3h1.0M108.4 337.2h1.2M285.3 318.0h1.0M309.5 277.9h1.1M187.9 148.3h0.9M311.0 273.5h1.0M316.0 310.0h1.2M300.4 376.3h0.7M135.0 207.6h1.1M272.9 317.5h1.1M303.6 345.3h0.9M298.0 280.5h0.6M284.1 340.8h1.1M287.0 352.0h1.1M298.4 364.8h0.6M344.8 192.7h1.0M119.4 270.1h0.6M275.3 349.9h1.0M162.0 172.3h0.6M108.7 315.2h1.0M329.2 206.6h0.7M309.2 318.5h1.1M321.5 281.2h0.6M233.9 145.2h0.8M282.2 386.6h1.2M199.6 148.7h0.8M290.4 271.5h1.1M279.8 348.5h0.8M338.7 239.0h1.1M271.6 387.3h0.9M342.7 231.1h1.0M338.4 255.6h1.0M312.7 319.7h0.5M257.9 367.9h1.2M315.1 355.5h0.7M162.6 178.4h0.9M144.2 361.5h0.8M255.9 385.0h1.0M306.3 322.8h0.8M300.4 326.2h0.9M191.6 153.7h0.7M109.7 302.4h0.9M142.1 244.9h0.7M274.7 328.3h0.9M141.2 219.2h0.8M333.0 166.6h1.1M298.7 331.2h0.7M323.3 312.3h0.6M276.2 317.5h1.0M164.6 187.0h1.1M302.6 299.6h1.0M282.2 344.8h1.1M261.8 389.6h1.1M125.9 261.7h0.6M292.4 142.4h1.0M287.6 381.2h0.5M282.3 310.8h1.2M290.8 315.0h0.6M210.2 382.5h0.5M259.0 373.0h0.6M224.8 389.9h1.0M113.2 289.9h0.8M197.1 144.6h0.9M128.2 255.0h1.0M214.7 373.2h0.6M175.6 375.1h0.9M159.8 381.9h0.6M264.7 143.9h0.9M268.9 147.4h0.6" stroke="#fff" stroke-width=".8" stroke-opacity=".55" fill="none"/>
<g id="nodes">
<use href="#nR" x="65.0" y="204.5"/><use href="#nr" x="291.8" y="132.5"/><use href="#nr" x="245.0" y="143.8"/><use href="#nr" x="348.2" y="156.2"/><use href="#nr" x="148.2" y="173.8"/><use href="#nr" x="205.4" y="185.4"/><use href="#nr" x="112.5" y="202.5"/><use href="#nr" x="253.8" y="205.2"/><use href="#nr" x="384.5" y="245.0"/><use href="#nr" x="323.0" y="258.2"/><use href="#nr" x="156.2" y="288.8"/><use href="#nr" x="358.8" y="292.0"/><use href="#nr" x="246.2" y="300.0"/><use href="#nr" x="136.2" y="317.5"/><use href="#nr" x="347.2" y="332.8"/><use href="#nr" x="200.0" y="351.2"/><use href="#nr" x="63.2" y="383.8"/><use href="#nr" x="125.0" y="393.4"/><use href="#nr" x="305.0" y="397.0"/><use href="#nr" x="58.2" y="401.6"/><use href="#nr" x="211.5" y="408.2"/><use href="#ns" x="108.0" y="142.0"/><use href="#ns" x="92.5" y="202.0"/><use href="#ns" x="366.8" y="227.0"/><use href="#ns" x="126.8" y="230.8"/><use href="#ns" x="205.0" y="232.5"/><use href="#ns" x="208.8" y="235.0"/><use href="#ns" x="316.8" y="312.5"/><use href="#ns" x="349.2" y="362.5"/><use href="#ns" x="165.0" y="380.0"/><use href="#nt" x="211.5" y="112.7"/><use href="#nt" x="240.8" y="130.2"/><use href="#nt" x="182.7" y="131.5"/><use href="#nt" x="230.6" y="164.4"/><use href="#nt" x="268.7" y="165.6"/><use href="#nt" x="353.0" y="167.5"/><use href="#nt" x="191.2" y="184.4"/><use href="#nt" x="85.5" y="184.6"/><use href="#nt" x="127.5" y="200.3"/><use href="#nt" x="247.5" y="211.3"/><use href="#nt" x="137.0" y="222.5"/><use href="#nt" x="157.5" y="239.5"/><use href="#nt" x="265.5" y="248.8"/><use href="#nt" x="126.8" y="249.2"/><use href="#nt" x="293.0" y="250.0"/><use href="#nt" x="69.5" y="257.5"/><use href="#nt" x="115.0" y="271.2"/><use href="#nt" x="283.2" y="273.0"/><use href="#nt" x="162.5" y="278.8"/><use href="#nt" x="236.2" y="280.0"/><use href="#nt" x="326.8" y="286.2"/><use href="#nt" x="202.5" y="317.5"/><use href="#nt" x="79.2" y="345.0"/><use href="#nt" x="132.5" y="360.0"/><use href="#nt" x="94.5" y="379.2"/><use href="#nt" x="274.2" y="393.2"/><use href="#nt" x="353.0" y="400.5"/><use href="#nt" x="89.2" y="415.0"/><use href="#nt" x="233.8" y="421.5"/><use href="#nt" x="315.2" y="451.6"/><use href="#no" x="299.9" y="91.8"/><use href="#no" x="219.6" y="105.8"/><use href="#no" x="167.6" y="118.0"/><use href="#no" x="300.0" y="156.0"/><use href="#no" x="341.8" y="181.2"/><use href="#no" x="101.2" y="182.6"/><use href="#no" x="162.5" y="183.8"/><use href="#no" x="237.5" y="236.2"/><use href="#no" x="278.8" y="237.5"/><use href="#no" x="355.0" y="243.8"/><use href="#no" x="185.0" y="245.0"/><use href="#no" x="309.2" y="252.5"/><use href="#no" x="221.2" y="291.2"/><use href="#no" x="96.2" y="302.5"/><use href="#no" x="106.2" y="303.0"/><use href="#no" x="336.2" y="308.0"/><use href="#no" x="122.5" y="325.0"/><use href="#no" x="401.0" y="332.7"/><use href="#no" x="380.8" y="350.5"/><use href="#no" x="213.9" y="360.0"/><use href="#no" x="360.5" y="366.2"/><use href="#no" x="251.2" y="385.0"/><use href="#no" x="147.5" y="385.8"/><use href="#no" x="211.5" y="386.2"/><use href="#no" x="313.8" y="429.4"/><use href="#no" x="243.8" y="457.8"/><use href="#nl" x="286.2" y="158.2"/><use href="#nl" x="289.2" y="171.2"/><use href="#nl" x="258.8" y="176.2"/><use href="#nl" x="222.7" y="178.4"/><use href="#nl" x="320.8" y="183.2"/><use href="#nl" x="14.4" y="188.0"/><use href="#nl" x="160.0" y="199.7"/><use href="#nl" x="202.5" y="200.9"/><use href="#nl" x="266.2" y="203.8"/><use href="#nl" x="173.8" y="222.5"/><use href="#nl" x="111.8" y="228.8"/><use href="#nl" x="147.5" y="265.5"/><use href="#nl" x="246.2" y="269.5"/><use href="#nl" x="183.8" y="285.6"/><use href="#nl" x="215.2" y="287.2"/><use href="#nl" x="113.5" y="295.4"/><use href="#nl" x="85.8" y="301.2"/><use href="#nl" x="179.8" y="301.2"/><use href="#nl" x="408.8" y="307.0"/><use href="#nl" x="118.2" y="310.8"/><use href="#nl" x="71.2" y="321.2"/><use href="#nl" x="326.2" y="322.5"/><use href="#nl" x="258.8" y="326.2"/><use href="#nl" x="168.0" y="328.7"/><use href="#nl" x="149.5" y="332.5"/><use href="#nl" x="117.5" y="333.8"/><use href="#nl" x="271.2" y="342.5"/><use href="#nl" x="390.8" y="351.2"/><use href="#nl" x="98.8" y="355.0"/><use href="#nl" x="225.0" y="360.0"/><use href="#nl" x="120.0" y="362.5"/><use href="#nl" x="23.8" y="375.0"/><use href="#nl" x="303.8" y="383.2"/><use href="#nl" x="175.8" y="394.5"/><use href="#nl" x="262.0" y="395.8"/><use href="#nl" x="181.2" y="400.4"/><use href="#nl" x="383.0" y="421.0"/><use href="#nl" x="111.2" y="425.8"/><use href="#nl" x="168.8" y="439.8"/><use href="#nl" x="129.5" y="446.2"/><use href="#nl" x="91.8" y="452.5"/><use href="#nl" x="226.0" y="456.8"/><use href="#ng" x="299.8" y="24.1"/><use href="#ng" x="218.6" y="127.5"/><use href="#ng" x="351.8" y="132.5"/><use href="#ng" x="117.3" y="133.0"/><use href="#ng" x="159.8" y="137.2"/><use href="#ng" x="132.8" y="142.6"/><use href="#ng" x="250.8" y="147.5"/><use href="#ng" x="297.0" y="147.5"/><use href="#ng" x="181.1" y="174.8"/><use href="#ng" x="199.5" y="176.2"/><use href="#ng" x="309.2" y="176.2"/><use href="#ng" x="356.8" y="197.5"/><use href="#ng" x="184.6" y="198.0"/><use href="#ng" x="315.6" y="212.5"/><use href="#ng" x="99.2" y="217.5"/><use href="#ng" x="306.2" y="228.2"/><use href="#ng" x="408.8" y="231.2"/><use href="#ng" x="104.5" y="264.2"/><use href="#ng" x="266.2" y="265.0"/><use href="#ng" x="18.8" y="266.2"/><use href="#ng" x="415.0" y="268.8"/><use href="#ng" x="53.8" y="276.2"/><use href="#ng" x="140.8" y="285.2"/><use href="#ng" x="64.6" y="286.0"/><use href="#ng" x="82.0" y="286.0"/><use href="#ng" x="323.0" y="298.2"/><use href="#ng" x="171.2" y="305.8"/><use href="#ng" x="303.0" y="311.2"/><use href="#ng" x="288.8" y="318.8"/><use href="#ng" x="186.2" y="320.0"/><use href="#ng" x="221.2" y="324.0"/><use href="#ng" x="103.8" y="332.5"/><use href="#ng" x="322.9" y="337.9"/><use href="#ng" x="111.2" y="342.5"/><use href="#ng" x="205.5" y="358.5"/><use href="#ng" x="93.0" y="360.5"/><use href="#ng" x="385.0" y="370.8"/><use href="#ng" x="139.2" y="373.8"/><use href="#ng" x="293.2" y="385.8"/><use href="#ng" x="117.5" y="387.5"/><use href="#ng" x="311.8" y="393.8"/><use href="#ng" x="159.5" y="400.8"/><use href="#ng" x="227.2" y="413.8"/><use href="#ng" x="209.0" y="424.0"/><use href="#ng" x="188.8" y="435.4"/><use href="#ng" x="228.0" y="537.8"/><use href="#nG" x="270.0" y="153.0"/><use href="#nG" x="161.0" y="166.8"/><use href="#nG" x="278.0" y="167.5"/><use href="#nG" x="292.5" y="183.8"/><use href="#nG" x="155.5" y="192.7"/><use href="#nG" x="284.5" y="212.3"/><use href="#nG" x="79.5" y="228.0"/><use href="#nG" x="244.5" y="230.4"/><use href="#nG" x="171.8" y="244.5"/><use href="#nG" x="365.8" y="259.5"/><use href="#nG" x="387.5" y="264.5"/><use href="#nG" x="89.2" y="268.0"/><use href="#nG" x="242.5" y="291.0"/><use href="#nG" x="102.5" y="322.5"/><use href="#nG" x="272.5" y="333.5"/><use href="#nG" x="156.2" y="348.8"/><use href="#nG" x="184.2" y="350.5"/><use href="#nG" x="263.8" y="361.2"/><use href="#nG" x="253.0" y="373.8"/><use href="#nG" x="224.2" y="390.0"/><use href="#nG" x="360.8" y="404.5"/><use href="#nG" x="258.8" y="406.2"/><use href="#nG" x="327.5" y="412.5"/><use href="#nG" x="128.8" y="420.0"/><use href="#nG" x="256.8" y="422.0"/><use href="#nG" x="155.5" y="425.0"/><use href="#nG" x="350.6" y="465.2"/><use href="#nG" x="152.2" y="465.8"/><use href="#nc" x="264.8" y="59.0"/><use href="#nc" x="171.5" y="105.0"/><use href="#nc" x="260.1" y="107.4"/><use href="#nc" x="272.5" y="133.8"/><use href="#nc" x="258.8" y="135.5"/><use href="#nc" x="231.6" y="140.9"/><use href="#nc" x="314.5" y="158.8"/><use href="#nc" x="212.6" y="160.0"/><use href="#nc" x="111.3" y="169.8"/><use href="#nc" x="265.0" y="178.8"/><use href="#nc" x="316.2" y="200.0"/><use href="#nc" x="255.0" y="216.8"/><use href="#nc" x="151.2" y="224.5"/><use href="#nc" x="351.2" y="229.5"/><use href="#nc" x="95.0" y="235.0"/><use href="#nc" x="97.5" y="245.0"/><use href="#nc" x="344.5" y="245.0"/><use href="#nc" x="152.0" y="245.8"/><use href="#nc" x="62.5" y="248.8"/><use href="#nc" x="207.0" y="251.5"/><use href="#nc" x="138.2" y="264.5"/><use href="#nc" x="193.8" y="274.5"/><use href="#nc" x="151.8" y="279.2"/><use href="#nc" x="187.5" y="300.0"/><use href="#nc" x="197.3" y="301.5"/><use href="#nc" x="63.8" y="328.8"/><use href="#nc" x="372.5" y="329.4"/><use href="#nc" x="197.5" y="330.0"/><use href="#nc" x="238.0" y="330.0"/><use href="#nc" x="361.2" y="333.0"/><use href="#nc" x="293.8" y="334.4"/><use href="#nc" x="123.0" y="340.0"/><use href="#nc" x="215.5" y="345.0"/><use href="#nc" x="62.5" y="362.5"/><use href="#nc" x="337.5" y="363.0"/><use href="#nc" x="116.2" y="367.5"/><use href="#nc" x="279.5" y="377.5"/><use href="#nc" x="335.8" y="383.8"/><use href="#nc" x="192.5" y="402.5"/><use href="#nc" x="278.2" y="405.0"/><use href="#nc" x="239.0" y="406.2"/><use href="#nc" x="180.0" y="429.4"/><use href="#nc" x="286.0" y="456.0"/><use href="#nc" x="193.8" y="458.2"/><use href="#nc" x="197.2" y="484.5"/><use href="#nb" x="188.6" y="143.0"/><use href="#nb" x="389.2" y="147.0"/><use href="#nb" x="198.1" y="160.0"/><use href="#nb" x="333.2" y="175.8"/><use href="#nb" x="135.8" y="179.7"/><use href="#nb" x="280.0" y="182.5"/><use href="#nb" x="337.5" y="195.0"/><use href="#nb" x="266.8" y="195.5"/><use href="#nb" x="180.0" y="229.0"/><use href="#nb" x="286.2" y="229.5"/><use href="#nb" x="255.5" y="245.8"/><use href="#nb" x="112.5" y="248.0"/><use href="#nb" x="270.0" y="252.5"/><use href="#nb" x="126.8" y="265.0"/><use href="#nb" x="173.2" y="266.2"/><use href="#nb" x="208.8" y="270.6"/><use href="#nb" x="366.2" y="278.8"/><use href="#nb" x="203.8" y="293.8"/><use href="#nb" x="277.5" y="300.8"/><use href="#nb" x="155.0" y="304.5"/><use href="#nb" x="175.0" y="316.2"/><use href="#nb" x="157.0" y="318.8"/><use href="#nb" x="170.8" y="340.0"/><use href="#nb" x="414.2" y="351.2"/><use href="#nb" x="252.5" y="352.5"/><use href="#nb" x="15.5" y="355.0"/><use href="#nb" x="327.0" y="357.5"/><use href="#nb" x="253.0" y="363.8"/><use href="#nb" x="174.2" y="381.8"/><use href="#nb" x="237.0" y="387.0"/><use href="#nb" x="162.3" y="404.2"/><use href="#nb" x="100.0" y="408.8"/><use href="#nb" x="335.0" y="410.8"/><use href="#nb" x="243.8" y="416.0"/><use href="#nb" x="266.2" y="452.2"/><use href="#np" x="137.3" y="96.0"/><use href="#np" x="246.2" y="97.7"/><use href="#np" x="111.4" y="133.6"/><use href="#np" x="223.0" y="140.0"/><use href="#np" x="198.6" y="143.5"/><use href="#np" x="210.5" y="149.4"/><use href="#np" x="37.1" y="155.6"/><use href="#np" x="245.5" y="168.8"/><use href="#np" x="137.2" y="168.9"/><use href="#np" x="238.2" y="186.2"/><use href="#np" x="220.0" y="186.8"/><use href="#np" x="386.2" y="187.5"/><use href="#np" x="306.6" y="190.0"/><use href="#np" x="210.7" y="196.3"/><use href="#np" x="241.2" y="201.2"/><use href="#np" x="325.3" y="208.4"/><use href="#np" x="339.2" y="212.5"/><use href="#np" x="222.5" y="213.5"/><use href="#np" x="46.8" y="216.2"/><use href="#np" x="160.0" y="221.6"/><use href="#np" x="321.8" y="225.0"/><use href="#np" x="270.0" y="231.2"/><use href="#np" x="226.2" y="232.8"/><use href="#np" x="316.2" y="235.0"/><use href="#np" x="65.8" y="243.0"/><use href="#np" x="228.2" y="246.0"/><use href="#np" x="337.5" y="260.0"/><use href="#np" x="191.8" y="262.0"/><use href="#np" x="304.2" y="267.5"/><use href="#np" x="348.2" y="271.2"/><use href="#np" x="335.0" y="280.0"/><use href="#np" x="376.8" y="282.0"/><use href="#np" x="195.8" y="283.8"/><use href="#np" x="313.8" y="283.8"/><use href="#np" x="260.5" y="288.8"/><use href="#np" x="123.2" y="290.8"/><use href="#np" x="228.2" y="291.2"/><use href="#np" x="349.2" y="297.5"/><use href="#np" x="288.8" y="299.2"/><use href="#np" x="63.0" y="305.8"/><use href="#np" x="229.2" y="309.0"/><use href="#np" x="213.8" y="312.7"/><use href="#np" x="53.8" y="315.8"/><use href="#np" x="265.0" y="324.6"/><use href="#np" x="331.2" y="329.6"/><use href="#np" x="340.0" y="330.0"/><use href="#np" x="91.2" y="331.8"/><use href="#np" x="161.2" y="337.5"/><use href="#np" x="238.8" y="340.0"/><use href="#np" x="52.5" y="340.8"/><use href="#np" x="184.2" y="345.0"/><use href="#np" x="297.5" y="345.0"/><use href="#np" x="143.8" y="351.2"/><use href="#np" x="127.5" y="352.5"/><use href="#np" x="315.8" y="366.2"/><use href="#np" x="151.2" y="375.8"/><use href="#np" x="315.8" y="376.2"/><use href="#np" x="164.2" y="388.2"/><use href="#np" x="365.0" y="395.8"/><use href="#np" x="321.8" y="404.5"/><use href="#np" x="302.5" y="414.5"/><use href="#np" x="161.0" y="421.5"/><use href="#np" x="325.0" y="433.5"/><use href="#np" x="275.0" y="437.5"/><use href="#np" x="207.2" y="439.8"/><use href="#np" x="265.8" y="464.5"/><use href="#nD" x="32.5" y="253.0"/>
</g>
<g id="labels">
<text class="lb" x="71.2" y="199.3">FOLH1</text><text class="lb" x="298.0" y="127.3">CNR1</text><text class="lb" x="251.2" y="138.6">MGLL</text><text class="lb" x="354.4" y="151.0">ERBB2</text><text class="lb" x="154.4" y="168.6">SYK</text><text class="lb" x="211.6" y="180.2">TNFRSF1A</text><text class="lb" x="118.7" y="197.3">PTPN11</text><text class="lb" x="260.0" y="200.0">MAP2K2</text><text class="lb" x="390.7" y="239.8">SRD5A1</text><text class="lb" x="329.2" y="253.0">CYP19A1</text><text class="lb" x="162.4" y="283.6">SLC6A2</text><text class="lb" x="365.0" y="286.8">SCN5A</text><text class="lb" x="252.4" y="294.8">TP53</text><text class="lb" x="142.4" y="312.3">TERT</text><text class="lb" x="353.4" y="327.6">RPS6</text><text class="lb" x="206.2" y="346.0">HSP90AB1</text><text class="lb" x="69.4" y="378.6">KDM1A</text><text class="lb" x="131.2" y="388.2">VDR</text><text class="lb" x="311.2" y="391.8">FASN</text><text class="lb" x="64.4" y="396.4">KDM4C</text><text class="lb" x="217.7" y="403.0">SRD5A2</text><text class="lb" x="114.2" y="136.8">FLT1</text><text class="lb" x="98.7" y="196.8">BCL2</text><text class="lb" x="373.0" y="221.8">SLC6A3</text><text class="lb" x="133.0" y="225.6">FLT4</text><text class="lb" x="211.2" y="227.3">MTOR</text><text class="lb" x="215.0" y="229.8">HSP90AA1</text><text class="lb" x="323.0" y="307.3">VCAM1</text><text class="lb" x="355.4" y="357.3">IL13</text><text class="lb" x="171.2" y="374.8">LYN</text><text class="lb" x="217.7" y="107.5">COMT</text><text class="lb" x="247.0" y="125.0">MET</text><text class="lb" x="188.9" y="126.3">TBXAS1</text><text class="lb" x="236.8" y="159.2">CCL2</text><text class="lb" x="274.9" y="160.4">PRKACA</text><text class="lb" x="359.2" y="162.3">FABP4</text><text class="lb" x="197.4" y="179.2">DGAT1</text><text class="lb" x="91.7" y="179.4">FYN</text><text class="lb" x="133.7" y="195.1">PPARG</text><text class="lb" x="253.7" y="206.1">BIRC5</text><text class="lb" x="143.2" y="217.3">CA12</text><text class="lb" x="163.7" y="234.3">CYP1A1</text><text class="lb" x="271.7" y="243.6">PRKCA</text><text class="lb" x="133.0" y="244.0">KEAP1</text><text class="lb" x="299.2" y="244.8">MMP12</text><text class="lb" x="75.7" y="252.3">PDE10A</text><text class="lb" x="121.2" y="266.0">GCK</text><text class="lb" x="289.4" y="267.8">TOP1</text><text class="lb" x="168.7" y="273.6">PLAU</text><text class="lb" x="242.4" y="274.8">EGFR</text><text class="lb" x="333.0" y="281.0">XDH</text><text class="lb" x="208.7" y="312.3">PDGFRA</text><text class="lb" x="85.4" y="339.8">ADRB1</text><text class="lb" x="138.7" y="354.8">SLC5A2</text><text class="lb" x="100.7" y="374.0">ADRA2B</text><text class="lb" x="280.4" y="388.0">SELP</text><text class="lb" x="359.2" y="395.3">PDPK1</text><text class="lb" x="95.4" y="409.8">PDCD1</text><text class="lb" x="240.0" y="416.3">HTR7</text><text class="lb" x="321.4" y="446.4">FABP3</text><text class="lb" x="306.1" y="86.6">IDO1</text><text class="lb" x="225.8" y="100.6">CALCR</text><text class="lb" x="173.8" y="112.8">NR3C2</text><text class="lb" x="306.2" y="150.8">PIK3CB</text><text class="lb" x="348.0" y="176.0">HDAC6</text><text class="lb" x="107.4" y="177.4">ADRB2</text><text class="lb" x="168.7" y="178.6">NQO1</text><text class="lb" x="243.7" y="231.0">APP</text><text class="lb" x="285.0" y="232.3">ADRA1A</text><text class="lb" x="361.2" y="238.6">CTLA4</text><text class="lb" x="191.2" y="239.8">AKT1</text><text class="lb" x="315.4" y="247.3">DRD2</text><text class="lb" x="227.4" y="286.0">MAPK1</text><text class="lb" x="102.4" y="297.3">FAAH</text><text class="lb" x="112.4" y="297.8">CTSL</text><text class="lb" x="342.4" y="302.8">SLC2A1</text><text class="lb" x="128.7" y="319.8">CYP1B1</text><text class="lb" x="407.2" y="327.5">ADH1C</text><text class="lb" x="387.0" y="345.3">KAT2B</text><text class="lb" x="220.1" y="354.8">ADRB3</text><text class="lb" x="366.7" y="361.0">CYP1A2</text><text class="lb" x="257.4" y="379.8">IL4</text><text class="lb" x="153.7" y="380.6">KCNH2</text><text class="lb" x="217.7" y="381.0">MDM2</text><text class="lb" x="320.0" y="424.2">TGFBR1</text><text class="lb" x="250.0" y="452.6">HSD17B1</text><text class="lb" x="292.4" y="153.0">KDR</text><text class="lb" x="295.4" y="166.0">ERBB4</text><text class="lb" x="265.0" y="171.0">HSD17B2</text><text class="lb" x="228.9" y="173.2">ABCG2</text><text class="lb" x="327.0" y="178.0">HMOX1</text><text class="lb" x="20.6" y="182.8">TTL</text><text class="lb" x="166.2" y="194.5">HTR2C</text><text class="lb" x="208.7" y="195.7">NPC1L1</text><text class="lb" x="272.4" y="198.6">SCD</text><text class="lb" x="180.0" y="217.3">ACACA</text><text class="lb" x="118.0" y="223.6">HTR1B</text><text class="lb" x="153.7" y="260.3">AURKA</text><text class="lb" x="252.4" y="264.3">CASP3</text><text class="lb" x="190.0" y="280.4">MYC</text><text class="lb" x="221.4" y="282.0">SRC</text><text class="lb" x="119.7" y="290.2">CAMK2A</text><text class="lb" x="92.0" y="296.0">ABL1</text><text class="lb" x="186.0" y="296.0">EPAS1</text><text class="lb" x="415.0" y="301.8">STS</text><text class="lb" x="124.4" y="305.6">ALK</text><text class="lb" x="77.4" y="316.0">CASP1</text><text class="lb" x="332.4" y="317.3">NR3C1</text><text class="lb" x="265.0" y="321.0">TRPV1</text><text class="lb" x="174.2" y="323.5">AKR1B1</text><text class="lb" x="155.7" y="327.3">TOP2A</text><text class="lb" x="123.7" y="328.6">DRD1</text><text class="lb" x="277.4" y="337.3">CDK4</text><text class="lb" x="397.0" y="346.0">RARA</text><text class="lb" x="105.0" y="349.8">HRH3</text><text class="lb" x="231.2" y="354.8">CDK1</text><text class="lb" x="126.2" y="357.3">DRD3</text><text class="lb" x="30.0" y="369.8">POLG</text><text class="lb" x="310.0" y="378.0">TYK2</text><text class="lb" x="182.0" y="389.3">SCN2A</text><text class="lb" x="268.2" y="390.6">MMP8</text><text class="lb" x="187.4" y="395.2">PTEN</text><text class="lb" x="389.2" y="415.8">ABCC4</text><text class="lb" x="117.4" y="420.6">ZAP70</text><text class="lb" x="175.0" y="434.6">HTR2A</text><text class="lb" x="135.7" y="441.0">AURKB</text><text class="lb" x="98.0" y="447.3">POLA1</text><text class="lb" x="232.2" y="451.6">CREBBP</text><text class="lb" x="306.0" y="18.9">SLC37A4</text><text class="lb" x="224.8" y="122.3">NOS2</text><text class="lb" x="358.0" y="127.3">TAS2R</text><text class="lb" x="123.5" y="127.8">LPL</text><text class="lb" x="166.0" y="132.0">IGFBP3</text><text class="lb" x="139.0" y="137.4">FGFR3</text><text class="lb" x="257.0" y="142.3">RPS6KB1</text><text class="lb" x="303.2" y="142.3">FLT3</text><text class="lb" x="187.3" y="169.6">SOD1</text><text class="lb" x="205.7" y="171.0">FGFR1</text><text class="lb" x="315.4" y="171.0">WNT3A</text><text class="lb" x="363.0" y="192.3">HDAC1</text><text class="lb" x="190.8" y="192.8">PRKCQ</text><text class="lb" x="321.8" y="207.3">CACNA1C</text><text class="lb" x="105.4" y="212.3">MAP2K1</text><text class="lb" x="312.4" y="223.0">AKR1C3</text><text class="lb" x="415.0" y="226.0">KCNK2</text><text class="lb" x="110.7" y="259.0">MAPK8</text><text class="lb" x="272.4" y="259.8">NTRK1</text><text class="lb" x="25.0" y="261.0">CTSK</text><text class="lb" x="421.2" y="263.6">CBR1</text><text class="lb" x="60.0" y="271.0">CTSD</text><text class="lb" x="147.0" y="280.0">F10</text><text class="lb" x="70.8" y="280.8">CASP7</text><text class="lb" x="88.2" y="280.8">DAGLA</text><text class="lb" x="329.2" y="293.0">NR1H3</text><text class="lb" x="177.4" y="300.6">PDE5A</text><text class="lb" x="309.2" y="306.0">ADORA1</text><text class="lb" x="295.0" y="313.6">PIK3CD</text><text class="lb" x="192.4" y="314.8">ADORA2B</text><text class="lb" x="227.4" y="318.8">FABP5</text><text class="lb" x="110.0" y="327.3">RARB</text><text class="lb" x="329.1" y="332.7">PPP3CA</text><text class="lb" x="117.4" y="337.3">KRAS</text><text class="lb" x="211.7" y="353.3">CDH1</text><text class="lb" x="99.2" y="355.3">HIF1A</text><text class="lb" x="391.2" y="365.6">ALDH3A1</text><text class="lb" x="145.4" y="368.6">CTSB</text><text class="lb" x="299.4" y="380.6">P2RX7</text><text class="lb" x="123.7" y="382.3">HSPA5</text><text class="lb" x="318.0" y="388.6">SIRT1</text><text class="lb" x="165.7" y="395.6">GABRA1</text><text class="lb" x="233.4" y="408.6">TGFBR2</text><text class="lb" x="215.2" y="418.8">CA2</text><text class="lb" x="195.0" y="430.2">CCR5</text><text class="lb" x="234.2" y="532.6">SLC16A1</text><text class="lb" x="276.2" y="147.8">OPRK1</text><text class="lb" x="167.2" y="161.6">MMP14</text><text class="lb" x="284.2" y="162.3">BTK</text><text class="lb" x="298.7" y="178.6">MMP7</text><text class="lb" x="161.7" y="187.5">PLK1</text><text class="lb" x="290.7" y="207.1">CETP</text><text class="lb" x="85.7" y="222.8">RXRA</text><text class="lb" x="250.7" y="225.2">RELA</text><text class="lb" x="178.0" y="239.3">BCL2L1</text><text class="lb" x="372.0" y="254.3">CASP9</text><text class="lb" x="393.7" y="259.3">MAOB</text><text class="lb" x="95.4" y="262.8">PARP1</text><text class="lb" x="248.7" y="285.8">ESR1</text><text class="lb" x="108.7" y="317.3">GPX1</text><text class="lb" x="278.7" y="328.3">AGTR1</text><text class="lb" x="162.4" y="343.6">SLC6A4</text><text class="lb" x="190.4" y="345.3">AR</text><text class="lb" x="270.0" y="356.0">HK2</text><text class="lb" x="259.2" y="368.6">LCK</text><text class="lb" x="230.4" y="384.8">ABCC1</text><text class="lb" x="367.0" y="399.3">MPO</text><text class="lb" x="265.0" y="401.0">ACHE</text><text class="lb" x="333.7" y="407.3">IGF1R</text><text class="lb" x="135.0" y="414.8">BRD4</text><text class="lb" x="263.0" y="416.8">SOAT2</text><text class="lb" x="161.7" y="419.8">PTPN1</text><text class="lb" x="356.8" y="460.0">SLC22A12</text><text class="lb" x="158.4" y="460.6">DTYMK</text><text class="lb" x="271.0" y="53.8">PAM</text><text class="lb" x="177.7" y="99.8">BACE1</text><text class="lb" x="266.3" y="102.2">HTR6</text><text class="lb" x="278.7" y="128.6">F2</text><text class="lb" x="265.0" y="130.3">RAF1</text><text class="lb" x="237.8" y="135.7">MAPK9</text><text class="lb" x="320.7" y="153.6">SERPINE1</text><text class="lb" x="218.8" y="154.8">TLR9</text><text class="lb" x="117.5" y="164.6">GSK3A</text><text class="lb" x="271.2" y="173.6">IL10</text><text class="lb" x="322.4" y="194.8">ARG1</text><text class="lb" x="261.2" y="211.6">OPRD1</text><text class="lb" x="157.4" y="219.3">LCAT</text><text class="lb" x="357.4" y="224.3">BCHE</text><text class="lb" x="101.2" y="229.8">ESR2</text><text class="lb" x="103.7" y="239.8">CDK2</text><text class="lb" x="350.7" y="239.8">ADORA3</text><text class="lb" x="158.2" y="240.6">DNMT1</text><text class="lb" x="68.7" y="243.6">HTR2B</text><text class="lb" x="213.2" y="246.3">MAPK3</text><text class="lb" x="144.4" y="259.3">HRH1</text><text class="lb" x="200.0" y="269.3">MMP9</text><text class="lb" x="158.0" y="274.0">HMGCR</text><text class="lb" x="193.7" y="294.8">MMP2</text><text class="lb" x="203.5" y="296.3">JUN</text><text class="lb" x="70.0" y="323.6">HDAC8</text><text class="lb" x="378.7" y="324.2">NOS1</text><text class="lb" x="203.7" y="324.8">BRAF</text><text class="lb" x="244.2" y="324.8">SMO</text><text class="lb" x="367.4" y="327.8">NR1I2</text><text class="lb" x="300.0" y="329.2">CTNNB1</text><text class="lb" x="129.2" y="334.8">CDK6</text><text class="lb" x="221.7" y="339.8">NRAS</text><text class="lb" x="68.7" y="357.3">PLG</text><text class="lb" x="343.7" y="357.8">GSTP1</text><text class="lb" x="122.4" y="362.3">HSD11B1</text><text class="lb" x="285.7" y="372.3">EEF2</text><text class="lb" x="342.0" y="378.6">SELE</text><text class="lb" x="198.7" y="397.3">STING1</text><text class="lb" x="284.4" y="399.8">ALDH2</text><text class="lb" x="245.2" y="401.0">TIMP1</text><text class="lb" x="186.2" y="424.2">ALOX5</text><text class="lb" x="292.2" y="450.8">NMT1</text><text class="lb" x="200.0" y="453.0">ACP1</text><text class="lb" x="203.4" y="479.3">IMPDH2</text><text class="lb" x="194.8" y="137.8">TRPA1</text><text class="lb" x="395.4" y="141.8">GPR35</text><text class="lb" x="204.3" y="154.8">PDGFRB</text><text class="lb" x="339.4" y="170.6">GRIA2</text><text class="lb" x="142.0" y="174.5">GSTM1</text><text class="lb" x="286.2" y="177.3">LDLR</text><text class="lb" x="343.7" y="189.8">F3</text><text class="lb" x="273.0" y="190.3">NR1H4</text><text class="lb" x="186.2" y="223.8">EIF4E</text><text class="lb" x="292.4" y="224.3">HDAC2</text><text class="lb" x="261.7" y="240.6">IL2</text><text class="lb" x="118.7" y="242.8">PCSK9</text><text class="lb" x="276.2" y="247.3">CA9</text><text class="lb" x="133.0" y="259.8">NOS3</text><text class="lb" x="179.4" y="261.0">LGALS3</text><text class="lb" x="215.0" y="265.4">IL6</text><text class="lb" x="372.4" y="273.6">CALM1</text><text class="lb" x="210.0" y="288.6">EP300</text><text class="lb" x="283.7" y="295.6">PDE4D</text><text class="lb" x="161.2" y="299.3">PLA2G2A</text><text class="lb" x="181.2" y="311.0">CTSS</text><text class="lb" x="163.2" y="313.6">GAPDH</text><text class="lb" x="177.0" y="334.8">ADORA2A</text><text class="lb" x="420.4" y="346.0">SOAT1</text><text class="lb" x="258.7" y="347.3">CD274</text><text class="lb" x="21.7" y="349.8">EIF4H</text><text class="lb" x="333.2" y="352.3">ICAM1</text><text class="lb" x="259.2" y="358.6">AHR</text><text class="lb" x="180.4" y="376.6">PTK2</text><text class="lb" x="243.2" y="381.8">MAPK14</text><text class="lb" x="168.5" y="399.0">CHRM5</text><text class="lb" x="106.2" y="403.6">PRKDC</text><text class="lb" x="341.2" y="405.6">ELANE</text><text class="lb" x="250.0" y="410.8">PIK3R1</text><text class="lb" x="272.4" y="447.0">SOD2</text><text class="lb" x="143.5" y="90.8">PDE4B</text><text class="lb" x="252.4" y="92.5">HRH2</text><text class="lb" x="117.6" y="128.4">CYP2C19</text><text class="lb" x="229.2" y="134.8">P2RY12</text><text class="lb" x="204.8" y="138.3">HCK</text><text class="lb" x="216.7" y="144.2">CYP3A4</text><text class="lb" x="43.3" y="150.4">CAT</text><text class="lb" x="251.7" y="163.6">PTK2B</text><text class="lb" x="143.4" y="163.7">XIAP</text><text class="lb" x="244.4" y="181.0">HTR1A</text><text class="lb" x="226.2" y="181.6">ADRA1B</text><text class="lb" x="392.4" y="182.3">SCN9A</text><text class="lb" x="312.8" y="184.8">CNR2</text><text class="lb" x="216.9" y="191.1">CYP2D6</text><text class="lb" x="247.4" y="196.0">NOTCH1</text><text class="lb" x="331.5" y="203.2">CHUK</text><text class="lb" x="345.4" y="207.3">APOB</text><text class="lb" x="228.7" y="208.3">STAT3</text><text class="lb" x="53.0" y="211.0">HNMT</text><text class="lb" x="166.2" y="216.4">DRD4</text><text class="lb" x="328.0" y="219.8">OPRM1</text><text class="lb" x="276.2" y="226.0">RET</text><text class="lb" x="232.4" y="227.6">EGF</text><text class="lb" x="322.4" y="229.8">JAK3</text><text class="lb" x="72.0" y="237.8">CHEK1</text><text class="lb" x="234.4" y="240.8">TNF</text><text class="lb" x="343.7" y="254.8">MYD88</text><text class="lb" x="198.0" y="256.8">CCND1</text><text class="lb" x="310.4" y="262.3">PPARA</text><text class="lb" x="354.4" y="266.0">CHRNA7</text><text class="lb" x="341.2" y="274.8">CHRM2</text><text class="lb" x="383.0" y="276.8">G6PD</text><text class="lb" x="202.0" y="278.6">PIK3CA</text><text class="lb" x="320.0" y="278.6">TUBB</text><text class="lb" x="266.7" y="283.6">CXCL8</text><text class="lb" x="129.4" y="285.6">HTR3A</text><text class="lb" x="234.4" y="286.0">PTGS2</text><text class="lb" x="355.4" y="292.3">PTGS1</text><text class="lb" x="295.0" y="294.0">ADRA2A</text><text class="lb" x="69.2" y="300.6">CHRM1</text><text class="lb" x="235.4" y="303.8">VEGFA</text><text class="lb" x="220.0" y="307.5">IL1B</text><text class="lb" x="60.0" y="310.6">MAPK10</text><text class="lb" x="271.2" y="319.4">CASP8</text><text class="lb" x="337.4" y="324.4">BAX</text><text class="lb" x="346.2" y="324.8">MCL1</text><text class="lb" x="97.4" y="326.6">CXCR4</text><text class="lb" x="167.4" y="332.3">MMP3</text><text class="lb" x="245.0" y="334.8">TBK1</text><text class="lb" x="58.7" y="335.6">PDE3A</text><text class="lb" x="190.4" y="339.8">PGR</text><text class="lb" x="303.7" y="339.8">HSPA8</text><text class="lb" x="150.0" y="346.0">VIM</text><text class="lb" x="133.7" y="347.3">MMP13</text><text class="lb" x="322.0" y="361.0">CCNA2</text><text class="lb" x="157.4" y="370.6">CGAS</text><text class="lb" x="322.0" y="371.0">THBD</text><text class="lb" x="170.4" y="383.0">GRM5</text><text class="lb" x="371.2" y="390.6">CES2</text><text class="lb" x="328.0" y="399.3">PRKCE</text><text class="lb" x="308.7" y="409.3">SNAI1</text><text class="lb" x="167.2" y="416.3">NLRP3</text><text class="lb" x="331.2" y="428.3">ST6GAL1</text><text class="lb" x="281.2" y="432.3">TGFB1</text><text class="lb" x="213.4" y="434.6">PPARD</text><text class="lb" x="272.0" y="459.3">ABCB1</text><text class="lb" x="38.7" y="247.8">ERN1</text>
</g>
<text class="panel" x="3.3" y="15.6" textLength="10.7" lengthAdjust="spacingAndGlyphs">A</text>
</g>
<g id="panelB">
<text class="panel" x="462.0" y="15.5" textLength="9.1" lengthAdjust="spacingAndGlyphs">B</text>
<rect x="569.80" y="7.00" width="171.28" height="21.20" fill="#00fc00" stroke="#000" stroke-width="1.1"/><text class="cat" x="558.9" y="21.40" textLength="23.0" lengthAdjust="spacingAndGlyphs">IL2</text><text class="val" x="724.68" y="22.40" textLength="19.0" lengthAdjust="spacingAndGlyphs">82</text>
<rect x="569.80" y="32.66" width="173.38" height="21.20" fill="#00fc00" stroke="#000" stroke-width="1.1"/><text class="cat" x="557.6" y="47.17" textLength="38.9" lengthAdjust="spacingAndGlyphs">RELA</text><text class="val" x="727.08" y="48.06" textLength="19.0" lengthAdjust="spacingAndGlyphs">83</text>
<rect x="569.80" y="58.32" width="179.69" height="21.20" fill="#00fc00" stroke="#000" stroke-width="1.1"/><text class="cat" x="557.2" y="72.95" textLength="48.2" lengthAdjust="spacingAndGlyphs">EP300</text><text class="val" x="734.89" y="73.72" textLength="19.0" lengthAdjust="spacingAndGlyphs">86</text>
<rect x="569.80" y="83.98" width="198.59" height="21.20" fill="#00fc00" stroke="#000" stroke-width="1.1"/><text class="cat" x="557.2" y="98.73" textLength="38.3" lengthAdjust="spacingAndGlyphs">ESR1</text><text class="val" x="753.10" y="99.38" textLength="19.0" lengthAdjust="spacingAndGlyphs">95</text>
<rect x="569.80" y="109.64" width="204.90" height="21.20" fill="#00fc00" stroke="#000" stroke-width="1.1"/><text class="cat" x="557.6" y="124.50" textLength="55.3" lengthAdjust="spacingAndGlyphs">PIK3CA</text><text class="val" x="759.40" y="125.04" textLength="19.0" lengthAdjust="spacingAndGlyphs">98</text>
<rect x="569.80" y="135.30" width="204.90" height="21.20" fill="#00fc00" stroke="#000" stroke-width="1.1"/><text class="cat" x="557.6" y="150.28" textLength="48.6" lengthAdjust="spacingAndGlyphs">MTOR</text><text class="val" x="759.40" y="150.70" textLength="19.0" lengthAdjust="spacingAndGlyphs">98</text>
<rect x="569.80" y="160.96" width="204.90" height="21.20" fill="#00fc00" stroke="#000" stroke-width="1.1"/><text class="cat" x="557.2" y="176.05" textLength="52.0" lengthAdjust="spacingAndGlyphs">MMP9</text><text class="val" x="759.40" y="176.36" textLength="19.0" lengthAdjust="spacingAndGlyphs">98</text>
<rect x="569.80" y="186.62" width="207.00" height="21.20" fill="#00fc00" stroke="#000" stroke-width="1.1"/><text class="cat" x="557.2" y="201.83" textLength="53.9" lengthAdjust="spacingAndGlyphs">CCND1</text><text class="val" x="761.00" y="202.02" textLength="19.0" lengthAdjust="spacingAndGlyphs">99</text>
<rect x="569.80" y="212.28" width="217.50" height="21.20" fill="#00fc00" stroke="#000" stroke-width="1.1"/><text class="cat" x="557.6" y="227.60" textLength="31.1" lengthAdjust="spacingAndGlyphs">APP</text><text class="val" x="772.90" y="227.68" textLength="28.5" lengthAdjust="spacingAndGlyphs">104</text>
<rect x="569.80" y="237.94" width="225.91" height="21.20" fill="#00fc00" stroke="#000" stroke-width="1.1"/><text class="cat" x="554.4" y="253.38" textLength="82.2" lengthAdjust="spacingAndGlyphs">HSP90AA1</text><text class="val" x="781.11" y="253.34" textLength="28.5" lengthAdjust="spacingAndGlyphs">108</text>
<rect x="569.80" y="263.60" width="230.11" height="21.20" fill="#00fc00" stroke="#000" stroke-width="1.1"/><text class="cat" x="557.2" y="279.15" textLength="56.6" lengthAdjust="spacingAndGlyphs">MAPK8</text><text class="val" x="785.31" y="279.00" textLength="28.5" lengthAdjust="spacingAndGlyphs">110</text>
<rect x="569.80" y="289.26" width="232.21" height="21.20" fill="#00fc00" stroke="#000" stroke-width="1.1"/><text class="cat" x="557.2" y="304.92" textLength="49.6" lengthAdjust="spacingAndGlyphs">PTGS2</text><text class="val" x="787.41" y="304.66" textLength="28.5" lengthAdjust="spacingAndGlyphs">111</text>
<rect x="569.80" y="314.92" width="257.42" height="21.20" fill="#00fc00" stroke="#000" stroke-width="1.1"/><text class="cat" x="557.6" y="330.70" textLength="30.5" lengthAdjust="spacingAndGlyphs">EGF</text><text class="val" x="813.12" y="330.32" textLength="28.5" lengthAdjust="spacingAndGlyphs">123</text>
<rect x="569.80" y="340.58" width="265.83" height="21.20" fill="#00fc00" stroke="#000" stroke-width="1.1"/><text class="cat" x="557.2" y="356.47" textLength="56.6" lengthAdjust="spacingAndGlyphs">MAPK1</text><text class="val" x="820.53" y="355.98" textLength="28.5" lengthAdjust="spacingAndGlyphs">127</text>
<rect x="569.80" y="366.24" width="270.03" height="21.20" fill="#00fc00" stroke="#000" stroke-width="1.1"/><text class="cat" x="557.2" y="382.25" textLength="49.4" lengthAdjust="spacingAndGlyphs">CASP3</text><text class="val" x="825.43" y="381.64" textLength="28.5" lengthAdjust="spacingAndGlyphs">129</text>
<rect x="569.80" y="391.90" width="280.53" height="21.20" fill="#00fc00" stroke="#000" stroke-width="1.1"/><text class="cat" x="557.6" y="408.02" textLength="29.7" lengthAdjust="spacingAndGlyphs">SRC</text><text class="val" x="836.23" y="407.30" textLength="28.5" lengthAdjust="spacingAndGlyphs">134</text>
<rect x="569.80" y="417.56" width="286.84" height="21.20" fill="#00fc00" stroke="#000" stroke-width="1.1"/><text class="cat" x="557.6" y="433.80" textLength="40.6" lengthAdjust="spacingAndGlyphs">EGFR</text><text class="val" x="842.84" y="432.96" textLength="28.5" lengthAdjust="spacingAndGlyphs">137</text>
<rect x="569.80" y="443.22" width="303.64" height="21.20" fill="#00fc00" stroke="#000" stroke-width="1.1"/><text class="cat" x="557.2" y="459.57" textLength="56.6" lengthAdjust="spacingAndGlyphs">MAPK3</text><text class="val" x="859.84" y="458.62" textLength="28.5" lengthAdjust="spacingAndGlyphs">145</text>
<rect x="569.80" y="468.88" width="309.95" height="21.20" fill="#00fc00" stroke="#000" stroke-width="1.1"/><text class="cat" x="557.6" y="485.35" textLength="30.7" lengthAdjust="spacingAndGlyphs">TNF</text><text class="val" x="862.45" y="484.28" textLength="28.5" lengthAdjust="spacingAndGlyphs">148</text>
<rect x="569.80" y="494.54" width="372.98" height="21.20" fill="#00fc00" stroke="#000" stroke-width="1.1"/><text class="cat" x="558.9" y="510.12" textLength="23.0" lengthAdjust="spacingAndGlyphs">IL6</text><text class="val" x="924.48" y="509.94" textLength="28.5" lengthAdjust="spacingAndGlyphs">178</text>
<path d="M569.30 526.20H990.00" stroke="#3c3c3c" stroke-width="1" fill="none"/>
<path d="M569.30 526.20V534.70" stroke="#3c3c3c" stroke-width="1" fill="none"/><text class="tick" x="567.30" y="555.8" textLength="8.9" lengthAdjust="spacingAndGlyphs">0</text>
<path d="M674.35 526.20V534.70" stroke="#3c3c3c" stroke-width="1" fill="none"/><text class="tick" x="670.95" y="555.8" textLength="18.1" lengthAdjust="spacingAndGlyphs">50</text>
<path d="M779.40 526.20V534.70" stroke="#3c3c3c" stroke-width="1" fill="none"/><text class="tick" x="774.30" y="555.8" textLength="28.3" lengthAdjust="spacingAndGlyphs">100</text>
<path d="M884.45 526.20V534.70" stroke="#3c3c3c" stroke-width="1" fill="none"/><text class="tick" x="879.45" y="555.8" textLength="28.3" lengthAdjust="spacingAndGlyphs">150</text>
<path d="M989.50 526.20V534.70" stroke="#3c3c3c" stroke-width="1" fill="none"/><text class="tick" x="985.00" y="555.8" textLength="28.3" lengthAdjust="spacingAndGlyphs">200</text>
</g>
</svg>
</body></html>
